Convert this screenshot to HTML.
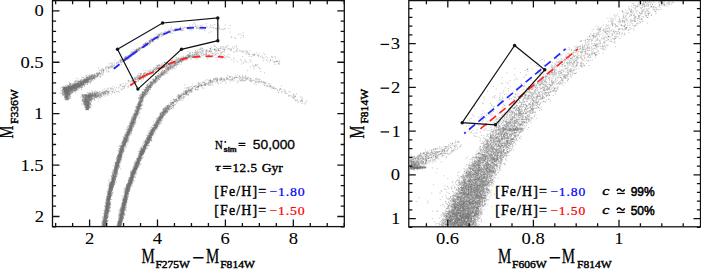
<!DOCTYPE html>
<html><head><meta charset="utf-8"><style>
html,body{margin:0;padding:0;background:#fff;width:701px;height:269px;overflow:hidden;font-family:"Liberation Serif",serif;}
svg{display:block}
</style></head><body>
<svg width="701" height="269" viewBox="0 0 701 269">
<rect width="701" height="269" fill="#fff"/>
<g transform="scale(0.1)">
<path d="M6386 18h10M6432 15h10M6472 16h10M6491 17h10M6492 22h10M6683 17h10M6579 27h10M6609 31h10M6629 27h10M6544 43h10M6643 41h10M6675 36h10M6417 47h10M6590 46h10M6637 53h10M6365 58h10M6507 63h10M6593 56h10M6325 71h10M6350 73h10M6358 68h10M6366 66h10M6440 67h10M6524 72h10M6283 83h10M6405 89h10M6436 92h10M6462 88h10M6367 104h10M6303 107h10M6305 107h10M6363 111h10M6223 116h10M6306 116h10M6414 119h10M6552 117h10M6236 128h10M6486 134h10M6172 143h10M6233 144h10M6268 136h10M6397 136h10M6510 149h10M6343 163h10M6454 155h10M6178 168h10M6277 174h10M6430 170h10M6462 171h10M6471 175h10M6104 178h10M6229 180h10M6475 175h10M6415 192h10M6417 185h10M6189 195h10M6260 198h10M6222 208h10M6347 213h10M6175 217h10M6243 224h10M6121 230h10M6239 229h10M6364 234h10M6468 232h10M1944 239h10M2142 245h10M6296 240h10M6058 248h10M6210 253h10M6323 252h10M6348 251h10M2183 258h10M6224 259h10M6237 263h10M6239 264h10M1708 270h10M1834 270h10M1930 274h10M6150 265h10M6260 274h10M1793 282h10M1831 281h10M1865 278h10M1875 280h10M1959 281h10M2114 279h10M2147 284h10M6250 279h10M6259 276h10M6266 278h10M1796 293h10M1875 286h10M1921 291h10M1991 293h10M2010 289h10M2021 287h10M2184 288h10M2225 293h10M2247 288h10M2283 287h10M5931 293h10M6060 288h10M6178 291h10M6214 289h10M1706 298h10M1796 300h10M1813 303h10M1901 296h10M2161 300h10M2225 298h10M6125 296h10M1641 313h10M1805 305h10M1813 307h10M2038 305h10M6079 310h10M6108 308h10M1671 320h10M6094 319h10M1632 333h10M1656 332h10M1613 340h10M1630 336h10M6135 338h10M6217 337h10M1617 346h10M2379 346h10M5929 356h10M5933 358h10M6052 362h10M1585 366h10M2307 367h10M2428 370h10M5890 365h10M5891 365h10M6076 365h10M6077 366h10M6078 373h10M6162 370h10M1531 383h10M1543 377h10M5930 380h10M6143 385h10M6186 382h10M1531 386h10M1576 389h10M6077 394h10M6140 394h10M1499 399h10M1529 400h10M5808 403h10M5909 399h10M1498 414h10M1501 410h10M1506 412h10M5948 412h10M6036 413h10M1474 424h10M1505 417h10M1450 434h10M1450 433h10M1456 433h10M1485 429h10M1497 435h10M5852 433h10M6042 434h10M1444 443h10M1446 443h10M5879 440h10M5913 439h10M5939 438h10M1439 448h10M1441 461h10M5836 462h10M5934 457h10M5950 458h10M6016 462h10M5782 471h10M5823 473h10M1387 482h10M1412 478h10M2018 483h10M2104 484h10M2195 485h10M2222 480h10M5768 479h10M5799 482h10M6017 484h10M2102 485h10M2125 494h10M2172 486h10M2227 491h10M2243 492h10M2308 490h10M5829 489h10M5848 490h10M5851 493h10M6027 489h10M6032 494h10M1351 498h10M1360 495h10M1367 497h10M1380 499h10M2094 498h10M2142 499h10M2157 499h10M2181 503h10M2298 501h10M2312 504h10M5819 498h10M5906 502h10M1346 505h10M1363 509h10M1371 508h10M1993 513h10M2048 509h10M2087 513h10M2156 513h10M2190 505h10M2434 512h10M5823 515h10M5966 512h10M1339 516h10M1341 518h10M1356 518h10M1979 524h10M2100 520h10M2112 517h10M2170 522h10M2205 522h10M2240 519h10M5813 518h10M1892 530h10M1967 532h10M2006 534h10M2124 534h10M2423 527h10M2477 528h10M5731 529h10M5816 530h10M5926 535h10M6025 532h10M1334 538h10M1896 535h10M1954 537h10M1980 542h10M2026 538h10M2044 541h10M2533 538h10M5683 537h10M5847 535h10M5861 539h10M1297 551h10M1306 548h10M1331 546h10M1344 546h10M1869 551h10M1884 547h10M1907 552h10M1918 548h10M1928 550h10M1945 547h10M2010 549h10M2085 551h10M2085 554h10M2086 545h10M2205 546h10M2233 550h10M2525 550h10M2579 551h10M5655 550h10M5731 550h10M5796 553h10M5836 554h10M5884 547h10M5917 549h10M5956 550h10M1830 561h10M1864 556h10M1881 560h10M2194 558h10M2617 560h10M5738 565h10M5754 559h10M5834 560h10M5875 563h10M1248 574h10M1288 572h10M1851 565h10M1856 573h10M1879 569h10M1885 570h10M1896 571h10M1926 573h10M2216 574h10M2422 565h10M2656 568h10M5762 568h10M5772 567h10M5806 569h10M5949 574h10M1242 584h10M1242 578h10M1247 583h10M1785 578h10M1810 583h10M1834 584h10M1838 576h10M1850 579h10M1854 577h10M1911 582h10M2671 576h10M5707 584h10M5715 580h10M5776 581h10M5808 582h10M1253 587h10M1266 593h10M1766 593h10M1831 586h10M1831 590h10M2203 588h10M5415 595h10M5708 588h10M5760 592h10M5814 585h10M1223 599h10M1225 599h10M1247 604h10M1771 603h10M1805 596h10M1823 602h10M1827 596h10M2494 597h10M2674 602h10M2700 602h10M5764 597h10M5823 605h10M1742 611h10M1749 613h10M1779 614h10M1787 614h10M1787 611h10M1803 606h10M2754 610h10M5396 608h10M5584 610h10M5697 607h10M5709 615h10M1643 624h10M1730 618h10M1777 617h10M1781 616h10M1782 619h10M2475 623h10M2688 619h10M2773 617h10M1101 633h10M1181 625h10M1199 626h10M1680 635h10M1713 631h10M1760 628h10M1810 626h10M2435 626h10M5519 626h10M5574 627h10M5668 629h10M1122 641h10M1703 640h10M1742 642h10M1752 639h10M1768 644h10M2785 643h10M5614 644h10M5667 636h10M1106 654h10M1611 655h10M1688 647h10M1694 655h10M1732 653h10M1737 647h10M2522 653h10M2569 649h10M2744 646h10M5760 650h10M5814 652h10M1570 659h10M1629 662h10M1644 661h10M1661 658h10M1730 656h10M5375 665h10M5518 660h10M5812 662h10M5839 660h10M1095 671h10M1561 675h10M1684 674h10M1686 674h10M1691 668h10M1701 673h10M1721 672h10M1727 672h10M5509 667h10M5535 673h10M5551 670h10M1051 680h10M1053 675h10M1548 684h10M1560 684h10M1565 680h10M1575 685h10M1586 681h10M1593 684h10M1618 683h10M1670 680h10M1676 685h10M1685 680h10M1685 682h10M1701 682h10M5783 683h10M1563 693h10M1577 688h10M1594 693h10M1660 693h10M1701 687h10M2535 688h10M5268 694h10M1028 699h10M1031 705h10M1432 702h10M1505 703h10M1559 695h10M1582 705h10M5525 696h10M5691 698h10M5700 699h10M5735 699h10M1453 706h10M1646 712h10M1661 708h10M5436 709h10M5495 714h10M5592 713h10M5692 710h10M5704 710h10M1496 724h10M1553 719h10M1646 720h10M5274 717h10M5513 722h10M5543 723h10M981 734h10M992 729h10M1438 732h10M1457 732h10M1528 727h10M1623 728h10M1630 733h10M1664 733h10M5066 729h10M5395 735h10M5426 725h10M5562 726h10M5595 734h10M5602 734h10M5612 730h10M5684 734h10M966 735h10M989 741h10M999 741h10M1404 740h10M1587 745h10M1601 741h10M5433 739h10M5583 738h10M863 753h10M916 747h10M944 752h10M946 752h10M1002 751h10M1458 751h10M1464 752h10M1467 755h10M1587 750h10M1605 747h10M1606 754h10M1615 750h10M1622 748h10M2420 751h10M5496 747h10M5661 754h10M5664 752h10M5668 746h10M868 763h10M882 760h10M914 759h10M923 759h10M925 759h10M949 756h10M967 758h10M1376 760h10M1383 756h10M1423 756h10M1578 759h10M1597 757h10M1603 756h10M2307 764h10M2386 762h10M2450 764h10M2453 756h10M5430 761h10M5463 765h10M5580 762h10M5644 758h10M896 771h10M928 770h10M951 771h10M1399 770h10M1424 766h10M1435 767h10M1504 771h10M1550 766h10M1560 768h10M2358 772h10M2358 774h10M2446 771h10M5015 775h10M5235 773h10M5455 770h10M5574 772h10M5656 770h10M757 783h10M856 776h10M865 779h10M870 783h10M890 779h10M917 782h10M927 777h10M1346 781h10M1401 775h10M1578 784h10M2152 781h10M2325 781h10M2445 785h10M2448 779h10M2458 780h10M2483 776h10M2555 783h10M5414 779h10M5637 782h10M874 788h10M881 787h10M885 790h10M887 790h10M906 790h10M936 789h10M1346 789h10M1523 792h10M1557 787h10M1571 788h10M2211 793h10M2266 789h10M2267 792h10M2283 795h10M2321 792h10M5396 790h10M5427 790h10M5453 786h10M834 795h10M841 803h10M842 802h10M844 805h10M845 797h10M864 797h10M867 796h10M874 797h10M1366 796h10M1515 801h10M1548 795h10M1551 801h10M1554 802h10M1562 801h10M1581 797h10M2130 797h10M2134 799h10M2156 795h10M2192 801h10M2214 798h10M2243 799h10M2345 800h10M2395 801h10M2416 800h10M2419 800h10M2449 805h10M2495 803h10M2497 796h10M2510 804h10M2521 804h10M2592 795h10M5141 800h10M5446 800h10M5614 797h10M751 814h10M785 814h10M798 808h10M821 814h10M845 814h10M851 814h10M852 814h10M853 805h10M861 807h10M899 810h10M904 815h10M1304 814h10M1526 808h10M1528 810h10M1540 808h10M1545 811h10M1565 805h10M2105 805h10M2125 810h10M2141 809h10M2166 810h10M2370 811h10M2430 808h10M5605 806h10M744 820h10M783 818h10M790 824h10M800 823h10M820 822h10M822 822h10M823 817h10M826 817h10M829 819h10M830 817h10M840 820h10M843 820h10M846 822h10M854 820h10M856 816h10M865 820h10M868 820h10M868 817h10M882 822h10M1499 821h10M1523 821h10M1536 817h10M1545 823h10M1564 816h10M2025 822h10M2039 821h10M2103 817h10M2103 824h10M2110 818h10M2120 823h10M2551 824h10M2557 816h10M2570 821h10M2582 816h10M2585 822h10M5460 821h10M744 830h10M765 833h10M770 831h10M774 827h10M797 835h10M809 827h10M811 832h10M838 825h10M873 829h10M1523 834h10M1542 828h10M1550 833h10M1978 827h10M2100 830h10M5371 832h10M5382 832h10M5430 827h10M5546 825h10M5647 830h10M690 845h10M692 841h10M700 839h10M733 842h10M765 840h10M766 837h10M768 845h10M773 844h10M777 843h10M780 845h10M782 837h10M792 837h10M795 837h10M799 837h10M799 840h10M800 837h10M801 838h10M804 845h10M808 840h10M813 836h10M820 835h10M822 837h10M826 835h10M828 838h10M832 835h10M834 837h10M869 845h10M1508 841h10M1512 835h10M1535 836h10M2538 840h10M5328 841h10M5438 838h10M5485 842h10M5566 842h10M5593 844h10M651 853h10M676 851h10M716 849h10M725 854h10M729 854h10M733 854h10M743 852h10M744 847h10M749 848h10M754 851h10M756 853h10M759 849h10M764 850h10M764 855h10M787 852h10M792 851h10M800 845h10M808 853h10M817 850h10M818 853h10M821 851h10M825 854h10M1203 853h10M1496 847h10M1500 847h10M1844 849h10M2003 848h10M2013 849h10M2024 854h10M2038 851h10M2042 846h10M2124 850h10M5339 849h10M5432 847h10M5451 851h10M5489 845h10M5496 845h10M5626 853h10M677 856h10M681 863h10M683 857h10M703 857h10M705 858h10M707 859h10M707 864h10M714 862h10M721 861h10M723 861h10M725 857h10M735 863h10M741 864h10M743 861h10M743 865h10M744 863h10M744 863h10M746 858h10M756 861h10M762 863h10M767 858h10M779 861h10M780 860h10M787 856h10M788 861h10M791 861h10M795 862h10M800 859h10M841 861h10M1241 860h10M1459 856h10M1465 862h10M1483 863h10M1498 859h10M1511 855h10M1909 865h10M1942 863h10M1987 861h10M2638 855h10M2665 864h10M5240 857h10M612 872h10M637 874h10M643 871h10M680 867h10M681 868h10M681 871h10M684 869h10M687 872h10M691 875h10M704 868h10M720 871h10M720 869h10M721 868h10M725 870h10M729 873h10M729 872h10M737 874h10M740 866h10M746 870h10M748 866h10M750 870h10M751 871h10M753 870h10M784 869h10M808 868h10M816 871h10M1184 870h10M1278 871h10M1464 868h10M1473 874h10M1488 871h10M1500 873h10M1933 866h10M1955 871h10M1974 868h10M1975 866h10M1978 869h10M2693 869h10M2725 871h10M5351 873h10M5472 873h10M620 880h10M635 882h10M646 876h10M653 878h10M659 879h10M661 879h10M671 876h10M677 876h10M678 882h10M682 885h10M686 880h10M688 877h10M689 876h10M697 884h10M698 881h10M702 878h10M704 884h10M708 881h10M709 878h10M724 879h10M724 876h10M746 885h10M748 878h10M752 879h10M761 880h10M788 880h10M793 883h10M817 876h10M1143 878h10M1487 879h10M1875 876h10M1927 880h10M1979 880h10M2036 881h10M2730 879h10M5266 883h10M5330 881h10M5359 885h10M5437 884h10M5565 881h10M630 892h10M641 893h10M650 889h10M652 894h10M655 893h10M658 892h10M660 895h10M665 886h10M665 892h10M676 892h10M677 890h10M682 890h10M683 894h10M689 892h10M697 890h10M707 890h10M709 887h10M715 885h10M718 890h10M729 891h10M733 887h10M736 889h10M739 887h10M743 886h10M758 892h10M764 885h10M774 888h10M809 893h10M1114 887h10M1205 888h10M1444 890h10M1455 894h10M1459 893h10M1466 888h10M1479 885h10M1499 887h10M2765 893h10M5396 891h10M5464 892h10M633 904h10M639 904h10M644 895h10M652 898h10M653 901h10M668 903h10M678 905h10M679 902h10M682 896h10M684 895h10M684 898h10M692 898h10M704 896h10M718 904h10M736 902h10M741 899h10M751 899h10M753 902h10M759 904h10M1216 895h10M1426 897h10M1437 897h10M1453 899h10M1477 898h10M1484 898h10M1495 900h10M1879 896h10M1882 896h10M1898 904h10M1906 900h10M1974 896h10M2803 897h10M5425 900h10M5430 902h10M5499 898h10M632 911h10M635 915h10M640 912h10M640 909h10M642 913h10M648 912h10M653 909h10M655 912h10M657 910h10M659 909h10M659 910h10M662 913h10M672 909h10M677 908h10M679 906h10M684 913h10M685 907h10M686 911h10M699 908h10M702 909h10M715 905h10M718 906h10M723 914h10M742 909h10M752 912h10M1043 915h10M1045 913h10M1180 912h10M1454 905h10M1470 911h10M1471 914h10M1872 912h10M1893 908h10M2843 914h10M5133 914h10M5295 910h10M5337 909h10M5341 910h10M5346 912h10M5367 908h10M5376 913h10M5443 909h10M5527 908h10M5528 910h10M5543 907h10M5556 909h10M628 918h10M642 918h10M651 920h10M652 920h10M655 917h10M657 915h10M659 917h10M663 923h10M666 922h10M667 920h10M667 917h10M669 915h10M671 921h10M671 922h10M674 920h10M944 917h10M975 923h10M1069 915h10M1079 919h10M1083 917h10M1119 924h10M1421 920h10M1455 917h10M1460 923h10M1479 918h10M1836 919h10M1853 916h10M1860 924h10M1906 921h10M2885 916h10M5254 918h10M5333 924h10M5394 921h10M5424 920h10M5483 924h10M617 930h10M638 927h10M645 925h10M656 930h10M662 933h10M662 931h10M675 928h10M678 932h10M679 934h10M681 931h10M681 934h10M686 927h10M696 931h10M750 928h10M906 930h10M957 929h10M963 934h10M965 933h10M1016 926h10M1022 925h10M1032 929h10M1038 928h10M1046 930h10M1075 929h10M1076 928h10M1431 929h10M1439 928h10M1454 927h10M1455 929h10M1852 925h10M2865 933h10M5299 930h10M5388 926h10M635 938h10M646 938h10M648 937h10M655 938h10M672 943h10M673 935h10M676 938h10M685 945h10M687 936h10M712 937h10M896 940h10M897 942h10M899 940h10M915 939h10M965 942h10M984 940h10M1407 938h10M1422 938h10M1428 944h10M1826 941h10M5149 936h10M5414 944h10M5437 941h10M5445 944h10M659 945h10M661 951h10M670 949h10M814 945h10M818 947h10M840 952h10M861 950h10M863 953h10M863 950h10M882 953h10M885 952h10M887 946h10M891 952h10M901 951h10M914 954h10M915 945h10M968 951h10M995 950h10M1421 953h10M1435 954h10M1436 949h10M1451 953h10M1780 953h10M1790 952h10M1804 949h10M1807 954h10M1876 947h10M2886 951h10M5150 946h10M5226 947h10M5242 946h10M5250 953h10M5373 953h10M5387 952h10M5463 950h10M619 958h10M666 959h10M674 961h10M676 960h10M827 962h10M835 958h10M844 958h10M855 959h10M856 960h10M864 957h10M870 959h10M880 963h10M895 960h10M895 964h10M902 959h10M925 957h10M926 962h10M926 962h10M963 955h10M965 955h10M968 962h10M970 961h10M980 960h10M983 960h10M1006 959h10M1045 961h10M1395 955h10M1416 963h10M1424 962h10M1764 963h10M1800 960h10M5195 963h10M5217 958h10M5279 956h10M5422 958h10M647 974h10M651 969h10M655 966h10M656 975h10M658 968h10M660 968h10M662 972h10M666 975h10M669 967h10M671 966h10M673 968h10M677 972h10M683 971h10M686 974h10M839 971h10M850 966h10M851 971h10M854 971h10M858 973h10M864 967h10M881 974h10M891 969h10M893 969h10M893 973h10M899 965h10M907 967h10M941 965h10M948 972h10M960 974h10M989 966h10M1005 971h10M1413 966h10M1416 970h10M1416 967h10M1418 972h10M1420 968h10M1435 972h10M1787 973h10M1787 966h10M1788 969h10M1789 966h10M1803 968h10M1805 965h10M1823 972h10M1835 968h10M2936 969h10M5142 970h10M5365 969h10M648 977h10M652 979h10M659 983h10M660 981h10M691 983h10M702 979h10M834 978h10M858 977h10M874 980h10M880 983h10M903 981h10M912 982h10M937 984h10M951 977h10M1402 979h10M1404 976h10M1407 982h10M1424 978h10M1428 975h10M1779 976h10M1785 984h10M1786 977h10M1795 978h10M2934 981h10M4943 980h10M5272 979h10M5338 976h10M5369 979h10M5416 979h10M5417 979h10M5424 975h10M5425 984h10M638 988h10M664 992h10M672 988h10M821 991h10M839 987h10M857 992h10M862 987h10M865 992h10M874 993h10M878 990h10M880 985h10M894 994h10M925 985h10M1385 990h10M1403 994h10M1414 992h10M3017 990h10M5233 990h10M5358 994h10M5398 988h10M818 999h10M851 999h10M863 1001h10M939 1000h10M1393 1004h10M1396 1001h10M1406 998h10M1407 1003h10M1421 1002h10M1726 996h10M1760 1002h10M1763 1002h10M1823 1002h10M3010 1001h10M5015 999h10M5266 1000h10M5396 997h10M856 1012h10M856 1013h10M856 1009h10M877 1014h10M905 1007h10M1390 1008h10M1392 1015h10M1395 1013h10M1398 1009h10M1403 1012h10M1409 1014h10M1427 1005h10M1749 1012h10M5139 1014h10M5324 1007h10M5328 1011h10M5357 1015h10M5499 1012h10M838 1017h10M845 1018h10M854 1023h10M862 1021h10M873 1016h10M899 1021h10M910 1017h10M1397 1022h10M1416 1024h10M1736 1015h10M1759 1021h10M2974 1023h10M3018 1016h10M5242 1016h10M5298 1022h10M5362 1019h10M5423 1019h10M838 1028h10M846 1033h10M847 1026h10M848 1030h10M854 1032h10M864 1029h10M864 1032h10M867 1033h10M871 1028h10M872 1033h10M875 1035h10M884 1030h10M900 1035h10M1385 1035h10M1392 1034h10M1398 1032h10M1401 1027h10M1710 1027h10M4822 1028h10M5321 1026h10M5354 1028h10M851 1044h10M853 1038h10M868 1042h10M875 1040h10M882 1044h10M899 1039h10M1379 1042h10M1682 1042h10M1701 1043h10M3038 1040h10M5136 1042h10M5210 1043h10M5318 1038h10M858 1054h10M859 1053h10M862 1055h10M869 1047h10M871 1053h10M872 1050h10M874 1055h10M876 1048h10M1387 1051h10M1390 1052h10M1392 1046h10M1401 1048h10M1412 1052h10M1414 1054h10M1730 1053h10M5208 1053h10M5253 1051h10M5317 1046h10M5328 1047h10M5357 1053h10M852 1065h10M870 1061h10M874 1059h10M881 1061h10M885 1061h10M890 1058h10M1365 1061h10M1382 1059h10M1384 1063h10M1390 1064h10M1399 1058h10M1402 1061h10M1667 1063h10M1680 1057h10M1687 1056h10M1706 1062h10M1722 1056h10M1723 1055h10M1728 1063h10M4741 1061h10M4969 1057h10M5159 1060h10M5225 1059h10M5230 1065h10M5262 1055h10M5264 1064h10M854 1072h10M856 1074h10M860 1066h10M861 1070h10M884 1070h10M1352 1066h10M1389 1071h10M1649 1070h10M1655 1067h10M1672 1067h10M1673 1070h10M5144 1066h10M5196 1069h10M5214 1066h10M5299 1069h10M5378 1070h10M859 1082h10M863 1075h10M864 1079h10M868 1081h10M877 1079h10M1368 1076h10M1387 1078h10M1398 1077h10M1642 1079h10M1704 1083h10M1710 1085h10M5142 1078h10M5164 1082h10M5177 1078h10M5313 1085h10M5335 1083h10M5380 1076h10M5384 1081h10M870 1086h10M1364 1087h10M1369 1095h10M1382 1089h10M1384 1086h10M1632 1091h10M1653 1087h10M1689 1093h10M1690 1088h10M5091 1088h10M5136 1085h10M5155 1094h10M5159 1089h10M854 1096h10M1371 1104h10M1374 1101h10M1374 1097h10M1646 1104h10M1661 1096h10M1661 1099h10M5146 1097h10M5170 1102h10M5208 1097h10M5321 1097h10M1356 1109h10M1358 1110h10M1367 1109h10M1645 1110h10M1647 1106h10M1652 1115h10M1659 1113h10M1669 1107h10M5073 1112h10M5105 1107h10M5150 1108h10M5192 1112h10M5201 1115h10M5240 1109h10M5283 1114h10M5304 1106h10M5307 1110h10M5322 1109h10M1361 1116h10M1369 1119h10M1375 1120h10M1628 1120h10M1662 1118h10M5002 1116h10M5186 1120h10M5206 1119h10M5259 1125h10M5268 1123h10M5302 1118h10M1341 1126h10M1356 1130h10M1361 1129h10M1363 1127h10M1374 1131h10M1597 1133h10M1605 1133h10M1653 1134h10M4839 1132h10M4914 1133h10M5045 1133h10M5084 1126h10M5108 1127h10M5116 1132h10M5182 1132h10M5184 1133h10M5197 1128h10M5229 1130h10M5255 1130h10M1342 1140h10M1350 1145h10M1352 1144h10M1355 1144h10M1363 1139h10M1364 1136h10M1365 1136h10M1377 1137h10M1617 1141h10M1627 1142h10M1636 1143h10M5023 1141h10M5138 1142h10M5169 1143h10M5212 1137h10M5257 1139h10M1336 1154h10M1338 1154h10M1343 1153h10M1343 1145h10M1350 1150h10M1599 1154h10M1619 1151h10M1633 1152h10M1641 1149h10M5213 1147h10M5291 1150h10M1348 1155h10M1355 1159h10M1608 1163h10M1611 1162h10M1621 1160h10M5019 1160h10M5140 1155h10M5164 1162h10M5337 1162h10M5340 1160h10M1329 1174h10M1330 1175h10M1352 1171h10M1354 1174h10M1587 1170h10M1595 1170h10M1599 1174h10M1605 1170h10M1617 1170h10M5024 1169h10M5121 1172h10M5141 1172h10M5220 1165h10M5231 1172h10M5248 1169h10M5262 1174h10M5277 1168h10M1317 1180h10M1344 1177h10M1351 1176h10M1387 1175h10M1590 1176h10M1591 1176h10M4991 1178h10M5039 1178h10M5059 1176h10M5064 1178h10M5265 1178h10M5324 1183h10M1318 1189h10M1322 1194h10M1327 1195h10M1329 1194h10M1333 1189h10M1333 1191h10M1337 1194h10M1345 1189h10M1345 1189h10M1347 1190h10M1559 1194h10M1590 1194h10M1598 1186h10M1605 1191h10M1609 1189h10M4962 1186h10M5106 1187h10M5125 1191h10M5161 1192h10M5179 1194h10M5210 1194h10M5223 1194h10M5224 1192h10M1320 1200h10M1335 1200h10M1337 1202h10M1345 1196h10M1350 1203h10M1590 1196h10M1598 1201h10M1615 1201h10M4989 1202h10M4997 1199h10M5039 1198h10M5059 1201h10M5084 1202h10M5148 1202h10M5235 1195h10M1313 1207h10M1313 1210h10M1323 1213h10M1324 1208h10M1333 1213h10M1335 1210h10M1355 1208h10M1558 1206h10M1565 1210h10M1570 1209h10M1574 1207h10M1575 1214h10M1580 1209h10M1595 1206h10M5138 1205h10M5145 1209h10M5147 1214h10M5154 1205h10M5156 1208h10M5169 1212h10M5240 1213h10M5252 1213h10M1306 1222h10M1325 1221h10M1349 1217h10M1566 1221h10M1577 1219h10M1592 1215h10M1594 1220h10M4866 1216h10M4933 1223h10M4967 1219h10M4980 1221h10M4988 1219h10M4989 1217h10M4995 1218h10M4995 1224h10M5057 1218h10M5118 1216h10M5118 1222h10M5164 1219h10M5169 1223h10M5175 1216h10M5193 1218h10M5219 1219h10M5231 1218h10M1299 1232h10M1333 1230h10M1343 1229h10M1540 1233h10M1553 1234h10M1558 1226h10M1584 1230h10M1610 1234h10M4946 1229h10M5026 1225h10M5064 1235h10M5143 1225h10M5184 1233h10M5264 1228h10M1289 1238h10M1300 1241h10M1300 1245h10M1313 1243h10M1314 1238h10M1319 1239h10M1552 1239h10M1552 1245h10M1571 1238h10M1582 1240h10M5009 1241h10M5029 1240h10M5071 1244h10M5096 1237h10M5211 1237h10M5214 1241h10M5228 1241h10M1288 1254h10M1300 1255h10M1309 1252h10M1312 1246h10M1562 1253h10M4821 1247h10M4981 1251h10M5062 1250h10M5108 1252h10M5189 1245h10M5227 1250h10M1291 1260h10M1305 1257h10M1307 1265h10M1308 1262h10M1310 1257h10M1313 1258h10M1320 1261h10M1540 1255h10M1540 1261h10M1547 1262h10M1549 1255h10M1552 1263h10M1562 1262h10M1568 1258h10M1574 1264h10M4857 1260h10M4859 1257h10M4959 1260h10M4992 1261h10M5073 1260h10M5123 1259h10M1294 1269h10M1303 1270h10M1305 1266h10M1323 1270h10M1326 1270h10M1538 1271h10M1560 1268h10M4987 1273h10M4988 1266h10M5045 1268h10M5111 1271h10M5122 1274h10M1291 1278h10M1310 1280h10M1315 1282h10M1517 1277h10M1530 1284h10M1533 1280h10M1536 1277h10M1540 1285h10M1570 1278h10M4998 1277h10M5037 1282h10M5052 1280h10M5091 1281h10M5164 1281h10M5170 1282h10M5173 1275h10M5200 1285h10M5234 1283h10M5235 1284h10M1279 1289h10M1289 1289h10M1301 1291h10M1309 1290h10M1310 1293h10M1529 1285h10M1534 1290h10M1534 1286h10M4909 1294h10M4999 1292h10M5002 1286h10M5033 1289h10M5043 1288h10M5051 1289h10M5052 1291h10M5060 1293h10M5086 1288h10M5096 1287h10M5101 1291h10M5151 1288h10M5190 1294h10M1288 1305h10M1291 1301h10M1295 1299h10M1306 1296h10M1310 1300h10M1500 1299h10M1517 1304h10M1518 1295h10M1520 1301h10M1536 1301h10M4769 1299h10M4837 1301h10M4953 1299h10M4972 1299h10M5021 1298h10M5051 1299h10M5077 1303h10M5093 1300h10M5100 1297h10M5108 1304h10M5134 1305h10M5146 1298h10M5153 1305h10M5174 1302h10M5200 1301h10M5206 1296h10M1269 1311h10M1279 1313h10M1285 1311h10M1286 1306h10M1289 1310h10M1290 1309h10M1311 1305h10M1513 1313h10M1515 1313h10M1519 1313h10M1519 1312h10M1520 1308h10M1524 1309h10M1538 1313h10M5083 1307h10M5092 1307h10M1257 1318h10M1259 1325h10M1266 1324h10M1281 1323h10M1284 1315h10M1288 1323h10M1509 1322h10M1520 1318h10M1545 1316h10M4905 1321h10M5001 1319h10M5002 1318h10M5053 1322h10M5137 1320h10M1252 1332h10M1265 1334h10M1271 1325h10M1273 1326h10M1275 1327h10M1289 1329h10M1295 1327h10M1305 1329h10M1488 1327h10M1529 1335h10M4978 1326h10M4989 1326h10M5063 1335h10M5128 1332h10M5149 1326h10M5153 1326h10M1267 1340h10M1272 1343h10M1276 1342h10M1281 1343h10M1285 1339h10M1290 1336h10M1486 1339h10M1493 1344h10M1497 1343h10M1499 1344h10M1502 1339h10M1508 1343h10M1509 1343h10M1510 1338h10M1535 1336h10M4926 1339h10M4999 1338h10M5015 1336h10M5037 1342h10M5063 1337h10M5065 1336h10M5127 1336h10M5139 1336h10M1259 1347h10M1267 1348h10M1509 1347h10M4956 1346h10M4995 1355h10M5032 1351h10M5052 1352h10M5056 1347h10M5129 1347h10M1259 1362h10M1261 1365h10M1261 1356h10M1264 1362h10M1268 1365h10M1269 1361h10M1499 1364h10M1501 1360h10M1505 1357h10M1508 1359h10M4757 1364h10M4905 1359h10M4951 1359h10M5031 1359h10M5036 1364h10M1262 1367h10M1271 1370h10M1481 1369h10M1488 1368h10M1493 1374h10M1499 1366h10M4782 1372h10M4878 1366h10M5032 1370h10M5033 1370h10M5064 1368h10M5134 1375h10M1239 1377h10M1240 1382h10M1253 1381h10M1255 1377h10M1259 1382h10M1266 1381h10M1464 1378h10M1469 1379h10M1472 1383h10M1493 1375h10M1495 1379h10M1507 1377h10M4833 1376h10M4904 1377h10M4955 1381h10M4992 1383h10M5057 1381h10M5135 1377h10M1241 1387h10M1249 1390h10M1265 1386h10M1276 1391h10M1488 1390h10M1489 1394h10M1495 1391h10M1513 1393h10M4899 1390h10M4958 1385h10M5010 1388h10M5021 1392h10M5041 1394h10M5064 1386h10M5123 1393h10M5127 1390h10M1233 1403h10M1235 1401h10M1239 1403h10M1247 1396h10M1247 1404h10M1253 1401h10M1266 1403h10M1477 1400h10M1487 1397h10M1494 1397h10M1503 1395h10M4869 1399h10M4941 1396h10M4983 1399h10M4984 1398h10M4985 1403h10M5016 1399h10M5079 1405h10M5103 1400h10M5150 1401h10M1219 1414h10M1231 1410h10M1237 1405h10M1239 1414h10M1490 1405h10M1504 1405h10M1512 1414h10M4795 1409h10M4854 1406h10M4856 1409h10M4902 1406h10M4902 1407h10M4986 1410h10M4992 1410h10M4997 1410h10M5020 1410h10M5045 1413h10M5063 1407h10M5065 1405h10M5065 1408h10M5107 1411h10M5110 1409h10M5121 1412h10M1222 1419h10M1235 1416h10M1238 1422h10M1240 1423h10M1450 1417h10M1453 1421h10M1462 1420h10M1464 1418h10M1467 1423h10M1472 1415h10M1480 1418h10M1484 1422h10M4546 1424h10M4573 1421h10M4886 1422h10M4915 1420h10M5135 1424h10M1209 1427h10M1222 1428h10M1223 1430h10M1226 1429h10M1233 1431h10M1236 1427h10M1241 1427h10M1245 1426h10M1247 1435h10M1253 1431h10M1264 1425h10M1459 1427h10M1462 1433h10M1465 1431h10M1465 1427h10M1467 1430h10M1469 1428h10M1472 1432h10M1473 1432h10M1475 1426h10M4522 1433h10M4901 1432h10M5014 1427h10M5015 1434h10M5061 1430h10M5147 1433h10M1217 1438h10M1224 1441h10M1225 1445h10M1228 1443h10M1232 1444h10M1233 1439h10M1238 1437h10M1240 1435h10M1246 1442h10M1249 1435h10M1251 1444h10M1273 1442h10M1445 1438h10M1449 1439h10M1451 1444h10M1454 1437h10M1455 1437h10M1457 1443h10M1458 1439h10M1458 1437h10M1463 1445h10M1463 1435h10M4853 1441h10M4870 1438h10M4875 1439h10M4899 1440h10M4900 1442h10M4967 1436h10M5051 1439h10M5094 1438h10M5113 1437h10M1242 1453h10M1245 1448h10M1254 1451h10M1438 1451h10M1448 1445h10M1448 1450h10M1454 1452h10M4482 1445h10M4547 1451h10M4563 1448h10M4831 1450h10M4855 1448h10M4880 1453h10M4893 1448h10M4976 1446h10M4979 1451h10M4985 1450h10M5058 1454h10M5119 1453h10M1204 1465h10M1207 1458h10M1214 1462h10M1230 1462h10M1235 1459h10M1238 1463h10M1246 1459h10M1247 1463h10M1444 1462h10M1451 1461h10M4538 1460h10M4552 1458h10M4600 1460h10M4796 1464h10M4879 1464h10M4972 1458h10M5070 1465h10M5084 1458h10M1192 1466h10M1211 1469h10M1213 1473h10M1221 1471h10M1224 1471h10M1228 1469h10M1230 1473h10M1234 1467h10M1260 1471h10M1429 1470h10M1435 1471h10M1440 1472h10M1441 1474h10M1448 1470h10M1463 1474h10M4457 1467h10M4545 1471h10M4800 1468h10M4829 1470h10M4868 1466h10M4903 1471h10M4972 1466h10M4978 1465h10M5035 1467h10M1207 1477h10M1217 1484h10M1218 1484h10M1220 1484h10M1221 1478h10M1222 1475h10M1222 1475h10M1223 1478h10M1227 1479h10M1246 1481h10M1407 1482h10M1408 1479h10M4448 1480h10M4788 1481h10M4851 1476h10M4875 1481h10M4905 1477h10M4906 1481h10M4928 1483h10M4933 1484h10M4942 1483h10M5077 1476h10M5088 1484h10M5103 1482h10M5120 1481h10M1186 1486h10M1197 1493h10M1197 1491h10M1207 1493h10M1213 1494h10M1410 1486h10M1414 1493h10M1415 1491h10M1417 1489h10M1423 1491h10M1433 1494h10M1437 1493h10M1443 1485h10M1447 1494h10M4368 1489h10M4377 1486h10M4483 1487h10M4553 1491h10M4832 1492h10M4860 1489h10M4890 1494h10M4945 1487h10M4961 1489h10M4986 1492h10M5032 1494h10M5038 1494h10M1201 1502h10M1203 1495h10M1206 1503h10M1210 1503h10M1221 1503h10M1226 1499h10M1227 1498h10M1413 1502h10M1416 1503h10M1425 1503h10M1425 1498h10M1426 1497h10M1434 1503h10M1436 1497h10M1450 1498h10M4347 1497h10M4422 1501h10M4440 1499h10M4444 1504h10M4469 1503h10M4513 1504h10M4806 1504h10M4829 1502h10M4861 1505h10M4863 1503h10M4895 1497h10M4920 1496h10M4941 1496h10M4950 1505h10M4983 1502h10M5030 1498h10M1189 1512h10M1194 1514h10M1197 1506h10M1203 1509h10M1205 1513h10M1401 1512h10M1401 1507h10M1412 1507h10M1412 1513h10M1421 1508h10M1421 1509h10M1424 1508h10M1426 1507h10M1427 1513h10M1434 1508h10M1434 1510h10M1435 1513h10M1444 1512h10M4824 1514h10M4897 1514h10M4925 1511h10M4961 1511h10M4963 1509h10M4964 1513h10M5032 1507h10M1189 1517h10M1197 1516h10M1202 1519h10M1207 1524h10M1407 1521h10M1417 1521h10M1418 1522h10M1423 1524h10M1433 1515h10M4268 1519h10M4329 1519h10M4370 1523h10M4393 1516h10M4508 1519h10M4799 1517h10M4842 1518h10M4853 1518h10M4869 1521h10M4897 1517h10M4931 1524h10M4942 1517h10M4963 1523h10M4969 1524h10M4977 1524h10M4984 1520h10M5072 1524h10M5073 1516h10M5086 1520h10M1197 1529h10M1199 1529h10M1200 1530h10M1201 1534h10M1396 1535h10M1408 1529h10M1410 1535h10M1412 1533h10M1414 1527h10M1421 1534h10M1422 1525h10M1427 1526h10M1429 1529h10M1431 1534h10M4228 1529h10M4236 1526h10M4401 1534h10M4404 1535h10M4411 1531h10M4780 1531h10M4913 1530h10M4931 1533h10M4952 1532h10M5073 1526h10M1193 1539h10M1216 1538h10M1386 1539h10M1395 1536h10M1403 1543h10M1407 1540h10M1412 1535h10M4226 1542h10M4256 1543h10M4325 1535h10M4482 1542h10M4775 1536h10M4809 1539h10M4822 1542h10M4882 1535h10M4928 1541h10M4948 1544h10M4974 1545h10M4981 1536h10M5047 1537h10M5056 1535h10M1184 1547h10M1186 1551h10M1186 1552h10M1189 1554h10M1200 1546h10M1214 1550h10M1391 1549h10M1395 1550h10M1399 1553h10M1403 1548h10M1406 1545h10M1407 1546h10M1409 1547h10M1410 1551h10M1410 1549h10M1411 1548h10M1417 1550h10M1419 1550h10M1419 1547h10M4211 1553h10M4812 1549h10M4859 1550h10M4885 1548h10M4921 1548h10M4942 1548h10M5003 1546h10M5011 1555h10M5012 1549h10M5022 1551h10M5084 1552h10M1174 1564h10M1181 1557h10M1187 1557h10M1190 1557h10M1204 1559h10M1375 1559h10M1393 1563h10M1402 1559h10M4193 1556h10M4263 1560h10M4267 1558h10M4309 1559h10M4315 1564h10M4365 1557h10M4420 1557h10M4803 1561h10M4822 1558h10M4834 1564h10M4834 1564h10M4891 1556h10M4898 1565h10M4908 1555h10M4916 1556h10M4920 1563h10M4950 1557h10M4956 1559h10M5004 1563h10M5051 1560h10M5057 1558h10M1189 1567h10M1200 1568h10M1207 1570h10M1209 1573h10M1209 1568h10M1389 1570h10M1397 1575h10M1404 1571h10M1431 1571h10M4120 1573h10M4176 1573h10M4363 1568h10M4723 1572h10M4724 1569h10M4817 1571h10M4827 1568h10M4828 1572h10M4854 1569h10M4933 1570h10M1165 1575h10M1173 1579h10M1187 1580h10M1190 1583h10M1190 1581h10M1205 1578h10M1395 1581h10M4099 1582h10M4329 1575h10M4456 1578h10M4759 1582h10M4774 1577h10M4785 1581h10M4788 1580h10M4817 1576h10M4822 1579h10M4846 1579h10M4870 1580h10M4873 1579h10M4911 1576h10M4939 1581h10M4943 1584h10M4969 1576h10M4973 1577h10M1158 1593h10M1160 1586h10M1171 1591h10M1180 1592h10M1191 1595h10M1197 1590h10M1377 1586h10M1386 1587h10M1390 1586h10M1404 1587h10M4101 1593h10M4109 1585h10M4151 1588h10M4171 1586h10M4232 1593h10M4250 1589h10M4788 1589h10M4819 1588h10M4834 1592h10M4854 1589h10M4878 1588h10M4893 1592h10M4904 1592h10M4909 1587h10M4970 1592h10M5053 1587h10M1176 1604h10M1176 1599h10M1186 1601h10M1187 1600h10M1201 1597h10M1366 1597h10M1373 1597h10M1376 1604h10M1382 1600h10M1382 1604h10M1396 1602h10M4105 1599h10M4127 1599h10M4169 1598h10M4181 1601h10M4199 1603h10M4255 1598h10M4260 1602h10M4264 1603h10M4694 1595h10M4799 1601h10M4812 1596h10M4816 1595h10M4841 1603h10M4868 1603h10M4870 1601h10M4918 1597h10M4929 1602h10M4938 1596h10M4960 1599h10M4983 1604h10M5021 1595h10M1191 1615h10M1372 1611h10M1373 1613h10M1385 1609h10M1390 1605h10M4103 1610h10M4120 1614h10M4127 1614h10M4137 1613h10M4164 1607h10M4173 1613h10M4220 1609h10M4260 1611h10M4773 1608h10M4783 1612h10M4787 1612h10M4800 1606h10M4834 1606h10M4844 1613h10M4870 1607h10M4887 1612h10M4893 1606h10M4942 1611h10M4954 1608h10M4958 1611h10M5001 1611h10M5008 1612h10M1153 1622h10M1154 1624h10M1158 1624h10M1168 1618h10M1176 1618h10M1179 1623h10M1182 1616h10M1192 1624h10M1379 1621h10M1381 1619h10M1384 1622h10M4111 1619h10M4139 1625h10M4177 1617h10M4202 1624h10M4209 1617h10M4226 1622h10M4250 1625h10M4692 1621h10M4721 1616h10M4737 1621h10M4750 1619h10M4759 1622h10M4798 1617h10M4825 1621h10M4859 1625h10M4897 1620h10M4905 1619h10M4913 1622h10M4913 1619h10M4954 1620h10M4955 1619h10M4988 1621h10M5003 1624h10M1150 1633h10M1176 1630h10M1178 1633h10M1188 1633h10M1361 1634h10M1362 1634h10M1366 1633h10M1367 1634h10M1368 1633h10M1385 1632h10M4123 1626h10M4127 1633h10M4164 1631h10M4196 1627h10M4255 1634h10M4709 1630h10M4722 1633h10M4746 1635h10M4785 1632h10M4802 1626h10M4818 1625h10M4822 1633h10M4835 1628h10M4857 1628h10M4863 1629h10M4926 1627h10M5014 1633h10M1155 1643h10M1156 1638h10M1159 1638h10M1160 1638h10M1163 1641h10M1166 1643h10M1173 1636h10M1178 1642h10M1347 1635h10M1355 1635h10M1358 1636h10M1359 1637h10M1361 1642h10M1364 1640h10M1369 1640h10M1384 1638h10M4108 1639h10M4111 1645h10M4127 1636h10M4136 1642h10M4137 1636h10M4176 1637h10M4177 1642h10M4186 1640h10M4241 1642h10M4772 1642h10M4772 1644h10M4792 1642h10M4849 1641h10M4854 1636h10M4861 1642h10M4873 1644h10M4875 1639h10M4890 1640h10M4913 1642h10M4936 1640h10M4973 1638h10M5041 1636h10M1158 1651h10M1161 1649h10M1173 1652h10M1182 1653h10M1352 1648h10M1359 1654h10M1362 1646h10M1367 1651h10M1367 1648h10M1368 1646h10M1369 1654h10M1383 1646h10M4115 1654h10M4119 1646h10M4132 1653h10M4137 1648h10M4140 1649h10M4145 1650h10M4145 1654h10M4163 1650h10M4177 1649h10M4183 1646h10M4183 1650h10M4233 1649h10M4740 1655h10M4741 1650h10M4757 1645h10M4790 1654h10M4810 1648h10M4835 1655h10M4859 1653h10M4861 1646h10M4893 1646h10M1148 1662h10M1152 1664h10M1160 1657h10M1170 1660h10M1171 1658h10M1174 1656h10M1175 1665h10M1332 1664h10M1343 1664h10M1345 1660h10M1356 1660h10M1359 1662h10M1381 1659h10M1386 1660h10M4097 1656h10M4110 1664h10M4149 1664h10M4159 1656h10M4722 1662h10M4739 1661h10M4743 1664h10M4751 1665h10M4784 1658h10M4848 1658h10M4862 1661h10M4911 1656h10M4913 1664h10M4956 1664h10M4987 1662h10M1140 1671h10M1145 1674h10M1157 1674h10M1159 1667h10M1161 1672h10M1165 1668h10M1169 1672h10M1330 1666h10M1345 1673h10M1356 1671h10M1358 1665h10M1365 1670h10M4112 1668h10M4125 1674h10M4125 1671h10M4138 1672h10M4141 1671h10M4145 1674h10M4150 1674h10M4155 1671h10M4156 1674h10M4166 1671h10M4173 1669h10M4203 1669h10M4216 1671h10M4222 1670h10M4233 1673h10M4243 1674h10M4252 1673h10M4680 1672h10M4690 1671h10M4755 1672h10M4776 1670h10M4784 1675h10M4791 1674h10M4810 1672h10M4855 1667h10M4876 1673h10M4912 1666h10M4926 1674h10M4972 1674h10M4991 1673h10M1142 1679h10M1161 1682h10M1162 1676h10M1173 1679h10M1332 1683h10M1337 1677h10M1343 1682h10M1347 1677h10M1351 1679h10M1352 1685h10M1368 1679h10M4102 1681h10M4105 1676h10M4111 1683h10M4118 1681h10M4136 1683h10M4138 1681h10M4138 1682h10M4140 1680h10M4143 1676h10M4154 1682h10M4157 1676h10M4158 1680h10M4160 1681h10M4167 1677h10M4171 1680h10M4171 1676h10M4173 1676h10M4185 1683h10M4222 1677h10M4223 1677h10M4319 1679h10M4714 1683h10M4733 1683h10M4738 1682h10M4841 1677h10M4846 1679h10M4868 1676h10M4869 1677h10M4881 1677h10M4886 1683h10M4894 1681h10M4906 1677h10M4908 1676h10M4988 1678h10M1140 1692h10M1154 1686h10M1155 1689h10M1166 1685h10M1338 1694h10M1342 1685h10M1348 1692h10M1354 1692h10M1356 1688h10M1357 1686h10M1361 1694h10M4103 1694h10M4114 1695h10M4126 1690h10M4156 1685h10M4218 1689h10M4700 1690h10M4719 1691h10M4742 1686h10M4752 1691h10M4768 1688h10M4774 1689h10M4779 1692h10M4814 1692h10M4833 1690h10M4847 1688h10M4865 1686h10M4869 1690h10M4908 1688h10M4946 1692h10M4990 1688h10M1139 1695h10M1148 1696h10M1162 1704h10M1171 1704h10M1327 1701h10M1329 1704h10M1341 1700h10M1343 1696h10M1345 1697h10M4115 1696h10M4142 1700h10M4721 1698h10M4769 1697h10M4779 1703h10M4779 1703h10M4787 1704h10M4803 1702h10M4811 1697h10M4813 1703h10M4825 1696h10M4833 1699h10M4856 1701h10M4868 1704h10M4881 1695h10M4897 1695h10M4917 1702h10M4932 1699h10M4969 1699h10M1131 1708h10M1151 1710h10M1152 1710h10M1159 1710h10M1160 1705h10M1161 1706h10M1162 1706h10M1319 1706h10M1332 1712h10M1333 1709h10M1337 1712h10M1338 1711h10M1338 1711h10M1339 1705h10M1361 1706h10M4676 1713h10M4710 1714h10M4730 1714h10M4769 1708h10M4769 1713h10M4772 1706h10M4782 1714h10M4784 1707h10M4785 1706h10M4798 1711h10M4825 1715h10M4858 1709h10M4893 1713h10M4908 1708h10M4910 1707h10M4915 1706h10M4916 1712h10M4926 1713h10M4933 1714h10M1137 1721h10M1142 1716h10M1145 1724h10M1153 1721h10M1161 1722h10M1311 1717h10M1318 1720h10M1335 1722h10M1337 1721h10M1341 1716h10M1346 1718h10M4662 1720h10M4671 1720h10M4682 1715h10M4688 1724h10M4701 1720h10M4719 1723h10M4744 1718h10M4772 1723h10M4784 1724h10M4798 1716h10M4822 1723h10M4836 1717h10M4851 1719h10M4858 1718h10M4858 1722h10M4885 1718h10M4895 1719h10M4904 1722h10M4909 1718h10M4932 1716h10M4951 1720h10M4976 1723h10M1146 1734h10M1150 1728h10M1320 1726h10M1321 1726h10M1326 1734h10M1326 1726h10M1336 1729h10M1337 1729h10M1338 1733h10M1350 1730h10M1351 1727h10M4658 1728h10M4661 1729h10M4690 1727h10M4698 1734h10M4741 1733h10M4771 1730h10M4774 1729h10M4800 1733h10M4902 1728h10M4929 1727h10M1129 1743h10M1142 1738h10M1146 1740h10M1150 1742h10M1160 1742h10M1308 1740h10M1310 1743h10M1318 1735h10M1318 1743h10M1321 1735h10M1324 1745h10M1335 1740h10M1336 1738h10M1338 1742h10M1342 1740h10M1345 1741h10M4633 1737h10M4678 1740h10M4712 1737h10M4714 1742h10M4736 1739h10M4736 1745h10M4745 1743h10M4745 1742h10M4795 1736h10M4809 1741h10M4831 1739h10M4835 1737h10M4841 1738h10M4856 1742h10M4862 1740h10M4871 1740h10M4881 1738h10M4917 1742h10M4941 1741h10M4960 1743h10M1124 1751h10M1130 1747h10M1145 1751h10M1150 1747h10M1166 1750h10M1318 1754h10M1322 1748h10M1325 1752h10M1326 1747h10M1331 1746h10M4662 1750h10M4693 1747h10M4704 1746h10M4705 1754h10M4721 1751h10M4772 1753h10M4778 1748h10M4779 1746h10M4804 1745h10M4829 1745h10M4852 1750h10M4866 1750h10M4870 1750h10M4947 1754h10M1131 1760h10M1133 1762h10M1149 1763h10M1150 1759h10M1165 1762h10M1305 1759h10M1312 1762h10M1317 1757h10M1325 1764h10M1329 1765h10M4657 1755h10M4838 1762h10M4862 1758h10M4911 1761h10M4916 1755h10M1120 1774h10M1133 1768h10M1141 1773h10M1155 1766h10M1159 1771h10M1301 1774h10M1301 1772h10M1314 1771h10M1324 1767h10M1326 1773h10M1326 1768h10M4607 1768h10M4663 1766h10M4668 1771h10M4668 1775h10M4738 1773h10M4752 1770h10M4755 1766h10M4774 1770h10M4796 1766h10M4802 1770h10M4859 1774h10M4891 1768h10M1106 1782h10M1118 1778h10M1121 1785h10M1126 1784h10M1135 1779h10M1301 1784h10M1302 1781h10M1313 1784h10M1315 1777h10M1316 1780h10M1327 1783h10M4591 1785h10M4615 1783h10M4637 1776h10M4669 1775h10M4676 1785h10M4714 1777h10M4718 1776h10M4764 1782h10M4795 1777h10M4810 1784h10M4818 1785h10M4823 1785h10M4831 1776h10M4837 1780h10M4841 1778h10M4851 1784h10M4870 1778h10M4889 1777h10M1120 1792h10M1128 1792h10M1130 1790h10M1131 1786h10M1132 1793h10M1132 1786h10M1136 1786h10M1137 1786h10M1293 1791h10M4700 1786h10M4724 1787h10M4750 1795h10M4770 1790h10M4780 1793h10M4796 1794h10M4828 1788h10M4860 1788h10M4871 1791h10M4908 1793h10M4930 1786h10M1124 1796h10M1129 1805h10M1132 1803h10M1145 1795h10M1285 1805h10M1297 1801h10M1299 1803h10M1301 1802h10M1302 1799h10M1311 1802h10M1318 1802h10M4583 1803h10M4630 1799h10M4636 1803h10M4666 1802h10M4693 1801h10M4698 1799h10M4698 1800h10M4703 1798h10M4718 1803h10M4737 1797h10M4742 1798h10M4755 1804h10M4776 1804h10M4804 1805h10M4862 1804h10M4914 1800h10M4922 1798h10M1082 1807h10M1116 1810h10M1116 1813h10M1139 1808h10M1140 1813h10M1285 1815h10M1289 1813h10M1289 1809h10M1295 1808h10M1300 1813h10M1310 1814h10M1325 1812h10M4524 1813h10M4644 1808h10M4644 1813h10M4672 1807h10M4690 1814h10M4704 1806h10M4707 1813h10M4773 1807h10M4774 1808h10M4778 1810h10M4807 1812h10M4813 1813h10M4821 1811h10M4877 1813h10M1108 1825h10M1127 1817h10M1135 1819h10M1136 1816h10M1280 1821h10M1288 1822h10M1288 1823h10M1294 1824h10M1308 1824h10M4585 1824h10M4592 1823h10M4647 1820h10M4648 1816h10M4675 1815h10M4696 1823h10M4705 1820h10M4727 1825h10M4730 1823h10M4746 1824h10M4749 1825h10M4792 1817h10M4799 1823h10M4828 1822h10M4855 1817h10M4858 1817h10M1087 1831h10M1096 1830h10M1108 1831h10M1114 1833h10M1121 1829h10M1121 1826h10M1126 1834h10M1281 1829h10M4602 1834h10M4604 1832h10M4620 1826h10M4642 1825h10M4693 1830h10M4836 1833h10M4875 1831h10M4887 1830h10M1093 1843h10M1098 1842h10M1108 1845h10M1110 1840h10M1112 1840h10M1114 1845h10M1125 1840h10M1131 1841h10M1134 1835h10M1141 1842h10M1279 1839h10M1281 1843h10M1290 1836h10M1292 1841h10M1301 1838h10M1301 1835h10M1303 1839h10M1309 1841h10M4609 1837h10M4709 1835h10M4711 1840h10M4714 1843h10M4761 1841h10M4773 1841h10M4801 1839h10M4825 1843h10M4832 1841h10M4861 1835h10M4863 1844h10M1075 1851h10M1100 1855h10M1107 1849h10M1107 1855h10M1107 1851h10M1118 1850h10M1118 1851h10M1120 1851h10M1122 1845h10M1122 1852h10M1122 1846h10M1137 1849h10M1262 1850h10M1274 1845h10M1277 1850h10M1285 1845h10M1289 1848h10M1295 1854h10M1298 1851h10M4578 1855h10M4609 1850h10M4634 1850h10M4661 1853h10M4676 1853h10M4754 1851h10M4756 1854h10M4824 1850h10M4843 1847h10M1099 1861h10M1100 1857h10M1104 1860h10M1106 1856h10M1107 1865h10M1117 1862h10M1264 1858h10M1264 1857h10M1265 1863h10M1279 1863h10M4635 1864h10M4647 1859h10M4651 1860h10M4655 1860h10M4676 1856h10M4703 1865h10M4735 1865h10M4740 1857h10M4773 1856h10M4774 1857h10M4794 1855h10M4816 1862h10M4817 1864h10M4822 1860h10M4848 1856h10M4894 1858h10M1101 1869h10M1103 1873h10M1110 1873h10M1267 1868h10M1277 1871h10M1279 1870h10M4612 1869h10M4651 1873h10M4658 1874h10M4679 1872h10M4681 1866h10M4694 1870h10M4706 1871h10M4715 1870h10M4719 1872h10M4739 1865h10M4766 1870h10M4790 1870h10M4814 1873h10M4859 1866h10M1092 1878h10M1093 1882h10M1094 1876h10M1096 1881h10M1097 1882h10M1098 1884h10M1110 1879h10M1111 1883h10M1113 1881h10M1114 1879h10M1114 1877h10M1117 1882h10M1256 1880h10M1266 1876h10M1277 1879h10M1287 1878h10M4608 1876h10M4617 1878h10M4619 1880h10M4622 1881h10M4632 1878h10M4634 1879h10M4636 1881h10M4649 1878h10M4664 1880h10M4678 1879h10M4699 1879h10M4727 1882h10M4739 1878h10M4785 1885h10M4785 1885h10M4786 1881h10M4795 1878h10M4804 1885h10M4826 1876h10M4827 1875h10M1086 1890h10M1090 1887h10M1096 1889h10M1110 1889h10M1113 1888h10M1122 1894h10M1255 1886h10M1260 1893h10M1262 1887h10M1267 1886h10M1270 1893h10M1270 1887h10M1274 1890h10M1275 1890h10M1282 1890h10M1296 1886h10M4442 1893h10M4513 1888h10M4606 1892h10M4616 1887h10M4646 1886h10M4653 1895h10M4657 1894h10M4664 1895h10M4684 1893h10M4697 1886h10M4699 1891h10M4706 1893h10M4708 1891h10M4713 1894h10M4715 1891h10M4751 1892h10M4751 1889h10M4767 1890h10M4768 1889h10M4774 1889h10M4779 1885h10M4788 1894h10M4807 1890h10M4808 1890h10M4830 1892h10M1085 1895h10M1097 1900h10M1099 1897h10M1108 1903h10M1119 1896h10M1238 1902h10M1252 1899h10M1256 1895h10M1259 1901h10M1267 1900h10M1284 1901h10M1295 1896h10M4570 1900h10M4600 1901h10M4613 1902h10M4616 1904h10M4638 1901h10M4639 1905h10M4698 1896h10M4704 1904h10M4726 1898h10M4731 1904h10M4736 1896h10M4752 1905h10M4765 1899h10M4773 1900h10M4776 1900h10M4804 1904h10M4872 1905h10M4881 1902h10M4887 1897h10M1084 1912h10M1091 1911h10M1099 1914h10M1261 1909h10M1262 1909h10M1262 1906h10M1262 1907h10M1269 1908h10M1289 1909h10M4408 1909h10M4408 1912h10M4580 1909h10M4643 1907h10M4660 1907h10M4713 1908h10M4737 1909h10M4738 1908h10M4768 1912h10M4775 1905h10M4780 1908h10M4796 1906h10M4799 1907h10M4812 1906h10M4820 1909h10M4912 1905h10M1088 1918h10M1090 1920h10M1093 1915h10M1095 1921h10M1100 1920h10M1101 1919h10M1253 1917h10M1258 1915h10M1273 1923h10M1276 1916h10M4588 1916h10M4589 1923h10M4606 1923h10M4629 1922h10M4630 1917h10M4635 1924h10M4705 1919h10M4707 1922h10M4711 1918h10M4716 1917h10M4729 1923h10M4757 1923h10M4793 1916h10M4795 1920h10M4816 1916h10M4826 1922h10M4830 1922h10M4867 1923h10M4869 1920h10M1089 1927h10M1089 1928h10M1104 1933h10M1104 1933h10M1107 1928h10M1118 1927h10M1253 1927h10M1255 1935h10M1257 1930h10M1257 1933h10M1265 1928h10M1266 1928h10M1268 1934h10M1270 1927h10M4564 1931h10M4599 1929h10M4652 1929h10M4653 1930h10M4674 1934h10M4680 1928h10M4680 1925h10M4716 1930h10M4717 1929h10M4737 1932h10M4750 1933h10M4753 1925h10M4766 1929h10M4768 1931h10M4779 1931h10M4784 1931h10M4807 1934h10M4876 1927h10M4903 1928h10M1078 1940h10M1079 1938h10M1083 1942h10M1086 1938h10M1087 1938h10M1095 1944h10M1095 1940h10M1096 1937h10M1097 1944h10M1243 1941h10M1248 1936h10M1249 1940h10M4555 1942h10M4597 1940h10M4600 1938h10M4606 1936h10M4616 1938h10M4624 1943h10M4631 1942h10M4638 1939h10M4657 1944h10M4680 1938h10M4682 1940h10M4692 1940h10M4698 1940h10M4741 1942h10M4743 1938h10M4748 1941h10M4762 1944h10M4799 1941h10M4835 1935h10M1085 1946h10M1087 1951h10M1089 1950h10M1096 1949h10M1099 1953h10M1104 1947h10M1106 1954h10M1113 1953h10M1251 1948h10M1252 1950h10M1269 1945h10M1282 1948h10M4533 1953h10M4612 1950h10M4638 1949h10M4646 1951h10M4693 1953h10M4729 1951h10M4739 1955h10M4748 1955h10M4752 1947h10M4758 1954h10M4760 1946h10M4760 1945h10M4762 1947h10M4762 1954h10M4771 1954h10M4801 1952h10M4806 1950h10M4823 1955h10M4837 1954h10M1076 1957h10M1080 1964h10M1084 1957h10M1098 1960h10M1247 1956h10M1247 1963h10M1250 1959h10M1251 1963h10M1255 1964h10M1255 1963h10M1260 1958h10M1263 1958h10M4524 1958h10M4539 1963h10M4551 1962h10M4584 1964h10M4605 1963h10M4669 1959h10M4677 1960h10M4716 1962h10M4722 1958h10M4723 1962h10M4749 1962h10M4759 1958h10M4766 1956h10M4773 1960h10M4783 1964h10M4792 1956h10M4793 1962h10M4806 1964h10M4812 1959h10M4818 1965h10M4852 1956h10M4853 1956h10M1062 1966h10M1071 1974h10M1085 1969h10M1086 1975h10M1092 1971h10M1235 1971h10M1240 1971h10M1247 1972h10M1249 1970h10M1254 1971h10M1254 1973h10M1254 1969h10M1259 1970h10M1266 1966h10M1276 1973h10M4421 1968h10M4456 1970h10M4524 1969h10M4550 1965h10M4573 1974h10M4578 1966h10M4579 1969h10M4624 1974h10M4626 1966h10M4649 1969h10M4667 1972h10M4688 1968h10M4697 1973h10M4711 1973h10M4726 1975h10M4760 1974h10M4770 1975h10M4777 1968h10M4855 1971h10M1074 1983h10M1235 1982h10M1238 1983h10M1241 1982h10M1243 1980h10M1246 1978h10M1250 1979h10M1252 1977h10M1256 1983h10M1260 1975h10M1260 1978h10M4187 1977h10M4515 1981h10M4527 1984h10M4570 1978h10M4597 1979h10M4610 1977h10M4612 1985h10M4631 1979h10M4636 1983h10M4636 1975h10M4638 1977h10M4653 1982h10M4667 1982h10M4713 1980h10M4719 1980h10M4733 1982h10M4738 1985h10M4745 1978h10M4752 1978h10M4756 1982h10M4767 1981h10M4771 1983h10M4776 1977h10M4782 1979h10M4803 1983h10M4820 1979h10M1063 1989h10M1063 1994h10M1066 1995h10M1066 1989h10M1066 1992h10M1074 1988h10M1077 1993h10M1078 1986h10M1087 1995h10M1090 1994h10M1093 1995h10M1234 1992h10M1235 1989h10M1235 1992h10M1238 1986h10M1242 1995h10M1243 1988h10M1246 1993h10M1247 1991h10M1248 1987h10M1249 1988h10M1255 1990h10M1255 1992h10M1259 1991h10M1260 1985h10M1262 1986h10M4516 1993h10M4542 1987h10M4566 1987h10M4595 1993h10M4622 1990h10M4628 1985h10M4662 1990h10M4675 1992h10M4683 1992h10M4697 1987h10M4700 1991h10M4736 1988h10M4738 1989h10M4742 1995h10M4754 1994h10M4755 1988h10M4759 1988h10M4776 1991h10M4797 1992h10M4809 1987h10M4821 1993h10M4848 1988h10M1054 2000h10M1081 2000h10M1086 2000h10M1112 1996h10M1226 2002h10M1227 2004h10M1242 1997h10M1245 2000h10M1247 1999h10M1255 1998h10M1256 2005h10M1261 2002h10M1265 2002h10M4550 1997h10M4596 2001h10M4606 1997h10M4679 2004h10M4696 1998h10M4704 2000h10M4735 1996h10M4820 1997h10M4835 1999h10M4863 1999h10M1065 2011h10M1067 2009h10M1070 2009h10M1079 2011h10M1082 2010h10M1086 2009h10M1088 2013h10M1088 2007h10M1244 2007h10M1261 2012h10M4158 2015h10M4273 2012h10M4526 2009h10M4526 2011h10M4528 2015h10M4593 2007h10M4605 2006h10M4614 2007h10M4620 2012h10M4627 2010h10M4654 2008h10M4661 2007h10M4692 2011h10M4720 2006h10M4726 2010h10M4741 2008h10M4766 2013h10M4776 2012h10M4791 2009h10M4806 2009h10M4845 2005h10M1060 2025h10M1073 2019h10M1074 2020h10M1078 2024h10M1223 2023h10M1225 2019h10M1231 2022h10M1239 2022h10M1245 2015h10M1250 2021h10M1252 2023h10M4453 2022h10M4497 2017h10M4530 2018h10M4543 2016h10M4593 2018h10M4600 2015h10M4614 2016h10M4644 2020h10M4694 2020h10M4702 2022h10M4708 2020h10M4734 2022h10M4742 2017h10M4752 2019h10M4753 2016h10M4759 2022h10M4767 2023h10M4796 2020h10M4819 2019h10M1063 2025h10M1065 2035h10M1077 2028h10M1078 2026h10M1089 2032h10M1092 2027h10M1224 2034h10M1227 2034h10M1228 2030h10M1235 2034h10M1236 2029h10M1239 2035h10M1252 2028h10M4545 2028h10M4573 2027h10M4574 2025h10M4585 2033h10M4590 2028h10M4595 2029h10M4607 2029h10M4607 2028h10M4668 2027h10M4694 2032h10M4694 2027h10M4708 2035h10M4725 2026h10M4765 2029h10M4767 2027h10M4793 2029h10M1053 2038h10M1058 2040h10M1065 2039h10M1097 2040h10M1229 2040h10M1230 2035h10M1242 2040h10M1258 2039h10M4457 2037h10M4539 2037h10M4546 2037h10M4585 2037h10M4601 2042h10M4616 2044h10M4619 2035h10M4622 2043h10M4638 2036h10M4660 2040h10M4677 2043h10M4768 2036h10M4768 2036h10M4843 2044h10M1054 2047h10M1062 2054h10M1064 2047h10M1073 2054h10M1076 2053h10M1083 2049h10M1096 2045h10M1220 2050h10M1225 2048h10M1229 2047h10M1236 2048h10M1237 2053h10M1239 2054h10M1245 2053h10M1250 2053h10M4424 2047h10M4529 2052h10M4532 2048h10M4534 2046h10M4539 2052h10M4570 2046h10M4570 2053h10M4571 2047h10M4607 2054h10M4611 2053h10M4630 2054h10M4656 2051h10M4660 2046h10M4676 2054h10M4680 2054h10M4692 2049h10M4720 2055h10M4730 2048h10M4732 2054h10M4755 2055h10M4764 2051h10M4772 2047h10M4804 2053h10M4818 2045h10M4819 2051h10M4837 2052h10M1050 2061h10M1058 2058h10M1061 2061h10M1069 2062h10M1076 2062h10M1081 2063h10M1215 2064h10M1233 2056h10M1237 2058h10M4511 2064h10M4515 2064h10M4542 2064h10M4556 2062h10M4563 2057h10M4569 2060h10M4597 2057h10M4602 2061h10M4637 2059h10M4668 2059h10M4671 2061h10M4689 2058h10M4698 2061h10M4731 2060h10M4738 2062h10M4749 2056h10M4751 2061h10M4771 2060h10M4800 2058h10M4802 2062h10M4818 2056h10M1052 2071h10M1062 2074h10M1062 2071h10M1080 2073h10M1092 2075h10M1218 2071h10M1225 2068h10M1225 2069h10M1228 2069h10M1236 2067h10M4473 2068h10M4534 2073h10M4540 2070h10M4549 2071h10M4550 2071h10M4556 2071h10M4582 2072h10M4624 2070h10M4634 2073h10M4635 2068h10M4670 2067h10M4691 2070h10M4705 2072h10M4705 2072h10M4710 2066h10M4711 2074h10M4712 2067h10M4740 2065h10M4745 2069h10M4747 2072h10M4760 2069h10M4776 2075h10M4799 2067h10M1046 2082h10M1067 2082h10M1069 2083h10M1072 2075h10M1085 2078h10M1208 2084h10M1209 2078h10M1216 2082h10M1222 2079h10M1230 2081h10M1238 2080h10M1242 2077h10M4470 2084h10M4480 2081h10M4520 2082h10M4521 2076h10M4548 2081h10M4559 2078h10M4572 2080h10M4578 2081h10M4579 2077h10M4613 2082h10M4618 2082h10M4632 2083h10M4650 2079h10M4677 2081h10M4683 2078h10M4691 2081h10M4713 2078h10M4729 2075h10M4737 2077h10M4739 2083h10M4757 2083h10M4759 2076h10M4760 2078h10M4767 2076h10M4768 2075h10M4775 2085h10M4777 2081h10M1052 2091h10M1053 2086h10M1057 2087h10M1057 2091h10M1059 2086h10M1065 2089h10M1066 2086h10M1067 2086h10M1068 2088h10M1075 2094h10M1083 2091h10M1222 2088h10M1232 2093h10M1241 2088h10M4469 2089h10M4485 2088h10M4591 2087h10M4620 2088h10M4637 2091h10M4641 2092h10M4643 2086h10M4644 2091h10M4657 2089h10M4683 2090h10M4687 2095h10M4691 2091h10M4712 2088h10M4731 2087h10M4747 2094h10M4765 2092h10M4776 2092h10M4777 2092h10M4803 2089h10M1049 2105h10M1060 2097h10M1072 2097h10M1073 2102h10M1198 2103h10M1208 2105h10M1212 2101h10M1225 2095h10M1226 2101h10M1233 2104h10M1239 2099h10M4512 2100h10M4555 2100h10M4570 2101h10M4583 2099h10M4592 2102h10M4614 2101h10M4623 2102h10M4626 2101h10M4677 2105h10M4704 2099h10M4718 2104h10M4730 2100h10M4733 2100h10M4780 2096h10M1048 2110h10M1050 2114h10M1056 2109h10M1066 2111h10M1067 2106h10M1074 2108h10M1207 2114h10M1221 2110h10M1224 2112h10M1231 2106h10M1238 2113h10M4318 2114h10M4361 2110h10M4446 2110h10M4484 2107h10M4486 2106h10M4531 2113h10M4589 2107h10M4604 2106h10M4613 2109h10M4633 2109h10M4655 2112h10M4659 2108h10M4673 2112h10M4691 2114h10M4699 2107h10M4700 2106h10M4719 2108h10M4722 2108h10M4783 2105h10M1047 2119h10M1066 2123h10M1066 2118h10M1068 2118h10M1068 2118h10M1077 2116h10M1189 2121h10M1217 2122h10M1220 2123h10M1222 2117h10M1223 2118h10M1232 2118h10M1233 2119h10M4491 2122h10M4508 2115h10M4519 2122h10M4539 2122h10M4558 2117h10M4576 2118h10M4635 2119h10M4680 2119h10M4687 2124h10M4701 2118h10M4721 2125h10M4723 2120h10M4725 2123h10M4750 2120h10M4754 2118h10M1062 2133h10M1201 2134h10M1210 2128h10M1212 2132h10M1215 2129h10M1219 2125h10M1226 2134h10M4420 2131h10M4448 2134h10M4460 2134h10M4475 2133h10M4525 2128h10M4529 2134h10M4533 2132h10M4538 2131h10M4543 2128h10M4556 2130h10M4564 2125h10M4574 2128h10M4576 2128h10M4579 2126h10M4601 2128h10M4606 2127h10M4608 2132h10M4625 2126h10M4638 2132h10M4645 2128h10M4666 2130h10M4694 2132h10M4707 2130h10M4727 2132h10M4747 2126h10M4755 2132h10M4760 2127h10M4778 2128h10M4796 2132h10M4816 2131h10M1030 2136h10M1049 2135h10M1059 2135h10M1062 2138h10M1062 2143h10M1069 2137h10M1187 2144h10M1193 2136h10M1204 2143h10M1212 2142h10M1216 2144h10M1219 2143h10M1220 2136h10M1230 2140h10M4442 2139h10M4472 2138h10M4523 2139h10M4539 2137h10M4543 2143h10M4544 2136h10M4571 2142h10M4583 2137h10M4603 2140h10M4626 2138h10M4626 2140h10M4645 2138h10M4647 2142h10M4670 2139h10M4683 2140h10M4696 2139h10M4698 2141h10M4717 2143h10M4742 2140h10M4761 2140h10M4766 2138h10M4775 2137h10M1045 2150h10M1050 2148h10M1179 2151h10M1197 2147h10M1201 2151h10M1203 2149h10M1211 2148h10M1212 2146h10M1226 2145h10M4428 2146h10M4499 2149h10M4513 2155h10M4520 2146h10M4524 2149h10M4541 2151h10M4542 2153h10M4546 2148h10M4555 2154h10M4559 2152h10M4567 2150h10M4579 2149h10M4590 2150h10M4601 2145h10M4602 2147h10M4610 2152h10M4619 2154h10M4632 2153h10M4648 2148h10M4652 2152h10M4693 2150h10M4698 2145h10M4713 2150h10M4738 2153h10M4739 2152h10M4766 2145h10M1038 2157h10M1052 2161h10M1056 2157h10M1057 2165h10M1058 2163h10M1061 2163h10M1073 2159h10M1196 2157h10M1199 2161h10M1210 2155h10M1215 2164h10M1221 2164h10M1226 2164h10M4412 2157h10M4453 2156h10M4457 2164h10M4467 2162h10M4479 2163h10M4498 2161h10M4516 2160h10M4546 2157h10M4568 2158h10M4573 2156h10M4585 2156h10M4591 2159h10M4597 2159h10M4603 2160h10M4619 2161h10M4623 2158h10M4631 2158h10M4632 2164h10M4661 2159h10M4662 2162h10M4680 2157h10M4685 2161h10M4690 2158h10M4692 2157h10M4695 2161h10M4707 2161h10M1048 2167h10M1048 2165h10M1056 2175h10M1056 2171h10M1061 2171h10M1062 2173h10M1069 2171h10M1183 2167h10M1202 2175h10M1203 2173h10M1205 2170h10M1214 2169h10M1219 2168h10M1231 2172h10M4461 2168h10M4469 2174h10M4516 2166h10M4549 2171h10M4556 2166h10M4561 2171h10M4573 2170h10M4592 2167h10M4598 2171h10M4615 2167h10M4622 2166h10M4622 2174h10M4627 2172h10M4628 2168h10M4630 2170h10M4633 2174h10M4634 2166h10M4648 2167h10M4656 2172h10M4673 2166h10M4707 2167h10M4712 2166h10M1034 2175h10M1041 2182h10M1049 2180h10M1062 2181h10M1063 2181h10M1069 2175h10M1200 2179h10M1202 2179h10M1203 2176h10M1205 2182h10M1213 2185h10M1213 2176h10M1224 2177h10M1224 2184h10M4458 2180h10M4495 2179h10M4532 2178h10M4544 2184h10M4564 2178h10M4578 2176h10M4588 2184h10M4595 2178h10M4603 2178h10M4610 2175h10M4615 2185h10M4628 2176h10M4630 2181h10M4656 2175h10M4671 2185h10M4672 2179h10M4674 2179h10M4688 2185h10M4716 2181h10M4745 2179h10M4750 2183h10M4764 2175h10M4769 2176h10M4795 2184h10M1046 2189h10M1046 2191h10M1053 2193h10M1055 2188h10M1057 2187h10M1059 2189h10M1200 2193h10M1204 2191h10M4322 2187h10M4485 2193h10M4493 2188h10M4499 2186h10M4510 2191h10M4515 2191h10M4532 2195h10M4539 2190h10M4563 2188h10M4573 2191h10M4596 2186h10M4621 2188h10M4650 2188h10M4677 2191h10M4691 2186h10M4697 2187h10M4711 2190h10M4712 2186h10M4743 2193h10M4771 2187h10M1030 2201h10M1038 2196h10M1041 2200h10M1045 2204h10M1046 2199h10M1048 2199h10M1049 2203h10M1051 2199h10M1187 2201h10M1198 2197h10M1202 2199h10M1207 2204h10M1209 2204h10M1210 2202h10M1211 2200h10M1212 2202h10M1215 2199h10M1215 2198h10M4434 2205h10M4470 2198h10M4472 2200h10M4484 2202h10M4485 2203h10M4490 2202h10M4518 2196h10M4520 2202h10M4547 2203h10M4555 2195h10M4557 2204h10M4563 2199h10M4573 2203h10M4633 2196h10M4670 2197h10M4678 2196h10M4681 2197h10M4738 2199h10M1032 2214h10M1037 2213h10M1039 2208h10M1041 2207h10M1046 2213h10M1053 2212h10M1056 2208h10M1058 2215h10M1058 2205h10M1208 2206h10M1209 2209h10M4435 2211h10M4485 2209h10M4502 2213h10M4505 2214h10M4506 2205h10M4513 2210h10M4544 2207h10M4547 2206h10M4553 2209h10M4564 2210h10M4615 2212h10M4617 2205h10M4624 2212h10M4650 2211h10M4699 2215h10M4712 2211h10M4729 2207h10M4735 2207h10M4741 2211h10M1026 2224h10M1029 2219h10M1048 2220h10M1053 2221h10M1054 2223h10M1055 2221h10M1061 2224h10M1183 2217h10M1188 2218h10M1194 2220h10M1197 2216h10M4450 2219h10M4499 2218h10M4508 2217h10M4555 2218h10M4555 2223h10M4567 2221h10M4575 2216h10M4597 2224h10M4672 2215h10M4685 2220h10M4702 2215h10M4705 2224h10M4706 2224h10M1026 2228h10M1035 2225h10M1036 2229h10M1040 2232h10M1047 2228h10M1050 2232h10M1052 2228h10M1184 2231h10M1187 2228h10M1191 2230h10M1191 2233h10M1194 2234h10M1198 2233h10M1207 2225h10M4416 2226h10M4514 2226h10M4538 2227h10M4546 2225h10M4625 2228h10M4626 2230h10M4634 2234h10M4663 2234h10M4663 2233h10M4735 2235h10M4748 2225h10M1024 2244h10M1027 2245h10M1032 2237h10M1032 2244h10M1041 2237h10M1042 2237h10M1047 2236h10M1049 2243h10M1058 2238h10M1059 2240h10M1066 2236h10M1179 2236h10M1181 2239h10M1188 2240h10M1193 2235h10M1200 2244h10M1209 2241h10M4392 2245h10M4431 2237h10M4456 2243h10M4505 2239h10M4509 2236h10M4535 2239h10M4610 2238h10M4613 2245h10M4653 2236h10M4681 2241h10M4720 2237h10M4757 2244h10M1018 2253h10M1025 2248h10M1028 2249h10M1029 2247h10M1034 2254h10M1036 2247h10M1042 2254h10M1049 2247h10M1057 2253h10M1178 2252h10M1180 2251h10M1187 2251h10M1201 2250h10M4451 2253h10M4466 2253h10M4469 2247h10M4470 2255h10M4484 2246h10M4494 2253h10M4497 2248h10M4536 2251h10M4551 2252h10M4571 2246h10M4575 2250h10M4597 2250h10M4599 2252h10M4614 2247h10M4619 2251h10M4621 2246h10M4637 2246h10M4642 2251h10M4654 2250h10M4663 2249h10M4663 2254h10M4663 2255h10M4665 2253h10M4666 2245h10M4673 2246h10M4674 2246h10M4678 2253h10M4706 2255h10M1038 2257h10M1048 2257h10M1164 2255h10M1181 2255h10M1182 2258h10M1183 2255h10M1201 2257h10M1206 2257h10M4487 2258h10M4553 2257h10M4556 2258h10M4617 2260h10M4619 2255h10M4625 2257h10M4665 2258h10M4674 2258h10M4677 2255h10M4695 2257h10" stroke="#747474" stroke-opacity="0.42" stroke-width="10" fill="none"/>
<path d="M6599 20h10M6638 16h10M6407 35h10M6431 43h10M6471 42h10M6591 40h10M6616 40h10M6658 42h10M6687 42h10M6712 42h10M6591 53h10M6680 46h10M6310 62h10M6350 55h10M6438 60h10M6579 64h10M6645 56h10M6374 67h10M6447 66h10M6475 65h10M6554 72h10M6561 80h10M6446 90h10M6482 88h10M6528 89h10M6313 95h10M6349 102h10M6274 107h10M6329 110h10M6328 121h10M6391 124h10M6414 120h10M6309 126h10M6390 127h10M6406 140h10M6482 136h10M6138 146h10M6230 162h10M6254 161h10M6334 158h10M6231 171h10M6348 176h10M6105 190h10M6126 188h10M6218 185h10M6304 191h10M6368 188h10M6198 204h10M6217 202h10M6308 203h10M6408 196h10M6080 213h10M6128 211h10M6241 214h10M6264 210h10M6338 209h10M6344 211h10M6218 220h10M6384 232h10M6365 242h10M6107 248h10M6120 247h10M6150 245h10M6215 254h10M2061 261h10M6058 264h10M6164 261h10M1876 272h10M1945 265h10M1960 272h10M2095 273h10M1705 280h10M1794 283h10M1877 282h10M1969 279h10M1982 285h10M1988 279h10M5996 279h10M6050 280h10M6088 281h10M6242 283h10M1746 287h10M1754 286h10M1795 291h10M6029 293h10M6068 286h10M6184 293h10M6205 291h10M6220 290h10M6295 293h10M1681 300h10M1740 297h10M1910 299h10M5989 298h10M6053 298h10M6334 302h10M1654 313h10M1701 314h10M1724 309h10M6003 312h10M6048 308h10M6072 308h10M5975 323h10M6067 315h10M6131 316h10M6154 316h10M6190 321h10M1616 328h10M5977 332h10M6056 333h10M6140 327h10M1598 339h10M1643 338h10M5903 336h10M5929 339h10M5953 341h10M6088 341h10M6113 338h10M6170 337h10M1589 348h10M1597 346h10M1627 355h10M6245 347h10M1586 360h10M5936 357h10M6027 356h10M6119 355h10M6140 364h10M1574 373h10M1593 367h10M1579 377h10M2404 379h10M1501 390h10M1543 386h10M5971 390h10M6014 388h10M6026 388h10M6132 387h10M6196 387h10M1504 401h10M1512 398h10M5886 400h10M5995 400h10M6041 397h10M6078 396h10M1499 408h10M1523 414h10M1525 410h10M5805 409h10M5877 413h10M5910 410h10M5954 410h10M6065 405h10M6087 410h10M6103 414h10M1497 416h10M1498 421h10M5870 424h10M6138 422h10M1454 444h10M1458 440h10M1467 444h10M1490 444h10M5957 437h10M5974 435h10M1428 447h10M1458 454h10M1458 446h10M1468 449h10M1438 457h10M2275 455h10M2359 457h10M5798 465h10M5844 460h10M5874 459h10M5915 461h10M5932 455h10M5961 457h10M6001 465h10M6041 460h10M1439 472h10M1448 466h10M2213 469h10M2319 470h10M2357 473h10M5737 466h10M5764 475h10M5770 468h10M5818 471h10M5869 470h10M5891 471h10M5961 474h10M1390 476h10M2236 478h10M2329 483h10M5844 477h10M6004 483h10M1383 489h10M1392 487h10M1399 492h10M1401 489h10M2143 489h10M2226 494h10M5791 487h10M5889 487h10M6046 493h10M1365 504h10M1368 502h10M1380 499h10M1985 497h10M2102 496h10M5740 504h10M5867 502h10M5869 501h10M1346 510h10M1364 505h10M2088 510h10M2369 510h10M1334 523h10M1373 517h10M1953 524h10M1996 522h10M2216 519h10M2411 516h10M2464 524h10M5756 519h10M5806 524h10M5840 517h10M1320 533h10M1922 526h10M2115 534h10M2197 534h10M2486 535h10M5728 527h10M5849 530h10M5942 534h10M1304 538h10M1307 538h10M1313 543h10M1946 542h10M1957 545h10M1997 543h10M2030 544h10M2051 544h10M2060 543h10M5669 539h10M5915 539h10M1292 549h10M1295 551h10M1881 545h10M1891 555h10M1925 550h10M1940 546h10M1979 554h10M2059 549h10M2157 551h10M2573 553h10M5613 552h10M5724 548h10M5894 554h10M1874 562h10M1887 562h10M1890 562h10M1927 562h10M1934 564h10M1935 563h10M1957 562h10M1968 557h10M1970 557h10M2116 561h10M2241 559h10M2601 563h10M5737 563h10M5809 559h10M5875 562h10M1252 568h10M1257 571h10M1292 574h10M1826 572h10M1873 574h10M1883 568h10M1893 571h10M1939 570h10M2164 575h10M2173 570h10M2291 573h10M2580 567h10M2622 575h10M5651 572h10M5720 570h10M1242 580h10M1830 584h10M1838 576h10M1949 579h10M2145 578h10M2219 582h10M5866 575h10M1203 590h10M1224 594h10M1258 586h10M1259 589h10M1288 587h10M1809 591h10M1856 588h10M1860 587h10M1869 585h10M1906 593h10M1969 589h10M2071 588h10M2636 587h10M1758 601h10M1769 603h10M1822 599h10M1826 600h10M1832 602h10M2660 600h10M1198 608h10M1201 609h10M1238 605h10M1728 612h10M1763 608h10M1784 612h10M1820 609h10M2787 611h10M5631 606h10M5751 605h10M5762 607h10M5837 607h10M1175 617h10M1659 620h10M1711 619h10M1770 618h10M1807 620h10M2371 617h10M2457 620h10M5585 619h10M5596 617h10M5729 623h10M5737 620h10M5779 622h10M1161 629h10M1195 626h10M1641 627h10M1725 630h10M1729 630h10M1748 625h10M1761 627h10M1789 632h10M2743 627h10M2781 631h10M5365 625h10M5676 627h10M5689 630h10M5715 632h10M1087 638h10M1664 636h10M1666 639h10M1676 637h10M1683 638h10M1723 639h10M1746 638h10M1803 644h10M5543 636h10M5672 638h10M5684 640h10M5696 644h10M5733 639h10M5826 636h10M1139 648h10M1704 648h10M1760 652h10M1779 645h10M2549 651h10M2552 650h10M2554 650h10M5540 654h10M1138 660h10M1164 656h10M1562 661h10M1572 660h10M1604 658h10M1631 655h10M1666 665h10M1682 663h10M1704 664h10M1706 659h10M1724 662h10M1739 656h10M5571 657h10M5725 658h10M5766 661h10M5802 663h10M1077 671h10M1114 670h10M1122 672h10M1125 671h10M1595 675h10M1603 667h10M1606 673h10M1609 674h10M1680 673h10M1696 669h10M1722 671h10M5617 668h10M1091 676h10M1576 676h10M1591 678h10M1606 677h10M1668 678h10M1671 677h10M1719 677h10M1016 686h10M1134 689h10M1568 688h10M1666 688h10M1671 686h10M1678 694h10M1682 686h10M1743 687h10M5142 686h10M5271 695h10M5592 690h10M5651 687h10M1036 701h10M1083 699h10M1656 700h10M5250 704h10M5539 700h10M5613 697h10M1027 705h10M1524 709h10M1623 705h10M1645 712h10M1661 713h10M1672 713h10M5523 708h10M5688 712h10M990 720h10M1011 719h10M1015 722h10M1032 723h10M1085 719h10M1499 720h10M1530 720h10M1608 719h10M1643 719h10M1657 724h10M5482 717h10M5507 725h10M5511 721h10M5583 719h10M5673 725h10M974 735h10M986 732h10M1402 732h10M1407 735h10M1493 726h10M1506 733h10M1516 735h10M1549 732h10M1623 732h10M1629 727h10M1641 728h10M1674 731h10M5478 731h10M5548 729h10M5608 725h10M5616 729h10M5680 733h10M5759 728h10M935 743h10M940 740h10M1396 742h10M1407 744h10M1432 738h10M1433 743h10M1457 742h10M1470 743h10M1473 743h10M1615 741h10M1633 740h10M5548 738h10M854 750h10M909 749h10M917 746h10M923 753h10M941 752h10M982 754h10M1017 747h10M1028 747h10M1401 754h10M1572 754h10M1598 747h10M1611 751h10M1614 747h10M1623 753h10M1638 750h10M2349 752h10M5535 753h10M5558 750h10M5675 748h10M891 765h10M898 761h10M901 761h10M935 755h10M969 759h10M970 765h10M1378 763h10M1394 757h10M1412 758h10M1423 757h10M1445 756h10M1568 756h10M1583 757h10M5398 759h10M5459 761h10M5525 758h10M5550 763h10M5595 757h10M5629 760h10M5656 762h10M845 766h10M877 774h10M894 768h10M911 770h10M925 769h10M935 773h10M940 768h10M1356 770h10M1400 772h10M1573 770h10M1578 766h10M1595 769h10M2209 774h10M2320 771h10M2393 767h10M2474 772h10M5442 773h10M5527 767h10M896 784h10M905 782h10M908 781h10M935 776h10M1401 775h10M1430 784h10M1558 777h10M1562 778h10M1576 781h10M1578 781h10M2161 781h10M2168 785h10M2267 776h10M2273 784h10M2338 781h10M2360 776h10M5513 778h10M811 794h10M866 790h10M872 788h10M883 794h10M919 788h10M921 788h10M942 790h10M944 788h10M1355 793h10M1367 790h10M1389 793h10M1398 786h10M1398 794h10M1430 790h10M1528 788h10M1548 788h10M1556 785h10M1561 786h10M1590 795h10M2130 786h10M2209 787h10M2314 787h10M2315 794h10M2426 788h10M2463 786h10M5165 794h10M832 799h10M839 801h10M851 796h10M858 801h10M859 797h10M866 804h10M867 801h10M877 797h10M1531 804h10M1543 799h10M1568 800h10M2164 798h10M2170 803h10M2170 798h10M2212 796h10M2235 803h10M2258 797h10M2315 798h10M2565 802h10M5405 803h10M5553 798h10M5622 802h10M759 810h10M765 808h10M776 810h10M780 814h10M794 812h10M821 809h10M830 806h10M844 806h10M845 806h10M856 811h10M862 812h10M865 807h10M875 808h10M879 811h10M882 808h10M910 812h10M1318 809h10M1320 808h10M1379 808h10M1534 812h10M1542 806h10M1550 814h10M2096 815h10M2105 805h10M2161 805h10M2162 814h10M2217 814h10M2299 812h10M2501 810h10M2590 811h10M2608 814h10M5413 812h10M5421 811h10M5625 810h10M5673 811h10M791 817h10M800 823h10M805 816h10M807 825h10M821 822h10M835 815h10M839 816h10M843 817h10M849 821h10M852 824h10M856 819h10M864 816h10M882 816h10M897 820h10M1318 819h10M1507 822h10M1520 823h10M1523 824h10M1550 818h10M1558 818h10M2036 822h10M2380 815h10M2557 824h10M2603 819h10M2654 824h10M5066 824h10M5395 824h10M5417 824h10M744 827h10M755 831h10M781 834h10M802 832h10M811 830h10M830 829h10M831 834h10M1511 829h10M1513 830h10M1990 835h10M2367 831h10M2645 830h10M5014 834h10M5336 835h10M5408 828h10M5457 828h10M5583 829h10M5632 825h10M698 837h10M715 843h10M728 845h10M729 843h10M739 843h10M749 840h10M778 836h10M782 844h10M782 837h10M786 843h10M805 842h10M819 845h10M839 841h10M871 837h10M1267 839h10M1477 837h10M1506 845h10M1511 840h10M1520 842h10M1975 838h10M2058 839h10M2556 845h10M2625 841h10M5017 837h10M5355 841h10M5589 839h10M743 848h10M743 852h10M746 855h10M747 848h10M755 850h10M765 849h10M771 850h10M774 846h10M786 848h10M787 853h10M788 851h10M795 848h10M799 846h10M806 847h10M819 848h10M832 848h10M1193 848h10M1467 850h10M1468 852h10M1496 845h10M1505 847h10M1513 854h10M2008 855h10M5362 853h10M5453 853h10M627 862h10M712 857h10M713 860h10M725 862h10M729 859h10M743 863h10M747 860h10M747 857h10M750 861h10M754 861h10M772 858h10M777 860h10M779 858h10M780 859h10M781 864h10M787 863h10M789 857h10M794 859h10M799 859h10M801 857h10M809 859h10M840 856h10M1226 864h10M1474 864h10M1489 861h10M1494 863h10M1494 860h10M1495 862h10M1979 863h10M1990 856h10M2049 855h10M5455 865h10M633 874h10M647 875h10M658 869h10M671 871h10M681 867h10M687 868h10M702 868h10M704 868h10M715 869h10M716 872h10M717 870h10M719 865h10M727 874h10M729 867h10M743 865h10M750 874h10M753 873h10M766 871h10M776 871h10M810 875h10M814 874h10M1479 872h10M1485 874h10M1510 871h10M1914 866h10M1970 866h10M5099 866h10M5335 867h10M5497 871h10M5507 868h10M5569 870h10M624 880h10M632 876h10M634 878h10M636 879h10M636 882h10M639 884h10M641 883h10M643 882h10M652 883h10M659 879h10M668 876h10M668 878h10M678 882h10M679 880h10M690 876h10M696 880h10M696 885h10M703 882h10M728 881h10M731 876h10M733 877h10M739 881h10M747 880h10M751 882h10M753 881h10M753 878h10M759 880h10M760 880h10M773 876h10M1100 877h10M1182 880h10M1461 877h10M1464 879h10M1464 878h10M1477 876h10M1481 884h10M1840 880h10M1922 877h10M1949 879h10M2021 881h10M2752 884h10M5299 877h10M5345 876h10M5426 876h10M5442 880h10M5544 880h10M628 892h10M643 887h10M647 895h10M650 895h10M651 888h10M652 888h10M652 887h10M652 886h10M663 887h10M668 893h10M694 888h10M695 894h10M703 886h10M708 888h10M710 894h10M710 893h10M716 890h10M718 892h10M725 887h10M730 886h10M752 886h10M767 891h10M1105 886h10M1458 892h10M1496 894h10M1885 886h10M1906 888h10M1915 891h10M2716 885h10M2737 888h10M2797 886h10M5511 887h10M5571 890h10M637 902h10M641 900h10M645 900h10M655 896h10M656 895h10M659 902h10M661 904h10M668 902h10M669 899h10M669 897h10M681 898h10M699 901h10M703 903h10M703 903h10M705 903h10M706 902h10M741 898h10M762 900h10M774 895h10M1053 899h10M1449 903h10M1476 900h10M1479 903h10M1882 899h10M1884 904h10M1903 898h10M1907 898h10M1952 900h10M5216 900h10M5440 897h10M648 915h10M653 908h10M654 905h10M659 910h10M659 908h10M662 909h10M662 907h10M670 909h10M674 907h10M680 911h10M684 908h10M684 911h10M690 913h10M692 911h10M719 915h10M723 909h10M733 909h10M738 912h10M952 910h10M957 915h10M1055 911h10M1095 906h10M1442 906h10M1450 913h10M1465 913h10M1467 908h10M1469 913h10M1856 907h10M1856 911h10M1866 915h10M1899 905h10M1917 911h10M5079 911h10M5504 913h10M5526 912h10M5559 913h10M647 916h10M652 924h10M655 922h10M662 918h10M664 916h10M671 917h10M683 923h10M697 916h10M703 918h10M703 923h10M714 922h10M718 922h10M721 925h10M987 920h10M1013 918h10M1038 924h10M1054 921h10M1080 921h10M1119 917h10M1417 921h10M1440 921h10M2852 922h10M2896 918h10M5465 924h10M5504 916h10M628 926h10M637 928h10M643 926h10M655 927h10M660 925h10M669 933h10M681 932h10M682 932h10M708 934h10M869 926h10M876 934h10M968 931h10M982 931h10M1008 934h10M1029 930h10M1033 935h10M1143 930h10M1828 935h10M1851 935h10M1862 927h10M5255 928h10M5314 925h10M5382 927h10M5390 928h10M5458 932h10M625 943h10M639 945h10M650 942h10M656 942h10M659 941h10M660 942h10M662 942h10M664 938h10M669 939h10M683 938h10M689 938h10M695 940h10M882 939h10M885 935h10M895 938h10M900 941h10M906 940h10M919 936h10M933 940h10M948 940h10M960 937h10M965 941h10M973 944h10M985 941h10M988 944h10M998 942h10M1014 941h10M1424 938h10M1435 945h10M1441 941h10M1457 944h10M1464 943h10M1809 942h10M1810 939h10M1831 945h10M1853 937h10M1881 941h10M2935 938h10M2960 939h10M5175 937h10M5314 938h10M5318 944h10M5328 938h10M5375 935h10M5397 942h10M5421 937h10M629 947h10M659 950h10M663 950h10M665 952h10M668 952h10M673 945h10M689 949h10M818 951h10M853 946h10M860 952h10M884 952h10M901 954h10M903 948h10M905 954h10M941 954h10M948 951h10M953 946h10M1030 954h10M1046 948h10M1073 954h10M1405 945h10M1407 950h10M1417 952h10M1420 950h10M1422 949h10M1429 946h10M1429 945h10M1442 951h10M1448 945h10M1453 946h10M1854 951h10M5156 946h10M5218 950h10M5262 946h10M5290 953h10M5386 950h10M5419 954h10M634 955h10M642 965h10M648 962h10M651 956h10M661 964h10M662 956h10M672 955h10M674 959h10M689 959h10M694 961h10M811 960h10M820 962h10M836 957h10M849 961h10M852 955h10M854 962h10M855 960h10M864 965h10M868 955h10M882 959h10M885 957h10M886 960h10M902 961h10M906 963h10M909 956h10M909 963h10M913 958h10M916 965h10M917 956h10M927 959h10M943 965h10M946 957h10M966 961h10M969 964h10M980 958h10M1427 959h10M1772 957h10M1804 956h10M2949 960h10M2950 964h10M4947 956h10M5256 956h10M5304 956h10M5367 961h10M5375 961h10M5388 964h10M5397 964h10M5458 964h10M650 972h10M655 974h10M655 971h10M826 974h10M834 974h10M838 971h10M869 965h10M882 970h10M886 970h10M887 975h10M893 967h10M896 973h10M904 970h10M906 969h10M907 970h10M912 975h10M926 975h10M940 969h10M951 971h10M1401 968h10M1403 967h10M1420 968h10M1421 969h10M1777 973h10M1778 970h10M1837 974h10M2932 971h10M5128 969h10M5275 965h10M5287 967h10M5343 973h10M663 978h10M664 983h10M666 976h10M667 978h10M668 980h10M690 983h10M859 979h10M867 980h10M872 978h10M877 981h10M883 977h10M887 976h10M890 978h10M891 981h10M906 984h10M912 981h10M919 985h10M956 977h10M1387 981h10M1400 976h10M1404 976h10M1405 978h10M1407 980h10M1410 984h10M1412 977h10M1413 977h10M1425 985h10M1793 980h10M1811 982h10M5265 976h10M5322 984h10M5441 980h10M662 987h10M828 995h10M851 988h10M853 991h10M866 992h10M894 987h10M895 994h10M895 991h10M900 990h10M909 993h10M979 991h10M1396 989h10M1400 989h10M1400 986h10M1424 988h10M1425 988h10M1735 992h10M1782 988h10M1800 991h10M1831 987h10M2941 993h10M3014 993h10M5085 990h10M5257 986h10M5292 992h10M5322 985h10M5344 986h10M672 998h10M839 1003h10M840 1004h10M850 1005h10M853 999h10M854 995h10M856 996h10M863 998h10M878 1002h10M882 999h10M892 999h10M907 1000h10M936 996h10M1402 1004h10M1409 1003h10M1777 997h10M1780 1004h10M1804 1004h10M2965 1003h10M2969 1000h10M5312 998h10M5332 1002h10M5384 996h10M5460 999h10M843 1006h10M846 1015h10M853 1012h10M858 1012h10M859 1007h10M891 1012h10M1409 1009h10M1412 1012h10M1704 1006h10M1742 1008h10M1763 1007h10M3005 1009h10M5329 1007h10M5343 1013h10M5443 1014h10M825 1019h10M864 1018h10M876 1021h10M883 1021h10M884 1023h10M1402 1022h10M1705 1024h10M1730 1023h10M3016 1015h10M4985 1022h10M5160 1021h10M5169 1021h10M5195 1021h10M828 1030h10M860 1028h10M875 1030h10M885 1029h10M901 1030h10M1389 1030h10M1391 1028h10M1411 1027h10M1723 1027h10M1728 1029h10M3047 1031h10M5138 1031h10M5322 1031h10M5356 1031h10M5368 1033h10M841 1044h10M856 1044h10M867 1040h10M868 1041h10M889 1042h10M1391 1045h10M1706 1040h10M1725 1038h10M1728 1036h10M5145 1037h10M5214 1038h10M5253 1040h10M5322 1037h10M841 1048h10M845 1049h10M848 1050h10M851 1046h10M854 1050h10M861 1052h10M865 1051h10M869 1047h10M872 1046h10M896 1050h10M1376 1054h10M1376 1047h10M1384 1048h10M1391 1053h10M1395 1046h10M1663 1054h10M1739 1051h10M4986 1049h10M5233 1047h10M5328 1051h10M5335 1051h10M835 1057h10M853 1064h10M865 1057h10M865 1062h10M870 1061h10M870 1057h10M877 1063h10M878 1057h10M879 1059h10M880 1059h10M1379 1056h10M1391 1062h10M1675 1063h10M1691 1062h10M1727 1056h10M4940 1060h10M5192 1062h10M5205 1064h10M5276 1055h10M843 1069h10M861 1075h10M861 1066h10M862 1075h10M871 1067h10M875 1065h10M886 1073h10M896 1075h10M1366 1066h10M1368 1065h10M1380 1068h10M1380 1071h10M1382 1074h10M1389 1065h10M1392 1069h10M1655 1072h10M1699 1073h10M5321 1067h10M871 1078h10M872 1084h10M877 1077h10M883 1081h10M899 1078h10M1369 1077h10M1372 1078h10M1374 1076h10M1375 1082h10M1376 1083h10M1395 1078h10M1643 1079h10M1665 1081h10M1728 1081h10M5181 1081h10M5183 1083h10M5327 1084h10M5335 1083h10M858 1095h10M864 1093h10M866 1090h10M867 1090h10M879 1092h10M880 1093h10M1372 1093h10M1382 1089h10M1386 1086h10M1411 1090h10M1628 1085h10M1654 1090h10M1658 1086h10M1664 1087h10M1674 1088h10M1675 1087h10M1681 1091h10M5162 1094h10M5212 1087h10M5242 1095h10M5243 1094h10M5251 1087h10M5309 1091h10M1366 1105h10M1379 1096h10M1380 1100h10M1392 1098h10M1624 1095h10M1634 1102h10M1648 1096h10M1653 1097h10M1658 1103h10M1672 1101h10M5309 1097h10M5323 1098h10M5410 1095h10M1362 1113h10M1380 1109h10M1392 1105h10M1627 1105h10M1637 1113h10M1642 1109h10M1653 1113h10M1662 1109h10M5092 1114h10M5098 1108h10M5128 1114h10M5158 1108h10M5181 1110h10M5181 1108h10M5215 1111h10M5221 1113h10M5286 1108h10M5287 1108h10M5294 1108h10M5323 1109h10M1363 1124h10M1382 1118h10M1628 1121h10M1632 1118h10M1638 1117h10M1643 1117h10M1649 1115h10M5100 1122h10M5185 1124h10M5202 1123h10M5271 1116h10M1344 1135h10M1355 1129h10M1359 1129h10M1361 1131h10M1366 1132h10M1604 1133h10M1624 1125h10M1627 1133h10M1641 1131h10M1642 1132h10M1651 1131h10M5057 1129h10M5069 1126h10M5304 1134h10M5317 1131h10M5324 1129h10M1344 1136h10M1347 1138h10M1350 1139h10M1370 1143h10M1371 1144h10M1372 1138h10M1607 1144h10M1617 1141h10M1626 1143h10M1629 1138h10M1635 1139h10M1641 1141h10M4814 1143h10M5096 1143h10M5161 1139h10M5255 1136h10M1345 1152h10M1352 1146h10M1358 1148h10M1360 1155h10M1361 1151h10M1367 1149h10M1601 1146h10M1604 1148h10M1619 1147h10M1627 1154h10M1638 1153h10M1639 1146h10M1649 1149h10M5058 1150h10M5066 1145h10M5099 1152h10M5142 1153h10M5157 1149h10M5187 1146h10M5194 1150h10M5221 1153h10M1340 1162h10M1349 1161h10M1616 1165h10M4825 1160h10M5012 1157h10M5044 1161h10M5199 1161h10M1342 1166h10M1346 1168h10M1350 1168h10M1350 1170h10M1354 1166h10M1590 1174h10M1597 1169h10M1606 1169h10M1621 1166h10M4783 1171h10M4810 1166h10M4831 1173h10M4973 1174h10M5087 1172h10M5119 1166h10M5120 1172h10M5144 1175h10M5182 1165h10M5201 1169h10M5208 1171h10M5287 1171h10M1346 1182h10M1349 1182h10M1554 1181h10M1576 1184h10M1582 1183h10M1586 1179h10M1592 1178h10M1594 1181h10M1596 1182h10M1597 1178h10M1607 1184h10M1611 1180h10M1617 1179h10M1619 1179h10M1624 1179h10M5133 1175h10M5136 1178h10M5143 1182h10M5216 1178h10M5314 1181h10M1313 1188h10M1319 1191h10M1322 1193h10M1340 1188h10M1351 1191h10M1353 1186h10M1575 1194h10M1581 1193h10M1586 1189h10M1595 1192h10M1615 1191h10M4707 1185h10M5158 1192h10M5265 1189h10M1327 1197h10M1338 1204h10M1578 1200h10M1582 1198h10M5022 1196h10M5107 1200h10M5109 1197h10M5115 1198h10M5282 1201h10M1318 1213h10M1347 1214h10M1349 1209h10M1566 1213h10M1573 1210h10M1598 1206h10M5088 1213h10M5104 1212h10M5213 1210h10M5282 1213h10M1311 1223h10M1315 1222h10M1316 1219h10M1326 1215h10M1578 1224h10M1597 1220h10M5060 1220h10M5099 1223h10M5135 1222h10M5140 1222h10M5244 1224h10M5257 1218h10M1295 1228h10M1328 1229h10M1328 1234h10M1332 1232h10M1335 1235h10M1339 1229h10M1559 1230h10M1568 1232h10M1572 1226h10M1574 1227h10M1576 1234h10M1584 1226h10M5078 1230h10M5079 1226h10M5086 1227h10M5139 1230h10M5146 1233h10M5148 1229h10M5215 1229h10M5223 1227h10M5241 1226h10M1302 1240h10M1313 1236h10M1321 1242h10M1327 1241h10M1333 1236h10M1344 1244h10M1537 1244h10M1539 1244h10M1565 1244h10M1567 1236h10M1587 1241h10M4925 1239h10M5139 1237h10M5157 1238h10M5195 1237h10M5199 1242h10M1299 1250h10M1309 1248h10M1312 1253h10M1313 1249h10M1316 1254h10M1544 1254h10M1549 1248h10M1552 1250h10M1555 1250h10M1563 1247h10M5137 1251h10M5138 1247h10M5141 1246h10M5167 1250h10M5199 1248h10M5258 1254h10M1271 1264h10M1301 1260h10M1304 1255h10M1309 1264h10M1542 1257h10M1546 1259h10M1549 1259h10M1560 1263h10M1561 1260h10M1561 1258h10M1576 1260h10M4959 1260h10M4961 1265h10M4991 1257h10M5102 1260h10M5139 1256h10M5146 1257h10M5186 1260h10M5193 1264h10M1291 1271h10M1299 1271h10M1326 1265h10M1510 1272h10M1544 1273h10M1552 1272h10M1553 1267h10M1566 1266h10M1574 1269h10M4985 1267h10M5091 1274h10M5207 1270h10M1286 1279h10M1290 1280h10M1303 1284h10M1304 1282h10M1322 1277h10M1498 1281h10M1530 1285h10M1547 1280h10M1553 1279h10M1555 1283h10M1555 1277h10M5006 1284h10M5022 1278h10M5055 1283h10M5117 1280h10M5126 1277h10M5174 1279h10M5193 1281h10M5195 1280h10M1276 1288h10M1288 1290h10M1289 1288h10M1295 1290h10M1297 1285h10M1299 1288h10M1310 1291h10M1523 1293h10M1529 1290h10M1536 1290h10M1543 1295h10M4908 1293h10M4927 1292h10M4958 1294h10M4978 1290h10M4990 1291h10M5040 1295h10M5045 1295h10M5055 1290h10M5066 1291h10M5102 1295h10M5108 1294h10M5116 1292h10M5124 1291h10M5130 1286h10M5137 1291h10M5148 1287h10M5178 1289h10M5219 1292h10M1276 1295h10M1277 1300h10M1283 1300h10M1284 1296h10M1285 1300h10M1297 1297h10M1299 1300h10M1307 1300h10M1513 1297h10M1513 1300h10M1515 1301h10M1523 1297h10M1541 1296h10M4700 1297h10M4945 1300h10M4970 1301h10M5009 1298h10M5028 1299h10M5066 1298h10M5071 1303h10M5071 1300h10M5122 1301h10M5126 1296h10M5131 1300h10M5135 1300h10M5138 1296h10M5158 1305h10M5160 1302h10M5174 1302h10M5217 1296h10M5228 1300h10M1282 1310h10M1294 1312h10M1310 1311h10M1502 1314h10M1507 1309h10M1522 1314h10M1524 1313h10M1527 1310h10M1530 1309h10M1538 1314h10M4687 1314h10M4955 1314h10M4976 1306h10M5003 1309h10M5030 1310h10M5035 1305h10M5039 1308h10M5051 1308h10M5085 1306h10M5093 1310h10M5107 1305h10M5120 1306h10M5217 1307h10M1269 1325h10M1271 1322h10M1272 1323h10M1280 1318h10M1283 1320h10M1286 1315h10M1292 1322h10M1295 1322h10M1298 1317h10M1311 1318h10M1497 1318h10M1521 1323h10M4916 1322h10M4925 1320h10M4996 1321h10M5060 1321h10M5081 1323h10M5168 1321h10M1275 1326h10M1285 1331h10M1293 1327h10M1293 1329h10M1310 1330h10M1498 1335h10M1500 1333h10M1513 1329h10M1515 1327h10M1528 1329h10M4753 1326h10M4952 1332h10M4983 1329h10M5014 1325h10M5040 1331h10M5047 1332h10M5052 1333h10M5117 1332h10M5143 1325h10M1269 1342h10M1289 1345h10M1497 1341h10M1501 1338h10M1506 1344h10M4729 1336h10M4975 1338h10M4978 1342h10M5010 1336h10M5040 1344h10M5042 1344h10M5086 1340h10M5116 1336h10M5119 1342h10M5123 1344h10M5173 1343h10M1244 1353h10M1260 1354h10M1263 1347h10M1267 1346h10M1268 1349h10M1268 1346h10M1283 1354h10M1302 1349h10M1469 1349h10M1483 1355h10M1495 1350h10M1511 1348h10M1517 1353h10M4869 1352h10M4919 1354h10M5016 1347h10M5092 1348h10M5108 1351h10M1253 1356h10M1264 1359h10M1266 1358h10M1268 1358h10M1268 1361h10M1269 1359h10M1270 1358h10M1271 1359h10M1277 1355h10M1478 1358h10M1481 1359h10M1487 1356h10M1495 1360h10M1510 1362h10M4900 1365h10M5017 1365h10M5054 1356h10M5067 1357h10M5075 1361h10M5097 1361h10M5137 1357h10M5140 1358h10M5140 1362h10M5149 1358h10M5154 1361h10M1254 1372h10M1259 1369h10M1260 1368h10M1478 1368h10M1482 1374h10M1485 1372h10M1496 1370h10M1506 1370h10M1506 1375h10M4907 1370h10M4917 1366h10M4921 1374h10M4957 1370h10M5043 1371h10M5068 1374h10M5072 1368h10M5100 1366h10M1242 1381h10M1248 1382h10M1248 1382h10M1255 1375h10M1260 1381h10M1266 1381h10M1470 1383h10M1475 1384h10M1477 1379h10M1481 1376h10M1489 1381h10M1501 1376h10M1503 1376h10M1505 1381h10M4905 1382h10M4913 1383h10M4958 1375h10M4962 1378h10M5026 1380h10M5032 1384h10M5045 1381h10M5066 1383h10M5077 1384h10M5128 1382h10M1233 1390h10M1240 1386h10M1246 1389h10M1250 1394h10M1253 1390h10M1255 1388h10M1276 1390h10M1463 1395h10M1465 1390h10M1473 1393h10M1475 1390h10M1477 1385h10M1477 1385h10M1478 1391h10M4906 1395h10M4926 1387h10M4933 1395h10M4956 1387h10M4978 1386h10M5007 1394h10M5039 1389h10M5080 1389h10M5097 1393h10M5105 1390h10M1239 1403h10M1254 1399h10M1256 1400h10M1257 1401h10M1457 1402h10M1462 1396h10M1466 1395h10M1473 1397h10M1473 1403h10M1475 1405h10M1476 1402h10M1477 1400h10M1489 1397h10M4878 1398h10M4964 1402h10M4972 1403h10M4994 1395h10M5072 1396h10M5106 1395h10M1236 1411h10M1237 1405h10M1245 1409h10M1255 1409h10M1269 1412h10M1281 1407h10M1455 1413h10M1472 1412h10M1476 1413h10M1497 1406h10M4551 1408h10M4865 1414h10M4904 1405h10M4905 1413h10M4933 1410h10M4949 1409h10M4975 1411h10M4976 1413h10M4998 1406h10M5008 1407h10M5059 1409h10M5061 1409h10M5071 1411h10M5122 1413h10M1223 1419h10M1230 1419h10M1240 1424h10M1240 1420h10M1247 1423h10M1248 1419h10M1248 1418h10M1253 1417h10M1257 1419h10M1285 1421h10M1461 1422h10M4588 1422h10M4914 1423h10M4954 1420h10M4971 1422h10M4992 1424h10M5025 1416h10M5083 1419h10M5133 1422h10M1218 1427h10M1221 1429h10M1233 1435h10M1234 1426h10M1234 1428h10M1247 1432h10M1249 1425h10M1433 1426h10M1467 1427h10M1470 1428h10M1473 1433h10M1475 1434h10M4864 1433h10M4869 1426h10M4872 1433h10M5023 1432h10M5034 1429h10M5037 1433h10M5039 1432h10M1226 1440h10M1227 1445h10M1231 1437h10M1235 1441h10M1237 1441h10M1237 1436h10M1238 1436h10M1240 1441h10M1244 1440h10M1248 1442h10M1453 1443h10M1454 1441h10M1462 1436h10M1465 1439h10M1467 1439h10M1477 1437h10M4518 1437h10M4824 1436h10M4856 1445h10M4862 1437h10M4897 1438h10M4934 1441h10M4957 1437h10M5018 1435h10M5102 1444h10M5106 1441h10M1205 1454h10M1229 1445h10M1230 1446h10M1239 1447h10M1243 1446h10M1423 1453h10M1437 1450h10M1463 1447h10M1463 1451h10M1464 1454h10M1476 1447h10M4607 1448h10M4840 1454h10M4890 1453h10M4932 1446h10M4953 1447h10M5006 1450h10M5046 1455h10M5049 1453h10M5066 1449h10M1216 1461h10M1225 1458h10M1424 1463h10M1440 1465h10M1440 1458h10M1445 1457h10M1452 1461h10M1452 1458h10M1464 1463h10M1465 1455h10M4437 1463h10M4467 1465h10M4539 1463h10M4602 1463h10M4855 1462h10M4905 1455h10M4919 1457h10M4959 1459h10M4980 1462h10M4988 1455h10M5017 1457h10M5026 1458h10M5054 1456h10M5081 1455h10M5120 1464h10M1217 1472h10M1219 1467h10M1220 1466h10M1224 1465h10M1430 1475h10M1432 1472h10M1436 1472h10M1444 1474h10M1446 1468h10M1448 1469h10M4447 1467h10M4451 1468h10M4796 1471h10M4821 1475h10M4855 1469h10M4886 1473h10M4888 1470h10M4914 1470h10M4987 1470h10M4991 1473h10M5034 1466h10M5035 1468h10M5067 1472h10M5070 1472h10M5087 1466h10M1195 1485h10M1197 1484h10M1217 1478h10M1218 1482h10M1405 1480h10M1435 1479h10M1438 1478h10M1442 1475h10M1443 1477h10M1446 1484h10M1456 1475h10M4414 1480h10M4477 1478h10M4866 1478h10M4874 1484h10M4902 1485h10M4922 1476h10M4933 1482h10M5019 1479h10M5087 1479h10M1204 1488h10M1207 1489h10M1213 1490h10M1214 1487h10M1217 1489h10M1406 1489h10M4351 1494h10M4457 1486h10M4785 1494h10M4877 1493h10M4879 1493h10M4890 1487h10M4916 1494h10M4927 1486h10M4978 1493h10M1210 1497h10M1219 1504h10M1409 1497h10M1411 1504h10M1419 1498h10M1422 1501h10M1423 1495h10M1426 1502h10M1429 1502h10M1431 1505h10M4418 1497h10M4473 1499h10M4801 1497h10M4808 1495h10M4872 1497h10M4891 1502h10M4940 1496h10M4943 1498h10M4964 1499h10M4988 1502h10M4996 1499h10M5034 1496h10M5035 1496h10M5132 1501h10M1192 1509h10M1201 1513h10M1202 1510h10M1216 1513h10M1233 1512h10M1417 1515h10M4311 1506h10M4416 1512h10M4421 1509h10M4438 1511h10M4517 1509h10M4808 1511h10M4871 1515h10M4881 1510h10M4962 1505h10M4981 1507h10M5005 1507h10M5031 1508h10M5067 1509h10M1188 1521h10M1205 1522h10M1205 1516h10M1207 1516h10M1215 1522h10M1404 1515h10M1417 1520h10M1423 1522h10M1424 1515h10M1433 1524h10M4338 1516h10M4351 1521h10M4376 1515h10M4387 1516h10M4439 1518h10M4812 1524h10M4883 1517h10M4907 1522h10M4925 1524h10M4941 1523h10M4954 1520h10M4976 1525h10M4988 1518h10M5010 1523h10M5028 1519h10M1187 1526h10M1193 1535h10M1194 1531h10M1197 1531h10M1212 1525h10M1216 1532h10M1404 1534h10M1405 1530h10M1408 1528h10M1409 1532h10M1413 1529h10M1424 1530h10M4201 1531h10M4279 1529h10M4282 1530h10M4286 1534h10M4300 1532h10M4343 1531h10M4370 1530h10M4414 1530h10M4437 1532h10M4782 1534h10M4842 1527h10M4901 1532h10M4903 1533h10M4934 1531h10M4979 1531h10M5003 1529h10M5010 1529h10M5023 1534h10M5046 1528h10M1401 1536h10M1406 1537h10M1411 1539h10M1415 1540h10M1419 1539h10M1423 1536h10M1427 1543h10M4201 1536h10M4236 1536h10M4246 1544h10M4271 1538h10M4298 1545h10M4327 1538h10M4336 1537h10M4419 1536h10M4452 1536h10M4798 1536h10M4865 1539h10M4878 1537h10M4881 1541h10M4894 1545h10M4948 1542h10M5039 1539h10M1186 1550h10M1193 1552h10M1199 1548h10M1204 1548h10M1206 1552h10M1383 1548h10M1396 1553h10M1402 1546h10M1410 1552h10M1413 1549h10M4257 1554h10M4296 1549h10M4313 1545h10M4375 1553h10M4425 1551h10M4836 1555h10M4837 1547h10M4846 1546h10M4847 1551h10M4907 1549h10M4935 1546h10M4956 1547h10M4966 1552h10M4970 1547h10M4979 1555h10M4981 1551h10M5062 1551h10M1177 1561h10M1185 1564h10M1189 1560h10M1202 1558h10M1204 1560h10M1207 1557h10M1382 1559h10M1389 1561h10M1390 1564h10M1392 1563h10M1395 1559h10M1409 1564h10M4143 1564h10M4263 1562h10M4329 1557h10M4335 1557h10M4376 1565h10M4829 1558h10M4848 1565h10M4860 1565h10M4864 1558h10M4898 1563h10M4919 1556h10M5003 1560h10M5003 1564h10M1173 1572h10M1180 1566h10M1191 1571h10M1192 1570h10M1194 1570h10M1198 1570h10M1199 1574h10M1201 1572h10M1201 1567h10M1202 1571h10M1203 1567h10M1207 1565h10M1378 1575h10M1391 1570h10M1399 1572h10M1405 1566h10M4161 1572h10M4170 1566h10M4201 1566h10M4208 1567h10M4290 1575h10M4668 1574h10M4750 1573h10M4778 1572h10M4796 1575h10M4851 1570h10M4876 1574h10M4899 1568h10M4902 1575h10M4942 1566h10M4958 1573h10M4990 1566h10M4997 1573h10M5033 1569h10M1165 1580h10M1189 1584h10M1196 1580h10M1196 1583h10M1199 1580h10M1390 1582h10M1401 1577h10M4129 1582h10M4180 1581h10M4279 1584h10M4305 1583h10M4363 1585h10M4372 1581h10M4748 1582h10M4844 1584h10M4899 1576h10M4908 1579h10M4909 1580h10M4915 1582h10M4925 1581h10M4929 1576h10M4962 1584h10M1178 1585h10M1199 1590h10M1199 1591h10M1210 1586h10M1368 1587h10M1369 1589h10M1370 1594h10M1375 1590h10M1379 1595h10M1379 1590h10M1380 1588h10M1386 1592h10M1388 1591h10M4129 1592h10M4185 1592h10M4196 1595h10M4220 1590h10M4234 1589h10M4714 1588h10M4736 1594h10M4764 1589h10M4812 1594h10M4822 1588h10M4835 1590h10M4875 1585h10M4931 1591h10M4967 1586h10M4973 1592h10M1177 1602h10M1178 1598h10M1180 1597h10M1186 1603h10M1187 1600h10M1188 1596h10M1191 1605h10M1212 1599h10M1382 1601h10M1385 1596h10M1385 1597h10M1386 1605h10M1393 1602h10M4096 1604h10M4109 1599h10M4112 1603h10M4129 1600h10M4211 1598h10M4241 1602h10M4254 1599h10M4337 1600h10M4844 1602h10M4878 1602h10M4917 1599h10M4935 1597h10M4956 1602h10M4969 1605h10M1162 1609h10M1174 1612h10M1181 1612h10M1183 1611h10M1185 1614h10M1190 1612h10M1199 1609h10M1363 1614h10M1373 1609h10M1374 1612h10M1376 1614h10M1387 1614h10M1403 1606h10M4097 1606h10M4226 1615h10M4258 1614h10M4287 1610h10M4303 1607h10M4351 1610h10M4752 1610h10M4780 1605h10M4840 1606h10M4855 1608h10M4884 1608h10M4945 1613h10M4949 1615h10M4955 1612h10M4982 1614h10M4984 1612h10M1163 1622h10M1166 1622h10M1173 1620h10M1175 1617h10M1179 1620h10M1195 1615h10M1371 1617h10M1377 1624h10M1380 1619h10M1380 1616h10M1389 1623h10M4126 1622h10M4209 1621h10M4226 1616h10M4754 1619h10M4810 1624h10M4831 1624h10M4868 1618h10M4872 1622h10M4886 1616h10M4966 1622h10M4984 1616h10M4985 1620h10M1152 1634h10M1158 1628h10M1165 1626h10M1177 1634h10M1180 1625h10M1365 1629h10M1378 1626h10M1386 1632h10M1387 1628h10M4132 1625h10M4139 1633h10M4157 1635h10M4209 1632h10M4225 1632h10M4262 1628h10M4266 1632h10M4283 1629h10M4719 1633h10M4755 1633h10M4779 1630h10M4797 1633h10M4872 1629h10M4913 1630h10M4928 1632h10M4942 1634h10M1158 1635h10M1166 1645h10M1172 1645h10M1172 1639h10M1181 1641h10M1189 1637h10M1347 1641h10M1349 1644h10M1349 1640h10M1361 1639h10M1362 1643h10M1365 1635h10M1371 1638h10M1383 1640h10M1383 1636h10M4115 1636h10M4143 1643h10M4146 1637h10M4147 1640h10M4147 1640h10M4155 1643h10M4213 1645h10M4219 1645h10M4250 1639h10M4256 1640h10M4690 1640h10M4772 1643h10M4786 1638h10M4796 1637h10M4851 1636h10M4927 1643h10M4937 1643h10M4942 1645h10M5032 1636h10M1142 1654h10M1151 1647h10M1157 1646h10M1163 1653h10M1167 1653h10M1347 1654h10M1351 1649h10M1354 1650h10M1363 1651h10M1367 1647h10M1376 1655h10M1384 1646h10M4098 1653h10M4118 1649h10M4122 1646h10M4168 1645h10M4175 1648h10M4180 1650h10M4191 1653h10M4685 1654h10M4727 1647h10M4729 1651h10M4761 1652h10M4792 1655h10M4843 1651h10M4872 1655h10M4887 1646h10M4907 1650h10M4928 1650h10M4962 1647h10M4962 1646h10M4963 1649h10M5005 1651h10M5047 1652h10M1153 1664h10M1155 1658h10M1159 1661h10M1163 1655h10M1165 1660h10M1169 1660h10M1171 1664h10M1186 1663h10M1358 1663h10M1362 1656h10M1370 1665h10M4100 1661h10M4142 1663h10M4170 1663h10M4171 1660h10M4200 1665h10M4724 1663h10M4741 1655h10M4746 1657h10M4763 1657h10M4781 1657h10M4840 1662h10M4872 1657h10M4900 1662h10M4903 1662h10M4905 1663h10M4965 1658h10M1142 1673h10M1159 1671h10M1163 1666h10M1164 1671h10M1168 1670h10M1168 1672h10M1175 1669h10M1188 1672h10M1338 1673h10M1343 1671h10M1348 1674h10M1353 1671h10M1353 1667h10M1356 1672h10M1367 1667h10M4099 1665h10M4111 1671h10M4112 1672h10M4112 1670h10M4126 1671h10M4128 1671h10M4131 1671h10M4138 1675h10M4140 1671h10M4140 1675h10M4147 1675h10M4148 1669h10M4154 1675h10M4157 1672h10M4163 1673h10M4169 1675h10M4173 1674h10M4175 1675h10M4180 1674h10M4198 1669h10M4205 1670h10M4220 1667h10M4225 1670h10M4234 1668h10M4242 1672h10M4245 1671h10M4254 1671h10M4737 1671h10M4741 1672h10M4750 1669h10M4784 1669h10M4788 1670h10M4789 1674h10M4798 1666h10M4804 1671h10M4829 1666h10M4831 1672h10M4842 1671h10M4868 1675h10M4960 1666h10M1140 1683h10M1155 1677h10M1156 1684h10M1162 1678h10M1165 1675h10M1334 1683h10M1336 1683h10M1340 1680h10M1341 1676h10M1348 1676h10M1349 1683h10M1361 1683h10M1367 1684h10M4097 1681h10M4102 1681h10M4108 1678h10M4111 1683h10M4113 1678h10M4119 1675h10M4122 1677h10M4136 1681h10M4137 1678h10M4138 1681h10M4139 1683h10M4153 1675h10M4159 1681h10M4161 1678h10M4169 1683h10M4172 1678h10M4175 1679h10M4177 1681h10M4181 1682h10M4185 1685h10M4197 1675h10M4199 1677h10M4201 1681h10M4204 1676h10M4205 1681h10M4222 1681h10M4252 1677h10M4680 1681h10M4699 1676h10M4709 1684h10M4712 1682h10M4759 1676h10M4785 1681h10M4805 1680h10M4826 1685h10M4868 1676h10M4887 1681h10M4915 1682h10M4930 1677h10M1153 1691h10M1153 1687h10M1155 1687h10M1158 1687h10M1164 1694h10M1339 1691h10M1341 1690h10M1342 1688h10M1343 1688h10M1349 1690h10M1356 1692h10M4139 1686h10M4181 1685h10M4667 1693h10M4691 1688h10M4699 1689h10M4706 1686h10M4745 1694h10M4765 1693h10M4798 1690h10M4802 1685h10M4819 1689h10M4844 1688h10M4848 1688h10M4860 1687h10M4862 1690h10M4875 1687h10M4938 1685h10M1144 1697h10M1148 1696h10M1157 1699h10M1167 1698h10M1176 1700h10M1305 1704h10M1328 1697h10M1338 1701h10M1342 1695h10M1350 1701h10M1359 1698h10M4175 1696h10M4671 1703h10M4720 1701h10M4744 1703h10M4781 1701h10M4786 1705h10M4815 1702h10M4833 1700h10M4849 1695h10M4851 1696h10M4862 1696h10M4874 1699h10M1143 1707h10M1143 1713h10M1153 1710h10M1157 1713h10M1320 1713h10M1327 1710h10M1332 1715h10M1335 1707h10M1346 1709h10M4640 1713h10M4725 1708h10M4747 1710h10M4750 1710h10M4831 1707h10M4887 1714h10M4899 1709h10M4907 1708h10M4922 1711h10M4947 1708h10M4986 1706h10M1139 1722h10M1140 1723h10M1142 1725h10M1143 1724h10M1145 1722h10M1148 1723h10M1157 1718h10M1168 1716h10M1311 1720h10M1311 1718h10M1321 1716h10M1329 1723h10M1350 1717h10M4654 1719h10M4705 1718h10M4709 1716h10M4775 1721h10M4795 1720h10M4820 1716h10M4834 1716h10M4864 1724h10M4866 1717h10M4894 1716h10M4903 1717h10M4930 1719h10M4934 1723h10M1128 1725h10M1131 1735h10M1141 1734h10M1145 1727h10M1156 1731h10M1170 1726h10M1315 1730h10M1318 1727h10M1322 1729h10M1332 1726h10M1333 1730h10M1333 1727h10M1334 1734h10M1335 1734h10M1337 1734h10M1340 1735h10M4574 1729h10M4676 1734h10M4689 1731h10M4715 1735h10M4776 1731h10M4820 1728h10M4823 1731h10M4875 1727h10M4908 1733h10M4933 1731h10M1122 1736h10M1125 1742h10M1132 1739h10M1159 1735h10M1316 1738h10M1316 1736h10M1324 1738h10M4690 1738h10M4722 1743h10M4724 1740h10M4759 1744h10M4760 1736h10M4764 1736h10M4767 1740h10M4783 1743h10M4800 1740h10M4819 1740h10M4830 1739h10M4848 1735h10M4849 1741h10M4887 1741h10M4894 1745h10M1126 1754h10M1142 1745h10M1307 1747h10M1307 1746h10M1308 1755h10M1310 1754h10M1331 1754h10M1337 1748h10M1342 1748h10M4627 1751h10M4649 1752h10M4701 1747h10M4730 1753h10M4747 1746h10M4754 1746h10M4813 1751h10M4825 1751h10M4833 1746h10M4838 1745h10M4917 1748h10M1109 1759h10M1109 1760h10M1126 1764h10M1131 1756h10M1135 1763h10M1139 1763h10M1140 1763h10M1142 1763h10M1145 1756h10M1150 1762h10M1303 1761h10M1313 1765h10M1315 1759h10M1319 1765h10M1320 1762h10M1323 1759h10M1324 1759h10M4600 1762h10M4630 1765h10M4668 1760h10M4695 1760h10M4705 1756h10M4717 1757h10M4762 1756h10M4852 1763h10M4892 1763h10M1110 1766h10M1131 1767h10M1136 1769h10M1137 1767h10M1153 1765h10M1154 1774h10M1295 1773h10M1302 1772h10M1305 1773h10M1315 1769h10M1317 1771h10M1329 1769h10M1349 1775h10M4621 1771h10M4644 1774h10M4655 1767h10M4670 1773h10M4687 1770h10M4702 1769h10M4710 1774h10M4727 1772h10M4740 1769h10M4746 1771h10M4755 1775h10M4769 1773h10M4771 1774h10M4782 1768h10M4794 1767h10M4819 1773h10M4831 1766h10M4833 1765h10M4834 1767h10M4836 1773h10M4836 1772h10M4869 1772h10M4902 1774h10M4903 1769h10M1117 1782h10M1122 1780h10M1125 1783h10M1129 1780h10M1129 1783h10M1130 1784h10M1134 1781h10M1138 1779h10M1139 1785h10M1144 1778h10M1280 1780h10M1292 1780h10M1295 1780h10M1300 1779h10M1303 1782h10M1307 1779h10M1308 1777h10M1309 1785h10M1319 1784h10M1319 1782h10M1321 1780h10M1324 1778h10M4636 1776h10M4698 1775h10M4704 1783h10M4768 1784h10M4788 1777h10M4863 1785h10M4897 1785h10M4900 1781h10M1125 1790h10M1126 1787h10M1130 1792h10M1130 1791h10M1131 1786h10M1140 1795h10M1298 1786h10M1303 1794h10M1306 1787h10M1308 1793h10M1311 1789h10M1314 1790h10M4633 1791h10M4652 1795h10M4693 1794h10M4729 1790h10M4744 1794h10M4746 1792h10M4786 1791h10M4789 1790h10M4790 1787h10M4810 1787h10M4812 1789h10M4819 1794h10M4834 1789h10M4849 1793h10M4863 1788h10M4879 1794h10M4907 1787h10M1119 1803h10M1120 1795h10M1129 1798h10M1131 1801h10M1149 1798h10M1154 1798h10M1280 1803h10M1300 1802h10M1312 1800h10M1324 1803h10M1327 1803h10M4708 1798h10M4741 1802h10M4749 1802h10M4757 1799h10M4774 1799h10M4795 1802h10M4803 1800h10M4805 1804h10M4819 1801h10M4821 1803h10M4821 1803h10M4830 1803h10M4899 1804h10M1111 1805h10M1115 1806h10M1118 1812h10M1122 1807h10M1126 1805h10M1133 1811h10M1134 1812h10M1281 1808h10M1292 1810h10M1297 1811h10M1297 1811h10M1298 1810h10M1299 1809h10M1303 1813h10M1305 1808h10M1311 1809h10M4609 1813h10M4627 1808h10M4640 1813h10M4664 1812h10M4678 1811h10M4693 1808h10M4733 1809h10M4797 1812h10M4804 1814h10M4830 1813h10M4841 1808h10M4876 1809h10M4880 1808h10M4888 1807h10M4901 1812h10M4935 1813h10M1101 1821h10M1105 1818h10M1120 1819h10M1126 1824h10M1127 1820h10M1291 1815h10M1298 1822h10M4591 1825h10M4624 1820h10M4633 1818h10M4638 1817h10M4640 1817h10M4658 1823h10M4676 1815h10M4679 1821h10M4687 1820h10M4691 1819h10M4700 1822h10M4705 1822h10M4717 1824h10M4753 1820h10M4757 1818h10M4757 1823h10M4778 1817h10M4802 1815h10M4813 1819h10M4813 1822h10M4818 1815h10M4822 1823h10M4828 1816h10M4840 1821h10M4852 1818h10M4906 1819h10M1106 1832h10M1108 1827h10M1117 1827h10M1119 1827h10M1135 1827h10M1146 1830h10M1281 1826h10M1286 1833h10M1295 1828h10M1296 1829h10M1306 1827h10M4619 1826h10M4624 1832h10M4631 1834h10M4647 1833h10M4720 1831h10M4732 1828h10M4733 1827h10M4748 1835h10M4792 1833h10M4795 1826h10M4814 1831h10M4815 1834h10M4823 1829h10M4836 1828h10M4838 1830h10M4882 1826h10M4916 1826h10M4916 1832h10M1094 1843h10M1105 1840h10M1111 1843h10M1112 1841h10M1112 1839h10M1112 1840h10M1113 1837h10M1122 1842h10M1123 1844h10M1127 1836h10M1268 1841h10M1283 1838h10M1283 1845h10M1289 1841h10M1293 1835h10M1294 1837h10M1296 1839h10M4652 1837h10M4653 1837h10M4671 1837h10M4681 1836h10M4686 1841h10M4691 1839h10M4711 1837h10M4760 1843h10M4801 1843h10M4809 1838h10M4809 1836h10M4812 1842h10M4825 1842h10M4847 1842h10M4869 1837h10M4870 1839h10M1090 1847h10M1106 1851h10M1108 1849h10M1109 1846h10M1109 1851h10M1118 1850h10M1123 1848h10M1126 1849h10M1262 1852h10M1277 1845h10M1302 1853h10M1305 1852h10M4331 1847h10M4561 1846h10M4638 1848h10M4653 1854h10M4685 1849h10M4702 1847h10M4705 1855h10M4706 1848h10M4707 1845h10M4711 1846h10M4723 1847h10M4750 1852h10M4753 1846h10M4775 1851h10M4787 1850h10M4796 1852h10M4813 1849h10M4814 1850h10M4838 1849h10M4859 1850h10M4875 1854h10M4910 1848h10M1083 1859h10M1094 1859h10M1096 1857h10M1101 1858h10M1101 1857h10M1103 1858h10M1112 1859h10M1117 1863h10M1265 1863h10M1269 1859h10M1272 1858h10M1277 1861h10M1291 1860h10M1291 1856h10M4517 1860h10M4635 1857h10M4643 1865h10M4645 1861h10M4653 1860h10M4657 1862h10M4664 1864h10M4773 1865h10M4797 1860h10M4801 1862h10M4815 1861h10M4821 1855h10M4845 1861h10M4867 1859h10M1093 1870h10M1094 1866h10M1103 1869h10M1105 1872h10M1107 1868h10M1112 1868h10M1122 1872h10M1263 1873h10M1264 1874h10M1266 1874h10M1267 1868h10M1268 1866h10M1272 1869h10M1283 1869h10M1285 1867h10M1286 1871h10M1286 1867h10M4544 1872h10M4672 1874h10M4694 1865h10M4739 1870h10M4770 1873h10M4781 1874h10M4797 1865h10M4865 1875h10M1085 1880h10M1087 1883h10M1092 1885h10M1107 1876h10M1111 1884h10M1269 1876h10M1272 1883h10M1286 1878h10M1297 1882h10M4554 1879h10M4583 1884h10M4610 1883h10M4626 1880h10M4646 1881h10M4679 1877h10M4700 1879h10M4707 1883h10M4708 1883h10M4737 1877h10M4738 1879h10M4744 1875h10M4747 1882h10M4757 1878h10M4791 1878h10M4813 1878h10M4871 1885h10M1087 1893h10M1089 1893h10M1092 1889h10M1097 1893h10M1097 1887h10M1097 1894h10M1098 1885h10M1099 1891h10M1102 1889h10M1254 1895h10M1266 1892h10M1276 1887h10M1277 1886h10M1277 1893h10M4510 1886h10M4538 1890h10M4589 1894h10M4635 1892h10M4657 1889h10M4676 1887h10M4713 1886h10M4734 1892h10M4761 1894h10M4766 1890h10M4816 1888h10M4822 1886h10M4825 1887h10M4846 1894h10M4862 1894h10M1089 1901h10M1102 1905h10M1105 1904h10M1117 1903h10M1262 1904h10M1273 1900h10M1275 1898h10M1280 1901h10M1289 1905h10M4559 1895h10M4591 1900h10M4616 1898h10M4623 1902h10M4638 1904h10M4661 1905h10M4662 1897h10M4683 1898h10M4692 1900h10M4694 1903h10M4712 1898h10M4714 1899h10M4749 1900h10M4772 1901h10M4809 1904h10M4820 1897h10M4825 1898h10M4838 1900h10M4881 1896h10M1065 1909h10M1085 1913h10M1088 1909h10M1090 1906h10M1091 1907h10M1106 1914h10M1110 1911h10M1122 1908h10M1252 1911h10M1253 1907h10M1268 1906h10M1274 1906h10M1277 1906h10M1282 1906h10M1288 1913h10M4605 1905h10M4640 1908h10M4652 1906h10M4680 1909h10M4696 1912h10M4735 1910h10M4743 1907h10M4753 1907h10M4799 1909h10M4810 1912h10M4836 1913h10M1086 1918h10M1088 1922h10M1100 1924h10M1232 1922h10M1245 1919h10M1256 1920h10M1264 1917h10M1267 1918h10M1268 1918h10M4571 1923h10M4609 1922h10M4638 1923h10M4655 1919h10M4685 1925h10M4694 1919h10M4698 1919h10M4739 1923h10M4741 1920h10M4741 1921h10M4748 1915h10M4771 1916h10M4771 1918h10M4783 1925h10M4792 1920h10M4793 1924h10M4800 1919h10M4832 1919h10M4855 1920h10M4894 1922h10M1068 1930h10M1080 1928h10M1080 1930h10M1080 1927h10M1082 1934h10M1085 1929h10M1097 1933h10M1098 1930h10M1107 1935h10M1244 1932h10M1247 1931h10M1250 1925h10M1252 1931h10M1261 1926h10M1263 1928h10M1265 1931h10M1266 1933h10M1266 1927h10M4557 1934h10M4613 1925h10M4634 1928h10M4646 1933h10M4677 1929h10M4689 1927h10M4693 1931h10M4701 1932h10M4705 1929h10M4737 1931h10M4738 1925h10M4792 1928h10M4794 1927h10M4871 1928h10M1066 1943h10M1082 1942h10M1084 1945h10M1105 1939h10M1253 1941h10M1256 1937h10M1258 1940h10M1259 1936h10M1267 1940h10M1273 1939h10M1281 1940h10M4491 1936h10M4561 1939h10M4581 1939h10M4632 1937h10M4640 1938h10M4654 1938h10M4655 1937h10M4671 1937h10M4679 1936h10M4707 1939h10M4721 1944h10M4762 1944h10M4764 1938h10M4767 1939h10M4839 1937h10M4848 1936h10M1068 1954h10M1080 1951h10M1081 1946h10M1086 1949h10M1088 1949h10M1094 1951h10M1116 1953h10M1235 1953h10M1239 1954h10M1240 1955h10M1243 1951h10M1245 1950h10M1249 1953h10M1251 1948h10M1253 1949h10M1254 1950h10M1258 1955h10M1261 1946h10M1263 1954h10M1264 1945h10M4579 1947h10M4619 1949h10M4627 1949h10M4641 1949h10M4645 1950h10M4658 1955h10M4668 1950h10M4669 1954h10M4676 1948h10M4677 1945h10M4723 1945h10M4740 1949h10M4758 1950h10M4768 1946h10M4781 1951h10M4788 1951h10M4802 1947h10M4829 1954h10M1073 1964h10M1076 1957h10M1079 1963h10M1089 1965h10M1095 1961h10M1247 1956h10M1257 1957h10M1260 1957h10M4541 1955h10M4565 1960h10M4567 1963h10M4575 1965h10M4582 1959h10M4614 1958h10M4614 1963h10M4629 1956h10M4651 1958h10M4678 1956h10M4713 1956h10M4740 1956h10M4750 1960h10M4763 1959h10M4765 1955h10M4767 1956h10M4776 1959h10M4782 1962h10M4787 1962h10M4801 1960h10M4849 1955h10M1067 1969h10M1073 1973h10M1083 1972h10M1085 1974h10M1095 1966h10M1096 1972h10M1097 1971h10M1098 1971h10M1225 1970h10M1245 1968h10M1256 1972h10M1257 1971h10M1259 1972h10M1259 1974h10M4565 1966h10M4595 1966h10M4622 1971h10M4640 1970h10M4641 1969h10M4675 1973h10M4708 1967h10M4710 1968h10M4732 1974h10M4735 1974h10M4740 1970h10M4750 1966h10M4755 1965h10M4762 1970h10M4788 1965h10M4788 1973h10M4809 1973h10M4809 1965h10M4842 1967h10M1066 1984h10M1081 1984h10M1083 1981h10M1085 1980h10M1093 1978h10M1245 1981h10M1247 1980h10M1254 1981h10M4563 1983h10M4585 1982h10M4595 1976h10M4597 1983h10M4602 1979h10M4632 1981h10M4634 1978h10M4693 1978h10M4721 1978h10M4736 1977h10M4742 1980h10M4751 1982h10M4775 1978h10M4778 1980h10M4791 1983h10M4796 1984h10M4826 1982h10M4829 1985h10M4833 1983h10M4841 1984h10M4844 1983h10M1063 1992h10M1079 1991h10M1083 1992h10M1087 1993h10M1088 1992h10M1237 1988h10M1239 1993h10M1240 1986h10M1259 1988h10M1262 1987h10M4527 1993h10M4572 1992h10M4601 1989h10M4603 1987h10M4633 1991h10M4699 1990h10M4705 1992h10M4714 1991h10M4721 1986h10M4787 1986h10M4794 1988h10M1068 2004h10M1073 2000h10M1078 2004h10M1084 1995h10M1230 2001h10M1232 2005h10M1237 1997h10M1245 2003h10M1246 2003h10M1248 1995h10M1250 1996h10M4529 1998h10M4569 1999h10M4574 2001h10M4578 1997h10M4600 2005h10M4606 1998h10M4607 2001h10M4641 2000h10M4643 1997h10M4647 2003h10M4660 1998h10M4684 2002h10M4691 2005h10M4719 1997h10M4727 2000h10M4782 2004h10M4791 1995h10M4804 2004h10M4822 2004h10M1060 2011h10M1072 2008h10M1076 2015h10M1079 2006h10M1086 2012h10M1091 2009h10M1227 2007h10M1229 2008h10M1232 2007h10M1233 2014h10M1236 2006h10M1242 2014h10M1246 2014h10M1249 2015h10M1251 2013h10M4506 2011h10M4515 2007h10M4540 2014h10M4545 2013h10M4553 2006h10M4630 2011h10M4645 2013h10M4657 2013h10M4679 2007h10M4688 2011h10M4690 2014h10M4710 2010h10M4721 2012h10M4744 2006h10M4766 2010h10M4785 2012h10M4790 2005h10M4804 2009h10M4837 2014h10M4839 2011h10M4863 2008h10M1052 2021h10M1055 2018h10M1071 2022h10M1083 2023h10M1246 2020h10M1246 2023h10M1247 2020h10M1253 2018h10M1257 2023h10M1259 2016h10M1263 2018h10M1264 2022h10M4452 2016h10M4538 2017h10M4552 2023h10M4581 2017h10M4596 2020h10M4607 2018h10M4635 2020h10M4637 2023h10M4640 2016h10M4653 2017h10M4660 2019h10M4673 2025h10M4674 2019h10M4677 2023h10M4678 2019h10M4720 2018h10M4753 2019h10M4811 2015h10M4820 2017h10M1070 2026h10M1074 2028h10M1076 2028h10M1085 2032h10M1086 2032h10M1093 2033h10M1227 2031h10M1232 2034h10M1233 2029h10M1235 2029h10M1235 2026h10M1236 2026h10M1237 2026h10M1239 2026h10M1248 2029h10M4272 2029h10M4540 2035h10M4551 2032h10M4557 2031h10M4593 2028h10M4609 2031h10M4614 2035h10M4624 2030h10M4637 2026h10M4661 2032h10M4687 2028h10M4692 2033h10M4697 2033h10M4707 2030h10M4717 2033h10M4721 2030h10M4736 2031h10M4738 2033h10M4764 2029h10M4783 2035h10M4789 2027h10M4797 2028h10M4815 2026h10M4820 2034h10M4854 2028h10M1060 2039h10M1067 2043h10M1072 2044h10M1078 2039h10M1078 2036h10M1091 2043h10M1094 2042h10M1226 2044h10M1234 2041h10M1238 2035h10M1245 2041h10M4469 2040h10M4474 2044h10M4502 2037h10M4509 2045h10M4539 2039h10M4569 2043h10M4573 2038h10M4576 2044h10M4582 2036h10M4622 2043h10M4629 2036h10M4631 2040h10M4656 2035h10M4697 2043h10M4717 2036h10M4727 2043h10M4734 2035h10M4735 2040h10M4736 2038h10M4792 2043h10M4808 2042h10M1047 2055h10M1057 2049h10M1064 2049h10M1067 2055h10M1072 2048h10M1076 2053h10M1080 2052h10M1080 2053h10M1081 2054h10M1083 2051h10M1093 2047h10M1231 2054h10M1234 2054h10M1242 2053h10M1256 2049h10M4425 2046h10M4482 2055h10M4525 2046h10M4539 2053h10M4567 2055h10M4575 2052h10M4600 2046h10M4608 2049h10M4610 2054h10M4620 2049h10M4652 2054h10M4668 2047h10M4670 2052h10M4679 2049h10M4700 2048h10M4724 2054h10M4754 2048h10M4782 2045h10M4786 2047h10M4796 2051h10M1047 2062h10M1061 2055h10M1064 2059h10M1069 2059h10M1224 2059h10M1226 2058h10M1229 2058h10M1242 2057h10M1251 2058h10M4478 2057h10M4497 2057h10M4505 2065h10M4534 2057h10M4548 2062h10M4558 2061h10M4576 2056h10M4585 2060h10M4610 2057h10M4613 2058h10M4675 2065h10M4732 2065h10M4752 2055h10M4755 2060h10M4782 2055h10M4788 2065h10M4826 2056h10M1052 2068h10M1056 2070h10M1059 2075h10M1062 2067h10M1098 2070h10M1204 2070h10M1207 2074h10M1219 2073h10M1220 2068h10M1227 2066h10M1230 2072h10M1243 2070h10M4525 2075h10M4526 2069h10M4537 2066h10M4541 2073h10M4549 2075h10M4555 2068h10M4598 2070h10M4600 2066h10M4613 2074h10M4614 2067h10M4631 2070h10M4633 2066h10M4635 2069h10M4663 2071h10M4686 2072h10M4719 2067h10M4719 2072h10M4724 2069h10M4732 2073h10M4736 2073h10M4771 2066h10M4783 2067h10M1045 2080h10M1058 2080h10M1068 2084h10M1069 2083h10M1071 2085h10M1079 2085h10M1086 2084h10M1216 2077h10M1230 2084h10M1259 2080h10M4497 2077h10M4550 2081h10M4570 2077h10M4581 2078h10M4582 2081h10M4598 2075h10M4603 2085h10M4623 2082h10M4626 2083h10M4631 2082h10M4632 2084h10M4659 2083h10M4683 2082h10M4699 2083h10M4713 2080h10M4715 2084h10M4732 2083h10M4755 2076h10M4773 2083h10M1058 2087h10M1065 2093h10M1067 2086h10M1070 2087h10M1073 2086h10M1074 2092h10M1075 2090h10M1078 2087h10M1094 2086h10M1204 2087h10M1213 2089h10M1215 2087h10M1219 2089h10M1221 2093h10M1226 2090h10M1231 2090h10M1236 2090h10M4486 2087h10M4526 2092h10M4538 2087h10M4543 2091h10M4573 2092h10M4579 2086h10M4583 2094h10M4592 2088h10M4594 2093h10M4601 2086h10M4620 2089h10M4625 2088h10M4631 2091h10M4638 2086h10M4652 2091h10M4676 2088h10M4680 2090h10M4755 2092h10M4766 2088h10M4772 2085h10M4801 2090h10M4837 2094h10M1049 2101h10M1051 2096h10M1054 2096h10M1061 2102h10M1062 2101h10M1068 2102h10M1068 2105h10M1071 2101h10M1079 2104h10M1085 2098h10M1211 2104h10M1217 2101h10M1241 2096h10M1249 2102h10M4521 2099h10M4559 2096h10M4560 2103h10M4573 2101h10M4577 2096h10M4578 2099h10M4601 2105h10M4604 2102h10M4639 2104h10M4664 2095h10M4672 2103h10M4681 2101h10M4785 2103h10M1046 2107h10M1050 2112h10M1055 2106h10M1056 2111h10M1059 2110h10M1061 2111h10M1074 2110h10M1074 2105h10M1077 2110h10M1215 2107h10M1228 2111h10M1231 2112h10M1260 2106h10M4487 2110h10M4513 2105h10M4513 2109h10M4519 2112h10M4524 2110h10M4578 2107h10M4599 2115h10M4601 2111h10M4604 2106h10M4625 2112h10M4633 2106h10M4647 2106h10M4667 2113h10M4685 2114h10M4702 2109h10M4722 2114h10M4722 2114h10M4753 2112h10M4760 2107h10M4763 2110h10M4773 2115h10M1045 2123h10M1046 2124h10M1060 2119h10M1065 2116h10M1070 2117h10M1070 2122h10M1073 2117h10M1201 2121h10M1207 2115h10M1219 2122h10M4469 2118h10M4520 2116h10M4525 2124h10M4534 2123h10M4543 2115h10M4556 2118h10M4564 2120h10M4569 2125h10M4576 2118h10M4585 2125h10M4588 2122h10M4607 2118h10M4628 2116h10M4657 2123h10M4684 2125h10M4704 2121h10M4712 2122h10M4736 2118h10M4753 2121h10M4754 2125h10M4769 2117h10M1047 2128h10M1051 2133h10M1059 2127h10M1060 2129h10M1068 2133h10M1069 2127h10M1070 2128h10M1071 2131h10M1081 2128h10M1212 2135h10M1213 2127h10M1217 2134h10M1221 2131h10M1226 2129h10M1230 2132h10M4482 2127h10M4495 2125h10M4523 2128h10M4529 2132h10M4544 2126h10M4546 2135h10M4551 2133h10M4563 2127h10M4569 2127h10M4581 2130h10M4592 2131h10M4641 2130h10M4646 2135h10M4652 2132h10M4659 2132h10M4673 2135h10M4692 2128h10M4702 2134h10M4719 2127h10M4720 2133h10M4737 2134h10M4738 2129h10M4779 2133h10M4780 2126h10M4803 2130h10M1040 2145h10M1043 2136h10M1054 2138h10M1058 2138h10M1059 2139h10M1078 2140h10M1206 2142h10M1228 2143h10M1234 2138h10M4490 2141h10M4494 2143h10M4504 2145h10M4520 2136h10M4562 2139h10M4577 2139h10M4604 2140h10M4632 2144h10M4634 2143h10M4634 2135h10M4653 2136h10M4666 2138h10M4686 2143h10M4687 2141h10M4757 2137h10M4757 2140h10M4776 2136h10M1039 2148h10M1051 2154h10M1054 2153h10M1055 2151h10M1062 2155h10M1065 2153h10M1068 2155h10M1192 2154h10M1201 2150h10M1209 2148h10M4433 2147h10M4434 2152h10M4485 2148h10M4510 2150h10M4519 2145h10M4540 2154h10M4553 2153h10M4578 2152h10M4606 2149h10M4608 2151h10M4624 2151h10M4635 2152h10M4638 2151h10M4647 2152h10M4655 2152h10M4665 2147h10M4675 2153h10M4723 2154h10M4737 2146h10M4740 2153h10M4750 2154h10M4760 2148h10M4774 2146h10M4808 2145h10M1040 2158h10M1040 2159h10M1042 2163h10M1046 2162h10M1048 2165h10M1055 2164h10M1055 2156h10M1059 2162h10M1059 2156h10M1066 2164h10M1070 2162h10M1187 2158h10M1200 2159h10M1207 2162h10M1208 2162h10M1210 2164h10M1210 2165h10M1211 2161h10M1221 2162h10M1222 2162h10M1224 2164h10M4440 2160h10M4453 2156h10M4483 2162h10M4492 2163h10M4559 2162h10M4584 2159h10M4599 2163h10M4603 2160h10M4603 2156h10M4641 2164h10M4644 2155h10M4677 2158h10M4708 2156h10M4715 2157h10M4722 2165h10M4725 2165h10M4742 2157h10M4749 2156h10M4777 2156h10M1047 2171h10M1049 2166h10M1050 2172h10M1050 2170h10M1053 2175h10M1053 2170h10M1055 2169h10M1202 2167h10M1209 2173h10M1209 2171h10M1211 2168h10M1223 2174h10M4492 2173h10M4497 2174h10M4506 2174h10M4506 2166h10M4517 2168h10M4530 2173h10M4544 2171h10M4554 2171h10M4555 2172h10M4562 2171h10M4563 2170h10M4580 2173h10M4581 2170h10M4594 2168h10M4605 2169h10M4610 2170h10M4613 2166h10M4622 2169h10M4652 2173h10M4653 2170h10M4669 2167h10M4674 2170h10M4702 2172h10M4728 2165h10M4778 2165h10M1034 2183h10M1034 2181h10M1043 2183h10M1051 2185h10M1052 2179h10M1054 2184h10M1055 2180h10M1061 2179h10M1064 2181h10M1203 2180h10M1206 2182h10M1215 2181h10M1219 2181h10M4454 2177h10M4471 2185h10M4482 2184h10M4487 2177h10M4490 2179h10M4490 2183h10M4503 2175h10M4521 2181h10M4522 2180h10M4532 2177h10M4566 2181h10M4566 2182h10M4575 2184h10M4599 2183h10M4613 2180h10M4628 2181h10M4628 2178h10M4638 2177h10M4673 2182h10M4681 2183h10M4701 2178h10M4702 2182h10M4717 2184h10M4730 2184h10M4777 2178h10M1045 2187h10M1047 2186h10M1052 2195h10M1056 2191h10M1204 2186h10M1208 2194h10M1225 2188h10M4437 2195h10M4505 2193h10M4513 2193h10M4522 2194h10M4551 2189h10M4552 2195h10M4554 2192h10M4578 2187h10M4579 2193h10M4590 2190h10M4602 2195h10M4607 2189h10M4617 2187h10M4632 2189h10M4640 2188h10M4642 2192h10M4657 2185h10M4681 2193h10M4693 2185h10M4704 2192h10M4706 2190h10M4732 2188h10M4736 2191h10M1023 2195h10M1033 2196h10M1033 2205h10M1035 2204h10M1045 2195h10M1054 2200h10M1212 2204h10M4470 2199h10M4480 2200h10M4493 2202h10M4502 2196h10M4503 2203h10M4507 2201h10M4519 2200h10M4522 2200h10M4542 2205h10M4548 2197h10M4554 2200h10M4584 2198h10M4589 2200h10M4610 2201h10M4633 2197h10M4636 2198h10M4637 2204h10M4640 2204h10M4642 2200h10M4648 2201h10M4664 2204h10M4681 2199h10M4699 2203h10M4740 2200h10M4764 2199h10M1025 2214h10M1032 2207h10M1032 2212h10M1033 2212h10M1051 2209h10M1056 2206h10M1057 2212h10M1060 2205h10M1062 2206h10M1067 2213h10M1192 2207h10M1199 2214h10M1203 2209h10M1204 2213h10M4418 2209h10M4491 2211h10M4493 2213h10M4508 2208h10M4514 2208h10M4539 2206h10M4545 2210h10M4547 2214h10M4551 2211h10M4563 2206h10M4570 2206h10M4607 2212h10M4614 2214h10M4636 2208h10M4642 2211h10M4658 2215h10M4659 2213h10M4668 2215h10M4676 2211h10M4683 2207h10M4689 2206h10M4700 2214h10M4714 2207h10M4719 2206h10M1010 2222h10M1042 2222h10M1046 2215h10M1061 2221h10M1062 2220h10M1069 2218h10M1184 2217h10M1186 2218h10M1188 2222h10M1188 2224h10M1193 2224h10M1197 2221h10M1198 2221h10M1200 2217h10M1201 2222h10M1212 2221h10M4489 2222h10M4503 2217h10M4534 2218h10M4541 2215h10M4545 2221h10M4546 2217h10M4566 2221h10M4577 2223h10M4578 2223h10M4614 2225h10M4615 2224h10M4624 2225h10M4626 2222h10M4640 2218h10M4641 2216h10M4647 2219h10M4653 2216h10M4654 2222h10M4658 2224h10M4660 2216h10M4692 2220h10M4713 2221h10M4739 2220h10M4756 2215h10M4808 2222h10M1026 2230h10M1034 2231h10M1038 2229h10M1040 2231h10M1044 2230h10M1050 2229h10M1054 2231h10M1057 2232h10M1177 2228h10M1178 2232h10M1183 2228h10M1192 2232h10M1206 2227h10M1208 2231h10M1210 2232h10M4264 2228h10M4437 2228h10M4470 2230h10M4507 2232h10M4532 2228h10M4555 2234h10M4580 2231h10M4592 2229h10M4597 2225h10M4601 2229h10M4611 2230h10M4618 2231h10M4618 2233h10M4625 2226h10M4632 2228h10M4655 2229h10M4662 2231h10M4662 2235h10M4675 2232h10M4678 2232h10M4691 2230h10M4730 2225h10M1030 2243h10M1038 2239h10M1043 2244h10M1176 2236h10M1180 2243h10M1184 2237h10M1188 2244h10M1198 2236h10M1201 2240h10M1201 2245h10M4435 2240h10M4468 2236h10M4485 2237h10M4499 2237h10M4514 2243h10M4522 2239h10M4535 2236h10M4540 2235h10M4542 2236h10M4543 2241h10M4545 2238h10M4557 2239h10M4600 2245h10M4642 2245h10M4643 2238h10M4648 2243h10M4652 2236h10M4668 2243h10M4673 2237h10M4681 2244h10M4690 2244h10M1031 2250h10M1034 2255h10M1035 2246h10M1036 2253h10M1037 2252h10M1043 2254h10M1046 2250h10M1053 2250h10M1059 2252h10M1173 2249h10M1183 2252h10M1184 2251h10M1190 2253h10M1191 2252h10M1194 2255h10M1194 2248h10M1199 2247h10M1200 2253h10M1209 2246h10M4428 2254h10M4468 2247h10M4475 2246h10M4503 2251h10M4513 2246h10M4528 2247h10M4528 2248h10M4538 2248h10M4542 2254h10M4573 2251h10M4574 2253h10M4575 2248h10M4584 2246h10M4594 2253h10M4600 2247h10M4622 2249h10M4642 2254h10M4648 2247h10M4655 2247h10M4676 2246h10M4682 2254h10M4732 2250h10M1032 2258h10M1051 2257h10M1201 2258h10M4423 2256h10M4445 2258h10M4507 2259h10M4583 2257h10M4592 2259h10M4627 2258h10M4667 2259h10M4686 2256h10M4698 2260h10M4699 2258h10" stroke="#747474" stroke-opacity="0.42" stroke-width="10" fill="none"/>
<path d="M6447 21h10M6451 20h10M6692 24h10M6318 35h10M6497 30h10M6734 26h10M6438 41h10M6334 54h10M6334 52h10M6435 46h10M6613 56h10M6507 71h10M6338 80h10M6410 85h10M6559 93h10M6423 100h10M6469 99h10M6579 98h10M6217 105h10M6219 114h10M6313 112h10M6468 111h10M6481 112h10M6545 111h10M6359 122h10M6420 120h10M6442 121h10M6452 122h10M6482 120h10M6319 133h10M6443 142h10M6474 136h10M6480 144h10M6254 155h10M6371 147h10M6399 149h10M6311 158h10M6333 156h10M6415 165h10M6447 161h10M6463 157h10M6509 156h10M6291 165h10M6382 171h10M6074 184h10M6393 177h10M6256 188h10M6410 193h10M6188 201h10M6223 205h10M6271 200h10M6318 204h10M6421 214h10M6106 216h10M6218 222h10M6307 221h10M6390 216h10M6401 218h10M6113 233h10M6120 227h10M2059 237h10M6135 239h10M6268 236h10M1892 254h10M1920 249h10M2016 253h10M2123 254h10M6083 250h10M6122 253h10M1973 257h10M6118 259h10M6335 256h10M1803 267h10M1963 271h10M6008 272h10M6337 267h10M1866 282h10M5972 283h10M6154 279h10M6257 275h10M1744 293h10M1759 286h10M1765 290h10M1821 288h10M1876 288h10M1888 286h10M2001 292h10M2192 289h10M5966 291h10M5998 294h10M6188 294h10M6247 294h10M6258 289h10M1754 298h10M1766 296h10M1816 304h10M1886 296h10M5985 302h10M5986 297h10M5999 295h10M6090 298h10M6181 298h10M6245 298h10M1733 311h10M1734 307h10M1745 308h10M5917 309h10M6024 305h10M6049 313h10M6064 314h10M6106 309h10M1668 320h10M1674 318h10M1704 319h10M6132 315h10M1697 327h10M2425 327h10M6045 326h10M6186 328h10M6194 332h10M6217 329h10M1612 341h10M5936 338h10M6161 340h10M6190 343h10M1586 346h10M1590 347h10M2429 355h10M5949 363h10M1547 368h10M5925 366h10M5936 366h10M5938 370h10M6039 370h10M6055 374h10M6155 366h10M1535 376h10M1546 377h10M6035 379h10M6065 382h10M6116 382h10M1551 387h10M1566 388h10M5872 394h10M5895 393h10M6104 391h10M6127 392h10M6152 387h10M1509 396h10M1488 407h10M1490 413h10M1497 414h10M1517 414h10M5850 408h10M5918 407h10M6056 410h10M6144 414h10M1456 423h10M1502 416h10M1535 419h10M5892 418h10M6118 421h10M1453 433h10M1478 431h10M1483 433h10M1501 432h10M1427 444h10M1459 442h10M1469 444h10M5847 441h10M1427 451h10M1433 451h10M1434 449h10M2133 452h10M5862 454h10M5875 448h10M5972 447h10M2140 464h10M5952 456h10M5971 465h10M6069 458h10M1425 475h10M1441 468h10M2200 471h10M5823 471h10M5874 472h10M5974 468h10M6028 472h10M1406 482h10M2367 484h10M5826 477h10M1334 494h10M1366 494h10M1375 492h10M1985 491h10M2181 495h10M2277 488h10M5709 493h10M5820 491h10M5916 493h10M5927 486h10M1361 502h10M1379 499h10M1387 502h10M2003 497h10M2011 503h10M2057 501h10M2239 503h10M5755 499h10M5786 499h10M1952 509h10M2020 508h10M2027 514h10M2106 508h10M2229 515h10M2397 509h10M5800 515h10M5851 514h10M1309 522h10M1360 521h10M1963 521h10M2079 519h10M2108 519h10M2331 521h10M2466 519h10M5817 519h10M5935 520h10M5976 516h10M1320 528h10M1327 528h10M1340 534h10M1944 529h10M1966 529h10M2017 529h10M2057 534h10M5754 528h10M5775 535h10M5933 534h10M5942 532h10M5960 526h10M1324 539h10M1958 541h10M1961 542h10M2124 539h10M2159 536h10M2453 537h10M2465 538h10M2479 544h10M2541 545h10M5912 541h10M5953 541h10M1304 548h10M2043 548h10M2150 546h10M2536 551h10M2642 546h10M5745 553h10M5893 550h10M5948 552h10M5956 550h10M1258 564h10M1283 557h10M1285 561h10M1290 563h10M1879 562h10M1935 563h10M1941 556h10M1950 561h10M1964 562h10M1991 555h10M2015 560h10M2081 555h10M2192 557h10M1263 574h10M1857 568h10M1869 575h10M1882 570h10M1890 565h10M1900 570h10M1910 568h10M1920 575h10M1920 569h10M1979 572h10M2000 574h10M2265 568h10M2508 566h10M2712 570h10M2723 573h10M5684 574h10M5760 574h10M1260 579h10M1278 581h10M1857 580h10M1868 580h10M1878 575h10M2247 583h10M5687 576h10M1217 592h10M1250 591h10M1262 588h10M1778 586h10M1784 588h10M1791 591h10M1845 586h10M1955 589h10M5614 588h10M5705 589h10M5769 589h10M5826 592h10M1206 599h10M1252 602h10M1783 604h10M1846 601h10M2167 598h10M2314 597h10M2342 601h10M5725 603h10M5860 603h10M5875 600h10M5896 604h10M5918 598h10M1196 606h10M1227 608h10M1238 609h10M1248 606h10M1717 610h10M1786 614h10M1787 613h10M1797 607h10M1803 613h10M1810 612h10M1824 606h10M1863 606h10M2410 609h10M2761 615h10M2764 610h10M2792 609h10M5691 611h10M5731 610h10M1641 624h10M1760 618h10M1777 619h10M1784 624h10M1794 618h10M2332 621h10M2733 616h10M5565 624h10M5605 624h10M5611 622h10M5612 622h10M5639 622h10M5675 621h10M5774 624h10M1136 631h10M1177 625h10M1654 626h10M1671 628h10M1703 634h10M1742 635h10M1744 627h10M1756 627h10M1769 626h10M1776 632h10M5304 630h10M5691 629h10M5697 628h10M5736 628h10M5859 635h10M1658 641h10M1662 637h10M1663 640h10M1674 639h10M1687 638h10M1688 637h10M1713 645h10M5763 644h10M1583 651h10M1588 648h10M1649 649h10M1663 650h10M1688 648h10M1742 651h10M1743 653h10M1749 651h10M1752 648h10M1769 649h10M5511 652h10M5550 646h10M5669 652h10M5726 650h10M5840 652h10M1103 662h10M1112 663h10M1133 658h10M1576 665h10M1653 663h10M1698 664h10M1700 660h10M1702 663h10M2532 663h10M5573 657h10M5753 660h10M1067 671h10M1649 672h10M1715 674h10M1760 668h10M2499 669h10M5554 671h10M5654 670h10M5728 666h10M5743 672h10M5818 671h10M980 679h10M1531 678h10M1549 684h10M1661 680h10M1694 679h10M5742 679h10M1025 691h10M1569 688h10M1680 689h10M1725 688h10M2596 690h10M5429 694h10M5537 690h10M5649 686h10M993 700h10M1478 704h10M1531 699h10M1541 696h10M1651 700h10M1675 703h10M2471 704h10M5667 703h10M5706 700h10M5727 701h10M1031 706h10M1485 714h10M1505 715h10M1551 707h10M1558 709h10M1572 706h10M1639 706h10M1656 711h10M5575 711h10M5602 712h10M5616 707h10M1061 718h10M1484 719h10M1535 716h10M1555 723h10M1615 723h10M2603 716h10M5493 716h10M5518 717h10M5529 725h10M5543 717h10M5704 716h10M983 730h10M995 732h10M1436 733h10M1487 735h10M1598 729h10M1605 733h10M1614 730h10M1645 726h10M1649 726h10M1660 730h10M2640 729h10M5716 733h10M5746 734h10M891 743h10M993 737h10M1016 737h10M1442 740h10M1475 743h10M1501 736h10M1510 741h10M1580 735h10M1622 740h10M1626 742h10M1634 742h10M1635 739h10M5465 736h10M5489 744h10M5513 743h10M5526 744h10M5538 736h10M5559 736h10M5747 736h10M1432 748h10M1466 747h10M1572 755h10M1605 746h10M1608 746h10M1622 746h10M2369 749h10M5259 748h10M5448 750h10M5473 750h10M5486 747h10M5532 747h10M5591 748h10M5635 745h10M5642 747h10M5649 748h10M5676 748h10M892 764h10M914 764h10M951 758h10M967 761h10M978 758h10M1375 758h10M1396 762h10M1429 755h10M1459 755h10M1555 764h10M1569 765h10M1578 759h10M1600 761h10M1614 759h10M2391 762h10M5452 763h10M5633 764h10M5646 763h10M5702 765h10M815 774h10M830 775h10M860 772h10M901 769h10M909 772h10M930 774h10M935 774h10M942 771h10M948 767h10M999 768h10M1311 770h10M1362 771h10M1389 774h10M1391 766h10M1393 774h10M1433 771h10M1437 769h10M1446 771h10M1549 770h10M1554 766h10M1567 773h10M1573 774h10M1581 768h10M1587 769h10M1595 775h10M2291 769h10M2294 770h10M5445 765h10M5483 772h10M5585 774h10M5601 773h10M5708 773h10M860 781h10M871 785h10M877 778h10M886 780h10M908 779h10M911 781h10M925 780h10M936 783h10M938 784h10M1338 783h10M1373 778h10M1374 781h10M1403 781h10M1414 781h10M1549 782h10M1558 775h10M1565 783h10M1584 778h10M5155 779h10M5453 777h10M5571 782h10M5602 776h10M5642 776h10M5649 784h10M849 791h10M855 787h10M870 794h10M880 794h10M881 785h10M887 788h10M891 795h10M1351 790h10M1400 787h10M1531 795h10M1554 793h10M1558 795h10M1581 786h10M2150 789h10M2233 787h10M2410 789h10M2467 791h10M2554 788h10M2588 791h10M806 797h10M809 804h10M834 805h10M847 801h10M861 800h10M897 796h10M1411 799h10M1543 805h10M1543 797h10M1558 800h10M2091 805h10M2099 802h10M2145 796h10M2167 800h10M2197 802h10M2238 804h10M2307 803h10M2400 805h10M2440 802h10M2547 800h10M5403 801h10M5406 802h10M5435 803h10M5509 800h10M802 805h10M847 810h10M852 806h10M854 806h10M854 813h10M860 809h10M868 812h10M887 813h10M889 808h10M925 806h10M1278 810h10M1278 805h10M1314 805h10M1320 812h10M1373 811h10M1548 815h10M2542 811h10M5425 807h10M773 821h10M778 816h10M798 819h10M800 821h10M810 823h10M812 821h10M819 825h10M826 818h10M829 816h10M832 823h10M834 819h10M854 817h10M884 821h10M896 825h10M1514 821h10M1537 816h10M1551 819h10M2042 825h10M2086 818h10M2507 819h10M5323 819h10M5368 820h10M5442 817h10M5449 817h10M5490 823h10M5580 825h10M5591 816h10M5599 820h10M692 833h10M740 831h10M778 828h10M791 832h10M808 832h10M815 833h10M819 828h10M821 828h10M824 827h10M825 829h10M827 827h10M828 825h10M833 833h10M850 830h10M898 833h10M1226 834h10M1253 831h10M1531 833h10M2006 828h10M2041 830h10M2114 828h10M2200 830h10M5079 834h10M5372 835h10M5465 826h10M5509 829h10M5529 825h10M735 843h10M737 838h10M749 837h10M763 841h10M764 842h10M767 845h10M767 835h10M778 842h10M783 844h10M800 840h10M808 838h10M808 838h10M833 842h10M834 837h10M1299 842h10M1500 836h10M1519 841h10M1533 836h10M2039 844h10M2048 842h10M2065 838h10M2693 837h10M5339 837h10M5369 838h10M5401 841h10M5418 835h10M5422 844h10M5619 837h10M699 847h10M723 853h10M739 845h10M750 852h10M758 855h10M775 855h10M784 854h10M787 851h10M804 850h10M811 851h10M1305 852h10M1484 850h10M1496 852h10M1500 855h10M1533 847h10M2001 850h10M2011 854h10M2018 853h10M2090 848h10M2658 851h10M5498 855h10M5507 855h10M5519 852h10M651 855h10M691 856h10M698 862h10M736 858h10M738 865h10M738 863h10M744 863h10M745 856h10M761 861h10M780 859h10M783 864h10M785 863h10M833 859h10M1481 863h10M1487 861h10M1490 864h10M1502 863h10M1503 859h10M1943 862h10M1946 862h10M2047 856h10M2665 857h10M4931 864h10M5235 863h10M5318 859h10M5356 856h10M620 871h10M641 870h10M647 874h10M651 874h10M670 874h10M685 871h10M686 868h10M692 867h10M700 868h10M704 873h10M709 867h10M712 874h10M714 866h10M720 868h10M722 875h10M728 868h10M737 868h10M739 871h10M740 867h10M752 866h10M754 868h10M759 867h10M761 869h10M762 867h10M768 869h10M769 873h10M769 867h10M773 869h10M779 870h10M798 874h10M824 867h10M1222 867h10M1273 868h10M1460 874h10M1468 869h10M1484 870h10M1494 865h10M1499 871h10M1500 874h10M1504 872h10M1886 870h10M1894 874h10M1977 868h10M2708 870h10M5359 870h10M5579 871h10M628 885h10M635 884h10M641 876h10M648 877h10M649 885h10M652 875h10M657 882h10M657 882h10M663 877h10M670 882h10M673 880h10M673 878h10M677 882h10M688 884h10M688 875h10M695 880h10M712 882h10M712 884h10M713 880h10M719 884h10M720 878h10M722 878h10M732 876h10M733 883h10M733 883h10M734 881h10M750 879h10M759 885h10M1080 882h10M1449 875h10M1480 879h10M1484 878h10M1487 881h10M1964 876h10M2718 877h10M5048 879h10M5162 882h10M5265 879h10M5391 877h10M5483 884h10M5540 881h10M5552 883h10M630 886h10M638 892h10M642 888h10M644 887h10M654 894h10M664 889h10M671 891h10M675 891h10M679 893h10M687 892h10M689 888h10M691 885h10M695 888h10M696 893h10M699 888h10M705 890h10M708 886h10M717 886h10M723 890h10M732 888h10M747 890h10M761 888h10M1128 888h10M1236 885h10M1453 894h10M1457 893h10M1469 886h10M1477 885h10M1489 888h10M1497 893h10M1863 890h10M1912 890h10M1945 888h10M5078 885h10M5235 892h10M5261 889h10M5349 894h10M5369 890h10M5399 891h10M5467 895h10M5471 885h10M5543 887h10M610 902h10M620 896h10M625 895h10M633 896h10M639 895h10M648 895h10M649 901h10M651 902h10M654 899h10M666 898h10M666 899h10M671 899h10M671 896h10M673 902h10M674 904h10M702 896h10M709 897h10M719 896h10M721 902h10M723 895h10M730 902h10M736 903h10M747 897h10M747 899h10M752 904h10M760 895h10M1210 899h10M1457 901h10M1478 898h10M1895 898h10M1899 905h10M1915 903h10M1955 895h10M2791 896h10M5366 899h10M5452 903h10M5462 896h10M5539 897h10M626 907h10M633 911h10M642 913h10M650 912h10M653 906h10M653 907h10M654 911h10M666 914h10M666 910h10M705 905h10M706 910h10M712 906h10M728 910h10M918 914h10M1062 907h10M1066 914h10M1136 912h10M1160 915h10M1447 906h10M1834 913h10M1847 906h10M1853 911h10M5272 914h10M5351 909h10M5417 914h10M5557 908h10M655 923h10M655 917h10M656 923h10M656 923h10M663 918h10M672 925h10M672 920h10M683 923h10M687 922h10M691 923h10M692 923h10M713 924h10M920 924h10M970 923h10M988 915h10M1044 920h10M1427 921h10M1430 920h10M1432 923h10M1435 924h10M1849 919h10M1890 922h10M1905 916h10M2781 924h10M2809 918h10M623 926h10M636 925h10M658 929h10M658 931h10M660 928h10M665 929h10M665 928h10M669 935h10M670 931h10M672 934h10M674 929h10M684 930h10M695 935h10M718 927h10M724 927h10M893 932h10M911 935h10M920 929h10M939 928h10M963 932h10M1022 934h10M1028 929h10M1053 930h10M1440 926h10M1440 934h10M1446 930h10M1451 934h10M1459 926h10M1846 925h10M1854 930h10M1857 928h10M2853 933h10M5022 929h10M5288 925h10M5329 933h10M5389 927h10M5413 928h10M5456 929h10M5480 934h10M621 945h10M632 945h10M639 943h10M644 937h10M645 942h10M649 941h10M654 935h10M664 936h10M665 940h10M669 945h10M672 941h10M897 943h10M917 940h10M922 941h10M929 943h10M941 939h10M949 941h10M950 944h10M951 938h10M952 942h10M958 937h10M974 941h10M984 942h10M1054 938h10M1407 941h10M1423 936h10M1431 937h10M1437 942h10M1445 942h10M1447 939h10M1815 944h10M1827 937h10M1835 944h10M1837 943h10M1856 942h10M5357 943h10M646 947h10M649 955h10M664 952h10M666 946h10M673 952h10M685 947h10M686 948h10M688 948h10M688 955h10M695 946h10M828 951h10M833 949h10M834 952h10M839 950h10M845 947h10M846 949h10M857 955h10M867 949h10M876 948h10M883 949h10M893 951h10M894 952h10M915 955h10M915 953h10M920 945h10M947 946h10M948 953h10M1398 954h10M1432 949h10M1781 955h10M1831 951h10M1857 946h10M2931 945h10M5226 949h10M5251 953h10M5314 949h10M5319 953h10M5324 949h10M5486 953h10M5490 952h10M657 962h10M674 957h10M686 958h10M695 961h10M853 957h10M881 959h10M886 963h10M889 958h10M891 961h10M894 964h10M896 960h10M897 961h10M898 956h10M906 964h10M908 963h10M914 963h10M926 956h10M927 959h10M928 957h10M931 958h10M952 959h10M957 957h10M1015 964h10M1421 961h10M1429 963h10M1431 961h10M1431 964h10M1444 955h10M1450 964h10M1790 963h10M1797 959h10M2883 961h10M2885 959h10M2901 958h10M2931 956h10M5171 961h10M5251 959h10M5321 962h10M5367 957h10M5485 955h10M641 970h10M643 965h10M659 970h10M660 970h10M664 967h10M665 967h10M668 966h10M669 974h10M677 974h10M827 973h10M836 968h10M859 975h10M862 970h10M871 972h10M871 974h10M879 966h10M879 974h10M885 967h10M907 972h10M912 966h10M918 970h10M1397 970h10M1402 975h10M1406 974h10M1410 971h10M1417 972h10M1422 971h10M1424 967h10M1437 968h10M1774 967h10M2915 969h10M4918 973h10M5146 970h10M5208 970h10M5234 966h10M5327 965h10M5356 966h10M5364 970h10M5371 965h10M5401 970h10M5424 970h10M5440 974h10M649 977h10M657 984h10M669 977h10M690 984h10M825 980h10M841 985h10M844 976h10M854 980h10M857 982h10M857 976h10M887 981h10M909 975h10M912 983h10M938 983h10M964 975h10M967 981h10M1002 981h10M1384 976h10M1421 981h10M1780 977h10M1788 983h10M2925 976h10M4988 978h10M5020 978h10M5090 982h10M5148 977h10M5202 979h10M5236 980h10M5275 985h10M5310 975h10M5359 976h10M5393 979h10M5407 983h10M5422 985h10M647 990h10M663 993h10M665 993h10M668 989h10M832 991h10M846 991h10M851 989h10M854 990h10M854 991h10M865 994h10M869 991h10M877 989h10M896 991h10M906 987h10M915 989h10M922 987h10M923 985h10M1383 989h10M1418 994h10M1754 995h10M4838 990h10M5199 986h10M5236 985h10M5359 989h10M5417 986h10M5485 993h10M664 997h10M680 998h10M820 1004h10M825 1004h10M831 1002h10M841 1000h10M844 1001h10M853 999h10M853 1002h10M856 999h10M866 1002h10M867 1004h10M867 998h10M877 997h10M879 1002h10M893 997h10M894 996h10M902 997h10M905 995h10M1403 1002h10M1416 997h10M1745 1003h10M1753 998h10M1773 1002h10M3019 1005h10M4991 999h10M5163 1002h10M5257 997h10M5351 1002h10M845 1011h10M852 1007h10M854 1010h10M855 1010h10M859 1006h10M871 1014h10M874 1011h10M875 1007h10M881 1012h10M891 1013h10M1380 1015h10M1411 1012h10M1418 1010h10M1740 1006h10M1747 1014h10M5128 1010h10M5157 1011h10M5305 1010h10M5334 1007h10M835 1020h10M860 1016h10M862 1025h10M866 1021h10M875 1024h10M878 1024h10M880 1016h10M886 1021h10M888 1022h10M1405 1025h10M1408 1015h10M1731 1025h10M1748 1018h10M5226 1019h10M5267 1015h10M5383 1020h10M846 1029h10M859 1027h10M859 1032h10M865 1027h10M872 1026h10M873 1033h10M877 1029h10M878 1029h10M878 1026h10M880 1034h10M880 1028h10M895 1034h10M1381 1027h10M1384 1026h10M1397 1026h10M1399 1028h10M1716 1028h10M1765 1031h10M5302 1028h10M5335 1025h10M5397 1032h10M816 1040h10M835 1037h10M836 1040h10M841 1045h10M861 1039h10M868 1042h10M878 1045h10M889 1037h10M899 1039h10M1376 1043h10M1388 1036h10M1390 1036h10M1395 1037h10M1409 1042h10M1712 1043h10M5134 1037h10M5243 1044h10M5280 1042h10M5328 1035h10M5375 1043h10M843 1049h10M861 1055h10M872 1051h10M877 1048h10M878 1048h10M879 1048h10M884 1054h10M892 1046h10M899 1048h10M1378 1052h10M1381 1051h10M1390 1049h10M1394 1048h10M1398 1046h10M1401 1052h10M1678 1052h10M5206 1046h10M5253 1054h10M5294 1048h10M5302 1046h10M864 1058h10M866 1056h10M868 1061h10M873 1055h10M883 1065h10M898 1060h10M1381 1062h10M1397 1060h10M1401 1060h10M1690 1061h10M1703 1064h10M5160 1055h10M5194 1062h10M5196 1057h10M5261 1059h10M5262 1064h10M5338 1061h10M882 1065h10M887 1067h10M890 1070h10M1374 1069h10M1376 1072h10M1388 1070h10M1393 1069h10M1665 1067h10M1667 1074h10M4973 1067h10M5184 1070h10M5205 1073h10M5217 1073h10M5244 1072h10M5287 1074h10M5321 1068h10M5408 1071h10M844 1075h10M875 1075h10M883 1081h10M1363 1078h10M1373 1075h10M1374 1079h10M1374 1083h10M1399 1084h10M1654 1078h10M1664 1081h10M1675 1079h10M1676 1079h10M1679 1075h10M1691 1075h10M5103 1083h10M5124 1079h10M5131 1078h10M5139 1080h10M5173 1076h10M5182 1083h10M5187 1084h10M5349 1082h10M866 1092h10M868 1092h10M869 1093h10M1371 1093h10M1371 1087h10M1639 1086h10M1652 1087h10M1657 1089h10M1664 1087h10M1667 1085h10M1683 1093h10M1692 1093h10M5100 1093h10M5192 1094h10M5251 1091h10M5266 1089h10M5270 1087h10M5311 1094h10M5323 1087h10M5395 1086h10M873 1100h10M1346 1101h10M1353 1104h10M1367 1104h10M1371 1095h10M1625 1097h10M1637 1104h10M1665 1102h10M5079 1101h10M5083 1100h10M5174 1100h10M5298 1103h10M1345 1108h10M1627 1109h10M1630 1112h10M1647 1114h10M1656 1113h10M1658 1111h10M1661 1113h10M1670 1113h10M4933 1111h10M5112 1109h10M5125 1107h10M5178 1108h10M5240 1112h10M5265 1109h10M5331 1113h10M1363 1116h10M1374 1122h10M1382 1117h10M1386 1123h10M1616 1119h10M1646 1123h10M1649 1121h10M1662 1118h10M5078 1115h10M5091 1123h10M5117 1119h10M5140 1122h10M5201 1118h10M5230 1124h10M5346 1121h10M1329 1135h10M1357 1126h10M1362 1128h10M1363 1129h10M1372 1127h10M1373 1132h10M1602 1133h10M1620 1133h10M1623 1130h10M1624 1135h10M1627 1130h10M1627 1127h10M1641 1128h10M1646 1126h10M4998 1131h10M5043 1129h10M5072 1133h10M5136 1125h10M5194 1132h10M5251 1127h10M5285 1128h10M5299 1125h10M5327 1125h10M1345 1138h10M1347 1143h10M1348 1141h10M1620 1135h10M1637 1142h10M4978 1139h10M5112 1145h10M5155 1141h10M5223 1139h10M5231 1136h10M5239 1138h10M1325 1149h10M1335 1145h10M1343 1152h10M1352 1150h10M1355 1152h10M1370 1152h10M1602 1155h10M1602 1146h10M4858 1151h10M4860 1152h10M4918 1152h10M5152 1151h10M5161 1152h10M5267 1153h10M5353 1147h10M1331 1164h10M1351 1155h10M1362 1156h10M1364 1165h10M1599 1161h10M1603 1160h10M1617 1161h10M1628 1160h10M5134 1164h10M5208 1160h10M5223 1160h10M5246 1165h10M5273 1163h10M5286 1164h10M1323 1172h10M1327 1167h10M1350 1172h10M1362 1166h10M1597 1168h10M1603 1171h10M1616 1174h10M1627 1173h10M5088 1166h10M5139 1166h10M5268 1167h10M1320 1179h10M1335 1177h10M1341 1181h10M1344 1183h10M1345 1183h10M1347 1181h10M1354 1177h10M1585 1183h10M1596 1180h10M1605 1185h10M1608 1175h10M1615 1178h10M4798 1178h10M4850 1181h10M4999 1177h10M5025 1177h10M5122 1185h10M5155 1176h10M5167 1180h10M5182 1177h10M5277 1184h10M5306 1179h10M1308 1195h10M1312 1189h10M1334 1185h10M1341 1185h10M1343 1194h10M1346 1193h10M1589 1186h10M4978 1191h10M5044 1186h10M5211 1192h10M5239 1193h10M5255 1194h10M5264 1192h10M5283 1192h10M5291 1193h10M1334 1203h10M1568 1204h10M1575 1204h10M1586 1201h10M1587 1196h10M1590 1204h10M1605 1201h10M5100 1196h10M5136 1200h10M5159 1195h10M5176 1200h10M5188 1196h10M5220 1196h10M1309 1208h10M1312 1209h10M1315 1207h10M1326 1209h10M1531 1214h10M1574 1213h10M1584 1207h10M1586 1207h10M5032 1209h10M5107 1207h10M5123 1206h10M5136 1214h10M5226 1213h10M5260 1207h10M5286 1214h10M1291 1222h10M1310 1222h10M1318 1221h10M1323 1222h10M1326 1221h10M1330 1223h10M1337 1225h10M1551 1225h10M1553 1218h10M1564 1222h10M1568 1221h10M1573 1221h10M1580 1219h10M5021 1224h10M5049 1217h10M5061 1215h10M5069 1224h10M5153 1224h10M5241 1222h10M1305 1227h10M1314 1229h10M1317 1231h10M1318 1231h10M1324 1225h10M1327 1235h10M1328 1226h10M1345 1229h10M1560 1231h10M1591 1230h10M1595 1228h10M5101 1232h10M5129 1229h10M5246 1229h10M1305 1236h10M1309 1242h10M1317 1238h10M1320 1242h10M1323 1238h10M1325 1238h10M1326 1238h10M1326 1243h10M1575 1238h10M1584 1241h10M5011 1238h10M5073 1236h10M5115 1237h10M5126 1242h10M5131 1236h10M1301 1250h10M1525 1253h10M1550 1255h10M1552 1250h10M1556 1252h10M1558 1245h10M1559 1254h10M1566 1247h10M1567 1248h10M5040 1254h10M5043 1246h10M5082 1250h10M5107 1245h10M5119 1252h10M5178 1247h10M5187 1253h10M1302 1260h10M1306 1257h10M1323 1256h10M1532 1257h10M1535 1255h10M1550 1263h10M1560 1261h10M1561 1256h10M4683 1257h10M4954 1261h10M5021 1256h10M5025 1256h10M5115 1257h10M5118 1261h10M5129 1265h10M5137 1260h10M5142 1260h10M5169 1257h10M1283 1266h10M1296 1273h10M1296 1270h10M1304 1274h10M1304 1274h10M1308 1275h10M1311 1267h10M1529 1275h10M1542 1274h10M1548 1274h10M1551 1275h10M1560 1274h10M4905 1273h10M5033 1274h10M5035 1272h10M5059 1272h10M5062 1271h10M5065 1268h10M5133 1270h10M5161 1273h10M5161 1269h10M5280 1275h10M1269 1277h10M1284 1279h10M1286 1284h10M1295 1282h10M1316 1284h10M1523 1285h10M1526 1284h10M1539 1276h10M1541 1275h10M1543 1279h10M1549 1283h10M1555 1283h10M4962 1276h10M4979 1279h10M5020 1275h10M5079 1275h10M5215 1277h10M5222 1284h10M1297 1290h10M1316 1289h10M1517 1294h10M1523 1292h10M1526 1290h10M1544 1293h10M1548 1294h10M1549 1290h10M1552 1293h10M4981 1292h10M5022 1290h10M5040 1289h10M5043 1295h10M5049 1290h10M5093 1285h10M5100 1290h10M5104 1292h10M5130 1291h10M5137 1295h10M5143 1286h10M5148 1290h10M5150 1291h10M5155 1287h10M5171 1288h10M5176 1288h10M5192 1295h10M5211 1289h10M5216 1294h10M1277 1299h10M1289 1303h10M1290 1296h10M1293 1305h10M1298 1297h10M1307 1302h10M1318 1301h10M1322 1303h10M1504 1301h10M1514 1299h10M1520 1300h10M1524 1298h10M1534 1304h10M1538 1301h10M1542 1299h10M1563 1299h10M4955 1302h10M5029 1303h10M5053 1299h10M5071 1302h10M5080 1299h10M5082 1304h10M5095 1303h10M5129 1301h10M5139 1300h10M5164 1303h10M5172 1298h10M1274 1309h10M1279 1309h10M1291 1306h10M1493 1308h10M1505 1305h10M1514 1312h10M1524 1310h10M1531 1305h10M4955 1311h10M4984 1307h10M5018 1314h10M5031 1310h10M5064 1310h10M5105 1308h10M5108 1315h10M5117 1315h10M5199 1313h10M5223 1310h10M1273 1321h10M1277 1318h10M1283 1323h10M1284 1320h10M1293 1321h10M1296 1317h10M1507 1323h10M1516 1320h10M1528 1320h10M4924 1316h10M4959 1323h10M4995 1315h10M5027 1315h10M5052 1323h10M5139 1319h10M1267 1330h10M1272 1331h10M1273 1328h10M1280 1328h10M1487 1334h10M1496 1327h10M1503 1328h10M1506 1329h10M1520 1332h10M1527 1331h10M4765 1333h10M4943 1331h10M4946 1327h10M5042 1334h10M5053 1327h10M5074 1331h10M5136 1326h10M5143 1330h10M5157 1329h10M5189 1331h10M1256 1342h10M1261 1339h10M1265 1341h10M1283 1338h10M1285 1336h10M1505 1341h10M1508 1336h10M1513 1336h10M1514 1340h10M1515 1338h10M1520 1342h10M1525 1341h10M1526 1344h10M1528 1341h10M1531 1336h10M4866 1343h10M4902 1341h10M4972 1345h10M4979 1336h10M4994 1342h10M5005 1337h10M5034 1338h10M5068 1345h10M5094 1339h10M5110 1339h10M1246 1351h10M1246 1352h10M1261 1354h10M1269 1350h10M1274 1348h10M1280 1351h10M1486 1348h10M1503 1352h10M1505 1346h10M1509 1352h10M1509 1346h10M1517 1347h10M4811 1353h10M4896 1348h10M4901 1346h10M4915 1351h10M4929 1348h10M4960 1346h10M5007 1351h10M5112 1351h10M5137 1354h10M5151 1352h10M5178 1349h10M5180 1353h10M1250 1362h10M1262 1362h10M1262 1358h10M1285 1356h10M1498 1356h10M1504 1357h10M1517 1356h10M4735 1356h10M4902 1361h10M4904 1355h10M4912 1362h10M4933 1356h10M4967 1363h10M4979 1360h10M5003 1358h10M5043 1360h10M5142 1361h10M5150 1360h10M1237 1374h10M1247 1367h10M1258 1368h10M1262 1369h10M1263 1374h10M1274 1372h10M1282 1367h10M1287 1368h10M1485 1373h10M1491 1367h10M4899 1372h10M4903 1373h10M4992 1367h10M5013 1368h10M5035 1371h10M5082 1366h10M5109 1367h10M5153 1370h10M5169 1368h10M1271 1384h10M1476 1375h10M1477 1383h10M1485 1383h10M1492 1378h10M1494 1377h10M1497 1375h10M1504 1377h10M4912 1378h10M4919 1382h10M4925 1380h10M4936 1375h10M4971 1382h10M5015 1382h10M5018 1380h10M5021 1380h10M5059 1384h10M5084 1382h10M5192 1379h10M1238 1389h10M1239 1394h10M1246 1391h10M1251 1393h10M1253 1386h10M1258 1394h10M1260 1391h10M1477 1387h10M1478 1393h10M1479 1388h10M1482 1388h10M1487 1386h10M1489 1387h10M1497 1393h10M4800 1390h10M4854 1389h10M4890 1390h10M4951 1392h10M5005 1390h10M5112 1392h10M5123 1394h10M5139 1393h10M5161 1391h10M1256 1395h10M1257 1402h10M1258 1404h10M1260 1395h10M1468 1402h10M1473 1397h10M1475 1403h10M1478 1402h10M1487 1398h10M1501 1405h10M4849 1399h10M4856 1396h10M4871 1400h10M4988 1398h10M5140 1399h10M1230 1413h10M1239 1414h10M1252 1406h10M1252 1409h10M1260 1414h10M1265 1414h10M1434 1409h10M1454 1413h10M1469 1410h10M1473 1410h10M1494 1407h10M4882 1410h10M4884 1414h10M4916 1406h10M4928 1411h10M4948 1412h10M4959 1409h10M4972 1415h10M4983 1413h10M5004 1414h10M5060 1409h10M5067 1407h10M5100 1407h10M1228 1416h10M1239 1415h10M1245 1420h10M1251 1420h10M1452 1418h10M1455 1423h10M1463 1423h10M1469 1419h10M1479 1417h10M1482 1419h10M1486 1421h10M1490 1423h10M4571 1418h10M4842 1424h10M4890 1421h10M4934 1420h10M4965 1419h10M5070 1422h10M5071 1420h10M5108 1417h10M5134 1415h10M1243 1433h10M1244 1429h10M1244 1426h10M1253 1426h10M1459 1432h10M1460 1426h10M1462 1431h10M1464 1431h10M1466 1433h10M1475 1431h10M1479 1427h10M1487 1425h10M4551 1429h10M4830 1429h10M4912 1427h10M4935 1429h10M4984 1428h10M4990 1428h10M5030 1433h10M5062 1427h10M5069 1427h10M5106 1426h10M1222 1443h10M1228 1442h10M1238 1443h10M1441 1440h10M1450 1443h10M1455 1444h10M1464 1442h10M4514 1442h10M4806 1435h10M4951 1438h10M5023 1437h10M5071 1442h10M5089 1435h10M1213 1454h10M1216 1447h10M1226 1452h10M1235 1449h10M1239 1448h10M1251 1453h10M1448 1448h10M1458 1451h10M4523 1455h10M4841 1452h10M4853 1447h10M4886 1449h10M4901 1449h10M4998 1448h10M5025 1455h10M5057 1446h10M5059 1446h10M5081 1445h10M5152 1448h10M1220 1456h10M1222 1456h10M1223 1455h10M1227 1464h10M1234 1458h10M1245 1457h10M1431 1465h10M1432 1461h10M1436 1456h10M1438 1461h10M1447 1456h10M1456 1460h10M1478 1457h10M4484 1461h10M4500 1457h10M4563 1465h10M4874 1455h10M4910 1463h10M4913 1462h10M4937 1463h10M4942 1464h10M4984 1462h10M5093 1456h10M5130 1460h10M1200 1474h10M1217 1472h10M1433 1466h10M1434 1471h10M1436 1467h10M1443 1467h10M1444 1469h10M1445 1473h10M1446 1475h10M1450 1470h10M4591 1470h10M4824 1471h10M4843 1466h10M4876 1468h10M4901 1473h10M4908 1468h10M4968 1473h10M4999 1472h10M5005 1469h10M5033 1472h10M5077 1471h10M1198 1485h10M1207 1483h10M1218 1475h10M1219 1483h10M1225 1482h10M1227 1476h10M1409 1484h10M1412 1485h10M1429 1485h10M1432 1483h10M1433 1482h10M4506 1475h10M4832 1484h10M4843 1476h10M4905 1481h10M5006 1483h10M5028 1477h10M5049 1482h10M5079 1482h10M1210 1486h10M1220 1486h10M1224 1486h10M1229 1491h10M1233 1488h10M1414 1487h10M1421 1492h10M1437 1493h10M4435 1486h10M4447 1486h10M4533 1493h10M4570 1491h10M4831 1495h10M4863 1494h10M4951 1494h10M4965 1489h10M5009 1493h10M1199 1505h10M1205 1497h10M1209 1500h10M1210 1503h10M1210 1501h10M1218 1498h10M1223 1503h10M1227 1498h10M1227 1496h10M1229 1500h10M1399 1504h10M1425 1499h10M1427 1497h10M1437 1504h10M4312 1498h10M4800 1503h10M4842 1502h10M4851 1500h10M4863 1495h10M4927 1497h10M4927 1496h10M4967 1503h10M4974 1498h10M5036 1500h10M5058 1503h10M1199 1515h10M1208 1511h10M1210 1509h10M1224 1511h10M1392 1514h10M1398 1512h10M1417 1507h10M1420 1509h10M1424 1515h10M1428 1513h10M1430 1511h10M1431 1514h10M4315 1509h10M4362 1514h10M4399 1513h10M4422 1514h10M4523 1507h10M4535 1509h10M4825 1512h10M4841 1506h10M4856 1510h10M4904 1514h10M4909 1515h10M4922 1509h10M4953 1509h10M4956 1514h10M4985 1510h10M4999 1514h10M5016 1511h10M5032 1505h10M5089 1511h10M1195 1525h10M1198 1516h10M1200 1517h10M1201 1516h10M1218 1524h10M1221 1516h10M1222 1522h10M1394 1518h10M1397 1524h10M1408 1521h10M1416 1517h10M1416 1524h10M1417 1516h10M1424 1520h10M1425 1522h10M4307 1520h10M4351 1523h10M4367 1516h10M4379 1522h10M4836 1525h10M4851 1518h10M4914 1525h10M4918 1518h10M4931 1517h10M4972 1522h10M4993 1521h10M5012 1515h10M5022 1518h10M5028 1515h10M5062 1517h10M5068 1516h10M5075 1517h10M5079 1522h10M1194 1530h10M1201 1529h10M1203 1528h10M1210 1534h10M1211 1531h10M1395 1532h10M1401 1534h10M1411 1527h10M1416 1526h10M4217 1533h10M4231 1532h10M4261 1525h10M4316 1526h10M4351 1530h10M4382 1531h10M4443 1534h10M4975 1530h10M5040 1528h10M1179 1545h10M1181 1540h10M1192 1541h10M1215 1538h10M1403 1545h10M1408 1543h10M1413 1535h10M1417 1543h10M1421 1540h10M1426 1537h10M4201 1538h10M4206 1541h10M4232 1539h10M4262 1543h10M4294 1538h10M4313 1544h10M4341 1536h10M4356 1541h10M4490 1543h10M4758 1545h10M4775 1540h10M4785 1535h10M4850 1541h10M4859 1535h10M4929 1536h10M5065 1539h10M1178 1553h10M1180 1555h10M1181 1552h10M1189 1553h10M1195 1549h10M1202 1554h10M1203 1546h10M1206 1551h10M1207 1549h10M1385 1553h10M1409 1549h10M1417 1554h10M4108 1547h10M4184 1554h10M4196 1547h10M4276 1551h10M4373 1552h10M4387 1549h10M4798 1548h10M4817 1547h10M4819 1548h10M4822 1552h10M4826 1549h10M4834 1545h10M4897 1546h10M4906 1551h10M4909 1545h10M4974 1548h10M5014 1554h10M1174 1563h10M1178 1561h10M1189 1559h10M1195 1557h10M1388 1562h10M1396 1561h10M1404 1558h10M1408 1561h10M4177 1562h10M4188 1558h10M4193 1563h10M4236 1563h10M4329 1557h10M4347 1559h10M4757 1564h10M4763 1559h10M4808 1561h10M4836 1558h10M4889 1557h10M4920 1558h10M4939 1558h10M4958 1559h10M4973 1559h10M4973 1556h10M4999 1559h10M5003 1556h10M5027 1561h10M5037 1557h10M1173 1570h10M1177 1571h10M1178 1565h10M1190 1575h10M1195 1566h10M1197 1567h10M1197 1568h10M1223 1569h10M1380 1566h10M1394 1570h10M1396 1573h10M1402 1573h10M1402 1569h10M1406 1570h10M4108 1568h10M4116 1566h10M4140 1570h10M4223 1569h10M4261 1573h10M4276 1574h10M4280 1566h10M4309 1574h10M4349 1567h10M4369 1572h10M4770 1572h10M4856 1569h10M4860 1572h10M4922 1570h10M4987 1568h10M5032 1574h10M1182 1580h10M1189 1584h10M1193 1576h10M1194 1579h10M1201 1582h10M1207 1581h10M1381 1585h10M1391 1585h10M1392 1582h10M1396 1585h10M1398 1580h10M1403 1577h10M1418 1576h10M4150 1582h10M4155 1578h10M4163 1577h10M4218 1577h10M4272 1581h10M4283 1582h10M4317 1576h10M4359 1579h10M4798 1583h10M4853 1578h10M4885 1575h10M4922 1581h10M4935 1585h10M4937 1582h10M4967 1578h10M4985 1582h10M4996 1578h10M4999 1583h10M1175 1593h10M1176 1595h10M1177 1587h10M1190 1587h10M1195 1590h10M1201 1593h10M1374 1591h10M1382 1585h10M1388 1586h10M1389 1589h10M1409 1586h10M1410 1591h10M4135 1590h10M4176 1587h10M4247 1594h10M4251 1587h10M4284 1585h10M4787 1593h10M4835 1593h10M4852 1590h10M4854 1589h10M4895 1586h10M4919 1593h10M4927 1587h10M4934 1587h10M4956 1591h10M4962 1594h10M4963 1590h10M4973 1595h10M5006 1589h10M5007 1588h10M5007 1588h10M1165 1601h10M1171 1604h10M1177 1596h10M1179 1598h10M1185 1604h10M1364 1598h10M1371 1602h10M1373 1602h10M1382 1599h10M1387 1600h10M4295 1600h10M4717 1602h10M4771 1597h10M4777 1605h10M4792 1601h10M4806 1595h10M4814 1605h10M4828 1598h10M4835 1597h10M4897 1596h10M4906 1600h10M4909 1603h10M5005 1599h10M5012 1603h10M5018 1602h10M1166 1611h10M1169 1614h10M1173 1607h10M1181 1612h10M1184 1610h10M1187 1607h10M1188 1605h10M1360 1614h10M1361 1610h10M1369 1612h10M1371 1613h10M1378 1606h10M1381 1606h10M1393 1611h10M4112 1611h10M4117 1611h10M4131 1613h10M4132 1614h10M4145 1613h10M4226 1613h10M4227 1614h10M4251 1613h10M4262 1606h10M4283 1612h10M4780 1610h10M4792 1613h10M4796 1609h10M4827 1610h10M4832 1606h10M4921 1610h10M4954 1610h10M4958 1606h10M5062 1609h10M1161 1624h10M1173 1622h10M1186 1615h10M1345 1621h10M1362 1619h10M1362 1623h10M1368 1622h10M1372 1624h10M1374 1620h10M1375 1616h10M1378 1622h10M1378 1623h10M1382 1622h10M1383 1620h10M1391 1621h10M1392 1620h10M4107 1618h10M4134 1623h10M4147 1617h10M4251 1619h10M4336 1618h10M4762 1621h10M4778 1625h10M4787 1621h10M4817 1619h10M4864 1621h10M4905 1616h10M4912 1619h10M4954 1617h10M1163 1626h10M1164 1635h10M1168 1625h10M1168 1629h10M1172 1628h10M1190 1627h10M1360 1635h10M1362 1630h10M1369 1632h10M1370 1634h10M1375 1626h10M1378 1629h10M4107 1629h10M4148 1625h10M4169 1628h10M4181 1633h10M4214 1629h10M4218 1635h10M4717 1627h10M4743 1634h10M4750 1629h10M4778 1629h10M4821 1629h10M4830 1630h10M4866 1633h10M4870 1628h10M4904 1634h10M4922 1627h10M4924 1628h10M4967 1630h10M4993 1634h10M4997 1634h10M1152 1641h10M1176 1644h10M1359 1644h10M1360 1643h10M1362 1637h10M1368 1644h10M1376 1640h10M1376 1636h10M1381 1641h10M1398 1644h10M1404 1638h10M4096 1642h10M4111 1644h10M4139 1638h10M4176 1636h10M4247 1637h10M4720 1642h10M4747 1637h10M4748 1637h10M4758 1641h10M4779 1642h10M4789 1644h10M4793 1641h10M4854 1644h10M4919 1636h10M4941 1644h10M1151 1654h10M1155 1654h10M1155 1649h10M1177 1654h10M1183 1655h10M1341 1651h10M1356 1647h10M1362 1649h10M1372 1646h10M1375 1650h10M4107 1654h10M4109 1652h10M4110 1653h10M4133 1653h10M4140 1652h10M4179 1647h10M4204 1654h10M4676 1650h10M4683 1654h10M4725 1652h10M4757 1654h10M4768 1655h10M4774 1650h10M4784 1647h10M4798 1655h10M4801 1654h10M4838 1650h10M4854 1653h10M4886 1652h10M4893 1647h10M4900 1646h10M4901 1654h10M4946 1654h10M4951 1645h10M5001 1650h10M1130 1658h10M1151 1660h10M1156 1661h10M1161 1663h10M1167 1657h10M1167 1660h10M1168 1662h10M1170 1664h10M1171 1662h10M1175 1657h10M1196 1662h10M1334 1664h10M1347 1655h10M1347 1661h10M1350 1658h10M1365 1663h10M1374 1662h10M4105 1657h10M4135 1660h10M4228 1663h10M4653 1661h10M4698 1656h10M4706 1655h10M4721 1657h10M4726 1656h10M4776 1664h10M4857 1657h10M4871 1663h10M4887 1664h10M4894 1662h10M4922 1662h10M4923 1657h10M4991 1655h10M1151 1671h10M1162 1668h10M1175 1674h10M1189 1672h10M1346 1673h10M1357 1668h10M1360 1673h10M1370 1665h10M1381 1671h10M4101 1672h10M4102 1668h10M4105 1673h10M4113 1674h10M4114 1666h10M4117 1673h10M4117 1667h10M4117 1671h10M4125 1671h10M4164 1669h10M4175 1673h10M4188 1666h10M4193 1673h10M4199 1671h10M4236 1671h10M4236 1671h10M4737 1670h10M4740 1669h10M4777 1670h10M4785 1669h10M4833 1672h10M4843 1672h10M4886 1668h10M4892 1667h10M4905 1674h10M4927 1674h10M4971 1665h10M1144 1683h10M1154 1677h10M1154 1677h10M1155 1678h10M1157 1675h10M1162 1683h10M1165 1679h10M1166 1685h10M1321 1678h10M1338 1681h10M1345 1684h10M1346 1682h10M1352 1676h10M1355 1680h10M1357 1675h10M1360 1675h10M1362 1678h10M1365 1678h10M4096 1679h10M4101 1681h10M4103 1679h10M4108 1676h10M4111 1676h10M4112 1677h10M4115 1684h10M4121 1678h10M4123 1681h10M4142 1682h10M4146 1677h10M4150 1677h10M4151 1682h10M4154 1676h10M4158 1679h10M4162 1680h10M4166 1680h10M4167 1683h10M4179 1680h10M4186 1684h10M4191 1676h10M4196 1677h10M4215 1682h10M4219 1680h10M4227 1681h10M4636 1685h10M4783 1680h10M4784 1681h10M4788 1684h10M4815 1682h10M4858 1677h10M4867 1680h10M4876 1682h10M4894 1678h10M4938 1676h10M1147 1687h10M1154 1694h10M1156 1685h10M1158 1685h10M1164 1692h10M1164 1688h10M1177 1691h10M1179 1685h10M1333 1692h10M1336 1687h10M1338 1690h10M1339 1694h10M1342 1689h10M1343 1690h10M1345 1695h10M1349 1689h10M1352 1686h10M1366 1695h10M4107 1687h10M4110 1687h10M4135 1685h10M4160 1687h10M4165 1693h10M4166 1690h10M4790 1693h10M4841 1689h10M4848 1693h10M4860 1691h10M4913 1688h10M4930 1688h10M1126 1696h10M1148 1697h10M1151 1695h10M1154 1701h10M1156 1699h10M1327 1703h10M1331 1704h10M1333 1702h10M1354 1698h10M4652 1701h10M4699 1699h10M4724 1696h10M4731 1703h10M4744 1705h10M4761 1704h10M4762 1697h10M4781 1697h10M4802 1696h10M4856 1704h10M4859 1698h10M4893 1702h10M4899 1704h10M1128 1705h10M1140 1709h10M1142 1705h10M1147 1710h10M1169 1710h10M1323 1708h10M1334 1715h10M1338 1707h10M4677 1709h10M4728 1708h10M4753 1709h10M4777 1713h10M4817 1715h10M4857 1707h10M4865 1708h10M4873 1710h10M4876 1707h10M4896 1713h10M4929 1709h10M4932 1708h10M1140 1715h10M1141 1716h10M1148 1725h10M1153 1716h10M1161 1725h10M1163 1716h10M1304 1718h10M1316 1725h10M1322 1716h10M1324 1724h10M1330 1722h10M1333 1720h10M1335 1717h10M1343 1722h10M1361 1719h10M4584 1720h10M4740 1722h10M4808 1719h10M4813 1717h10M4836 1724h10M4840 1721h10M4922 1724h10M1141 1726h10M1142 1734h10M1152 1731h10M1153 1728h10M1153 1732h10M1155 1727h10M1165 1734h10M1308 1735h10M1317 1732h10M1318 1730h10M1323 1733h10M1327 1732h10M1330 1728h10M1332 1727h10M1337 1732h10M1349 1731h10M1356 1729h10M4658 1734h10M4663 1726h10M4675 1732h10M4683 1732h10M4739 1730h10M4756 1734h10M4757 1727h10M4761 1733h10M4809 1727h10M4867 1725h10M4891 1728h10M4918 1734h10M4948 1730h10M4975 1727h10M1138 1738h10M1146 1744h10M1150 1736h10M1158 1737h10M1177 1742h10M1306 1738h10M1312 1744h10M1325 1736h10M1336 1738h10M1360 1739h10M4674 1741h10M4682 1744h10M4701 1738h10M4732 1742h10M4733 1740h10M4738 1741h10M4749 1739h10M4749 1738h10M4776 1739h10M4900 1738h10M4944 1737h10M1118 1748h10M1126 1751h10M1127 1755h10M1144 1750h10M1144 1750h10M1147 1750h10M1154 1754h10M1154 1751h10M1159 1751h10M1307 1752h10M1330 1746h10M1338 1748h10M4633 1753h10M4670 1750h10M4681 1748h10M4685 1755h10M4687 1748h10M4762 1754h10M4772 1752h10M4815 1754h10M4842 1749h10M4867 1746h10M4875 1749h10M1128 1763h10M1136 1761h10M1149 1762h10M1151 1756h10M1152 1764h10M1315 1763h10M1315 1762h10M1316 1763h10M1323 1760h10M1330 1756h10M4610 1765h10M4666 1761h10M4680 1761h10M4697 1762h10M4738 1755h10M4746 1760h10M4754 1764h10M4771 1760h10M4809 1762h10M4809 1763h10M4860 1762h10M4911 1762h10M4921 1756h10M1121 1772h10M1133 1775h10M1141 1772h10M1142 1767h10M1142 1773h10M1143 1769h10M1143 1775h10M1297 1774h10M1298 1767h10M1309 1773h10M1327 1771h10M4582 1773h10M4612 1772h10M4641 1766h10M4652 1766h10M4659 1769h10M4677 1765h10M4682 1772h10M4712 1774h10M4734 1765h10M4747 1767h10M4760 1771h10M4790 1772h10M4820 1770h10M4859 1771h10M4864 1770h10M4915 1770h10M1121 1778h10M1122 1781h10M1126 1783h10M1127 1784h10M1128 1784h10M1293 1780h10M1311 1778h10M1314 1776h10M1316 1780h10M4637 1785h10M4685 1784h10M4690 1775h10M4758 1784h10M4787 1782h10M4791 1781h10M4803 1784h10M4804 1775h10M4813 1783h10M4846 1777h10M4856 1781h10M4857 1778h10M4884 1780h10M1113 1786h10M1131 1786h10M1133 1790h10M1146 1792h10M1148 1791h10M1298 1786h10M1311 1793h10M1312 1787h10M1314 1786h10M1315 1790h10M4473 1786h10M4649 1793h10M4675 1794h10M4679 1794h10M4731 1787h10M4737 1791h10M4756 1786h10M4769 1789h10M4781 1792h10M4784 1793h10M4792 1791h10M4810 1794h10M4822 1787h10M4840 1787h10M4882 1793h10M4918 1794h10M1089 1799h10M1113 1796h10M1117 1803h10M1117 1796h10M1120 1804h10M1124 1801h10M1124 1796h10M1126 1803h10M1126 1797h10M1128 1801h10M1134 1796h10M1134 1804h10M1276 1803h10M1302 1805h10M1303 1797h10M1307 1805h10M1315 1803h10M1319 1796h10M1322 1801h10M4564 1802h10M4641 1800h10M4648 1799h10M4676 1797h10M4708 1799h10M4710 1802h10M4715 1797h10M4720 1799h10M4721 1801h10M4726 1798h10M4741 1804h10M4741 1796h10M4759 1800h10M4760 1796h10M4776 1801h10M4802 1796h10M4808 1798h10M4826 1801h10M4859 1803h10M4862 1797h10M4922 1801h10M1129 1814h10M1129 1807h10M1129 1815h10M1131 1808h10M1135 1810h10M1135 1806h10M1145 1806h10M1283 1814h10M1302 1810h10M1302 1808h10M1305 1812h10M1306 1809h10M1309 1815h10M1311 1811h10M4577 1808h10M4609 1812h10M4632 1808h10M4694 1812h10M4697 1815h10M4703 1808h10M4711 1811h10M4760 1812h10M4844 1812h10M4877 1812h10M1106 1823h10M1114 1818h10M1117 1821h10M1120 1824h10M1123 1820h10M1125 1819h10M1131 1821h10M1281 1820h10M1292 1818h10M1293 1816h10M1295 1823h10M1297 1821h10M1300 1822h10M1305 1824h10M1315 1822h10M4605 1820h10M4635 1824h10M4644 1824h10M4672 1815h10M4676 1818h10M4677 1819h10M4681 1819h10M4719 1819h10M4721 1816h10M4723 1817h10M4788 1815h10M4806 1822h10M4820 1823h10M4823 1824h10M4829 1821h10M4849 1821h10M4853 1819h10M4870 1821h10M4871 1818h10M4884 1824h10M4895 1822h10M4914 1824h10M1110 1829h10M1116 1831h10M1117 1827h10M1118 1831h10M1118 1828h10M1125 1834h10M1272 1832h10M1283 1827h10M1298 1827h10M1313 1833h10M1316 1832h10M4655 1833h10M4655 1830h10M4695 1835h10M4750 1827h10M4754 1834h10M4763 1826h10M4769 1834h10M4881 1835h10M4897 1825h10M1107 1838h10M1124 1844h10M1131 1838h10M1261 1845h10M1276 1837h10M1279 1842h10M1283 1843h10M1285 1840h10M1289 1840h10M1296 1835h10M1300 1835h10M1301 1839h10M1306 1843h10M1306 1836h10M1313 1837h10M4536 1842h10M4588 1843h10M4638 1845h10M4653 1841h10M4658 1839h10M4658 1838h10M4683 1843h10M4684 1835h10M4741 1835h10M4751 1835h10M4782 1840h10M4796 1840h10M4797 1838h10M4848 1837h10M4863 1845h10M1090 1853h10M1097 1845h10M1110 1850h10M1115 1854h10M1116 1854h10M1117 1852h10M1121 1851h10M1261 1848h10M1292 1853h10M1292 1855h10M1293 1845h10M1297 1851h10M1301 1848h10M1304 1853h10M4616 1850h10M4656 1855h10M4662 1851h10M4666 1847h10M4680 1849h10M4690 1846h10M4696 1850h10M4710 1847h10M4719 1849h10M4726 1845h10M4732 1855h10M4733 1854h10M4757 1848h10M4785 1848h10M4788 1852h10M4828 1849h10M4833 1848h10M4847 1854h10M4865 1848h10M4873 1847h10M4926 1849h10M1090 1858h10M1098 1861h10M1099 1862h10M1099 1857h10M1110 1858h10M1124 1859h10M1260 1863h10M1270 1857h10M1271 1858h10M1271 1863h10M1276 1856h10M1281 1858h10M1287 1857h10M1289 1862h10M1291 1863h10M1302 1863h10M4623 1858h10M4625 1855h10M4676 1856h10M4695 1860h10M4716 1862h10M4717 1865h10M4733 1858h10M4740 1862h10M4762 1864h10M4775 1862h10M4812 1864h10M4857 1859h10M4878 1855h10M1088 1866h10M1105 1870h10M1111 1869h10M1123 1875h10M1128 1865h10M1268 1868h10M1269 1875h10M1272 1866h10M1280 1870h10M1282 1872h10M1289 1868h10M4612 1871h10M4630 1871h10M4631 1869h10M4666 1870h10M4678 1873h10M4688 1869h10M4697 1868h10M4707 1874h10M4757 1874h10M4762 1871h10M4770 1872h10M4792 1869h10M4805 1872h10M4809 1871h10M4829 1875h10M1088 1875h10M1091 1876h10M1094 1881h10M1096 1875h10M1097 1877h10M1100 1876h10M1106 1885h10M1244 1880h10M1257 1876h10M1271 1877h10M1281 1883h10M1283 1878h10M1283 1876h10M4573 1876h10M4580 1883h10M4609 1882h10M4645 1884h10M4653 1882h10M4655 1878h10M4682 1882h10M4689 1883h10M4694 1879h10M4716 1879h10M4749 1882h10M4756 1876h10M4763 1881h10M4766 1884h10M4799 1878h10M4825 1876h10M4829 1884h10M4840 1883h10M1096 1889h10M1097 1893h10M1100 1891h10M1115 1886h10M1116 1890h10M1254 1889h10M1263 1889h10M1279 1886h10M4679 1892h10M4754 1895h10M4755 1889h10M4810 1885h10M4846 1891h10M4859 1893h10M1086 1896h10M1093 1895h10M1094 1901h10M1096 1897h10M1103 1902h10M1117 1899h10M1251 1899h10M1269 1905h10M1272 1898h10M1275 1902h10M1282 1900h10M4568 1898h10M4625 1904h10M4627 1900h10M4629 1900h10M4659 1903h10M4674 1896h10M4682 1900h10M4725 1896h10M4732 1899h10M4760 1898h10M4763 1902h10M4778 1896h10M4800 1901h10M4832 1897h10M4859 1896h10M4883 1902h10M1089 1908h10M1093 1914h10M1099 1913h10M1104 1909h10M1110 1906h10M1255 1914h10M1259 1910h10M1269 1906h10M1275 1912h10M1284 1911h10M4602 1914h10M4622 1911h10M4637 1912h10M4641 1908h10M4707 1912h10M4719 1914h10M4759 1911h10M4815 1912h10M4822 1909h10M4830 1912h10M4861 1907h10M4894 1908h10M1071 1921h10M1085 1921h10M1092 1918h10M1095 1925h10M1096 1918h10M1098 1924h10M1098 1922h10M1102 1915h10M1124 1924h10M1251 1925h10M1252 1922h10M1257 1916h10M1259 1924h10M1270 1923h10M1281 1915h10M4462 1922h10M4528 1918h10M4612 1924h10M4633 1919h10M4658 1922h10M4677 1917h10M4702 1918h10M4715 1920h10M4717 1920h10M4727 1918h10M4739 1925h10M4745 1918h10M4756 1919h10M4770 1917h10M4781 1915h10M4784 1922h10M4823 1923h10M4829 1917h10M4848 1922h10M4853 1917h10M4867 1922h10M1071 1929h10M1079 1930h10M1085 1931h10M1093 1931h10M1093 1926h10M1097 1930h10M1098 1925h10M1104 1934h10M1254 1935h10M1254 1930h10M1254 1929h10M1256 1927h10M1256 1932h10M1282 1932h10M4649 1930h10M4650 1928h10M4658 1930h10M4678 1930h10M4720 1933h10M4737 1929h10M4751 1926h10M4779 1930h10M4786 1925h10M4790 1928h10M4823 1927h10M4854 1928h10M1079 1940h10M1082 1942h10M1085 1938h10M1086 1941h10M1087 1940h10M1092 1942h10M1099 1938h10M1116 1938h10M1251 1942h10M1253 1937h10M1253 1945h10M1258 1938h10M1271 1937h10M4536 1938h10M4563 1937h10M4570 1941h10M4571 1939h10M4586 1939h10M4594 1939h10M4595 1936h10M4611 1937h10M4635 1942h10M4642 1942h10M4653 1937h10M4663 1937h10M4665 1940h10M4680 1941h10M4692 1941h10M4695 1938h10M4697 1945h10M4715 1937h10M4736 1936h10M4755 1935h10M4774 1938h10M4789 1939h10M4794 1938h10M4804 1941h10M4824 1940h10M4826 1944h10M1073 1948h10M1084 1945h10M1084 1947h10M1091 1946h10M1102 1950h10M1104 1948h10M1250 1952h10M1254 1952h10M1255 1946h10M1256 1950h10M1256 1949h10M4550 1954h10M4550 1948h10M4566 1945h10M4611 1953h10M4651 1952h10M4656 1950h10M4679 1947h10M4683 1946h10M4684 1948h10M4702 1954h10M4703 1946h10M4775 1952h10M4776 1954h10M4800 1946h10M4811 1948h10M4815 1947h10M4836 1954h10M1086 1958h10M1089 1961h10M1098 1957h10M1101 1958h10M1216 1959h10M1246 1960h10M1250 1963h10M1252 1961h10M1253 1959h10M1258 1958h10M1267 1964h10M4520 1956h10M4578 1955h10M4607 1960h10M4662 1960h10M4673 1964h10M4689 1960h10M4772 1965h10M4796 1957h10M4822 1958h10M4838 1963h10M4853 1964h10M1065 1971h10M1068 1972h10M1070 1967h10M1074 1965h10M1078 1974h10M1080 1972h10M1082 1970h10M1082 1974h10M1083 1969h10M1087 1972h10M1087 1970h10M1088 1974h10M1088 1965h10M1096 1965h10M1098 1966h10M1098 1968h10M1257 1965h10M1266 1971h10M1268 1966h10M1281 1965h10M4528 1969h10M4561 1972h10M4570 1972h10M4577 1974h10M4592 1975h10M4592 1974h10M4592 1967h10M4595 1974h10M4608 1974h10M4612 1969h10M4642 1970h10M4647 1973h10M4659 1969h10M4707 1970h10M4710 1969h10M4729 1968h10M4756 1973h10M4757 1967h10M4774 1972h10M4783 1970h10M4797 1969h10M4839 1970h10M1068 1978h10M1071 1976h10M1082 1978h10M1088 1976h10M1090 1977h10M1233 1977h10M1233 1978h10M1242 1985h10M1269 1981h10M4484 1984h10M4546 1983h10M4580 1977h10M4614 1984h10M4615 1975h10M4685 1983h10M4686 1976h10M4722 1978h10M4730 1983h10M4765 1978h10M4799 1980h10M4809 1984h10M4810 1975h10M4811 1983h10M4821 1980h10M4822 1977h10M1074 1993h10M1074 1991h10M1076 1986h10M1077 1992h10M1078 1987h10M1078 1989h10M1082 1994h10M1086 1993h10M1087 1992h10M1088 1992h10M1093 1995h10M1093 1987h10M1103 1993h10M1237 1990h10M1243 1988h10M1245 1993h10M1246 1993h10M1247 1987h10M4493 1986h10M4597 1994h10M4605 1990h10M4625 1987h10M4653 1991h10M4688 1991h10M4700 1991h10M4711 1990h10M4733 1990h10M4781 1986h10M4793 1990h10M4847 1987h10M1057 1998h10M1059 2003h10M1064 1999h10M1072 1998h10M1082 1998h10M1087 2002h10M1221 2002h10M1223 1998h10M1230 2003h10M1231 2003h10M1244 2001h10M1246 1998h10M1248 1997h10M1251 2001h10M1258 1997h10M4538 1998h10M4621 2001h10M4625 2004h10M4636 1997h10M4646 2004h10M4659 2001h10M4668 1996h10M4707 1996h10M4719 1995h10M4734 1999h10M4735 2003h10M4764 2004h10M4765 2005h10M4846 2003h10M1062 2010h10M1072 2009h10M1083 2011h10M1085 2005h10M1085 2007h10M1238 2007h10M1241 2006h10M1241 2011h10M1246 2014h10M4535 2011h10M4539 2006h10M4544 2008h10M4562 2014h10M4566 2010h10M4614 2010h10M4627 2011h10M4629 2012h10M4665 2010h10M4669 2011h10M4675 2010h10M4685 2005h10M4707 2008h10M4726 2007h10M4727 2008h10M4729 2005h10M4732 2005h10M4761 2013h10M4777 2006h10M4778 2015h10M4790 2008h10M4797 2011h10M1059 2016h10M1068 2023h10M1071 2021h10M1078 2019h10M1079 2021h10M1081 2017h10M1081 2023h10M1096 2024h10M1103 2020h10M1224 2018h10M1231 2022h10M1233 2023h10M1241 2017h10M1244 2021h10M1250 2019h10M4482 2021h10M4518 2017h10M4554 2016h10M4596 2017h10M4604 2023h10M4617 2024h10M4630 2025h10M4643 2023h10M4659 2022h10M4671 2019h10M4683 2016h10M4690 2024h10M4700 2019h10M4768 2019h10M4783 2023h10M4839 2020h10M1064 2035h10M1076 2026h10M1078 2033h10M1084 2033h10M1089 2030h10M1102 2030h10M1224 2025h10M1224 2032h10M1225 2027h10M1226 2030h10M1241 2027h10M1245 2026h10M1248 2029h10M1253 2033h10M1256 2026h10M4529 2031h10M4546 2026h10M4552 2027h10M4570 2029h10M4623 2030h10M4625 2032h10M4633 2034h10M4686 2028h10M4691 2029h10M4697 2033h10M4701 2031h10M4705 2035h10M4750 2025h10M4751 2035h10M4764 2028h10M4784 2035h10M4790 2033h10M4816 2030h10M1061 2042h10M1080 2038h10M1086 2042h10M1095 2040h10M1229 2039h10M1230 2037h10M1230 2039h10M1234 2045h10M1236 2044h10M1246 2044h10M1252 2035h10M4543 2040h10M4556 2039h10M4558 2045h10M4561 2043h10M4563 2042h10M4580 2041h10M4623 2042h10M4628 2042h10M4630 2038h10M4642 2042h10M4645 2040h10M4645 2037h10M4658 2042h10M4704 2040h10M4712 2043h10M4736 2037h10M4784 2036h10M4787 2037h10M4849 2036h10M4850 2045h10M1064 2050h10M1066 2046h10M1223 2047h10M1232 2048h10M1236 2052h10M1241 2046h10M1245 2048h10M4536 2050h10M4548 2050h10M4551 2049h10M4617 2050h10M4651 2054h10M4667 2049h10M4698 2051h10M4742 2053h10M4830 2052h10M1061 2057h10M1064 2060h10M1064 2058h10M1069 2058h10M1072 2056h10M1074 2056h10M1077 2061h10M1078 2064h10M1206 2058h10M1223 2057h10M1239 2063h10M4534 2058h10M4553 2059h10M4554 2065h10M4590 2056h10M4629 2060h10M4632 2058h10M4673 2061h10M4708 2057h10M4740 2063h10M4741 2064h10M4747 2057h10M4769 2062h10M4822 2061h10M1052 2074h10M1053 2067h10M1061 2070h10M1064 2071h10M1078 2071h10M1084 2068h10M1085 2075h10M1218 2073h10M1227 2074h10M1233 2070h10M1237 2072h10M1238 2065h10M1239 2066h10M1241 2066h10M4441 2065h10M4476 2072h10M4523 2070h10M4532 2073h10M4542 2074h10M4542 2068h10M4546 2075h10M4572 2075h10M4603 2074h10M4609 2072h10M4619 2067h10M4623 2069h10M4649 2067h10M4661 2065h10M4690 2073h10M4710 2067h10M4733 2069h10M4758 2075h10M4761 2075h10M4764 2073h10M4783 2069h10M4792 2070h10M4829 2065h10M4913 2066h10M1065 2083h10M1065 2079h10M1079 2085h10M1080 2077h10M1084 2083h10M1206 2083h10M1219 2076h10M1224 2077h10M1225 2083h10M1225 2078h10M1227 2076h10M1234 2084h10M1238 2079h10M1243 2080h10M1252 2075h10M4460 2081h10M4541 2084h10M4562 2078h10M4577 2078h10M4579 2084h10M4596 2080h10M4596 2080h10M4602 2080h10M4659 2085h10M4673 2084h10M4676 2079h10M4694 2081h10M4738 2081h10M4762 2077h10M4767 2078h10M4813 2078h10M1053 2085h10M1055 2089h10M1062 2086h10M1066 2089h10M1080 2091h10M1222 2095h10M1224 2092h10M1226 2095h10M1228 2094h10M1229 2085h10M1233 2086h10M1234 2086h10M1245 2090h10M4528 2087h10M4545 2088h10M4551 2095h10M4570 2090h10M4580 2089h10M4588 2090h10M4634 2085h10M4636 2089h10M4666 2092h10M4676 2089h10M4682 2091h10M4697 2095h10M4697 2085h10M4708 2086h10M4715 2085h10M4734 2092h10M4737 2094h10M4781 2086h10M1059 2102h10M1059 2105h10M1061 2102h10M1066 2104h10M1067 2095h10M1067 2101h10M1189 2098h10M1200 2097h10M1206 2097h10M1206 2100h10M1211 2102h10M1222 2096h10M1234 2098h10M1237 2095h10M1245 2096h10M4491 2100h10M4531 2098h10M4531 2098h10M4538 2099h10M4541 2098h10M4544 2103h10M4549 2099h10M4581 2102h10M4583 2104h10M4584 2100h10M4601 2105h10M4613 2098h10M4624 2103h10M4627 2095h10M4629 2098h10M4647 2103h10M4653 2105h10M4668 2096h10M4749 2096h10M1046 2112h10M1053 2111h10M1068 2112h10M1074 2112h10M1079 2109h10M1079 2111h10M1215 2107h10M1223 2115h10M1228 2114h10M1233 2109h10M4511 2113h10M4535 2107h10M4535 2114h10M4603 2109h10M4617 2114h10M4621 2109h10M4637 2113h10M4639 2107h10M4645 2114h10M4653 2111h10M4670 2108h10M4701 2106h10M4724 2107h10M4752 2113h10M4765 2108h10M4782 2113h10M4803 2110h10M4817 2110h10M1042 2116h10M1056 2123h10M1071 2120h10M1073 2123h10M1079 2118h10M1092 2115h10M1210 2122h10M1211 2118h10M1215 2117h10M1223 2119h10M4484 2118h10M4488 2119h10M4491 2121h10M4494 2122h10M4580 2123h10M4671 2121h10M4680 2118h10M4714 2123h10M4716 2122h10M4717 2122h10M4723 2116h10M4729 2120h10M4729 2117h10M4731 2125h10M4764 2120h10M4786 2120h10M4787 2117h10M1037 2133h10M1039 2133h10M1056 2127h10M1057 2130h10M1061 2132h10M1061 2133h10M1066 2128h10M1067 2131h10M1215 2126h10M1219 2128h10M1225 2126h10M1226 2127h10M4427 2132h10M4427 2128h10M4448 2126h10M4461 2131h10M4480 2128h10M4498 2128h10M4503 2130h10M4514 2130h10M4535 2129h10M4539 2131h10M4550 2130h10M4563 2125h10M4564 2126h10M4575 2131h10M4579 2134h10M4583 2129h10M4592 2131h10M4599 2127h10M4615 2127h10M4620 2130h10M4627 2133h10M4628 2133h10M4644 2135h10M4660 2135h10M4680 2131h10M4687 2133h10M4718 2125h10M4723 2129h10M4728 2132h10M4751 2126h10M4796 2129h10M1049 2145h10M1066 2140h10M1206 2145h10M1207 2144h10M1212 2140h10M1224 2139h10M1233 2137h10M4473 2137h10M4479 2141h10M4481 2138h10M4482 2140h10M4486 2138h10M4517 2139h10M4527 2138h10M4528 2140h10M4553 2138h10M4559 2138h10M4619 2137h10M4620 2135h10M4622 2143h10M4667 2143h10M4674 2140h10M4685 2136h10M4708 2140h10M4710 2135h10M4742 2141h10M4757 2143h10M4783 2137h10M4817 2144h10M1043 2151h10M1054 2149h10M1055 2154h10M1057 2153h10M1060 2146h10M1205 2150h10M1205 2148h10M1217 2147h10M1225 2150h10M4406 2147h10M4486 2145h10M4535 2152h10M4551 2151h10M4558 2154h10M4566 2153h10M4600 2150h10M4609 2150h10M4628 2148h10M4648 2148h10M4651 2154h10M4651 2148h10M4655 2151h10M4659 2154h10M4661 2150h10M4673 2152h10M4680 2147h10M4703 2154h10M4742 2150h10M4744 2151h10M4753 2152h10M4788 2149h10M1035 2160h10M1048 2161h10M1050 2164h10M1063 2155h10M1183 2160h10M1187 2162h10M1197 2162h10M1202 2161h10M1203 2156h10M1206 2164h10M1207 2158h10M1212 2160h10M1215 2162h10M1219 2162h10M4434 2163h10M4461 2157h10M4469 2164h10M4470 2163h10M4484 2162h10M4496 2158h10M4499 2163h10M4500 2163h10M4505 2159h10M4505 2161h10M4529 2163h10M4538 2160h10M4538 2160h10M4542 2164h10M4552 2161h10M4554 2163h10M4557 2158h10M4565 2157h10M4597 2157h10M4600 2162h10M4603 2157h10M4619 2156h10M4666 2158h10M4668 2163h10M4671 2164h10M4686 2163h10M4688 2164h10M4726 2155h10M4764 2162h10M4767 2163h10M4770 2158h10M1044 2172h10M1048 2174h10M1052 2166h10M1057 2166h10M1197 2170h10M1211 2169h10M1220 2171h10M1222 2173h10M4409 2168h10M4456 2169h10M4458 2170h10M4485 2168h10M4497 2174h10M4506 2173h10M4514 2168h10M4527 2166h10M4569 2169h10M4571 2168h10M4606 2166h10M4610 2172h10M4613 2165h10M4623 2174h10M4627 2173h10M4642 2166h10M4651 2166h10M4655 2168h10M4656 2174h10M4657 2168h10M4662 2171h10M4669 2175h10M4683 2171h10M4686 2167h10M4686 2175h10M4702 2172h10M4711 2173h10M4727 2169h10M4748 2165h10M1016 2178h10M1032 2183h10M1042 2177h10M1045 2178h10M1047 2177h10M1047 2183h10M1049 2182h10M1051 2183h10M1052 2184h10M1053 2182h10M1063 2178h10M1073 2181h10M1191 2175h10M1193 2177h10M1194 2184h10M1198 2178h10M1201 2176h10M1205 2181h10M1207 2185h10M1207 2181h10M1231 2181h10M4432 2181h10M4505 2184h10M4515 2183h10M4564 2181h10M4570 2179h10M4570 2178h10M4574 2184h10M4575 2184h10M4577 2183h10M4599 2177h10M4608 2183h10M4609 2183h10M4615 2178h10M4630 2184h10M4635 2181h10M4636 2183h10M4637 2178h10M4660 2178h10M4662 2181h10M4674 2183h10M4674 2182h10M4675 2184h10M4676 2176h10M4677 2176h10M4679 2180h10M4683 2176h10M4694 2182h10M4703 2181h10M4704 2183h10M1041 2191h10M1191 2185h10M1195 2195h10M1197 2187h10M1207 2187h10M1216 2190h10M4431 2191h10M4437 2190h10M4465 2192h10M4466 2189h10M4474 2194h10M4481 2192h10M4529 2188h10M4557 2189h10M4558 2187h10M4577 2193h10M4578 2185h10M4586 2193h10M4594 2193h10M4608 2195h10M4609 2190h10M4628 2189h10M4641 2195h10M4659 2190h10M4669 2186h10M4673 2187h10M4674 2191h10M4675 2192h10M4679 2194h10M4696 2193h10M4709 2190h10M4712 2192h10M1030 2201h10M1045 2203h10M1053 2203h10M1056 2205h10M1068 2205h10M1069 2201h10M1181 2196h10M1199 2200h10M1205 2196h10M4456 2203h10M4503 2196h10M4519 2201h10M4524 2202h10M4556 2200h10M4575 2196h10M4585 2203h10M4590 2197h10M4594 2201h10M4607 2199h10M4612 2196h10M4618 2202h10M4624 2204h10M4645 2197h10M4705 2205h10M4752 2197h10M1028 2207h10M1038 2211h10M1043 2210h10M1048 2211h10M1051 2208h10M1072 2213h10M1185 2210h10M1187 2215h10M1191 2213h10M1192 2213h10M1193 2211h10M1193 2208h10M1199 2215h10M1210 2215h10M4453 2214h10M4470 2210h10M4473 2211h10M4490 2209h10M4513 2211h10M4561 2210h10M4571 2213h10M4573 2212h10M4603 2207h10M4605 2205h10M4609 2214h10M4623 2209h10M4633 2207h10M4652 2207h10M4653 2212h10M4690 2209h10M4694 2208h10M4727 2212h10M1018 2220h10M1026 2220h10M1033 2221h10M1034 2223h10M1042 2219h10M1047 2219h10M1056 2215h10M1180 2217h10M1183 2222h10M1189 2217h10M1194 2219h10M1196 2216h10M1197 2219h10M1199 2217h10M1199 2225h10M1209 2216h10M1214 2220h10M4419 2222h10M4424 2224h10M4451 2217h10M4456 2223h10M4463 2218h10M4470 2217h10M4490 2217h10M4491 2224h10M4516 2217h10M4549 2215h10M4569 2218h10M4571 2220h10M4587 2222h10M4597 2216h10M4601 2221h10M4618 2216h10M4626 2225h10M4629 2221h10M4635 2222h10M4660 2223h10M4676 2224h10M4685 2222h10M4697 2225h10M4702 2225h10M4711 2217h10M1015 2235h10M1030 2234h10M1030 2226h10M1041 2226h10M1044 2231h10M1047 2227h10M1049 2235h10M1059 2231h10M1065 2235h10M1176 2228h10M1186 2225h10M1188 2231h10M1188 2231h10M1195 2227h10M4394 2227h10M4446 2226h10M4483 2229h10M4524 2228h10M4525 2225h10M4536 2231h10M4540 2227h10M4562 2231h10M4577 2226h10M4604 2228h10M4627 2234h10M4629 2233h10M4633 2229h10M4644 2234h10M4654 2230h10M4675 2234h10M4680 2233h10M4734 2230h10M4734 2230h10M1016 2238h10M1028 2239h10M1034 2243h10M1041 2243h10M1044 2244h10M1044 2244h10M1051 2244h10M1181 2236h10M1181 2244h10M1186 2243h10M1188 2241h10M1194 2243h10M1198 2242h10M1202 2241h10M1203 2236h10M1205 2243h10M1209 2237h10M4415 2239h10M4419 2239h10M4447 2242h10M4453 2242h10M4458 2244h10M4458 2244h10M4467 2244h10M4476 2241h10M4492 2244h10M4502 2239h10M4504 2244h10M4514 2244h10M4521 2236h10M4536 2243h10M4562 2240h10M4569 2236h10M4588 2236h10M4590 2238h10M4602 2238h10M4604 2244h10M4614 2238h10M4632 2244h10M4653 2242h10M4656 2243h10M4664 2237h10M4683 2243h10M4714 2235h10M4721 2239h10M4725 2243h10M4725 2243h10M4752 2239h10M4766 2238h10M1014 2255h10M1024 2245h10M1039 2252h10M1171 2248h10M1174 2252h10M1177 2254h10M1194 2247h10M1200 2253h10M1204 2253h10M4386 2254h10M4472 2247h10M4473 2251h10M4532 2253h10M4535 2253h10M4574 2253h10M4580 2254h10M4582 2253h10M4601 2248h10M4607 2250h10M4610 2251h10M4615 2248h10M4622 2245h10M4656 2254h10M4657 2248h10M4697 2253h10M4712 2246h10M4740 2251h10M4768 2253h10M4779 2254h10M1025 2256h10M1039 2255h10M1172 2256h10M4455 2260h10M4515 2257h10M4529 2257h10M4566 2258h10M4589 2257h10M4600 2255h10M4623 2257h10M4656 2257h10M4695 2256h10M4700 2258h10" stroke="#747474" stroke-opacity="0.42" stroke-width="10" fill="none"/>
<path d="M6450 18h10M6478 25h10M6601 23h10M6716 19h10M6718 24h10M6665 29h10M6379 45h10M6382 38h10M6442 40h10M6462 41h10M6629 42h10M6415 54h10M6438 52h10M6638 45h10M6369 57h10M6387 58h10M6434 62h10M6533 63h10M6637 60h10M6399 75h10M6418 73h10M6533 73h10M6593 73h10M6540 94h10M6604 93h10M6423 101h10M6525 97h10M6541 100h10M6414 110h10M6454 115h10M6298 118h10M6305 118h10M6275 126h10M6497 129h10M6264 137h10M6339 138h10M6409 135h10M6417 136h10M6452 136h10M6333 148h10M6482 153h10M6144 159h10M6159 158h10M6225 159h10M6251 169h10M6240 179h10M6147 191h10M6253 191h10M6343 188h10M6121 202h10M6299 200h10M6375 203h10M6192 213h10M6235 208h10M6245 207h10M6351 214h10M6422 213h10M6198 222h10M6305 217h10M6372 232h10M6149 241h10M6184 239h10M1951 251h10M1997 253h10M6026 251h10M6202 250h10M6244 252h10M6287 253h10M2180 255h10M2298 256h10M6156 257h10M6270 257h10M1850 272h10M1899 272h10M2066 274h10M2101 268h10M6080 272h10M6237 266h10M6291 273h10M1803 276h10M1840 278h10M1899 283h10M2006 281h10M2033 281h10M2157 285h10M6093 278h10M6304 285h10M1964 288h10M2208 294h10M2242 286h10M5988 288h10M6253 289h10M1722 295h10M1729 303h10M1775 300h10M1831 303h10M5975 298h10M6036 296h10M6137 304h10M6278 305h10M1679 309h10M1701 312h10M5994 311h10M6033 310h10M6036 313h10M1709 321h10M2105 319h10M6134 322h10M6152 316h10M6164 320h10M1608 329h10M1633 326h10M1722 332h10M5964 332h10M6062 331h10M6240 332h10M1556 343h10M1577 338h10M1600 337h10M1634 336h10M2396 338h10M5978 341h10M6017 338h10M6118 341h10M1570 355h10M1579 352h10M1619 350h10M5922 354h10M5963 346h10M5968 348h10M1576 361h10M1591 358h10M5922 356h10M5962 364h10M5990 363h10M6082 364h10M6209 360h10M1556 370h10M1562 373h10M6089 369h10M6146 373h10M1564 377h10M5874 377h10M5901 378h10M5926 379h10M6149 380h10M1528 390h10M1565 385h10M1572 388h10M5854 394h10M5974 390h10M6033 385h10M1514 405h10M5885 398h10M1492 405h10M1499 407h10M1514 410h10M5807 412h10M5992 410h10M1488 416h10M6046 422h10M1453 432h10M1491 426h10M6144 433h10M1449 438h10M5914 435h10M5938 440h10M1454 454h10M1455 455h10M1457 455h10M1459 451h10M1462 448h10M5820 449h10M5950 449h10M5962 446h10M6076 448h10M1430 462h10M1437 465h10M1438 463h10M1441 461h10M1442 457h10M1450 455h10M1451 460h10M1452 457h10M2262 463h10M5757 457h10M5785 463h10M5798 460h10M5818 457h10M5840 460h10M5984 461h10M6025 465h10M6035 457h10M6051 463h10M1409 467h10M2249 468h10M6152 466h10M1392 481h10M1428 475h10M2005 478h10M2005 484h10M2097 483h10M2197 483h10M2259 476h10M5884 476h10M5905 483h10M1388 488h10M2002 489h10M2023 488h10M2095 488h10M2246 494h10M2289 486h10M2304 491h10M5829 493h10M5864 487h10M1357 504h10M1361 503h10M1373 503h10M2061 502h10M2145 499h10M2177 505h10M2179 497h10M5712 505h10M5770 499h10M5815 500h10M6026 496h10M1321 509h10M1348 511h10M1384 506h10M1948 508h10M1967 513h10M1972 508h10M2025 508h10M2060 513h10M2093 515h10M2096 505h10M2158 506h10M2457 510h10M5731 509h10M5851 512h10M5889 505h10M5978 506h10M1332 523h10M1335 522h10M1342 518h10M1351 524h10M1901 520h10M2018 520h10M2063 517h10M5853 523h10M1318 529h10M1322 528h10M1337 528h10M1338 530h10M1338 532h10M1338 530h10M1893 531h10M2060 530h10M2214 527h10M2562 529h10M2633 531h10M5803 527h10M5812 527h10M5913 534h10M1328 544h10M2544 543h10M2588 539h10M5848 544h10M5869 542h10M1313 545h10M1886 555h10M1889 555h10M1892 554h10M1919 551h10M1927 551h10M2030 547h10M2065 555h10M2113 555h10M2139 553h10M2206 554h10M2489 545h10M2521 545h10M5815 547h10M5893 550h10M5944 546h10M5951 552h10M1302 558h10M1874 563h10M1882 562h10M1899 559h10M1989 556h10M2022 557h10M2099 564h10M2127 563h10M2530 557h10M2575 556h10M5675 564h10M5731 562h10M1251 569h10M1263 572h10M1276 567h10M1312 566h10M1830 573h10M1859 573h10M1889 567h10M1893 571h10M1917 565h10M2188 566h10M2208 566h10M2747 566h10M5897 573h10M5899 569h10M1255 582h10M1781 581h10M1804 576h10M1822 581h10M1825 577h10M1867 575h10M2332 578h10M2752 580h10M5703 584h10M5725 579h10M5769 575h10M5846 581h10M1217 594h10M1232 592h10M1266 587h10M1735 594h10M1756 592h10M1775 594h10M1797 592h10M1810 595h10M1825 590h10M1830 589h10M1845 595h10M1851 591h10M2699 593h10M5577 592h10M5609 591h10M5641 592h10M5642 592h10M5645 594h10M5681 587h10M5743 590h10M5749 589h10M1145 601h10M1201 602h10M1218 602h10M1274 596h10M1705 603h10M1717 601h10M1791 596h10M1796 599h10M1844 598h10M2700 604h10M2719 602h10M5606 603h10M5639 602h10M5654 600h10M5672 600h10M5815 598h10M1215 615h10M1712 611h10M1788 605h10M1797 614h10M1797 613h10M1806 613h10M1806 612h10M1819 609h10M2445 613h10M2770 613h10M5334 608h10M5440 606h10M5560 612h10M5617 615h10M5744 609h10M1208 622h10M1786 620h10M2737 621h10M2744 617h10M2758 617h10M5491 621h10M5581 620h10M5709 624h10M5761 617h10M5768 622h10M5809 622h10M5875 616h10M1642 626h10M1700 627h10M1707 631h10M1746 634h10M1747 633h10M1749 633h10M1769 628h10M1769 627h10M1773 627h10M2427 631h10M2791 631h10M5589 628h10M5636 630h10M5701 628h10M5742 628h10M5808 632h10M1166 638h10M1669 635h10M1736 640h10M1752 637h10M2410 639h10M2778 638h10M5726 642h10M5768 637h10M5808 639h10M5827 639h10M1208 649h10M1558 653h10M1580 654h10M1671 654h10M1679 647h10M1713 654h10M1714 649h10M1724 651h10M1743 652h10M5651 653h10M1059 663h10M1120 659h10M1574 660h10M1629 661h10M1638 664h10M1658 659h10M1737 657h10M5358 655h10M5605 664h10M5636 659h10M5678 661h10M5754 659h10M5762 658h10M5831 657h10M1074 671h10M1586 672h10M1632 670h10M1735 665h10M2581 673h10M5533 666h10M5708 668h10M5808 669h10M1079 684h10M1083 682h10M1568 677h10M1634 679h10M1650 683h10M1671 678h10M1678 676h10M1709 682h10M1732 679h10M2593 684h10M5517 675h10M5522 678h10M5535 682h10M5669 683h10M1022 693h10M1052 687h10M1538 694h10M1540 695h10M1545 687h10M1671 692h10M1697 688h10M1700 690h10M1716 692h10M5274 686h10M5534 689h10M5659 686h10M5677 694h10M1606 695h10M1661 697h10M5520 704h10M5553 705h10M5556 696h10M5614 701h10M5733 703h10M5744 699h10M1029 707h10M1064 705h10M1531 707h10M1626 714h10M1639 709h10M1682 706h10M5594 713h10M5635 710h10M5704 714h10M1082 717h10M1472 722h10M1632 720h10M1635 715h10M1639 724h10M5366 725h10M5399 723h10M5403 721h10M5474 722h10M5540 716h10M5604 724h10M5697 722h10M5717 724h10M957 735h10M989 730h10M1439 728h10M1474 735h10M1507 726h10M1515 734h10M1607 729h10M1610 733h10M1615 735h10M1631 726h10M5199 726h10M5407 726h10M5517 734h10M5582 729h10M5730 733h10M975 741h10M979 742h10M1384 735h10M1427 744h10M1462 736h10M1464 741h10M1467 735h10M1476 739h10M1584 742h10M1603 745h10M1614 739h10M1616 736h10M1619 738h10M1648 739h10M5389 742h10M5418 739h10M5463 741h10M5492 737h10M5523 738h10M5547 744h10M914 752h10M939 752h10M969 752h10M1431 755h10M1457 753h10M1460 748h10M1485 745h10M1620 747h10M5391 749h10M5621 747h10M5721 751h10M904 762h10M910 762h10M911 756h10M928 758h10M933 762h10M952 764h10M993 763h10M1398 762h10M1594 763h10M2418 764h10M5468 765h10M5642 761h10M817 772h10M867 770h10M891 765h10M1001 770h10M1377 774h10M1431 768h10M1434 766h10M1583 769h10M1589 766h10M1603 765h10M2289 766h10M2342 775h10M5371 773h10M5417 767h10M5634 774h10M5644 769h10M5671 768h10M885 777h10M888 778h10M898 778h10M908 777h10M921 776h10M924 776h10M951 776h10M1316 776h10M1355 785h10M1376 777h10M1407 778h10M1556 784h10M1566 775h10M1601 775h10M2206 780h10M2206 785h10M2259 781h10M2383 780h10M2398 776h10M2399 781h10M2468 782h10M2495 782h10M5430 777h10M5491 778h10M5556 780h10M5598 777h10M5652 776h10M831 793h10M852 795h10M853 793h10M854 786h10M866 792h10M903 790h10M905 791h10M913 790h10M929 785h10M1315 789h10M1341 794h10M1386 795h10M1551 786h10M1554 792h10M1559 786h10M1567 788h10M2143 789h10M2170 794h10M2295 795h10M2460 788h10M2509 787h10M2565 794h10M5478 786h10M5490 793h10M5612 789h10M5614 792h10M5627 787h10M5673 787h10M5678 794h10M809 804h10M819 799h10M820 804h10M837 798h10M843 800h10M862 796h10M870 797h10M870 798h10M873 796h10M877 796h10M893 797h10M1527 796h10M1534 804h10M1586 797h10M2078 802h10M2323 797h10M2528 803h10M5306 802h10M5491 804h10M746 814h10M807 813h10M833 809h10M834 812h10M835 806h10M837 805h10M864 807h10M866 814h10M1341 811h10M1382 809h10M1534 811h10M1535 815h10M1536 809h10M1544 810h10M1551 813h10M2053 807h10M2096 806h10M2118 811h10M2119 814h10M2224 812h10M2410 812h10M2418 806h10M2444 809h10M2491 806h10M2509 812h10M2584 811h10M5096 806h10M5411 814h10M5442 813h10M5510 812h10M5520 813h10M5615 806h10M5620 808h10M777 817h10M786 820h10M797 817h10M803 822h10M816 823h10M817 824h10M832 816h10M841 820h10M843 818h10M846 820h10M866 820h10M1296 821h10M1504 825h10M1516 819h10M1528 824h10M1544 824h10M1554 825h10M2095 816h10M2098 823h10M2128 817h10M2152 822h10M2175 822h10M2610 819h10M2625 824h10M2633 815h10M5406 819h10M5444 818h10M5534 816h10M5557 815h10M761 827h10M771 833h10M777 834h10M778 826h10M785 834h10M786 835h10M804 834h10M805 833h10M810 834h10M828 833h10M829 830h10M869 828h10M1501 830h10M1505 827h10M1515 827h10M1981 831h10M2170 826h10M2583 828h10M2650 831h10M5521 833h10M5526 832h10M5536 828h10M5610 831h10M706 838h10M724 838h10M745 843h10M753 836h10M755 843h10M757 842h10M767 840h10M768 840h10M778 840h10M789 839h10M793 840h10M801 845h10M806 841h10M808 842h10M825 835h10M827 836h10M828 835h10M835 843h10M851 844h10M863 843h10M1497 838h10M1514 842h10M1518 837h10M1921 840h10M1987 841h10M2050 841h10M2079 840h10M2181 840h10M2642 836h10M5388 839h10M5575 835h10M699 850h10M729 845h10M737 854h10M759 854h10M762 850h10M766 851h10M779 846h10M784 851h10M786 847h10M796 854h10M807 849h10M815 847h10M825 845h10M1249 850h10M1469 847h10M1504 846h10M1957 852h10M1996 852h10M2043 850h10M5341 849h10M5388 849h10M5392 850h10M5404 847h10M5431 845h10M5467 845h10M5492 847h10M5539 845h10M676 859h10M680 856h10M688 859h10M693 859h10M702 863h10M708 865h10M728 858h10M737 857h10M744 858h10M760 855h10M771 864h10M774 863h10M777 858h10M782 856h10M787 859h10M788 856h10M788 859h10M790 865h10M793 856h10M799 861h10M800 855h10M1123 865h10M1203 858h10M1474 862h10M1488 856h10M1489 862h10M1495 864h10M1495 861h10M1501 864h10M1514 856h10M1519 859h10M1961 856h10M2012 858h10M2671 860h10M2696 856h10M2699 857h10M5299 862h10M5341 857h10M5498 862h10M633 873h10M634 874h10M646 872h10M661 869h10M672 874h10M672 870h10M674 874h10M684 875h10M685 868h10M685 871h10M687 869h10M690 875h10M691 873h10M692 870h10M700 873h10M711 873h10M730 867h10M733 868h10M739 869h10M742 872h10M744 865h10M748 873h10M749 870h10M760 871h10M773 874h10M774 875h10M810 868h10M1240 873h10M1481 868h10M1483 872h10M1485 872h10M1510 872h10M2003 866h10M2015 869h10M5289 872h10M5320 874h10M5422 871h10M5433 872h10M5465 869h10M5471 870h10M637 881h10M638 883h10M639 882h10M650 878h10M656 876h10M666 876h10M682 879h10M682 876h10M688 875h10M689 877h10M692 879h10M694 877h10M695 883h10M699 883h10M703 877h10M705 879h10M706 880h10M709 878h10M712 883h10M716 875h10M725 881h10M725 878h10M726 884h10M728 881h10M734 877h10M737 880h10M742 876h10M759 883h10M759 877h10M778 878h10M1160 877h10M1226 882h10M1451 875h10M1458 878h10M1472 876h10M1483 878h10M1870 876h10M1919 883h10M5372 877h10M5407 875h10M5526 881h10M5539 885h10M635 889h10M637 894h10M648 889h10M650 895h10M651 894h10M653 886h10M659 893h10M661 888h10M664 886h10M665 885h10M669 888h10M675 886h10M680 893h10M681 889h10M682 890h10M690 890h10M698 891h10M732 886h10M742 885h10M1465 889h10M1472 893h10M1885 889h10M1917 889h10M1950 892h10M2733 885h10M2747 888h10M4957 890h10M5320 890h10M5414 885h10M634 897h10M639 895h10M640 902h10M643 905h10M648 898h10M657 900h10M658 895h10M665 905h10M665 898h10M668 900h10M670 901h10M678 902h10M687 903h10M689 896h10M691 901h10M698 901h10M699 896h10M709 897h10M710 900h10M719 900h10M734 903h10M734 902h10M756 896h10M758 897h10M776 901h10M907 904h10M1018 899h10M1129 903h10M1151 899h10M1440 895h10M1455 902h10M1459 903h10M1468 904h10M1471 898h10M1478 896h10M1856 904h10M2790 904h10M2835 897h10M5310 897h10M5433 903h10M5439 898h10M5443 904h10M5471 904h10M5491 896h10M5518 903h10M642 912h10M647 915h10M648 914h10M651 912h10M651 907h10M653 906h10M653 905h10M655 915h10M658 911h10M660 912h10M662 911h10M671 912h10M674 908h10M676 910h10M678 906h10M687 915h10M706 909h10M736 907h10M739 907h10M744 907h10M1028 913h10M1035 912h10M1065 907h10M1445 911h10M1448 912h10M1450 913h10M1455 906h10M1462 908h10M1464 915h10M1850 912h10M1875 907h10M1889 905h10M1892 909h10M1907 908h10M2824 913h10M4871 913h10M5168 910h10M5290 908h10M5403 914h10M639 922h10M643 922h10M643 924h10M651 919h10M652 924h10M656 921h10M658 916h10M664 920h10M665 916h10M666 923h10M666 916h10M668 920h10M674 923h10M679 918h10M680 917h10M681 917h10M710 919h10M713 924h10M887 924h10M968 925h10M994 918h10M1074 924h10M1087 919h10M1120 918h10M1421 925h10M1429 919h10M1430 924h10M1447 918h10M1465 922h10M1827 924h10M1863 921h10M1865 920h10M1874 924h10M1876 916h10M1894 924h10M5258 918h10M5281 921h10M5440 921h10M5487 922h10M5548 919h10M598 932h10M625 927h10M646 933h10M647 925h10M664 929h10M666 927h10M668 928h10M671 928h10M672 934h10M676 930h10M676 933h10M680 925h10M681 927h10M685 930h10M918 933h10M932 932h10M943 927h10M944 929h10M985 934h10M1035 930h10M1045 928h10M1086 935h10M1421 927h10M1422 931h10M1440 926h10M1441 934h10M1443 930h10M1445 933h10M1471 933h10M1856 927h10M1856 930h10M1859 931h10M2814 927h10M5245 929h10M5347 928h10M5355 930h10M5435 935h10M5447 932h10M5457 927h10M5474 930h10M613 936h10M659 942h10M661 942h10M667 944h10M667 936h10M675 936h10M691 945h10M694 941h10M894 938h10M907 940h10M932 942h10M940 941h10M945 938h10M1001 936h10M1012 938h10M1108 940h10M1408 945h10M1421 940h10M1427 945h10M1437 937h10M1457 939h10M1834 944h10M1837 939h10M1837 937h10M1848 940h10M1870 943h10M1875 939h10M5063 943h10M5234 936h10M5250 942h10M5484 944h10M652 945h10M832 950h10M857 945h10M864 951h10M869 953h10M875 951h10M879 952h10M880 946h10M884 946h10M885 947h10M894 951h10M901 952h10M901 945h10M908 954h10M917 954h10M926 954h10M934 955h10M939 950h10M943 953h10M944 954h10M946 955h10M977 948h10M983 953h10M989 955h10M1418 947h10M1419 951h10M1421 948h10M1425 947h10M1427 949h10M1816 953h10M1816 950h10M1878 954h10M5249 951h10M5288 949h10M5398 953h10M5470 954h10M644 955h10M655 956h10M658 959h10M665 964h10M668 961h10M669 961h10M820 956h10M821 956h10M828 964h10M836 958h10M854 964h10M865 964h10M878 965h10M880 960h10M885 956h10M888 957h10M911 960h10M911 957h10M927 956h10M944 959h10M956 962h10M959 964h10M962 959h10M973 965h10M977 956h10M1007 963h10M1412 960h10M1417 956h10M1428 963h10M1436 956h10M1806 957h10M4938 965h10M5211 957h10M5212 962h10M5295 958h10M5312 964h10M5384 965h10M5429 964h10M5460 961h10M640 972h10M650 967h10M654 972h10M702 966h10M818 970h10M827 968h10M836 968h10M850 969h10M869 970h10M874 967h10M874 966h10M885 966h10M886 975h10M886 968h10M894 975h10M933 968h10M950 966h10M990 974h10M1387 974h10M1404 973h10M1408 967h10M1419 974h10M1419 974h10M1783 968h10M1796 969h10M1800 968h10M1802 966h10M3013 970h10M5285 972h10M5301 969h10M653 983h10M848 983h10M855 983h10M856 976h10M883 980h10M1394 981h10M1410 979h10M1429 983h10M1820 981h10M5025 981h10M5244 979h10M5422 984h10M652 993h10M658 986h10M830 994h10M843 993h10M847 987h10M869 989h10M891 986h10M891 990h10M897 993h10M912 989h10M923 988h10M1388 990h10M1415 995h10M1417 989h10M1419 988h10M1757 987h10M1762 986h10M1791 989h10M1807 992h10M5090 990h10M5187 985h10M5224 993h10M5282 987h10M5301 986h10M5313 987h10M5411 993h10M648 998h10M664 998h10M819 995h10M849 999h10M856 1002h10M856 997h10M858 1003h10M865 1000h10M875 1001h10M876 997h10M882 1004h10M889 997h10M896 1002h10M898 996h10M901 1001h10M903 1004h10M914 1001h10M1397 1000h10M1416 998h10M5002 997h10M5136 998h10M5275 999h10M5322 999h10M817 1012h10M818 1005h10M828 1014h10M837 1012h10M856 1010h10M869 1012h10M1387 1014h10M1396 1014h10M1403 1014h10M1405 1010h10M1416 1012h10M1740 1011h10M1746 1012h10M2953 1009h10M2987 1012h10M3000 1014h10M5142 1007h10M5222 1012h10M5228 1006h10M5377 1013h10M5431 1009h10M827 1017h10M839 1016h10M844 1018h10M846 1024h10M853 1024h10M854 1020h10M856 1016h10M858 1020h10M867 1020h10M876 1023h10M884 1017h10M1380 1023h10M1388 1016h10M1394 1024h10M1721 1019h10M1726 1021h10M1770 1017h10M3055 1021h10M5138 1019h10M5237 1020h10M5238 1022h10M5347 1021h10M5376 1020h10M839 1032h10M846 1025h10M851 1031h10M858 1030h10M860 1033h10M879 1032h10M882 1028h10M1707 1025h10M1722 1028h10M4897 1035h10M5346 1030h10M5365 1030h10M836 1039h10M854 1040h10M859 1040h10M871 1037h10M878 1041h10M880 1040h10M882 1039h10M889 1039h10M1367 1043h10M1376 1036h10M1382 1042h10M1388 1035h10M1392 1036h10M1399 1037h10M1405 1039h10M1704 1044h10M1715 1043h10M4827 1037h10M5031 1042h10M5137 1040h10M5228 1044h10M5290 1038h10M5292 1040h10M5370 1044h10M852 1052h10M859 1047h10M864 1046h10M1385 1053h10M1389 1049h10M1393 1053h10M4912 1048h10M5159 1052h10M5168 1054h10M5248 1045h10M5295 1047h10M5316 1055h10M5361 1054h10M5391 1052h10M864 1064h10M866 1058h10M872 1063h10M874 1057h10M1378 1060h10M1380 1063h10M1382 1057h10M1403 1061h10M1404 1061h10M1405 1060h10M1669 1058h10M1669 1055h10M1698 1058h10M4913 1058h10M5162 1060h10M5265 1060h10M5370 1063h10M859 1074h10M872 1066h10M878 1067h10M888 1074h10M906 1068h10M1364 1066h10M1366 1072h10M1687 1067h10M1730 1071h10M4928 1067h10M5017 1069h10M5151 1069h10M857 1084h10M857 1080h10M859 1080h10M870 1085h10M872 1084h10M875 1081h10M880 1081h10M885 1077h10M891 1076h10M1355 1080h10M1387 1079h10M1390 1081h10M1651 1081h10M1674 1078h10M1681 1083h10M1710 1082h10M1716 1077h10M4931 1077h10M5159 1080h10M5281 1084h10M5296 1083h10M5320 1076h10M5360 1079h10M857 1087h10M858 1088h10M869 1091h10M872 1087h10M874 1094h10M875 1093h10M1361 1092h10M1366 1089h10M1378 1089h10M1385 1086h10M1397 1091h10M1408 1087h10M1632 1085h10M1633 1094h10M1649 1087h10M1653 1091h10M1668 1091h10M1695 1089h10M4745 1090h10M5125 1086h10M5250 1087h10M5311 1092h10M853 1095h10M1348 1097h10M1641 1098h10M1645 1098h10M1677 1098h10M5193 1096h10M5219 1100h10M5256 1096h10M5327 1097h10M1359 1115h10M1363 1115h10M1368 1115h10M1374 1111h10M1381 1109h10M1634 1112h10M1635 1109h10M1647 1108h10M1650 1108h10M1672 1113h10M4825 1106h10M5081 1111h10M5240 1107h10M1368 1120h10M1372 1121h10M1620 1124h10M1628 1124h10M1635 1124h10M1637 1118h10M1647 1120h10M1654 1117h10M1656 1116h10M1669 1122h10M1672 1117h10M4925 1117h10M5110 1116h10M5122 1123h10M5292 1121h10M5322 1121h10M1392 1132h10M1595 1135h10M1628 1129h10M1632 1125h10M1655 1133h10M1657 1134h10M5054 1130h10M5137 1131h10M5146 1135h10M5159 1129h10M5222 1130h10M5248 1135h10M5338 1127h10M1339 1137h10M1351 1135h10M1365 1142h10M1367 1142h10M1367 1140h10M1369 1138h10M1596 1143h10M1619 1144h10M1621 1144h10M1632 1144h10M5036 1144h10M5046 1143h10M5120 1140h10M5152 1138h10M5181 1143h10M5203 1139h10M5212 1138h10M5276 1145h10M1335 1151h10M1348 1154h10M1349 1154h10M1605 1151h10M1605 1153h10M1623 1155h10M1624 1147h10M1624 1152h10M4721 1148h10M4904 1150h10M5096 1155h10M5111 1149h10M5204 1152h10M1330 1160h10M1345 1161h10M1347 1160h10M1588 1165h10M1599 1164h10M1605 1162h10M1610 1156h10M1612 1163h10M1626 1162h10M1627 1158h10M4732 1160h10M5036 1157h10M5064 1162h10M1325 1170h10M1343 1171h10M1349 1175h10M1354 1171h10M1359 1167h10M1597 1168h10M1603 1167h10M1606 1172h10M1621 1171h10M5065 1172h10M5125 1171h10M1330 1180h10M1330 1184h10M1332 1185h10M1333 1180h10M1341 1181h10M1344 1182h10M1349 1181h10M1354 1182h10M1601 1182h10M5095 1183h10M5189 1178h10M5217 1176h10M5248 1182h10M5304 1175h10M1329 1194h10M1332 1185h10M1334 1193h10M1338 1189h10M1347 1189h10M1569 1185h10M1575 1191h10M1577 1189h10M1586 1189h10M1592 1194h10M1593 1192h10M1599 1192h10M1600 1193h10M4955 1192h10M5101 1195h10M5116 1193h10M5120 1191h10M5122 1190h10M5187 1189h10M5199 1189h10M5212 1191h10M5247 1195h10M5308 1192h10M1307 1199h10M1325 1197h10M1336 1196h10M1336 1198h10M1338 1203h10M1559 1203h10M1578 1200h10M1582 1199h10M1586 1202h10M1595 1197h10M1598 1199h10M1609 1202h10M4829 1201h10M4944 1204h10M4963 1198h10M5084 1198h10M5276 1200h10M5289 1199h10M1299 1210h10M1307 1215h10M1321 1214h10M1326 1214h10M1327 1209h10M1573 1213h10M1574 1207h10M1587 1209h10M1597 1211h10M1609 1213h10M1611 1206h10M5032 1207h10M5047 1213h10M5160 1210h10M5210 1213h10M1314 1222h10M1317 1219h10M1318 1221h10M1330 1219h10M1337 1223h10M1338 1224h10M1339 1225h10M1556 1216h10M1562 1220h10M1566 1221h10M1569 1225h10M1571 1223h10M1581 1225h10M1586 1218h10M1595 1219h10M5013 1217h10M5072 1224h10M5084 1219h10M5113 1225h10M5117 1224h10M5180 1223h10M5234 1225h10M1301 1234h10M1314 1226h10M1315 1232h10M1322 1230h10M1343 1225h10M1576 1225h10M1581 1228h10M4984 1233h10M5062 1229h10M5091 1231h10M5099 1231h10M5221 1229h10M5305 1226h10M1293 1237h10M1301 1241h10M1313 1240h10M1559 1237h10M1563 1238h10M1564 1235h10M1570 1240h10M1575 1242h10M1597 1239h10M4978 1242h10M4984 1240h10M5084 1237h10M5192 1236h10M5213 1243h10M1306 1252h10M1306 1252h10M1326 1253h10M1333 1251h10M1340 1249h10M1541 1245h10M1556 1253h10M1578 1247h10M4846 1253h10M5041 1255h10M5045 1252h10M5064 1247h10M5081 1246h10M5104 1252h10M5184 1255h10M5200 1245h10M5204 1252h10M1306 1260h10M1316 1258h10M1323 1259h10M1331 1263h10M1547 1259h10M1553 1262h10M1554 1260h10M1568 1264h10M1568 1255h10M4659 1262h10M5001 1261h10M5066 1256h10M5068 1256h10M5076 1259h10M5100 1263h10M5238 1257h10M1299 1271h10M1302 1268h10M1310 1266h10M1538 1267h10M1555 1270h10M1557 1273h10M1561 1274h10M4975 1275h10M4977 1269h10M5033 1273h10M5050 1265h10M5067 1268h10M5161 1270h10M1289 1279h10M1293 1276h10M1304 1275h10M1304 1281h10M1320 1283h10M1523 1275h10M1532 1281h10M1533 1277h10M1546 1276h10M1552 1276h10M1554 1277h10M1555 1284h10M5018 1279h10M5064 1283h10M5131 1284h10M5171 1283h10M1265 1290h10M1295 1291h10M1295 1288h10M1295 1288h10M1309 1288h10M1523 1288h10M1526 1291h10M1551 1287h10M4855 1287h10M4980 1294h10M5026 1295h10M5026 1287h10M5031 1294h10M5043 1289h10M5055 1292h10M5086 1288h10M5090 1286h10M5107 1294h10M5144 1293h10M5158 1293h10M5172 1285h10M5175 1290h10M5191 1289h10M5207 1292h10M5209 1286h10M1257 1296h10M1271 1296h10M1281 1300h10M1287 1296h10M1288 1299h10M1289 1298h10M1295 1298h10M1529 1304h10M1534 1298h10M1537 1299h10M1543 1296h10M1544 1302h10M4987 1297h10M4988 1298h10M5006 1301h10M5032 1301h10M5043 1297h10M5095 1301h10M5128 1298h10M5133 1298h10M5137 1304h10M5144 1295h10M5145 1303h10M5169 1296h10M5176 1298h10M5207 1299h10M5210 1295h10M1265 1312h10M1281 1313h10M1291 1309h10M1291 1306h10M1293 1306h10M1298 1315h10M1306 1313h10M1502 1311h10M1518 1309h10M1529 1312h10M1531 1313h10M4865 1306h10M4887 1307h10M4930 1310h10M4997 1307h10M5020 1308h10M5027 1310h10M5067 1311h10M5161 1309h10M5181 1315h10M5193 1311h10M1267 1316h10M1271 1325h10M1284 1324h10M1297 1315h10M1477 1316h10M1497 1317h10M1503 1323h10M1507 1317h10M1511 1320h10M1511 1315h10M1514 1323h10M1525 1319h10M1537 1318h10M4924 1316h10M5002 1316h10M5056 1321h10M5120 1320h10M5136 1320h10M5205 1319h10M1269 1332h10M1279 1332h10M1280 1332h10M1287 1332h10M1485 1335h10M1502 1332h10M1508 1333h10M1514 1325h10M1519 1334h10M1521 1332h10M1524 1329h10M4702 1328h10M4893 1335h10M4996 1332h10M5019 1330h10M5032 1327h10M5041 1330h10M5094 1330h10M5111 1328h10M5155 1327h10M1251 1345h10M1274 1338h10M1280 1337h10M1282 1343h10M1286 1345h10M1506 1337h10M1515 1343h10M1518 1339h10M5014 1342h10M5016 1345h10M5036 1344h10M5066 1343h10M5097 1342h10M5148 1342h10M5152 1340h10M1247 1351h10M1252 1349h10M1269 1355h10M1274 1353h10M1279 1346h10M1285 1350h10M1296 1349h10M1461 1353h10M1477 1355h10M1495 1352h10M1502 1347h10M1503 1349h10M1504 1347h10M1515 1353h10M4931 1352h10M5069 1351h10M5094 1350h10M5177 1352h10M1240 1362h10M1259 1361h10M1263 1357h10M1265 1358h10M1267 1363h10M1273 1361h10M1478 1357h10M1493 1358h10M1494 1357h10M1495 1363h10M1529 1360h10M4833 1356h10M4972 1364h10M5031 1359h10M5092 1361h10M5103 1358h10M5162 1357h10M1232 1371h10M1257 1366h10M1257 1371h10M1261 1367h10M1263 1373h10M1269 1369h10M1271 1366h10M1472 1369h10M1474 1367h10M1487 1367h10M1495 1373h10M1496 1367h10M1507 1372h10M4962 1374h10M4970 1372h10M4989 1365h10M5010 1369h10M5011 1374h10M5145 1366h10M5206 1366h10M1259 1377h10M1263 1383h10M1277 1380h10M1456 1381h10M1465 1382h10M1470 1383h10M1475 1376h10M1475 1378h10M1482 1377h10M1485 1382h10M1486 1377h10M1494 1375h10M1494 1377h10M1501 1382h10M1510 1380h10M4912 1381h10M4952 1377h10M4959 1377h10M4975 1380h10M4980 1382h10M4985 1376h10M5003 1380h10M5040 1382h10M5044 1376h10M5050 1378h10M5055 1377h10M5073 1381h10M5082 1380h10M5093 1378h10M5103 1376h10M5151 1380h10M5160 1384h10M1225 1394h10M1253 1394h10M1255 1391h10M1267 1395h10M1275 1388h10M1466 1394h10M1472 1391h10M1474 1391h10M1474 1387h10M1477 1394h10M1490 1389h10M1506 1392h10M4838 1385h10M4907 1387h10M5019 1390h10M5099 1388h10M5106 1391h10M5112 1387h10M5116 1388h10M5122 1393h10M5125 1391h10M1241 1402h10M1247 1401h10M1261 1402h10M1263 1400h10M1264 1401h10M1271 1405h10M1276 1403h10M1474 1402h10M1478 1398h10M1488 1396h10M1493 1402h10M4930 1399h10M4936 1400h10M4942 1399h10M4993 1402h10M5000 1402h10M5033 1395h10M5116 1403h10M5159 1399h10M1237 1407h10M1250 1410h10M1253 1410h10M1255 1405h10M1258 1410h10M1263 1412h10M1460 1406h10M1466 1414h10M1485 1411h10M1485 1410h10M1490 1407h10M1511 1405h10M4584 1413h10M4819 1413h10M4861 1410h10M4868 1413h10M4897 1411h10M4911 1405h10M4939 1414h10M5088 1409h10M5168 1406h10M1233 1416h10M1236 1417h10M1237 1425h10M1256 1415h10M1264 1420h10M1436 1421h10M1444 1425h10M1448 1417h10M1461 1419h10M1464 1423h10M1465 1423h10M1470 1421h10M1489 1418h10M1490 1416h10M4571 1424h10M4867 1419h10M4917 1423h10M4943 1422h10M5045 1422h10M5074 1416h10M5101 1424h10M5102 1421h10M1238 1429h10M1246 1434h10M1246 1425h10M1251 1429h10M1458 1426h10M1460 1427h10M1475 1428h10M4499 1430h10M4817 1432h10M4870 1426h10M4933 1433h10M4934 1431h10M4979 1432h10M4988 1434h10M4989 1428h10M4999 1433h10M5011 1428h10M5044 1435h10M5048 1430h10M5073 1429h10M5080 1431h10M5085 1430h10M5085 1426h10M5110 1429h10M1206 1436h10M1228 1444h10M1233 1436h10M1240 1441h10M1424 1438h10M1454 1436h10M4521 1436h10M4853 1442h10M4882 1437h10M4903 1441h10M4922 1441h10M4922 1443h10M4957 1436h10M5006 1445h10M5067 1436h10M5072 1438h10M5094 1435h10M5103 1440h10M1195 1452h10M1214 1455h10M1227 1453h10M1233 1446h10M1442 1453h10M1443 1453h10M1443 1447h10M1452 1446h10M1458 1453h10M1461 1451h10M1469 1454h10M1486 1454h10M4838 1446h10M4863 1447h10M4878 1455h10M4950 1447h10M4960 1448h10M5008 1448h10M5013 1454h10M5015 1451h10M5036 1448h10M5098 1446h10M1205 1463h10M1210 1459h10M1211 1459h10M1224 1463h10M1224 1462h10M1229 1459h10M1232 1463h10M1240 1457h10M1435 1464h10M1475 1458h10M4870 1458h10M4884 1458h10M4909 1459h10M4918 1460h10M4937 1455h10M4960 1463h10M4980 1457h10M4994 1464h10M5014 1458h10M5017 1457h10M5040 1457h10M5103 1463h10M1219 1473h10M1228 1466h10M1235 1468h10M1411 1468h10M1416 1472h10M1429 1469h10M1438 1470h10M1445 1474h10M4392 1467h10M4855 1470h10M4863 1470h10M4872 1473h10M4919 1474h10M4924 1473h10M5003 1465h10M5003 1471h10M5016 1466h10M5029 1475h10M5054 1466h10M5065 1473h10M1205 1484h10M1217 1484h10M1219 1479h10M1223 1483h10M1224 1484h10M1224 1485h10M1244 1481h10M1435 1479h10M1447 1480h10M1460 1483h10M4352 1485h10M4395 1479h10M4803 1484h10M4903 1484h10M4935 1484h10M5027 1480h10M1194 1490h10M1210 1489h10M1211 1489h10M1216 1486h10M1216 1494h10M1223 1487h10M1392 1491h10M1414 1489h10M1419 1492h10M1423 1495h10M1427 1490h10M1443 1492h10M1448 1490h10M1449 1492h10M1453 1491h10M1468 1487h10M4329 1492h10M4330 1492h10M4358 1487h10M4395 1492h10M4847 1493h10M4908 1491h10M4918 1486h10M4920 1494h10M4982 1487h10M4983 1489h10M5060 1489h10M5070 1495h10M5091 1492h10M5112 1491h10M1194 1497h10M1194 1504h10M1201 1499h10M1210 1500h10M1215 1501h10M1220 1503h10M1223 1504h10M1225 1497h10M1416 1504h10M1420 1499h10M1422 1496h10M1424 1502h10M1429 1504h10M1430 1500h10M1432 1505h10M1441 1503h10M4286 1504h10M4333 1500h10M4412 1499h10M4426 1497h10M4441 1503h10M4796 1498h10M4908 1502h10M4924 1500h10M4957 1498h10M5036 1501h10M5069 1495h10M5097 1502h10M1178 1507h10M1198 1510h10M1200 1515h10M1208 1515h10M1210 1509h10M1224 1509h10M1378 1515h10M1415 1508h10M1416 1512h10M1417 1512h10M1422 1513h10M1425 1509h10M1428 1515h10M1432 1509h10M1439 1508h10M1440 1513h10M4438 1506h10M4534 1506h10M4882 1512h10M4899 1505h10M4923 1513h10M4929 1510h10M5094 1510h10M1179 1517h10M1194 1525h10M1202 1520h10M1203 1518h10M1204 1522h10M1211 1518h10M1226 1521h10M1399 1518h10M1405 1519h10M1414 1521h10M1418 1516h10M1418 1519h10M1426 1516h10M1426 1517h10M1428 1518h10M1432 1519h10M1437 1521h10M1437 1519h10M1442 1522h10M4255 1521h10M4462 1519h10M4517 1518h10M4794 1522h10M4835 1522h10M4863 1518h10M4866 1524h10M4924 1518h10M5001 1522h10M5026 1517h10M5029 1524h10M5033 1519h10M1194 1531h10M1196 1525h10M1202 1528h10M1203 1529h10M1212 1528h10M1385 1532h10M1388 1533h10M1393 1529h10M1397 1532h10M1401 1533h10M1407 1528h10M1413 1525h10M4274 1531h10M4325 1526h10M4358 1530h10M4411 1534h10M4506 1527h10M4761 1531h10M4785 1529h10M4843 1528h10M4874 1527h10M4883 1527h10M4911 1530h10M4949 1528h10M5003 1534h10M5065 1530h10M1187 1544h10M1192 1541h10M1196 1542h10M1200 1543h10M1207 1535h10M1212 1544h10M1224 1541h10M1392 1536h10M1392 1539h10M1404 1543h10M1411 1544h10M1413 1538h10M1414 1535h10M1428 1545h10M1432 1538h10M4251 1544h10M4351 1540h10M4392 1543h10M4404 1543h10M4752 1543h10M4775 1540h10M4802 1539h10M4816 1542h10M4838 1544h10M4929 1537h10M4971 1538h10M5005 1535h10M5032 1541h10M1176 1551h10M1177 1553h10M1187 1546h10M1190 1545h10M1194 1545h10M1197 1549h10M1199 1551h10M1199 1545h10M1204 1551h10M1205 1548h10M1211 1551h10M1212 1552h10M1213 1547h10M1406 1554h10M1408 1549h10M1409 1548h10M1409 1548h10M4175 1554h10M4186 1553h10M4248 1546h10M4263 1553h10M4297 1550h10M4345 1553h10M4358 1547h10M4424 1552h10M4889 1554h10M4890 1552h10M4903 1546h10M4906 1551h10M4910 1546h10M4926 1545h10M4939 1554h10M4955 1553h10M4970 1551h10M5000 1548h10M5019 1553h10M5037 1552h10M1175 1560h10M1187 1557h10M1201 1555h10M1388 1559h10M1391 1562h10M1396 1555h10M1414 1557h10M4130 1562h10M4201 1557h10M4202 1557h10M4287 1557h10M4354 1564h10M4780 1563h10M4792 1557h10M4835 1556h10M4843 1562h10M4848 1555h10M4856 1559h10M4865 1557h10M4882 1562h10M4899 1558h10M4962 1562h10M4964 1564h10M4964 1559h10M4992 1558h10M1176 1573h10M1181 1568h10M1183 1566h10M1189 1572h10M1192 1567h10M1197 1571h10M1202 1568h10M1383 1573h10M1383 1572h10M1388 1572h10M1393 1566h10M1396 1565h10M1404 1575h10M4132 1572h10M4176 1568h10M4215 1567h10M4249 1566h10M4283 1566h10M4415 1566h10M4460 1567h10M4755 1570h10M4761 1573h10M4783 1574h10M4806 1570h10M4812 1571h10M4832 1572h10M4870 1569h10M4888 1572h10M4913 1572h10M4919 1570h10M4944 1568h10M4997 1570h10M5062 1568h10M1165 1578h10M1177 1575h10M1180 1580h10M1188 1578h10M1370 1582h10M1377 1580h10M1390 1583h10M1413 1585h10M4152 1584h10M4175 1581h10M4196 1579h10M4210 1581h10M4237 1582h10M4250 1576h10M4263 1584h10M4309 1577h10M4353 1576h10M4741 1577h10M4790 1578h10M4791 1584h10M4797 1583h10M4800 1576h10M4800 1578h10M4806 1580h10M4812 1581h10M4816 1584h10M4825 1583h10M4848 1577h10M4852 1580h10M4873 1584h10M4908 1584h10M4929 1582h10M4932 1580h10M4970 1583h10M5010 1579h10M5014 1578h10M5020 1576h10M5025 1577h10M1179 1592h10M1179 1592h10M1186 1586h10M1191 1588h10M1194 1589h10M1367 1593h10M1377 1593h10M1392 1588h10M1405 1592h10M4115 1590h10M4122 1593h10M4144 1592h10M4183 1592h10M4200 1587h10M4219 1586h10M4228 1591h10M4229 1591h10M4264 1593h10M4318 1592h10M4346 1591h10M4382 1590h10M4795 1592h10M4804 1589h10M4831 1588h10M4850 1592h10M4850 1592h10M4950 1585h10M4971 1591h10M4972 1588h10M4990 1589h10M5001 1588h10M1171 1600h10M1175 1598h10M1175 1596h10M1178 1599h10M1178 1602h10M1183 1602h10M1197 1597h10M1207 1599h10M1385 1602h10M1387 1600h10M1401 1605h10M4140 1603h10M4153 1602h10M4210 1605h10M4258 1603h10M4330 1601h10M4768 1600h10M4775 1603h10M4792 1601h10M4820 1604h10M4834 1602h10M4839 1604h10M4878 1599h10M4893 1602h10M4916 1599h10M4919 1604h10M4930 1601h10M4942 1597h10M4943 1597h10M4960 1601h10M4975 1596h10M1168 1606h10M1192 1609h10M1204 1606h10M1349 1611h10M1355 1610h10M1374 1605h10M1376 1611h10M1377 1611h10M1378 1607h10M1381 1614h10M1382 1615h10M1385 1606h10M4175 1608h10M4187 1609h10M4205 1610h10M4295 1614h10M4761 1613h10M4777 1613h10M4790 1611h10M4798 1615h10M4822 1606h10M4834 1613h10M4866 1613h10M4868 1614h10M4937 1607h10M4938 1610h10M4939 1615h10M4944 1605h10M5003 1611h10M1145 1621h10M1162 1624h10M1170 1616h10M1171 1621h10M1171 1618h10M1172 1620h10M1176 1619h10M1177 1618h10M1179 1619h10M1179 1624h10M1192 1616h10M1193 1624h10M1198 1615h10M1356 1620h10M1365 1618h10M1382 1624h10M1387 1623h10M4107 1616h10M4128 1624h10M4129 1623h10M4160 1619h10M4175 1620h10M4231 1617h10M4407 1618h10M4738 1615h10M4738 1623h10M4740 1622h10M4789 1617h10M4807 1619h10M4844 1615h10M4853 1618h10M4922 1622h10M4938 1621h10M4942 1616h10M4980 1620h10M1153 1635h10M1160 1630h10M1169 1629h10M1357 1626h10M1358 1628h10M1362 1630h10M1366 1631h10M1370 1628h10M1372 1630h10M1372 1625h10M1376 1631h10M1391 1631h10M4102 1627h10M4108 1628h10M4112 1632h10M4116 1635h10M4154 1632h10M4161 1630h10M4199 1629h10M4222 1628h10M4224 1625h10M4771 1629h10M4800 1630h10M4814 1629h10M4856 1633h10M4927 1627h10M1145 1636h10M1154 1644h10M1162 1635h10M1172 1638h10M1176 1638h10M1177 1637h10M1358 1637h10M1359 1640h10M1360 1644h10M1363 1644h10M1371 1637h10M1375 1639h10M1381 1636h10M4129 1636h10M4141 1643h10M4148 1644h10M4152 1640h10M4183 1644h10M4192 1638h10M4225 1638h10M4730 1638h10M4731 1636h10M4735 1638h10M4745 1644h10M4747 1637h10M4762 1644h10M4763 1639h10M4777 1639h10M4779 1642h10M4842 1640h10M4864 1644h10M4875 1643h10M4880 1643h10M4926 1640h10M5000 1640h10M1149 1649h10M1156 1652h10M1161 1647h10M1165 1654h10M1166 1647h10M1172 1650h10M1177 1648h10M1185 1647h10M1338 1654h10M1346 1653h10M1382 1652h10M1386 1648h10M4102 1651h10M4113 1646h10M4116 1646h10M4125 1648h10M4130 1650h10M4134 1648h10M4140 1645h10M4141 1654h10M4143 1647h10M4152 1652h10M4156 1652h10M4162 1652h10M4164 1653h10M4709 1651h10M4718 1651h10M4760 1655h10M4775 1653h10M4819 1650h10M4824 1652h10M4828 1651h10M4872 1654h10M4880 1652h10M4886 1647h10M4951 1649h10M4952 1648h10M4959 1653h10M4963 1653h10M1153 1661h10M1168 1656h10M1169 1658h10M1181 1656h10M1184 1657h10M1187 1656h10M1352 1660h10M1358 1661h10M1359 1656h10M1360 1665h10M1361 1659h10M4102 1660h10M4102 1663h10M4107 1663h10M4109 1664h10M4139 1658h10M4159 1660h10M4171 1656h10M4179 1660h10M4694 1657h10M4699 1660h10M4712 1665h10M4730 1662h10M4732 1661h10M4736 1662h10M4750 1657h10M4757 1661h10M4794 1656h10M4854 1655h10M4862 1656h10M4877 1656h10M4885 1658h10M4903 1655h10M4940 1662h10M4973 1661h10M1146 1672h10M1146 1671h10M1149 1669h10M1159 1673h10M1160 1668h10M1161 1669h10M1164 1667h10M1171 1675h10M1172 1671h10M1173 1665h10M1366 1674h10M1367 1675h10M1369 1672h10M4105 1671h10M4106 1672h10M4107 1666h10M4112 1674h10M4118 1673h10M4119 1675h10M4132 1671h10M4134 1672h10M4147 1672h10M4160 1674h10M4164 1668h10M4166 1674h10M4168 1666h10M4172 1672h10M4173 1673h10M4186 1666h10M4189 1672h10M4197 1668h10M4198 1674h10M4201 1669h10M4218 1670h10M4223 1670h10M4238 1674h10M4242 1672h10M4712 1673h10M4771 1668h10M4776 1673h10M4785 1669h10M4853 1667h10M4934 1665h10M4959 1669h10M1150 1677h10M1157 1676h10M1159 1683h10M1169 1680h10M1175 1680h10M1352 1676h10M1355 1680h10M1356 1683h10M1358 1681h10M1363 1683h10M1364 1682h10M1366 1677h10M1367 1676h10M4122 1679h10M4125 1677h10M4128 1677h10M4128 1677h10M4130 1680h10M4142 1677h10M4146 1681h10M4154 1682h10M4154 1685h10M4162 1681h10M4166 1683h10M4183 1677h10M4190 1680h10M4193 1680h10M4214 1678h10M4215 1677h10M4224 1681h10M4248 1676h10M4681 1678h10M4726 1680h10M4748 1676h10M4806 1677h10M4825 1678h10M4861 1683h10M4863 1680h10M4867 1679h10M4874 1678h10M4924 1682h10M4936 1684h10M4943 1682h10M1154 1693h10M1156 1692h10M1332 1692h10M1344 1689h10M4097 1691h10M4125 1692h10M4130 1688h10M4202 1687h10M4246 1685h10M4368 1687h10M4663 1686h10M4697 1690h10M4728 1689h10M4769 1685h10M4788 1693h10M4798 1695h10M4807 1690h10M4832 1693h10M4889 1693h10M4889 1694h10M4893 1694h10M4918 1688h10M4942 1693h10M1142 1696h10M1146 1698h10M1151 1697h10M1152 1703h10M1157 1697h10M1157 1696h10M1319 1700h10M1324 1699h10M1331 1702h10M1336 1704h10M1337 1703h10M1346 1701h10M1346 1698h10M1350 1704h10M1360 1701h10M4675 1696h10M4697 1698h10M4701 1697h10M4707 1696h10M4720 1697h10M4729 1698h10M4735 1698h10M4738 1705h10M4751 1697h10M4757 1699h10M4782 1701h10M4797 1701h10M4823 1697h10M4886 1702h10M4897 1698h10M1139 1707h10M1149 1711h10M1150 1713h10M1165 1705h10M1323 1711h10M1324 1714h10M1328 1715h10M1338 1706h10M1340 1709h10M1346 1705h10M1346 1712h10M4687 1709h10M4741 1708h10M4748 1710h10M4770 1706h10M4783 1706h10M4892 1715h10M4936 1706h10M1146 1719h10M1147 1718h10M1161 1717h10M1164 1723h10M1302 1723h10M1325 1718h10M1349 1720h10M1351 1716h10M4638 1717h10M4673 1722h10M4689 1724h10M4689 1721h10M4698 1717h10M4706 1721h10M4747 1725h10M4750 1722h10M4754 1724h10M4776 1725h10M4789 1718h10M4792 1717h10M4804 1722h10M4824 1719h10M4867 1716h10M4871 1718h10M4882 1725h10M4888 1719h10M4909 1717h10M4909 1724h10M4920 1723h10M4922 1724h10M4938 1722h10M1116 1727h10M1136 1734h10M1141 1730h10M1150 1733h10M1156 1729h10M1303 1732h10M1307 1732h10M1315 1731h10M1317 1734h10M1333 1728h10M1336 1729h10M1346 1730h10M4357 1730h10M4644 1733h10M4694 1726h10M4720 1726h10M4770 1729h10M4800 1730h10M4801 1733h10M4832 1727h10M4833 1732h10M4844 1727h10M4871 1730h10M4887 1726h10M4927 1729h10M1152 1737h10M1158 1742h10M1159 1742h10M1312 1737h10M1323 1741h10M1323 1737h10M1326 1743h10M4656 1736h10M4668 1738h10M4705 1739h10M4733 1736h10M4754 1741h10M4784 1736h10M4839 1745h10M4850 1738h10M4857 1740h10M4869 1735h10M4945 1742h10M1120 1748h10M1122 1754h10M1156 1746h10M1304 1746h10M1313 1750h10M1314 1748h10M1320 1754h10M4653 1754h10M4689 1750h10M4696 1752h10M4706 1749h10M4722 1748h10M4725 1749h10M4731 1745h10M4754 1751h10M4754 1752h10M4764 1750h10M4774 1750h10M4779 1749h10M4808 1753h10M4821 1749h10M4831 1746h10M4879 1745h10M4910 1750h10M4956 1749h10M1123 1758h10M1145 1760h10M1306 1761h10M1311 1757h10M1312 1762h10M1313 1764h10M1313 1762h10M1317 1762h10M1324 1765h10M1327 1759h10M1344 1757h10M4572 1756h10M4628 1759h10M4646 1757h10M4661 1757h10M4672 1758h10M4681 1760h10M4701 1758h10M4711 1761h10M4717 1763h10M4756 1762h10M4791 1756h10M4797 1763h10M4828 1760h10M4862 1763h10M4875 1755h10M4889 1763h10M4899 1758h10M4905 1756h10M1124 1766h10M1132 1767h10M1137 1766h10M1140 1768h10M1143 1765h10M1148 1772h10M1148 1769h10M1157 1767h10M1302 1774h10M1311 1767h10M1317 1766h10M1322 1767h10M1327 1773h10M1328 1766h10M1331 1770h10M1345 1766h10M4625 1770h10M4692 1772h10M4695 1774h10M4709 1767h10M4728 1770h10M4751 1771h10M4772 1771h10M4774 1768h10M4815 1768h10M1124 1777h10M1125 1780h10M1125 1776h10M1127 1778h10M1130 1781h10M1134 1776h10M1138 1781h10M1145 1782h10M1149 1777h10M1152 1782h10M1311 1777h10M1312 1778h10M1318 1783h10M1322 1777h10M1324 1780h10M4740 1781h10M4760 1779h10M4778 1779h10M4780 1781h10M4787 1784h10M4789 1784h10M4815 1779h10M4831 1776h10M4832 1782h10M4849 1783h10M4868 1776h10M4876 1779h10M4906 1784h10M1110 1789h10M1118 1792h10M1123 1788h10M1126 1788h10M1128 1790h10M1129 1794h10M1129 1793h10M1132 1791h10M1134 1790h10M1142 1786h10M1151 1789h10M1283 1792h10M1294 1788h10M1299 1791h10M1314 1792h10M1327 1793h10M4691 1787h10M4733 1789h10M4747 1788h10M4751 1795h10M4754 1789h10M4759 1792h10M4765 1786h10M4796 1792h10M4840 1787h10M4866 1791h10M1125 1798h10M1127 1800h10M1128 1800h10M1132 1802h10M1147 1796h10M1148 1796h10M1287 1801h10M1290 1800h10M1293 1802h10M1301 1797h10M1302 1804h10M1305 1796h10M1306 1797h10M1312 1799h10M1320 1795h10M4568 1802h10M4585 1803h10M4631 1796h10M4640 1798h10M4655 1796h10M4681 1804h10M4687 1803h10M4694 1797h10M4697 1804h10M4727 1796h10M4757 1795h10M4770 1798h10M4770 1796h10M4849 1804h10M4854 1797h10M4854 1801h10M4913 1805h10M4921 1797h10M1107 1813h10M1115 1810h10M1117 1814h10M1124 1806h10M1126 1807h10M1132 1814h10M1133 1812h10M1139 1808h10M1296 1813h10M1297 1810h10M1319 1810h10M1338 1810h10M4624 1808h10M4639 1814h10M4685 1811h10M4709 1807h10M4718 1815h10M4730 1809h10M4740 1813h10M4744 1810h10M4812 1810h10M4831 1811h10M4860 1813h10M4892 1814h10M1096 1821h10M1119 1816h10M1122 1816h10M1137 1820h10M1138 1816h10M1159 1820h10M1286 1818h10M1294 1816h10M1299 1816h10M1299 1819h10M1302 1817h10M1309 1819h10M4519 1824h10M4692 1819h10M4698 1824h10M4749 1820h10M4753 1816h10M4770 1819h10M4834 1819h10M4874 1816h10M4874 1824h10M4925 1818h10M1092 1831h10M1098 1829h10M1098 1834h10M1108 1829h10M1108 1832h10M1109 1825h10M1111 1826h10M1115 1826h10M1115 1830h10M1119 1833h10M1140 1826h10M1140 1829h10M1280 1834h10M1299 1828h10M1305 1827h10M1312 1827h10M4585 1830h10M4632 1826h10M4642 1830h10M4644 1831h10M4648 1829h10M4649 1826h10M4664 1829h10M4704 1830h10M4731 1827h10M4764 1830h10M4777 1826h10M4785 1833h10M4789 1830h10M4810 1828h10M4825 1834h10M4825 1827h10M4881 1825h10M4912 1831h10M4912 1831h10M4932 1832h10M1101 1844h10M1112 1841h10M1113 1837h10M1116 1844h10M1117 1843h10M1118 1845h10M1120 1842h10M1271 1836h10M1280 1845h10M1283 1841h10M1285 1835h10M1290 1842h10M1291 1839h10M1306 1841h10M4584 1840h10M4602 1840h10M4641 1838h10M4646 1836h10M4668 1842h10M4679 1843h10M4686 1842h10M4708 1839h10M4720 1842h10M4724 1836h10M4728 1844h10M4737 1845h10M4796 1841h10M4830 1845h10M4855 1843h10M4884 1840h10M1091 1850h10M1099 1854h10M1106 1855h10M1114 1847h10M1118 1851h10M1123 1853h10M1124 1846h10M1282 1851h10M1288 1854h10M1292 1852h10M4594 1846h10M4602 1845h10M4619 1852h10M4632 1846h10M4633 1850h10M4639 1850h10M4656 1854h10M4664 1855h10M4700 1854h10M4725 1851h10M4741 1853h10M4756 1854h10M4771 1853h10M4785 1846h10M4800 1847h10M4810 1848h10M4846 1846h10M1099 1863h10M1109 1859h10M1109 1865h10M1111 1861h10M1113 1856h10M1125 1857h10M1125 1856h10M1129 1856h10M1269 1860h10M1269 1855h10M1271 1859h10M1278 1862h10M1278 1860h10M1320 1860h10M4589 1859h10M4649 1864h10M4671 1859h10M4684 1863h10M4711 1863h10M4717 1864h10M4725 1861h10M4736 1856h10M4739 1860h10M4749 1863h10M4781 1856h10M4786 1856h10M4795 1860h10M4835 1864h10M4839 1857h10M4859 1858h10M4890 1860h10M4916 1861h10M1091 1868h10M1108 1873h10M1118 1865h10M1267 1866h10M1268 1872h10M1271 1875h10M1273 1874h10M1292 1871h10M4599 1875h10M4616 1871h10M4674 1869h10M4680 1871h10M4682 1865h10M4698 1870h10M4706 1871h10M4708 1869h10M4712 1866h10M4755 1866h10M4772 1872h10M4773 1868h10M4789 1866h10M4806 1868h10M4809 1871h10M4819 1870h10M4822 1868h10M4862 1875h10M1086 1878h10M1089 1883h10M1091 1883h10M1091 1884h10M1093 1883h10M1099 1885h10M1103 1883h10M1107 1881h10M1115 1881h10M1118 1883h10M1120 1876h10M1254 1881h10M1264 1878h10M1268 1885h10M1268 1877h10M1270 1877h10M1277 1876h10M1290 1880h10M1291 1876h10M4600 1875h10M4626 1878h10M4627 1875h10M4652 1878h10M4653 1883h10M4678 1881h10M4715 1881h10M4736 1882h10M4749 1881h10M4843 1884h10M4846 1881h10M1097 1892h10M1100 1891h10M1111 1893h10M1235 1887h10M1258 1891h10M1258 1893h10M1261 1889h10M1263 1891h10M1267 1888h10M1270 1888h10M1287 1889h10M1289 1893h10M4586 1886h10M4602 1889h10M4618 1890h10M4647 1886h10M4653 1888h10M4661 1889h10M4687 1892h10M4707 1889h10M4720 1889h10M4730 1888h10M4731 1894h10M4738 1891h10M4754 1888h10M4769 1890h10M4786 1895h10M4792 1890h10M4834 1886h10M4837 1890h10M4862 1890h10M4867 1890h10M4870 1887h10M4880 1894h10M1092 1901h10M1096 1903h10M1102 1898h10M1103 1898h10M1103 1905h10M1104 1899h10M1244 1896h10M1253 1901h10M1266 1900h10M1280 1900h10M1287 1903h10M1287 1901h10M4606 1903h10M4608 1902h10M4614 1902h10M4618 1896h10M4640 1895h10M4668 1903h10M4675 1895h10M4704 1899h10M4707 1900h10M4735 1901h10M4737 1900h10M4739 1904h10M4748 1896h10M4759 1901h10M4759 1902h10M4761 1898h10M4770 1902h10M4790 1900h10M4817 1900h10M4822 1901h10M4873 1897h10M4879 1902h10M1084 1909h10M1087 1906h10M1092 1905h10M1104 1913h10M1244 1912h10M1258 1907h10M1259 1907h10M1260 1911h10M1261 1905h10M1263 1907h10M1269 1909h10M1276 1907h10M1278 1911h10M1282 1913h10M4582 1910h10M4594 1913h10M4644 1913h10M4668 1914h10M4676 1910h10M4679 1908h10M4686 1912h10M4697 1910h10M4703 1908h10M4713 1912h10M4726 1906h10M4741 1907h10M4763 1913h10M4786 1912h10M4794 1913h10M4829 1906h10M1083 1918h10M1086 1922h10M1096 1921h10M1097 1920h10M1101 1919h10M1102 1916h10M1103 1920h10M1250 1923h10M1251 1921h10M1262 1921h10M1264 1916h10M1280 1916h10M4580 1918h10M4620 1920h10M4623 1921h10M4624 1923h10M4640 1916h10M4658 1922h10M4659 1918h10M4675 1917h10M4676 1916h10M4697 1922h10M4705 1921h10M4710 1916h10M4741 1921h10M4755 1918h10M4802 1919h10M4803 1919h10M4807 1916h10M4842 1916h10M4879 1917h10M4890 1917h10M1078 1933h10M1085 1935h10M1093 1932h10M1106 1932h10M1108 1935h10M1250 1928h10M1252 1931h10M1261 1932h10M1263 1934h10M1266 1930h10M1269 1926h10M1275 1930h10M1275 1934h10M4312 1933h10M4395 1931h10M4587 1930h10M4608 1933h10M4609 1934h10M4626 1933h10M4639 1928h10M4669 1934h10M4678 1928h10M4693 1933h10M4715 1929h10M4725 1928h10M4807 1931h10M4819 1927h10M4880 1935h10M1095 1945h10M1101 1942h10M1251 1935h10M1261 1942h10M1266 1945h10M4585 1938h10M4599 1937h10M4624 1941h10M4633 1941h10M4635 1944h10M4675 1939h10M4716 1944h10M4755 1935h10M4760 1939h10M4800 1937h10M4814 1943h10M4814 1935h10M1074 1948h10M1088 1945h10M1089 1946h10M1252 1950h10M1258 1954h10M1258 1945h10M4593 1951h10M4603 1953h10M4617 1951h10M4631 1951h10M4674 1947h10M4711 1952h10M4729 1954h10M4742 1947h10M4742 1948h10M4781 1952h10M4783 1951h10M4808 1951h10M4824 1949h10M4844 1954h10M4848 1946h10M4866 1948h10M4907 1949h10M1088 1965h10M1090 1963h10M1101 1960h10M1110 1956h10M1241 1959h10M1242 1964h10M1258 1959h10M1275 1963h10M4532 1958h10M4543 1958h10M4561 1960h10M4581 1961h10M4622 1959h10M4667 1957h10M4678 1959h10M4693 1963h10M4693 1962h10M4698 1955h10M4722 1965h10M4727 1963h10M4795 1964h10M4805 1965h10M4850 1957h10M4864 1959h10M1081 1970h10M1093 1969h10M1093 1975h10M1095 1968h10M1100 1972h10M1244 1972h10M1246 1968h10M1247 1965h10M1249 1965h10M1249 1972h10M1250 1972h10M1251 1975h10M1257 1968h10M1260 1970h10M4501 1972h10M4502 1970h10M4532 1975h10M4578 1974h10M4593 1968h10M4638 1972h10M4641 1971h10M4652 1972h10M4656 1968h10M4669 1973h10M4680 1970h10M4761 1972h10M4768 1973h10M4788 1974h10M4797 1971h10M4805 1969h10M4806 1969h10M4814 1975h10M4826 1972h10M4829 1974h10M4894 1971h10M1059 1977h10M1069 1981h10M1077 1976h10M1083 1977h10M1085 1983h10M1095 1979h10M1096 1977h10M1099 1983h10M1248 1976h10M1249 1978h10M1253 1975h10M1256 1976h10M1258 1980h10M1258 1982h10M1259 1978h10M1260 1975h10M1270 1976h10M4563 1977h10M4572 1976h10M4584 1981h10M4646 1979h10M4674 1982h10M4677 1975h10M4678 1975h10M4685 1977h10M4718 1979h10M4752 1979h10M4803 1976h10M4825 1979h10M1076 1987h10M1083 1988h10M1086 1992h10M1089 1990h10M1090 1989h10M1091 1988h10M1091 1990h10M1096 1987h10M1240 1995h10M1243 1987h10M1246 1992h10M1247 1988h10M1250 1994h10M1264 1987h10M1266 1992h10M1267 1987h10M4463 1985h10M4473 1991h10M4492 1989h10M4510 1992h10M4546 1989h10M4564 1991h10M4581 1994h10M4582 1991h10M4611 1987h10M4645 1991h10M4691 1987h10M4705 1993h10M1069 2000h10M1077 1997h10M1081 1996h10M1091 1998h10M1098 1998h10M1236 1998h10M1239 2001h10M1250 2000h10M1251 2000h10M1255 1996h10M1256 2000h10M1261 2003h10M4483 1998h10M4526 1999h10M4540 2002h10M4597 1999h10M4614 1995h10M4633 2004h10M4638 1997h10M4645 1995h10M4658 2000h10M4677 2003h10M4691 2003h10M4743 1999h10M4798 1995h10M4814 1997h10M4820 2000h10M4880 1998h10M1072 2010h10M1078 2013h10M1080 2009h10M1080 2006h10M1083 2006h10M1083 2009h10M1084 2008h10M1085 2010h10M1236 2006h10M1240 2013h10M1241 2014h10M1243 2006h10M1258 2010h10M4500 2005h10M4516 2005h10M4589 2006h10M4599 2013h10M4607 2007h10M4621 2010h10M4621 2012h10M4624 2012h10M4665 2008h10M4691 2005h10M4705 2009h10M4732 2009h10M4734 2013h10M4779 2010h10M4847 2011h10M1063 2021h10M1073 2016h10M1076 2022h10M1078 2025h10M1081 2015h10M1083 2024h10M1232 2017h10M1236 2021h10M1238 2020h10M1240 2022h10M1254 2016h10M1260 2025h10M4485 2021h10M4547 2017h10M4578 2024h10M4583 2023h10M4603 2021h10M4633 2016h10M4639 2017h10M4646 2023h10M4649 2024h10M4655 2018h10M4679 2015h10M4683 2023h10M4690 2022h10M4694 2016h10M4701 2015h10M4705 2017h10M4711 2024h10M4747 2023h10M4749 2020h10M4751 2018h10M4783 2024h10M4799 2015h10M4801 2022h10M4809 2020h10M1050 2028h10M1069 2034h10M1071 2028h10M1087 2030h10M1226 2032h10M1230 2025h10M1242 2035h10M1243 2028h10M1244 2033h10M4491 2035h10M4576 2034h10M4584 2029h10M4591 2034h10M4608 2033h10M4626 2028h10M4627 2033h10M4629 2026h10M4639 2028h10M4640 2026h10M4658 2033h10M4674 2030h10M4690 2031h10M4694 2035h10M4697 2035h10M4709 2026h10M4715 2030h10M4732 2026h10M4733 2033h10M4750 2032h10M4755 2029h10M4760 2032h10M4776 2026h10M4778 2033h10M1064 2036h10M1065 2040h10M1073 2043h10M1075 2038h10M1081 2042h10M1081 2035h10M1085 2043h10M1089 2044h10M1095 2045h10M1097 2042h10M1218 2041h10M1219 2037h10M1219 2041h10M1238 2043h10M1241 2041h10M1245 2038h10M4516 2036h10M4525 2037h10M4527 2045h10M4550 2044h10M4556 2036h10M4625 2043h10M4656 2041h10M4677 2043h10M4684 2042h10M4687 2041h10M4691 2039h10M4693 2044h10M4698 2045h10M4706 2037h10M4716 2040h10M4717 2039h10M4720 2035h10M4720 2038h10M4725 2044h10M4731 2040h10M4743 2037h10M4762 2035h10M4766 2042h10M4790 2044h10M4809 2038h10M1069 2047h10M1070 2050h10M1070 2051h10M1083 2051h10M1089 2053h10M1214 2053h10M1216 2046h10M1219 2050h10M1227 2054h10M1232 2052h10M1248 2049h10M4518 2047h10M4579 2055h10M4584 2052h10M4584 2053h10M4595 2048h10M4601 2046h10M4601 2053h10M4607 2053h10M4608 2049h10M4611 2047h10M4637 2051h10M4674 2052h10M4770 2048h10M4784 2055h10M4807 2048h10M1040 2063h10M1056 2062h10M1061 2057h10M1068 2058h10M1069 2058h10M1073 2059h10M1076 2057h10M1077 2063h10M1092 2059h10M1095 2058h10M1220 2057h10M1222 2061h10M1226 2061h10M1233 2064h10M1237 2064h10M1257 2060h10M4404 2057h10M4486 2056h10M4507 2055h10M4513 2056h10M4523 2059h10M4552 2062h10M4567 2063h10M4575 2060h10M4577 2058h10M4577 2058h10M4602 2063h10M4621 2063h10M4636 2064h10M4645 2062h10M4687 2059h10M4785 2063h10M4842 2062h10M1058 2069h10M1060 2071h10M1062 2073h10M1065 2070h10M1071 2075h10M1077 2074h10M1079 2067h10M1089 2067h10M1091 2070h10M1225 2066h10M1227 2073h10M1228 2074h10M1229 2071h10M1230 2072h10M1232 2066h10M1239 2066h10M1253 2074h10M4508 2066h10M4511 2074h10M4543 2073h10M4584 2066h10M4615 2068h10M4624 2072h10M4627 2074h10M4646 2069h10M4658 2070h10M4662 2065h10M4671 2071h10M4677 2071h10M4686 2071h10M4723 2070h10M4783 2068h10M4813 2070h10M1056 2083h10M1060 2083h10M1063 2083h10M1064 2081h10M1080 2076h10M1082 2083h10M1097 2076h10M1196 2082h10M1209 2079h10M1216 2083h10M1223 2076h10M1233 2076h10M1233 2080h10M4545 2075h10M4549 2081h10M4550 2080h10M4558 2080h10M4596 2079h10M4616 2078h10M4618 2079h10M4620 2079h10M4624 2080h10M4628 2077h10M4646 2080h10M4670 2084h10M4679 2082h10M4683 2081h10M4702 2076h10M4712 2083h10M4723 2081h10M4754 2076h10M4755 2076h10M1063 2086h10M1064 2092h10M1067 2094h10M1068 2092h10M1207 2092h10M1208 2088h10M1219 2095h10M1240 2085h10M1245 2092h10M1248 2090h10M4460 2085h10M4509 2087h10M4545 2090h10M4546 2089h10M4558 2088h10M4570 2094h10M4596 2087h10M4652 2089h10M4655 2088h10M4690 2094h10M4692 2094h10M4699 2091h10M4717 2094h10M4784 2088h10M1047 2099h10M1054 2100h10M1060 2100h10M1064 2099h10M1064 2099h10M1065 2101h10M1093 2105h10M1204 2100h10M1211 2102h10M1221 2100h10M1227 2103h10M1238 2096h10M4452 2099h10M4517 2095h10M4527 2102h10M4528 2097h10M4565 2104h10M4584 2103h10M4585 2104h10M4593 2105h10M4604 2095h10M4627 2104h10M4638 2098h10M4643 2099h10M4655 2097h10M4657 2105h10M4715 2097h10M4743 2103h10M4756 2100h10M4778 2100h10M4793 2100h10M4814 2101h10M1051 2110h10M1055 2107h10M1076 2112h10M1199 2106h10M1209 2113h10M1223 2113h10M1233 2113h10M1235 2115h10M4460 2111h10M4500 2111h10M4509 2108h10M4529 2109h10M4538 2106h10M4554 2112h10M4574 2111h10M4587 2112h10M4613 2109h10M4616 2114h10M4624 2110h10M4676 2106h10M4681 2111h10M4691 2112h10M4702 2106h10M4705 2106h10M4744 2111h10M4749 2110h10M4752 2111h10M4760 2114h10M4770 2108h10M4801 2109h10M1060 2120h10M1197 2116h10M1200 2122h10M1209 2121h10M1212 2116h10M1213 2120h10M1216 2117h10M1220 2124h10M1223 2121h10M1228 2118h10M1230 2124h10M4481 2119h10M4491 2117h10M4500 2119h10M4514 2121h10M4601 2124h10M4611 2121h10M4612 2121h10M4643 2121h10M4650 2123h10M4674 2123h10M4676 2119h10M4700 2117h10M4703 2118h10M4718 2117h10M4737 2120h10M4766 2119h10M4797 2123h10M1046 2134h10M1047 2131h10M1056 2129h10M1058 2131h10M1065 2128h10M1067 2127h10M1079 2126h10M1193 2126h10M1205 2133h10M1215 2126h10M1226 2130h10M1234 2133h10M4472 2131h10M4507 2126h10M4514 2133h10M4543 2134h10M4549 2133h10M4567 2135h10M4571 2129h10M4571 2130h10M4600 2133h10M4601 2128h10M4626 2130h10M4629 2134h10M4633 2126h10M4653 2135h10M4665 2133h10M4676 2130h10M4680 2128h10M4687 2132h10M4717 2128h10M4749 2135h10M4750 2133h10M4755 2135h10M4765 2134h10M1039 2136h10M1048 2135h10M1053 2138h10M1058 2136h10M1060 2135h10M1069 2137h10M1069 2140h10M1074 2136h10M1076 2136h10M1198 2139h10M1210 2144h10M1216 2141h10M1228 2135h10M1229 2144h10M1238 2144h10M4475 2142h10M4491 2138h10M4496 2142h10M4506 2138h10M4534 2143h10M4537 2140h10M4547 2144h10M4558 2140h10M4558 2145h10M4561 2136h10M4570 2136h10M4595 2139h10M4599 2137h10M4600 2139h10M4634 2144h10M4653 2144h10M4657 2144h10M4690 2144h10M4703 2143h10M4745 2139h10M4752 2141h10M4755 2139h10M4766 2141h10M4770 2142h10M4781 2141h10M4801 2144h10M1044 2152h10M1046 2147h10M1195 2148h10M1206 2151h10M1213 2153h10M1216 2151h10M1216 2148h10M1220 2150h10M1235 2154h10M4443 2151h10M4455 2150h10M4482 2154h10M4500 2155h10M4521 2145h10M4528 2145h10M4538 2148h10M4563 2147h10M4572 2150h10M4591 2151h10M4592 2155h10M4632 2152h10M4661 2151h10M4669 2149h10M4673 2153h10M4688 2151h10M4704 2148h10M4734 2149h10M4785 2155h10M1038 2162h10M1038 2159h10M1050 2163h10M1053 2157h10M1060 2158h10M1061 2160h10M1065 2155h10M1079 2157h10M1218 2158h10M1223 2156h10M4509 2157h10M4524 2161h10M4533 2165h10M4539 2160h10M4541 2160h10M4588 2164h10M4633 2157h10M4638 2163h10M4660 2164h10M4661 2165h10M4684 2158h10M4692 2162h10M4693 2159h10M4703 2156h10M4753 2155h10M1022 2168h10M1038 2170h10M1046 2173h10M1054 2169h10M1057 2168h10M1071 2173h10M1195 2168h10M1199 2168h10M1206 2173h10M1214 2171h10M1222 2175h10M1229 2170h10M4441 2166h10M4478 2175h10M4508 2173h10M4534 2166h10M4541 2175h10M4556 2167h10M4561 2167h10M4568 2171h10M4611 2173h10M4650 2168h10M4669 2173h10M4685 2166h10M4694 2168h10M4700 2169h10M4710 2172h10M4711 2174h10M4720 2169h10M4757 2172h10M1024 2178h10M1034 2183h10M1055 2179h10M1061 2184h10M1063 2185h10M1182 2185h10M1186 2175h10M1201 2178h10M1202 2183h10M1203 2179h10M1212 2180h10M4483 2180h10M4486 2181h10M4508 2175h10M4533 2179h10M4564 2177h10M4602 2179h10M4606 2180h10M4627 2178h10M4634 2180h10M4645 2178h10M4648 2179h10M4653 2183h10M4658 2181h10M4668 2177h10M4683 2182h10M4732 2180h10M4779 2183h10M4794 2177h10M1032 2191h10M1057 2188h10M1057 2187h10M1060 2188h10M1195 2188h10M1200 2191h10M1208 2194h10M1218 2194h10M1218 2190h10M4415 2191h10M4453 2190h10M4523 2194h10M4538 2186h10M4542 2187h10M4586 2191h10M4589 2191h10M4591 2193h10M4607 2189h10M4649 2195h10M4649 2185h10M4707 2193h10M4710 2193h10M4710 2189h10M4710 2191h10M4737 2190h10M4782 2191h10M1035 2198h10M1043 2196h10M1043 2204h10M1044 2204h10M1044 2204h10M1047 2202h10M1050 2199h10M1079 2204h10M1188 2199h10M1196 2202h10M4411 2205h10M4451 2197h10M4458 2198h10M4466 2205h10M4470 2195h10M4483 2199h10M4494 2201h10M4496 2201h10M4497 2197h10M4511 2203h10M4573 2196h10M4575 2201h10M4576 2199h10M4581 2203h10M4584 2203h10M4585 2205h10M4587 2196h10M4588 2196h10M4589 2196h10M4595 2204h10M4599 2203h10M4609 2202h10M4622 2203h10M4687 2199h10M4697 2196h10M4699 2195h10M4706 2201h10M4710 2201h10M1028 2214h10M1036 2211h10M1049 2211h10M1050 2206h10M1051 2208h10M1052 2208h10M1053 2207h10M1055 2215h10M1181 2213h10M1184 2213h10M1185 2214h10M1196 2209h10M1196 2211h10M1197 2209h10M1222 2207h10M4437 2211h10M4487 2207h10M4496 2209h10M4503 2206h10M4569 2206h10M4586 2215h10M4620 2213h10M4629 2211h10M4634 2209h10M4669 2212h10M4670 2210h10M4685 2213h10M4723 2212h10M4729 2212h10M4732 2208h10M4751 2210h10M4809 2208h10M1023 2224h10M1035 2221h10M1038 2216h10M1040 2220h10M1043 2218h10M1043 2221h10M1171 2216h10M1188 2215h10M1188 2219h10M1191 2220h10M1192 2222h10M1199 2224h10M1202 2217h10M1206 2217h10M1212 2223h10M4338 2217h10M4403 2215h10M4469 2217h10M4477 2224h10M4498 2224h10M4504 2218h10M4526 2222h10M4536 2216h10M4541 2223h10M4564 2221h10M4568 2223h10M4572 2220h10M4610 2216h10M4616 2217h10M4625 2223h10M4646 2216h10M4653 2222h10M4653 2221h10M4656 2219h10M4670 2220h10M4682 2216h10M4710 2221h10M4724 2222h10M4725 2220h10M4725 2222h10M1024 2227h10M1030 2231h10M1042 2232h10M1044 2233h10M1048 2232h10M1061 2232h10M1173 2232h10M1178 2232h10M1179 2230h10M1179 2229h10M1182 2234h10M1187 2226h10M1191 2229h10M1194 2226h10M1199 2229h10M1208 2226h10M4495 2227h10M4498 2233h10M4503 2229h10M4526 2234h10M4534 2227h10M4546 2233h10M4547 2233h10M4562 2234h10M4565 2235h10M4565 2228h10M4567 2228h10M4595 2226h10M4607 2231h10M4623 2226h10M4625 2228h10M4635 2234h10M4666 2229h10M4670 2232h10M4681 2230h10M4683 2233h10M4750 2228h10M4750 2229h10M4759 2233h10M1025 2238h10M1031 2243h10M1044 2238h10M1056 2235h10M1184 2242h10M1200 2241h10M1203 2237h10M4413 2239h10M4456 2241h10M4467 2242h10M4500 2245h10M4595 2236h10M4611 2242h10M4620 2241h10M4631 2241h10M4644 2240h10M4726 2244h10M4753 2243h10M1022 2248h10M1025 2253h10M1045 2246h10M1064 2249h10M1185 2249h10M1189 2250h10M1199 2254h10M4410 2254h10M4451 2246h10M4463 2247h10M4470 2246h10M4477 2247h10M4496 2250h10M4518 2250h10M4549 2250h10M4561 2249h10M4580 2255h10M4583 2246h10M4586 2253h10M4591 2255h10M4611 2255h10M4627 2251h10M4646 2246h10M4648 2248h10M4704 2248h10M4704 2247h10M4713 2247h10M4723 2248h10M4747 2252h10M1034 2256h10M1045 2256h10M1181 2258h10M1197 2256h10M4463 2260h10M4470 2257h10M4531 2257h10M4578 2259h10M4581 2256h10M4615 2256h10M4719 2256h10M4751 2258h10M4755 2257h10" stroke="#747474" stroke-opacity="0.42" stroke-width="10" fill="none"/>
<path d="M6451 25h10M6510 22h10M6531 22h10M6533 20h10M6593 20h10M6596 15h10M6680 22h10M6334 34h10M6426 34h10M6427 33h10M6428 26h10M6462 29h10M6637 32h10M6694 33h10M6482 44h10M6501 45h10M6519 45h10M6520 43h10M6398 47h10M6419 50h10M6476 47h10M6479 54h10M6454 58h10M6461 59h10M6512 63h10M6665 62h10M6282 68h10M6417 74h10M6506 66h10M6512 68h10M6534 67h10M6487 81h10M6549 79h10M6290 92h10M6291 94h10M6307 91h10M6350 85h10M6585 95h10M6252 97h10M6466 103h10M6565 96h10M6432 106h10M6220 118h10M6257 123h10M6554 115h10M6475 133h10M6554 135h10M6272 138h10M6297 138h10M6297 152h10M6306 147h10M6309 154h10M6388 155h10M6462 154h10M6358 165h10M6381 158h10M6390 160h10M6145 172h10M6349 169h10M6381 171h10M6384 167h10M6188 184h10M6341 177h10M6335 186h10M6345 192h10M6367 186h10M6385 188h10M6394 191h10M6112 201h10M6333 205h10M6103 213h10M6229 215h10M6319 210h10M6341 211h10M6184 221h10M6197 218h10M6285 217h10M1936 228h10M6116 231h10M6402 229h10M6317 236h10M2100 251h10M2247 251h10M6122 251h10M6208 250h10M6240 254h10M6252 245h10M6354 253h10M1951 264h10M5954 262h10M5978 263h10M6071 255h10M6168 260h10M6172 264h10M6351 260h10M2021 270h10M1800 277h10M1870 278h10M1912 277h10M1986 276h10M2127 277h10M2129 277h10M2156 282h10M2189 276h10M6002 284h10M6191 284h10M6258 280h10M1814 288h10M1822 286h10M2024 291h10M6329 287h10M1690 303h10M1708 298h10M2044 300h10M6229 300h10M6285 296h10M1736 307h10M6178 315h10M1658 318h10M2294 321h10M5985 323h10M6083 321h10M1639 328h10M1670 333h10M1700 334h10M2084 329h10M6048 325h10M6287 329h10M1586 342h10M6066 341h10M6174 337h10M6237 345h10M1584 349h10M1585 350h10M1590 349h10M1621 348h10M1622 350h10M2412 353h10M5913 353h10M5960 354h10M5985 346h10M5996 347h10M6066 345h10M6119 348h10M6153 348h10M1608 359h10M1611 364h10M5893 359h10M6081 361h10M6105 362h10M6175 365h10M1581 369h10M2312 374h10M5948 367h10M1513 383h10M1540 384h10M1546 376h10M2343 375h10M5951 379h10M6013 378h10M1547 385h10M1554 386h10M2351 385h10M5917 395h10M5969 390h10M1485 402h10M5871 396h10M5962 400h10M1520 411h10M5798 414h10M5835 406h10M5973 405h10M5995 411h10M6106 411h10M1487 422h10M1491 424h10M1495 422h10M1518 418h10M5851 419h10M6034 423h10M1441 433h10M5987 432h10M5999 431h10M6001 428h10M6033 427h10M1465 440h10M1486 439h10M5887 443h10M5994 443h10M6022 441h10M1441 452h10M5948 453h10M5965 448h10M6061 449h10M1447 456h10M1471 455h10M2149 461h10M2226 465h10M2340 464h10M5956 457h10M6021 464h10M1404 473h10M1412 473h10M1422 471h10M1428 474h10M1432 473h10M2108 469h10M2160 474h10M5686 474h10M5773 473h10M5908 471h10M5954 469h10M1364 484h10M1385 482h10M1388 477h10M1393 481h10M1407 480h10M5751 481h10M5803 481h10M5869 478h10M5877 484h10M5938 482h10M5949 485h10M6053 479h10M1381 490h10M1383 491h10M1396 490h10M2141 494h10M2154 491h10M2181 489h10M2205 488h10M2239 494h10M2277 491h10M2373 494h10M5688 491h10M5803 491h10M5835 494h10M5963 491h10M1362 499h10M1368 502h10M1376 497h10M1379 495h10M1384 499h10M2033 498h10M2065 501h10M2140 495h10M2146 503h10M2304 500h10M5686 497h10M5740 501h10M5834 501h10M5929 501h10M1360 511h10M1393 508h10M1876 514h10M2065 508h10M2177 505h10M2195 508h10M2357 507h10M2360 511h10M2392 507h10M2419 508h10M2463 510h10M2494 506h10M5878 510h10M5914 514h10M1312 520h10M1329 517h10M1332 525h10M1361 518h10M1365 515h10M1945 523h10M1998 521h10M2011 524h10M2053 523h10M2094 517h10M2344 522h10M2435 516h10M5774 516h10M5783 517h10M1304 525h10M1346 528h10M1350 529h10M1919 530h10M1944 529h10M1966 531h10M1985 528h10M2145 526h10M2180 533h10M2211 529h10M5717 529h10M5738 525h10M5870 534h10M5917 525h10M5942 527h10M1310 537h10M1972 537h10M1975 544h10M2058 541h10M2145 540h10M2283 545h10M5687 540h10M5886 537h10M5965 544h10M5986 537h10M1289 555h10M1292 549h10M1299 552h10M1301 553h10M1867 555h10M1870 551h10M1892 551h10M1900 552h10M1955 553h10M1963 553h10M2126 550h10M2540 550h10M5691 550h10M5769 547h10M1275 556h10M1276 559h10M1806 562h10M1896 563h10M1910 562h10M2000 565h10M2054 560h10M2085 559h10M2264 560h10M2487 563h10M5598 558h10M5780 556h10M1248 573h10M1264 569h10M1273 571h10M1276 566h10M1756 574h10M1918 569h10M1920 571h10M1920 572h10M2246 575h10M2278 571h10M2715 566h10M5655 568h10M5799 572h10M5805 572h10M5838 569h10M5885 574h10M1249 575h10M1261 580h10M1264 576h10M1282 581h10M1762 578h10M1818 583h10M1839 576h10M1862 579h10M1886 580h10M2619 580h10M5700 584h10M5776 579h10M5786 580h10M5840 583h10M1271 590h10M1757 595h10M1779 590h10M1828 589h10M1850 587h10M1870 588h10M1871 588h10M5559 587h10M5722 595h10M1193 604h10M1213 604h10M1236 598h10M1243 596h10M1804 602h10M1823 601h10M2401 596h10M2446 599h10M2627 605h10M5644 601h10M5650 602h10M5685 602h10M1687 611h10M1752 610h10M1756 615h10M1786 608h10M1791 608h10M1807 606h10M1813 612h10M2505 606h10M5597 614h10M5742 614h10M5880 608h10M1201 618h10M1219 617h10M1220 616h10M1748 624h10M1778 622h10M2503 619h10M5804 622h10M1113 628h10M1211 628h10M1672 625h10M1696 625h10M1715 625h10M1724 631h10M1742 628h10M1773 629h10M5661 625h10M5766 632h10M1158 637h10M1605 640h10M1613 643h10M1622 638h10M1760 638h10M1765 645h10M5376 640h10M5557 640h10M5626 641h10M5721 637h10M5800 636h10M1115 652h10M1586 652h10M1628 649h10M1634 648h10M1649 653h10M1660 650h10M1663 655h10M1701 651h10M1753 647h10M5435 647h10M5583 645h10M5618 646h10M5620 649h10M5695 653h10M5716 651h10M5766 652h10M5797 655h10M5808 650h10M5884 655h10M1589 658h10M1591 659h10M1622 656h10M1635 656h10M1665 664h10M1725 659h10M2558 656h10M5589 658h10M5641 656h10M1092 668h10M1106 673h10M1556 675h10M1609 669h10M1641 666h10M1658 672h10M1689 672h10M1703 666h10M1703 670h10M1714 671h10M1718 666h10M1742 665h10M2538 668h10M5639 665h10M5674 673h10M1078 678h10M1106 680h10M1132 681h10M1537 680h10M1571 680h10M1580 682h10M1615 677h10M1680 678h10M1698 677h10M5415 680h10M5514 684h10M1054 690h10M1553 690h10M1583 687h10M1650 687h10M1672 693h10M1676 693h10M1684 691h10M1691 690h10M5318 692h10M5632 693h10M5701 687h10M5715 688h10M5760 690h10M995 704h10M1007 703h10M1012 701h10M1502 696h10M1522 700h10M1530 701h10M1624 701h10M1667 695h10M1682 700h10M1685 696h10M5266 696h10M5541 702h10M5674 703h10M5710 704h10M1008 711h10M1492 711h10M1523 706h10M1525 712h10M1532 713h10M1532 708h10M1585 712h10M1618 708h10M1638 709h10M1639 706h10M1645 709h10M1673 709h10M5373 706h10M5496 713h10M5512 715h10M5631 713h10M5725 712h10M1030 716h10M1452 723h10M1523 721h10M1532 715h10M1613 717h10M1619 723h10M1641 722h10M5493 720h10M5519 723h10M5652 720h10M5674 716h10M962 732h10M968 725h10M1006 733h10M1027 728h10M1526 735h10M1626 734h10M1640 731h10M5504 734h10M5672 729h10M5745 734h10M960 743h10M963 737h10M977 744h10M986 742h10M1444 744h10M1445 735h10M1469 737h10M1503 741h10M1611 744h10M5702 745h10M920 752h10M942 751h10M972 752h10M973 745h10M1371 751h10M2273 753h10M5142 748h10M5252 753h10M5611 750h10M5700 751h10M886 762h10M886 755h10M902 762h10M914 764h10M919 762h10M934 764h10M941 759h10M962 764h10M964 756h10M970 759h10M971 755h10M1401 758h10M1425 760h10M1426 759h10M1440 756h10M1451 763h10M1587 756h10M1602 761h10M5379 765h10M5450 763h10M5495 758h10M874 772h10M896 771h10M926 766h10M926 765h10M933 771h10M962 769h10M964 774h10M1355 772h10M1420 773h10M1555 774h10M1555 771h10M1586 768h10M2260 773h10M2349 773h10M2369 775h10M2421 774h10M2431 772h10M5636 765h10M863 779h10M864 775h10M873 777h10M875 784h10M878 781h10M891 782h10M892 776h10M898 778h10M899 782h10M913 783h10M931 782h10M935 777h10M1340 777h10M1369 780h10M1431 775h10M1549 782h10M1592 779h10M2166 783h10M2296 777h10M2337 783h10M2343 777h10M2424 777h10M5487 780h10M5522 784h10M5612 780h10M779 791h10M836 788h10M841 794h10M843 786h10M868 791h10M870 787h10M878 793h10M879 793h10M890 791h10M896 790h10M911 791h10M917 791h10M934 786h10M1345 786h10M1373 792h10M1384 786h10M1386 793h10M1393 793h10M1554 786h10M2064 794h10M2141 787h10M2193 785h10M2200 795h10M2215 789h10M2232 789h10M2239 791h10M2268 788h10M2391 790h10M2455 792h10M2475 792h10M2500 789h10M2576 789h10M5417 785h10M5420 792h10M5432 792h10M5456 794h10M5550 791h10M5654 787h10M5678 788h10M748 804h10M836 802h10M847 797h10M855 795h10M855 796h10M858 803h10M859 795h10M862 796h10M870 796h10M870 800h10M875 798h10M876 804h10M878 804h10M899 800h10M905 800h10M908 798h10M921 795h10M1282 805h10M1349 796h10M1533 798h10M1537 798h10M1568 801h10M2098 802h10M2099 798h10M2184 798h10M2203 801h10M2236 797h10M2286 801h10M2418 799h10M5527 802h10M5571 802h10M5668 805h10M784 814h10M796 815h10M796 812h10M832 811h10M847 809h10M860 810h10M862 807h10M868 808h10M911 808h10M1320 809h10M1532 808h10M1541 809h10M1543 811h10M1544 808h10M1547 815h10M2327 811h10M5384 810h10M5451 807h10M5509 812h10M5547 808h10M798 824h10M799 824h10M802 816h10M812 816h10M843 820h10M844 819h10M844 825h10M846 824h10M855 823h10M855 825h10M868 825h10M869 816h10M870 819h10M879 820h10M1283 817h10M1338 817h10M1339 817h10M1412 820h10M1499 817h10M1502 821h10M1508 820h10M1534 816h10M2077 825h10M2251 818h10M2612 817h10M2629 824h10M691 827h10M803 831h10M805 834h10M805 834h10M811 827h10M826 830h10M829 827h10M830 829h10M834 830h10M842 828h10M851 828h10M855 827h10M1487 828h10M1496 828h10M1502 833h10M1514 835h10M1524 826h10M1533 825h10M2022 829h10M2062 834h10M2083 829h10M2084 830h10M2253 832h10M2639 826h10M2676 834h10M5241 831h10M5405 830h10M5515 828h10M5520 827h10M5598 831h10M700 841h10M717 839h10M751 835h10M766 843h10M768 838h10M773 844h10M774 841h10M775 836h10M804 840h10M805 837h10M807 838h10M808 839h10M808 837h10M851 836h10M1204 843h10M1519 839h10M2004 842h10M2035 839h10M2048 838h10M2067 844h10M2078 843h10M2095 840h10M2114 841h10M5204 839h10M5211 842h10M5401 844h10M5415 836h10M5516 843h10M5518 842h10M5561 838h10M5602 839h10M669 853h10M731 850h10M734 851h10M743 854h10M746 854h10M751 850h10M755 849h10M757 850h10M761 846h10M763 847h10M768 853h10M770 849h10M773 848h10M778 853h10M780 850h10M782 853h10M785 853h10M786 846h10M791 855h10M792 846h10M793 845h10M798 847h10M804 852h10M809 848h10M817 850h10M820 851h10M823 852h10M831 847h10M1470 852h10M1477 847h10M1498 850h10M1500 855h10M1519 848h10M1983 847h10M2011 854h10M2049 852h10M2084 855h10M2100 851h10M2641 853h10M2691 849h10M5217 854h10M5385 854h10M5445 846h10M5508 853h10M715 864h10M719 856h10M720 856h10M721 865h10M727 861h10M727 861h10M727 859h10M729 857h10M738 864h10M748 858h10M749 860h10M750 856h10M768 856h10M777 858h10M788 857h10M791 859h10M799 862h10M810 856h10M1227 861h10M1245 863h10M1281 859h10M1497 855h10M1503 858h10M1935 863h10M1980 859h10M1986 862h10M2684 864h10M2810 859h10M5231 864h10M5283 863h10M5398 859h10M5438 858h10M5461 861h10M635 872h10M652 873h10M660 871h10M660 870h10M661 874h10M666 870h10M667 873h10M672 871h10M681 867h10M683 873h10M687 873h10M689 874h10M699 867h10M705 869h10M711 873h10M715 871h10M716 874h10M718 874h10M724 867h10M737 870h10M738 872h10M751 867h10M758 867h10M763 867h10M770 870h10M785 870h10M785 867h10M787 873h10M788 867h10M796 870h10M798 873h10M1477 869h10M1490 873h10M1492 870h10M1495 869h10M1495 873h10M1963 872h10M1977 870h10M1979 868h10M2699 867h10M2705 865h10M2735 870h10M5303 872h10M5349 866h10M5370 872h10M5424 869h10M5450 865h10M5474 869h10M5489 875h10M5528 870h10M601 880h10M631 885h10M638 878h10M648 885h10M652 884h10M652 882h10M655 881h10M659 876h10M669 883h10M678 885h10M686 884h10M691 883h10M696 879h10M714 881h10M716 881h10M716 879h10M717 881h10M718 877h10M729 883h10M756 878h10M772 881h10M776 879h10M1068 884h10M1465 883h10M1494 877h10M1859 881h10M5311 883h10M5443 879h10M5486 882h10M635 889h10M636 886h10M637 895h10M642 889h10M643 889h10M652 892h10M656 890h10M658 886h10M670 891h10M675 893h10M681 892h10M694 895h10M697 889h10M699 888h10M706 890h10M707 894h10M710 885h10M729 889h10M733 889h10M760 893h10M760 886h10M811 891h10M1038 890h10M1100 889h10M1117 892h10M1454 889h10M1463 894h10M2803 888h10M5317 890h10M5325 893h10M5407 886h10M5428 891h10M5461 889h10M5476 889h10M5489 885h10M5573 893h10M621 902h10M641 903h10M643 896h10M646 897h10M646 896h10M656 904h10M658 901h10M662 896h10M663 904h10M665 898h10M666 905h10M667 904h10M668 905h10M669 895h10M672 902h10M677 897h10M687 897h10M689 897h10M700 903h10M701 901h10M703 898h10M715 896h10M751 898h10M1077 897h10M1446 897h10M1467 896h10M1478 902h10M1480 904h10M1877 902h10M1967 896h10M1972 899h10M2769 903h10M5247 903h10M5281 895h10M5347 896h10M5479 895h10M5535 904h10M606 911h10M620 911h10M622 907h10M633 910h10M638 912h10M643 907h10M647 908h10M647 914h10M654 907h10M658 911h10M659 906h10M659 910h10M662 909h10M663 913h10M667 914h10M678 915h10M681 911h10M684 910h10M684 912h10M688 914h10M700 912h10M702 914h10M706 914h10M1061 908h10M1078 915h10M1108 913h10M1173 913h10M1445 908h10M1446 911h10M1469 910h10M1879 906h10M1884 913h10M1901 909h10M1908 913h10M2848 910h10M5030 909h10M5266 914h10M619 919h10M642 915h10M646 923h10M669 920h10M677 925h10M681 921h10M704 924h10M934 918h10M1015 925h10M1038 920h10M1048 922h10M1058 917h10M1077 925h10M1143 925h10M1191 923h10M1416 919h10M1441 921h10M1449 922h10M1452 923h10M1470 918h10M1485 921h10M1850 922h10M1860 918h10M1869 922h10M1914 924h10M2775 922h10M5264 918h10M5300 921h10M5315 922h10M5346 923h10M5451 925h10M5490 922h10M5502 925h10M628 931h10M641 934h10M652 930h10M660 931h10M674 926h10M675 935h10M685 929h10M686 933h10M697 932h10M896 926h10M942 935h10M950 935h10M965 926h10M997 929h10M1424 932h10M1438 929h10M1453 935h10M1474 935h10M1857 934h10M1860 931h10M5236 930h10M5294 927h10M620 935h10M638 944h10M647 944h10M649 941h10M656 939h10M658 938h10M661 941h10M670 937h10M675 942h10M676 941h10M676 936h10M686 938h10M697 944h10M697 943h10M915 945h10M925 942h10M1003 940h10M1025 937h10M1032 943h10M1043 941h10M1049 936h10M1056 940h10M1072 935h10M1423 944h10M1464 944h10M1836 943h10M1857 940h10M1868 944h10M2847 936h10M4997 936h10M5307 938h10M5338 939h10M5355 944h10M5375 938h10M5553 939h10M630 950h10M642 951h10M649 945h10M672 945h10M674 954h10M678 952h10M850 946h10M858 952h10M920 947h10M937 952h10M939 950h10M950 954h10M998 955h10M1003 954h10M1004 947h10M1008 947h10M1034 945h10M1074 946h10M1432 953h10M1434 954h10M1779 946h10M1785 947h10M5040 946h10M5455 951h10M5461 954h10M5527 955h10M652 955h10M654 958h10M657 962h10M661 959h10M663 957h10M857 959h10M872 964h10M879 959h10M881 955h10M883 965h10M890 959h10M891 957h10M895 961h10M902 960h10M906 959h10M914 955h10M929 959h10M945 960h10M951 963h10M961 963h10M976 964h10M1014 956h10M1387 958h10M1409 963h10M1419 956h10M1420 961h10M1425 963h10M1432 964h10M1434 960h10M1798 957h10M1836 964h10M2916 958h10M2947 962h10M4999 958h10M5241 959h10M5248 960h10M5276 957h10M5281 958h10M5375 964h10M662 965h10M662 974h10M676 968h10M681 972h10M803 971h10M862 974h10M863 966h10M864 973h10M877 973h10M879 973h10M887 968h10M896 973h10M909 970h10M937 973h10M942 968h10M986 972h10M998 970h10M1812 974h10M1829 968h10M2936 974h10M2998 971h10M4834 973h10M5218 966h10M5220 965h10M5331 974h10M5417 966h10M664 977h10M675 982h10M684 985h10M834 981h10M847 983h10M849 982h10M858 983h10M889 979h10M892 976h10M893 977h10M1411 982h10M1779 984h10M1795 980h10M4992 976h10M5246 976h10M5254 982h10M5281 977h10M5367 984h10M669 994h10M672 988h10M680 989h10M683 992h10M826 990h10M847 991h10M855 994h10M869 995h10M877 992h10M879 985h10M1403 986h10M1404 989h10M1410 990h10M1418 990h10M1733 993h10M1756 991h10M1786 991h10M5111 986h10M5160 990h10M5227 994h10M5272 990h10M5320 994h10M5482 992h10M650 998h10M670 998h10M837 1004h10M848 1000h10M850 1001h10M850 1001h10M853 1001h10M856 998h10M871 1000h10M897 999h10M900 998h10M908 995h10M910 1005h10M943 1001h10M1403 1000h10M1415 996h10M1419 995h10M1421 1004h10M1732 999h10M1751 996h10M1759 1004h10M2952 1003h10M5189 1004h10M5357 1001h10M5384 1003h10M833 1010h10M854 1009h10M859 1010h10M860 1007h10M862 1006h10M862 1009h10M867 1013h10M878 1006h10M886 1008h10M890 1007h10M897 1008h10M1426 1012h10M1757 1010h10M1768 1011h10M1790 1006h10M3061 1007h10M5005 1008h10M5185 1007h10M5259 1015h10M5332 1012h10M833 1021h10M833 1016h10M847 1016h10M859 1021h10M866 1023h10M867 1017h10M867 1016h10M873 1023h10M877 1025h10M878 1024h10M884 1016h10M979 1017h10M1391 1023h10M1403 1019h10M1409 1018h10M1411 1017h10M1413 1023h10M1732 1025h10M5189 1022h10M5194 1021h10M5205 1024h10M5361 1025h10M5432 1017h10M5449 1023h10M840 1030h10M844 1031h10M864 1030h10M875 1030h10M881 1034h10M888 1025h10M1383 1027h10M1394 1027h10M1396 1030h10M1695 1027h10M1709 1035h10M1720 1026h10M1722 1027h10M1726 1030h10M1728 1034h10M1728 1033h10M3015 1035h10M5132 1030h10M5177 1033h10M5213 1030h10M5213 1025h10M5368 1028h10M5403 1028h10M834 1041h10M848 1035h10M870 1041h10M872 1045h10M1378 1042h10M1379 1035h10M1384 1041h10M1395 1043h10M1403 1039h10M1417 1038h10M1699 1038h10M1749 1044h10M5147 1039h10M5228 1043h10M5284 1037h10M5323 1038h10M5393 1043h10M838 1046h10M848 1049h10M855 1052h10M857 1054h10M857 1053h10M858 1052h10M871 1054h10M872 1049h10M874 1048h10M885 1048h10M885 1048h10M907 1048h10M1370 1051h10M1382 1048h10M1387 1046h10M1391 1050h10M1397 1047h10M1401 1055h10M1409 1052h10M1425 1049h10M1696 1051h10M1716 1048h10M1741 1050h10M5038 1054h10M5039 1055h10M5315 1054h10M5345 1047h10M5387 1046h10M873 1062h10M877 1060h10M1377 1057h10M1383 1060h10M1386 1058h10M1391 1065h10M1670 1060h10M1672 1064h10M1684 1064h10M1687 1064h10M1693 1062h10M1706 1063h10M1725 1058h10M4985 1056h10M5300 1063h10M852 1066h10M854 1074h10M864 1074h10M872 1072h10M879 1070h10M1356 1072h10M1362 1067h10M1369 1067h10M1384 1070h10M1384 1074h10M1390 1067h10M1679 1072h10M1688 1072h10M5142 1074h10M5243 1073h10M5303 1068h10M856 1078h10M865 1077h10M867 1082h10M1358 1082h10M1366 1084h10M1372 1078h10M1376 1084h10M1378 1082h10M1648 1084h10M1670 1077h10M1676 1081h10M5026 1080h10M5085 1084h10M5138 1081h10M5182 1078h10M5255 1077h10M5272 1078h10M5300 1076h10M5310 1080h10M5367 1078h10M862 1092h10M871 1089h10M873 1086h10M877 1087h10M881 1093h10M1365 1086h10M1366 1089h10M1372 1093h10M1372 1088h10M1375 1095h10M1387 1089h10M1389 1093h10M1394 1092h10M1663 1085h10M1673 1091h10M1676 1086h10M1680 1090h10M5136 1087h10M5183 1090h10M5207 1091h10M5257 1091h10M5322 1091h10M855 1100h10M1358 1100h10M1374 1097h10M1374 1102h10M1644 1101h10M1644 1102h10M1645 1100h10M5082 1098h10M5185 1099h10M5188 1098h10M5318 1097h10M1353 1112h10M1354 1105h10M1355 1114h10M1355 1112h10M1356 1113h10M1363 1106h10M1368 1112h10M1368 1111h10M1373 1106h10M1379 1106h10M1637 1106h10M1647 1107h10M1647 1107h10M1684 1106h10M5163 1108h10M5181 1110h10M5188 1106h10M5206 1106h10M5257 1113h10M5392 1105h10M1342 1117h10M1356 1119h10M1358 1119h10M1361 1118h10M1361 1122h10M1363 1124h10M1375 1117h10M1375 1120h10M1616 1118h10M1619 1120h10M1631 1123h10M1650 1124h10M1655 1117h10M1669 1124h10M5120 1122h10M5121 1125h10M5191 1125h10M5350 1122h10M1348 1128h10M1601 1131h10M1604 1133h10M1610 1127h10M1616 1127h10M1634 1132h10M1642 1126h10M1662 1127h10M5136 1133h10M5183 1130h10M5195 1129h10M5308 1134h10M1346 1144h10M1349 1138h10M1364 1144h10M1369 1142h10M1369 1136h10M1604 1139h10M1618 1138h10M5136 1145h10M5166 1141h10M5181 1137h10M5193 1139h10M5196 1137h10M5202 1136h10M5206 1145h10M5227 1138h10M5256 1136h10M1335 1154h10M1346 1151h10M1359 1151h10M1368 1152h10M1378 1145h10M1596 1151h10M1619 1146h10M1636 1150h10M4895 1147h10M5070 1152h10M5091 1148h10M5191 1153h10M5194 1148h10M5291 1149h10M1325 1158h10M1349 1158h10M1590 1157h10M1608 1157h10M1614 1160h10M1617 1160h10M1620 1165h10M1631 1158h10M5176 1156h10M5178 1162h10M5183 1155h10M5226 1157h10M5267 1156h10M5281 1159h10M1308 1174h10M1315 1171h10M1333 1172h10M1336 1170h10M1345 1173h10M1345 1174h10M1580 1173h10M1588 1167h10M1602 1171h10M1607 1170h10M1620 1171h10M5043 1172h10M5106 1172h10M5107 1168h10M5250 1172h10M5252 1173h10M1334 1185h10M1363 1180h10M1574 1177h10M1582 1178h10M1587 1183h10M1588 1185h10M1614 1177h10M5105 1183h10M5189 1178h10M5226 1180h10M1352 1192h10M1571 1192h10M1595 1191h10M1604 1187h10M1612 1188h10M5008 1187h10M5071 1192h10M5255 1186h10M5263 1190h10M5277 1193h10M5358 1186h10M1321 1197h10M1326 1198h10M1330 1201h10M1333 1202h10M1335 1195h10M1338 1203h10M1580 1198h10M1585 1196h10M1586 1202h10M1590 1202h10M1595 1200h10M4691 1201h10M4997 1201h10M5000 1199h10M5027 1204h10M5064 1196h10M5169 1199h10M5171 1199h10M5229 1199h10M5260 1197h10M1321 1207h10M1338 1206h10M1343 1210h10M1565 1209h10M1572 1208h10M4886 1210h10M5055 1212h10M5096 1212h10M5140 1209h10M5146 1214h10M5195 1211h10M5301 1207h10M1308 1221h10M1315 1223h10M1320 1223h10M1323 1218h10M1327 1218h10M1329 1224h10M1334 1216h10M1580 1225h10M4820 1217h10M4961 1216h10M5046 1222h10M5063 1217h10M5083 1222h10M5100 1219h10M5163 1217h10M5217 1223h10M5228 1218h10M1309 1233h10M1311 1235h10M1314 1230h10M1316 1230h10M1321 1226h10M1324 1232h10M1327 1232h10M1340 1225h10M1353 1230h10M1555 1230h10M1555 1226h10M1556 1226h10M1569 1230h10M1573 1231h10M1583 1231h10M5065 1232h10M5091 1226h10M5155 1233h10M5158 1230h10M5172 1233h10M5262 1229h10M5266 1233h10M1298 1241h10M1313 1241h10M1318 1238h10M1326 1243h10M1535 1241h10M1559 1236h10M1563 1240h10M1564 1238h10M1580 1235h10M4958 1245h10M4965 1243h10M5052 1245h10M5058 1236h10M5088 1239h10M5176 1237h10M1294 1254h10M1298 1253h10M1314 1252h10M1330 1247h10M1544 1249h10M1556 1248h10M1556 1253h10M1566 1249h10M1569 1251h10M1570 1252h10M1586 1253h10M4952 1247h10M4954 1249h10M5056 1250h10M5059 1247h10M5108 1254h10M5199 1247h10M5203 1248h10M5205 1251h10M5216 1248h10M1284 1258h10M1284 1258h10M1302 1260h10M1306 1263h10M1312 1261h10M1334 1260h10M1525 1259h10M1537 1261h10M1554 1257h10M1560 1256h10M4725 1259h10M4783 1257h10M4983 1257h10M5025 1256h10M5071 1264h10M5079 1260h10M5091 1260h10M5158 1265h10M5221 1256h10M1290 1272h10M1294 1268h10M1298 1266h10M1303 1273h10M1309 1274h10M1311 1272h10M1325 1271h10M1545 1275h10M1547 1274h10M1549 1266h10M1557 1270h10M1560 1271h10M4945 1273h10M5048 1266h10M5057 1270h10M5084 1268h10M5139 1270h10M5149 1268h10M5157 1275h10M5247 1270h10M1287 1284h10M1297 1278h10M1298 1282h10M1301 1280h10M1517 1282h10M1535 1279h10M1541 1279h10M1547 1275h10M1566 1284h10M4961 1279h10M5016 1279h10M5027 1275h10M5029 1276h10M5101 1278h10M5149 1282h10M5161 1276h10M5194 1278h10M1298 1295h10M1301 1289h10M1304 1292h10M1515 1291h10M1521 1293h10M1525 1291h10M4835 1294h10M4940 1287h10M4987 1290h10M5002 1288h10M5015 1285h10M5026 1286h10M5031 1286h10M5047 1291h10M5051 1289h10M5051 1295h10M5077 1288h10M5081 1288h10M5096 1293h10M5107 1292h10M5112 1292h10M5118 1285h10M5145 1289h10M5151 1292h10M5154 1295h10M5164 1288h10M5183 1287h10M5206 1287h10M5209 1288h10M1275 1299h10M1285 1305h10M1289 1304h10M1298 1301h10M1301 1303h10M1512 1303h10M1526 1297h10M4725 1303h10M4992 1304h10M5028 1300h10M5091 1297h10M5141 1298h10M5145 1299h10M5155 1300h10M5160 1299h10M5177 1300h10M5223 1303h10M5273 1297h10M1276 1306h10M1279 1314h10M1290 1309h10M1508 1314h10M1519 1310h10M1531 1308h10M1540 1310h10M4908 1312h10M4928 1306h10M4945 1307h10M4959 1306h10M5009 1310h10M5091 1308h10M5094 1309h10M5096 1311h10M5114 1308h10M5123 1309h10M5172 1309h10M5196 1315h10M5212 1315h10M1271 1318h10M1274 1317h10M1303 1316h10M1508 1320h10M1510 1325h10M1513 1318h10M4710 1320h10M4798 1322h10M4933 1321h10M4956 1319h10M5013 1323h10M5019 1323h10M5022 1319h10M5032 1322h10M5161 1324h10M5202 1324h10M1286 1328h10M1287 1327h10M1295 1330h10M1482 1331h10M1496 1330h10M1501 1329h10M1510 1332h10M1511 1335h10M1521 1328h10M1546 1327h10M4962 1335h10M5068 1333h10M5076 1332h10M5188 1327h10M5189 1329h10M1248 1336h10M1263 1339h10M1269 1341h10M1270 1340h10M1273 1338h10M1285 1344h10M1309 1336h10M1487 1337h10M1494 1342h10M1499 1341h10M1501 1341h10M1506 1342h10M1507 1339h10M1517 1345h10M1520 1340h10M1523 1335h10M4877 1345h10M4921 1340h10M4926 1337h10M4975 1336h10M4979 1335h10M4991 1341h10M4996 1337h10M5014 1341h10M5034 1345h10M5071 1338h10M5101 1344h10M5107 1345h10M1264 1352h10M1267 1350h10M1271 1345h10M1273 1350h10M1274 1345h10M1282 1349h10M1486 1355h10M1491 1346h10M1495 1352h10M1496 1346h10M1498 1353h10M1517 1355h10M4952 1348h10M4978 1346h10M4985 1351h10M5002 1348h10M5010 1349h10M5031 1353h10M5034 1348h10M5045 1345h10M5054 1355h10M1256 1363h10M1266 1365h10M1267 1355h10M1269 1361h10M1471 1361h10M1489 1359h10M1492 1358h10M1496 1357h10M1496 1358h10M1497 1362h10M1498 1364h10M1506 1356h10M1511 1359h10M4861 1363h10M4900 1359h10M4908 1360h10M4938 1359h10M4951 1355h10M4993 1364h10M5010 1358h10M5033 1360h10M5043 1364h10M5068 1356h10M5090 1357h10M5109 1356h10M5174 1355h10M1227 1368h10M1245 1373h10M1466 1370h10M1475 1370h10M1485 1369h10M1486 1370h10M1491 1369h10M1493 1369h10M1494 1374h10M1504 1369h10M1505 1372h10M4746 1367h10M4894 1374h10M4936 1366h10M4938 1374h10M4943 1366h10M4969 1371h10M4975 1368h10M5016 1369h10M5040 1367h10M5076 1372h10M5081 1372h10M1236 1381h10M1240 1381h10M1247 1385h10M1249 1382h10M1254 1384h10M1261 1380h10M1269 1378h10M1270 1385h10M1274 1377h10M1278 1377h10M1506 1377h10M1512 1378h10M4892 1378h10M4931 1383h10M4956 1376h10M5013 1385h10M5014 1384h10M5066 1380h10M5066 1380h10M5076 1383h10M5124 1384h10M5188 1380h10M1231 1388h10M1235 1386h10M1238 1386h10M1258 1389h10M1263 1393h10M1267 1388h10M1459 1388h10M1468 1386h10M1475 1390h10M1483 1391h10M1483 1394h10M1491 1390h10M1491 1394h10M1495 1390h10M1502 1389h10M4903 1387h10M4925 1390h10M4942 1386h10M4957 1386h10M4962 1387h10M4984 1388h10M5012 1391h10M5019 1394h10M5054 1393h10M5073 1388h10M5116 1386h10M5130 1394h10M5207 1389h10M1223 1402h10M1234 1395h10M1241 1400h10M1247 1398h10M1248 1404h10M1250 1403h10M1256 1396h10M1260 1403h10M1447 1401h10M1452 1403h10M1477 1397h10M1494 1401h10M1496 1398h10M4977 1399h10M5023 1396h10M5041 1403h10M5096 1405h10M1219 1414h10M1235 1409h10M1258 1415h10M1444 1414h10M1448 1407h10M1449 1415h10M1455 1413h10M1465 1408h10M1465 1411h10M1472 1406h10M1473 1408h10M1482 1405h10M1482 1407h10M1487 1410h10M4837 1411h10M4869 1409h10M4929 1405h10M4963 1414h10M4968 1408h10M4990 1415h10M4991 1408h10M5074 1407h10M5086 1406h10M5124 1414h10M1235 1418h10M1239 1423h10M1244 1419h10M1248 1417h10M1250 1417h10M1451 1425h10M1462 1419h10M4877 1416h10M4932 1419h10M4947 1419h10M4958 1417h10M4978 1417h10M4989 1421h10M4996 1418h10M5057 1415h10M5062 1415h10M5064 1415h10M5090 1420h10M5141 1420h10M1220 1431h10M1226 1434h10M1242 1426h10M1250 1426h10M1256 1427h10M1451 1425h10M1451 1434h10M1453 1429h10M1458 1426h10M1459 1425h10M1472 1429h10M1482 1433h10M1484 1430h10M4835 1432h10M4857 1429h10M4907 1431h10M4934 1426h10M5010 1430h10M5049 1431h10M5060 1431h10M5069 1430h10M1441 1443h10M1442 1444h10M1447 1441h10M1454 1445h10M1459 1441h10M1467 1436h10M4876 1443h10M4878 1440h10M4953 1439h10M5000 1436h10M5041 1443h10M5054 1442h10M5086 1435h10M5119 1444h10M5124 1436h10M1232 1452h10M1240 1448h10M1241 1452h10M1442 1452h10M1442 1454h10M1453 1445h10M1454 1448h10M1465 1454h10M4870 1450h10M4883 1451h10M4911 1449h10M4945 1450h10M4954 1450h10M4974 1446h10M4976 1451h10M4981 1450h10M4990 1452h10M5012 1452h10M5040 1451h10M5087 1454h10M1184 1461h10M1202 1462h10M1211 1460h10M1213 1458h10M1217 1463h10M1222 1460h10M1229 1462h10M1237 1457h10M1431 1461h10M1439 1463h10M1440 1457h10M1450 1464h10M1457 1460h10M1463 1456h10M4487 1462h10M4829 1462h10M4833 1459h10M4926 1463h10M4952 1459h10M4991 1458h10M4992 1459h10M5004 1465h10M5022 1456h10M5057 1463h10M5063 1459h10M1203 1469h10M1206 1471h10M1218 1473h10M1219 1466h10M1430 1467h10M1431 1474h10M1433 1474h10M1434 1469h10M1443 1468h10M1445 1473h10M1447 1472h10M1449 1471h10M1450 1474h10M4464 1474h10M4500 1474h10M4863 1473h10M4869 1468h10M4890 1468h10M4926 1474h10M4927 1473h10M4932 1471h10M4999 1472h10M5053 1473h10M5058 1466h10M1197 1481h10M1204 1484h10M1214 1485h10M1423 1485h10M1433 1483h10M1442 1476h10M1443 1484h10M1444 1479h10M1449 1481h10M4542 1479h10M4571 1482h10M4838 1478h10M4854 1479h10M4858 1481h10M4858 1485h10M4873 1477h10M4878 1478h10M4903 1476h10M4959 1476h10M4998 1477h10M5004 1481h10M5059 1482h10M1195 1491h10M1215 1490h10M1223 1490h10M1228 1494h10M1428 1489h10M1441 1486h10M4347 1488h10M4477 1490h10M4513 1485h10M4826 1492h10M4853 1485h10M4911 1487h10M4948 1494h10M4957 1494h10M4967 1488h10M4988 1486h10M4997 1489h10M5007 1489h10M1180 1501h10M1210 1496h10M1213 1496h10M1216 1497h10M1221 1500h10M1224 1498h10M1240 1504h10M1405 1497h10M1416 1503h10M1417 1497h10M1422 1495h10M1423 1502h10M1424 1504h10M1430 1496h10M1432 1497h10M1433 1504h10M1444 1496h10M4249 1499h10M4430 1500h10M4820 1503h10M4877 1499h10M4883 1504h10M4969 1498h10M4994 1502h10M5008 1505h10M5012 1502h10M5017 1501h10M5111 1504h10M1211 1505h10M1212 1505h10M1218 1512h10M1220 1510h10M1399 1515h10M1400 1507h10M1407 1512h10M1420 1506h10M1423 1513h10M1426 1511h10M1426 1507h10M1440 1513h10M1441 1509h10M4415 1514h10M4445 1513h10M4464 1512h10M4466 1507h10M4767 1510h10M4847 1508h10M4870 1515h10M4885 1507h10M4912 1506h10M1199 1520h10M1217 1522h10M1218 1518h10M1226 1521h10M1233 1516h10M1392 1521h10M1396 1515h10M1404 1523h10M1407 1523h10M1408 1518h10M1422 1525h10M1428 1523h10M1429 1521h10M1434 1516h10M1440 1515h10M4238 1523h10M4271 1519h10M4309 1521h10M4309 1523h10M4360 1522h10M4390 1517h10M4860 1522h10M4868 1520h10M4951 1521h10M4957 1519h10M4973 1518h10M4989 1524h10M4996 1516h10M4998 1522h10M5006 1519h10M5050 1524h10M1174 1534h10M1186 1531h10M1193 1529h10M1193 1525h10M1196 1526h10M1202 1526h10M1206 1530h10M1401 1535h10M1402 1532h10M1411 1530h10M1418 1525h10M1419 1533h10M1420 1525h10M1422 1530h10M4319 1534h10M4433 1528h10M4451 1534h10M4471 1533h10M4788 1529h10M4821 1529h10M4856 1525h10M4887 1533h10M4941 1532h10M4944 1530h10M4970 1534h10M4984 1525h10M5008 1533h10M5014 1534h10M5015 1525h10M5046 1532h10M5048 1526h10M5059 1532h10M1192 1543h10M1201 1536h10M1210 1544h10M1405 1537h10M1405 1540h10M1407 1543h10M1413 1539h10M1415 1543h10M1427 1536h10M4263 1535h10M4265 1536h10M4403 1544h10M4465 1542h10M4495 1536h10M4788 1540h10M4793 1539h10M4812 1542h10M4869 1538h10M4953 1536h10M4963 1535h10M4963 1540h10M4994 1538h10M4998 1539h10M5023 1542h10M1184 1546h10M1185 1547h10M1186 1551h10M1190 1548h10M1194 1550h10M1195 1554h10M1196 1547h10M1202 1549h10M1389 1545h10M1393 1546h10M1394 1546h10M1410 1551h10M1413 1546h10M1416 1549h10M4243 1553h10M4328 1553h10M4346 1547h10M4381 1545h10M4825 1547h10M4841 1550h10M4869 1554h10M4877 1549h10M4888 1548h10M4945 1551h10M5008 1550h10M5043 1552h10M5049 1549h10M1176 1555h10M1179 1562h10M1179 1563h10M1191 1555h10M1209 1560h10M1210 1558h10M1387 1556h10M1399 1565h10M1417 1557h10M4224 1561h10M4353 1563h10M4434 1559h10M4823 1561h10M4848 1564h10M4867 1562h10M4876 1560h10M4900 1561h10M4947 1558h10M4968 1561h10M5015 1562h10M5065 1556h10M1168 1571h10M1174 1567h10M1182 1572h10M1190 1568h10M1195 1573h10M1195 1568h10M1207 1567h10M1385 1567h10M1394 1568h10M1410 1569h10M4179 1570h10M4192 1574h10M4250 1565h10M4266 1571h10M4300 1574h10M4350 1565h10M4359 1574h10M4747 1571h10M4833 1574h10M4842 1569h10M4843 1574h10M4846 1568h10M4865 1568h10M4912 1565h10M4930 1572h10M4943 1572h10M4966 1575h10M4969 1566h10M4980 1574h10M5030 1569h10M1188 1575h10M1195 1578h10M1360 1584h10M1372 1579h10M1375 1585h10M1385 1576h10M1385 1582h10M1385 1576h10M1397 1576h10M1402 1576h10M1415 1581h10M4135 1585h10M4138 1576h10M4154 1584h10M4204 1585h10M4226 1578h10M4350 1580h10M4731 1576h10M4760 1578h10M4786 1578h10M4789 1578h10M4885 1578h10M4914 1577h10M4972 1576h10M4999 1576h10M1166 1588h10M1168 1593h10M1172 1589h10M1180 1595h10M1183 1587h10M1193 1594h10M1194 1594h10M1197 1590h10M1377 1589h10M1379 1592h10M1380 1587h10M1390 1589h10M1398 1589h10M1400 1588h10M1403 1588h10M4119 1590h10M4177 1595h10M4179 1587h10M4227 1589h10M4257 1586h10M4277 1586h10M4654 1588h10M4717 1589h10M4775 1586h10M4808 1586h10M4847 1587h10M4849 1585h10M4850 1586h10M4853 1593h10M4870 1587h10M4880 1588h10M4909 1590h10M4918 1588h10M4922 1594h10M4929 1589h10M4932 1590h10M4938 1592h10M4941 1594h10M4947 1589h10M4947 1592h10M4967 1587h10M4967 1589h10M1166 1602h10M1169 1603h10M1179 1596h10M1180 1604h10M1184 1603h10M1368 1597h10M1381 1602h10M1381 1596h10M1382 1597h10M1388 1603h10M1396 1599h10M1397 1595h10M1400 1600h10M4154 1599h10M4261 1604h10M4321 1603h10M4342 1595h10M4758 1600h10M4786 1597h10M4840 1604h10M4865 1595h10M4891 1605h10M4900 1604h10M4929 1596h10M4943 1597h10M4960 1597h10M4978 1600h10M4996 1601h10M5011 1597h10M5054 1596h10M1166 1613h10M1170 1609h10M1171 1606h10M1173 1611h10M1177 1614h10M1180 1606h10M1188 1610h10M1368 1609h10M1371 1608h10M1375 1609h10M1381 1611h10M1381 1605h10M1391 1607h10M1402 1609h10M4103 1608h10M4103 1611h10M4164 1612h10M4168 1614h10M4168 1612h10M4203 1613h10M4257 1608h10M4740 1611h10M4742 1606h10M4745 1610h10M4777 1615h10M4783 1607h10M4813 1608h10M4852 1614h10M5014 1612h10M1168 1621h10M1169 1625h10M1170 1618h10M1174 1622h10M1179 1618h10M1185 1619h10M1186 1623h10M1353 1624h10M1364 1621h10M1373 1617h10M1375 1620h10M1380 1623h10M1386 1616h10M4098 1623h10M4102 1616h10M4110 1622h10M4118 1621h10M4122 1617h10M4154 1623h10M4180 1624h10M4189 1616h10M4249 1624h10M4757 1618h10M4762 1623h10M4767 1623h10M4777 1616h10M4793 1624h10M4918 1623h10M4922 1623h10M4926 1621h10M1150 1630h10M1157 1634h10M1172 1630h10M1172 1629h10M1174 1626h10M1175 1630h10M1176 1631h10M1180 1631h10M1187 1626h10M1199 1632h10M1341 1626h10M1345 1630h10M1360 1627h10M1376 1633h10M1384 1633h10M4117 1626h10M4156 1626h10M4167 1626h10M4177 1625h10M4191 1629h10M4233 1632h10M4318 1627h10M4746 1635h10M4793 1627h10M4854 1633h10M4878 1632h10M4880 1630h10M4919 1625h10M5003 1629h10M5007 1626h10M1169 1644h10M1174 1645h10M1177 1644h10M1178 1643h10M1178 1639h10M1337 1641h10M1341 1639h10M1357 1645h10M1361 1644h10M1367 1642h10M1369 1640h10M1377 1637h10M4737 1642h10M4770 1641h10M4802 1637h10M4816 1643h10M4865 1635h10M4874 1638h10M4875 1639h10M4887 1643h10M4902 1635h10M4938 1636h10M4958 1639h10M4972 1635h10M5042 1640h10M1160 1655h10M1168 1649h10M1178 1654h10M1352 1645h10M1357 1646h10M1367 1647h10M4101 1650h10M4146 1651h10M4191 1653h10M4661 1645h10M4707 1647h10M4730 1645h10M4772 1647h10M4776 1654h10M4780 1651h10M4792 1653h10M4833 1654h10M4838 1648h10M4887 1646h10M4937 1652h10M4953 1650h10M1168 1662h10M1169 1661h10M1176 1656h10M1348 1664h10M1356 1660h10M1358 1662h10M1361 1663h10M1364 1659h10M1365 1655h10M1367 1657h10M1367 1658h10M1370 1657h10M1373 1661h10M4099 1664h10M4111 1657h10M4112 1662h10M4123 1661h10M4148 1658h10M4197 1663h10M4237 1662h10M4754 1663h10M4833 1661h10M4837 1665h10M4840 1662h10M4858 1661h10M4864 1659h10M4869 1663h10M4920 1662h10M4931 1663h10M4943 1655h10M1155 1666h10M1158 1669h10M1164 1669h10M1344 1666h10M1354 1671h10M1356 1668h10M1359 1670h10M1361 1675h10M1379 1667h10M4104 1674h10M4104 1672h10M4109 1668h10M4109 1670h10M4111 1671h10M4112 1672h10M4119 1671h10M4125 1666h10M4126 1670h10M4135 1668h10M4145 1673h10M4152 1672h10M4155 1672h10M4161 1668h10M4164 1670h10M4178 1674h10M4185 1668h10M4187 1674h10M4195 1670h10M4202 1668h10M4211 1673h10M4213 1673h10M4215 1669h10M4220 1672h10M4245 1672h10M4697 1673h10M4812 1670h10M4885 1669h10M4920 1674h10M4934 1669h10M5001 1670h10M1147 1681h10M1156 1677h10M1172 1681h10M1174 1678h10M1174 1678h10M1330 1680h10M1342 1682h10M1352 1681h10M1354 1685h10M1356 1676h10M1366 1681h10M4098 1682h10M4107 1679h10M4114 1677h10M4117 1677h10M4134 1682h10M4141 1679h10M4141 1684h10M4148 1676h10M4149 1681h10M4149 1678h10M4150 1679h10M4163 1675h10M4165 1680h10M4170 1685h10M4171 1680h10M4183 1683h10M4185 1680h10M4191 1677h10M4193 1679h10M4204 1677h10M4217 1680h10M4240 1682h10M4253 1676h10M4687 1682h10M4694 1680h10M4720 1679h10M4725 1683h10M4757 1680h10M4760 1684h10M4762 1679h10M4762 1685h10M4788 1680h10M4791 1675h10M4809 1682h10M4864 1681h10M4867 1683h10M4898 1676h10M4903 1683h10M1137 1687h10M1139 1694h10M1144 1691h10M1145 1694h10M1202 1689h10M1323 1690h10M1335 1690h10M1344 1687h10M1344 1690h10M1347 1694h10M1352 1693h10M1354 1693h10M1358 1687h10M4131 1694h10M4187 1690h10M4193 1687h10M4693 1685h10M4714 1686h10M4722 1690h10M4744 1690h10M4778 1694h10M4793 1693h10M4801 1694h10M4816 1691h10M4828 1690h10M4847 1694h10M4866 1687h10M4881 1687h10M4917 1693h10M4923 1692h10M4948 1693h10M4963 1686h10M4967 1693h10M4994 1687h10M1148 1705h10M1152 1698h10M1161 1697h10M1161 1701h10M1162 1702h10M1164 1700h10M1326 1705h10M1335 1701h10M1337 1704h10M1355 1702h10M4135 1695h10M4139 1701h10M4645 1697h10M4720 1704h10M4784 1698h10M4792 1704h10M4859 1705h10M4884 1701h10M4888 1699h10M4890 1696h10M4905 1696h10M4953 1705h10M5001 1700h10M1126 1711h10M1129 1714h10M1139 1706h10M1156 1712h10M1161 1707h10M1163 1714h10M1169 1707h10M1322 1713h10M1332 1712h10M1339 1710h10M1342 1713h10M1342 1711h10M1345 1707h10M4706 1712h10M4730 1707h10M4746 1712h10M4763 1708h10M4777 1708h10M4803 1707h10M4806 1708h10M4825 1709h10M4844 1708h10M4853 1715h10M4874 1712h10M4888 1713h10M4888 1707h10M4901 1708h10M4915 1705h10M4923 1711h10M4930 1713h10M4933 1709h10M4950 1713h10M4953 1714h10M1121 1724h10M1128 1715h10M1145 1720h10M1147 1723h10M1150 1724h10M1150 1719h10M1151 1721h10M1313 1722h10M1318 1723h10M1324 1724h10M1327 1720h10M1335 1718h10M1339 1716h10M1341 1719h10M1343 1718h10M4657 1724h10M4659 1720h10M4660 1719h10M4683 1717h10M4696 1722h10M4736 1717h10M4747 1724h10M4759 1718h10M4760 1717h10M4764 1720h10M4809 1716h10M4836 1717h10M4839 1720h10M4872 1721h10M4874 1724h10M4879 1719h10M4898 1717h10M4943 1725h10M1118 1729h10M1133 1734h10M1137 1732h10M1145 1732h10M1153 1731h10M1163 1734h10M1304 1725h10M1327 1728h10M1336 1733h10M1337 1726h10M1343 1729h10M4694 1733h10M4704 1725h10M4727 1728h10M4752 1727h10M4758 1725h10M4776 1731h10M4853 1732h10M4916 1726h10M1137 1738h10M1144 1738h10M1167 1738h10M1310 1745h10M1324 1745h10M1333 1735h10M1333 1740h10M1343 1735h10M4662 1743h10M4683 1735h10M4714 1744h10M4777 1739h10M4785 1737h10M4789 1736h10M4808 1741h10M4849 1738h10M4885 1738h10M4889 1744h10M4889 1737h10M1129 1750h10M1135 1752h10M1298 1754h10M1301 1745h10M1312 1745h10M1318 1747h10M1318 1754h10M1318 1752h10M1322 1755h10M4619 1753h10M4667 1755h10M4670 1753h10M4675 1750h10M4689 1746h10M4753 1752h10M4767 1750h10M4775 1749h10M4776 1749h10M4805 1752h10M4805 1746h10M4813 1754h10M4815 1751h10M4831 1753h10M4841 1748h10M4844 1749h10M4890 1752h10M4903 1749h10M1124 1758h10M1128 1761h10M1132 1759h10M1141 1760h10M1147 1762h10M1313 1762h10M1313 1760h10M1315 1761h10M1332 1764h10M4437 1758h10M4698 1759h10M4704 1764h10M4732 1763h10M4732 1756h10M4789 1759h10M4796 1760h10M4804 1759h10M4809 1760h10M4839 1763h10M4842 1759h10M4870 1763h10M4871 1756h10M4888 1760h10M4907 1763h10M4927 1759h10M1111 1771h10M1125 1773h10M1132 1770h10M1313 1774h10M1325 1770h10M1328 1772h10M1334 1771h10M4628 1769h10M4696 1768h10M4721 1773h10M4771 1775h10M4792 1770h10M4803 1772h10M4818 1770h10M4842 1768h10M4847 1766h10M4872 1771h10M4878 1768h10M4886 1770h10M4911 1765h10M4933 1770h10M1131 1785h10M1137 1778h10M1303 1780h10M1307 1778h10M1310 1778h10M1312 1780h10M1313 1777h10M1320 1778h10M1325 1776h10M1337 1776h10M4629 1782h10M4657 1778h10M4687 1782h10M4738 1778h10M4780 1779h10M4829 1780h10M4839 1783h10M4839 1776h10M4899 1784h10M4944 1777h10M4947 1778h10M4977 1781h10M1123 1793h10M1136 1791h10M1138 1795h10M1288 1791h10M1293 1787h10M1294 1789h10M1308 1786h10M1308 1794h10M1308 1791h10M1310 1792h10M1312 1793h10M1313 1792h10M1315 1789h10M1319 1786h10M1319 1787h10M1328 1792h10M4621 1789h10M4642 1786h10M4654 1786h10M4700 1787h10M4701 1793h10M4754 1791h10M4780 1794h10M4788 1787h10M4790 1794h10M1117 1797h10M1119 1801h10M1121 1797h10M1122 1803h10M1127 1800h10M1130 1804h10M1286 1799h10M1295 1800h10M1308 1801h10M1309 1803h10M1316 1801h10M1318 1804h10M4651 1802h10M4686 1802h10M4694 1805h10M4750 1797h10M4753 1796h10M4772 1796h10M4795 1799h10M4810 1796h10M4848 1805h10M4899 1803h10M4903 1802h10M1109 1814h10M1119 1813h10M1123 1810h10M1127 1814h10M1127 1805h10M1128 1813h10M1130 1805h10M1143 1808h10M1290 1814h10M1302 1806h10M1308 1814h10M1319 1806h10M4588 1812h10M4632 1807h10M4662 1813h10M4733 1806h10M4751 1813h10M4758 1814h10M4775 1809h10M4785 1812h10M4787 1806h10M4817 1812h10M4832 1813h10M4833 1812h10M4835 1814h10M4840 1806h10M4862 1809h10M4864 1812h10M4893 1811h10M4915 1811h10M1108 1825h10M1123 1823h10M1123 1817h10M1128 1816h10M1134 1822h10M1142 1819h10M1143 1818h10M1293 1819h10M1298 1819h10M1299 1820h10M1302 1816h10M1308 1819h10M1311 1825h10M1316 1824h10M1318 1822h10M1326 1819h10M4554 1818h10M4617 1824h10M4677 1815h10M4765 1822h10M4793 1815h10M4803 1823h10M4810 1819h10M4827 1824h10M4843 1820h10M4847 1815h10M1106 1835h10M1111 1830h10M1115 1828h10M1116 1834h10M1118 1832h10M1119 1826h10M1122 1835h10M1123 1829h10M1125 1831h10M1128 1828h10M1132 1833h10M1133 1826h10M1277 1826h10M1282 1834h10M1290 1833h10M1297 1831h10M1298 1833h10M1300 1828h10M1309 1831h10M4551 1828h10M4612 1827h10M4618 1832h10M4634 1830h10M4690 1831h10M4715 1828h10M4735 1831h10M4736 1831h10M4740 1835h10M4752 1831h10M4761 1832h10M4770 1833h10M4840 1831h10M4856 1828h10M4865 1828h10M4881 1833h10M1096 1840h10M1102 1843h10M1103 1836h10M1108 1843h10M1120 1835h10M1122 1837h10M1123 1843h10M1123 1843h10M1135 1843h10M1137 1837h10M1275 1839h10M1275 1840h10M1281 1837h10M1283 1838h10M1283 1835h10M1286 1842h10M1287 1840h10M1289 1843h10M1291 1843h10M1298 1845h10M1319 1838h10M4585 1837h10M4629 1844h10M4648 1836h10M4666 1843h10M4667 1840h10M4738 1838h10M4759 1842h10M4806 1840h10M4823 1838h10M4844 1838h10M4848 1837h10M4853 1845h10M4857 1841h10M4870 1839h10M4900 1844h10M1107 1855h10M1108 1845h10M1117 1848h10M1117 1850h10M1127 1855h10M1138 1852h10M1272 1845h10M1276 1847h10M1277 1851h10M1286 1855h10M1287 1847h10M1294 1847h10M4569 1855h10M4603 1852h10M4616 1849h10M4635 1846h10M4690 1847h10M4705 1848h10M4705 1847h10M4706 1847h10M4721 1848h10M4740 1848h10M4751 1851h10M4751 1846h10M4769 1850h10M4771 1848h10M4775 1853h10M4777 1854h10M4789 1852h10M4816 1846h10M4820 1853h10M4822 1850h10M4832 1853h10M4838 1852h10M4845 1854h10M4877 1848h10M4891 1849h10M1097 1856h10M1103 1859h10M1106 1861h10M1107 1858h10M1120 1860h10M1127 1858h10M1289 1860h10M1290 1860h10M1294 1857h10M1296 1861h10M1304 1864h10M4443 1858h10M4634 1860h10M4661 1863h10M4675 1855h10M4690 1860h10M4691 1861h10M4701 1865h10M4704 1865h10M4712 1855h10M4759 1860h10M4768 1863h10M4768 1855h10M4783 1864h10M4793 1857h10M4794 1859h10M4795 1855h10M4796 1857h10M4800 1861h10M4821 1864h10M4831 1857h10M4838 1856h10M4854 1858h10M1091 1873h10M1096 1870h10M1099 1875h10M1104 1869h10M1108 1870h10M1109 1868h10M1111 1872h10M1117 1871h10M1118 1874h10M1118 1868h10M1124 1874h10M1126 1866h10M1255 1869h10M1260 1871h10M1265 1870h10M1269 1869h10M1271 1870h10M1274 1874h10M1292 1868h10M1292 1869h10M1296 1872h10M1299 1868h10M4470 1866h10M4507 1872h10M4540 1872h10M4580 1875h10M4609 1867h10M4624 1874h10M4630 1874h10M4641 1867h10M4650 1869h10M4678 1874h10M4689 1875h10M4706 1866h10M4732 1875h10M4752 1874h10M4754 1875h10M4761 1871h10M4767 1867h10M4770 1874h10M4824 1865h10M4831 1871h10M4837 1867h10M4877 1868h10M1097 1882h10M1098 1878h10M1101 1877h10M1104 1884h10M1111 1878h10M1112 1875h10M1129 1875h10M1129 1878h10M1268 1879h10M1276 1883h10M1277 1885h10M1277 1876h10M1278 1879h10M1285 1877h10M1293 1883h10M4480 1881h10M4590 1885h10M4610 1881h10M4637 1875h10M4653 1885h10M4670 1878h10M4714 1880h10M4723 1881h10M4726 1883h10M4740 1878h10M4781 1880h10M4783 1881h10M4808 1880h10M4859 1881h10M1086 1886h10M1090 1893h10M1092 1895h10M1093 1891h10M1095 1894h10M1096 1890h10M1112 1893h10M1119 1893h10M1262 1891h10M1266 1891h10M1274 1893h10M1275 1889h10M1278 1891h10M1291 1891h10M4455 1893h10M4581 1892h10M4615 1887h10M4620 1891h10M4627 1888h10M4631 1893h10M4632 1887h10M4651 1886h10M4670 1886h10M4681 1888h10M4683 1890h10M4707 1894h10M4710 1888h10M4763 1886h10M4779 1887h10M4794 1889h10M4805 1895h10M4816 1894h10M4867 1889h10M1075 1899h10M1078 1900h10M1091 1904h10M1097 1904h10M1099 1900h10M1102 1899h10M1102 1903h10M1104 1901h10M1110 1900h10M1114 1896h10M1114 1901h10M1255 1903h10M1261 1901h10M1272 1900h10M1284 1898h10M4560 1898h10M4581 1900h10M4610 1901h10M4625 1902h10M4658 1898h10M4676 1897h10M4677 1899h10M4679 1904h10M4683 1895h10M4706 1898h10M4716 1898h10M4781 1904h10M4783 1899h10M4788 1903h10M4831 1900h10M4844 1905h10M1074 1915h10M1085 1910h10M1091 1912h10M1093 1915h10M1100 1912h10M1101 1908h10M1249 1914h10M1263 1915h10M1264 1912h10M1273 1909h10M4556 1906h10M4583 1915h10M4619 1907h10M4679 1905h10M4684 1906h10M4730 1913h10M4731 1911h10M4768 1911h10M4777 1908h10M4812 1909h10M4829 1912h10M4863 1907h10M1081 1916h10M1086 1916h10M1087 1923h10M1088 1923h10M1094 1916h10M1101 1916h10M1106 1917h10M1111 1916h10M1244 1918h10M1263 1925h10M1264 1923h10M1266 1920h10M1268 1919h10M1279 1922h10M1279 1918h10M1281 1919h10M4522 1915h10M4600 1925h10M4630 1920h10M4639 1919h10M4649 1918h10M4685 1918h10M4693 1922h10M4720 1919h10M4732 1918h10M4754 1915h10M4757 1915h10M4768 1922h10M4839 1923h10M1080 1927h10M1092 1929h10M1093 1928h10M1093 1929h10M1093 1931h10M1099 1932h10M1103 1925h10M1121 1932h10M1244 1929h10M1249 1933h10M1250 1925h10M1264 1925h10M1269 1930h10M1275 1930h10M4477 1931h10M4545 1925h10M4559 1932h10M4591 1933h10M4593 1926h10M4600 1933h10M4604 1926h10M4614 1931h10M4618 1929h10M4622 1934h10M4633 1928h10M4634 1926h10M4636 1932h10M4654 1930h10M4704 1929h10M4707 1931h10M4754 1926h10M4771 1926h10M4822 1935h10M4841 1928h10M1070 1943h10M1089 1942h10M1091 1940h10M1095 1942h10M1096 1940h10M1248 1945h10M1249 1938h10M1250 1940h10M1258 1938h10M1260 1944h10M1261 1936h10M1262 1945h10M1262 1944h10M1264 1935h10M1265 1937h10M1273 1944h10M1277 1941h10M4535 1938h10M4626 1941h10M4634 1943h10M4639 1940h10M4644 1937h10M4663 1939h10M4671 1939h10M4678 1944h10M4731 1944h10M4746 1943h10M4769 1940h10M4789 1936h10M4795 1937h10M4839 1940h10M4867 1938h10M4939 1941h10M1075 1951h10M1085 1952h10M1087 1947h10M1089 1954h10M1094 1950h10M1095 1954h10M1095 1951h10M1097 1949h10M1099 1945h10M1103 1946h10M1249 1948h10M1258 1947h10M1262 1950h10M1263 1952h10M1267 1952h10M1274 1949h10M4451 1954h10M4568 1948h10M4642 1947h10M4642 1946h10M4654 1951h10M4664 1950h10M4664 1947h10M4668 1946h10M4687 1951h10M4700 1947h10M4707 1953h10M4709 1948h10M4710 1947h10M4711 1954h10M4764 1950h10M4772 1955h10M4775 1949h10M4806 1947h10M4831 1949h10M1079 1957h10M1080 1962h10M1083 1956h10M1105 1959h10M1107 1956h10M1237 1959h10M1243 1965h10M1245 1964h10M1252 1963h10M1261 1963h10M4565 1958h10M4579 1965h10M4617 1962h10M4640 1958h10M4655 1964h10M4672 1957h10M4690 1959h10M4707 1955h10M4727 1956h10M4750 1961h10M4753 1965h10M4757 1961h10M4780 1957h10M4793 1958h10M4807 1959h10M1070 1968h10M1075 1970h10M1079 1968h10M1086 1974h10M1087 1975h10M1087 1969h10M1092 1973h10M1099 1968h10M1104 1970h10M1247 1966h10M1249 1968h10M1252 1971h10M1255 1969h10M1257 1970h10M1260 1968h10M1260 1974h10M4504 1965h10M4569 1975h10M4604 1970h10M4605 1972h10M4614 1971h10M4654 1968h10M4659 1972h10M4666 1966h10M4695 1968h10M4730 1970h10M4749 1966h10M4769 1967h10M4772 1974h10M4791 1967h10M4848 1971h10M1068 1976h10M1076 1980h10M1085 1976h10M1095 1985h10M1098 1977h10M1240 1982h10M1246 1977h10M1250 1983h10M1258 1978h10M1259 1975h10M1264 1978h10M4637 1983h10M4660 1982h10M4669 1979h10M4673 1976h10M4678 1984h10M4719 1981h10M4759 1976h10M4769 1980h10M4788 1983h10M4808 1976h10M4811 1978h10M4827 1976h10M4834 1983h10M4834 1979h10M4841 1979h10M4855 1979h10M1073 1989h10M1078 1994h10M1083 1994h10M1086 1989h10M1089 1989h10M1215 1987h10M1229 1988h10M1234 1994h10M1242 1986h10M1250 1991h10M1251 1995h10M1252 1990h10M1255 1989h10M1257 1991h10M1258 1992h10M4526 1986h10M4527 1994h10M4528 1991h10M4547 1994h10M4559 1994h10M4571 1988h10M4579 1990h10M4583 1992h10M4597 1987h10M4599 1990h10M4622 1993h10M4631 1987h10M4675 1988h10M4683 1986h10M4690 1991h10M4701 1987h10M4715 1989h10M4754 1991h10M4755 1992h10M4785 1986h10M4787 1985h10M4812 1992h10M4855 1991h10M4864 1994h10M1066 2001h10M1068 2001h10M1070 2005h10M1077 1998h10M1082 2004h10M1085 2003h10M1086 2002h10M1226 1996h10M1234 1999h10M1236 1995h10M1237 1998h10M1238 2004h10M1242 2003h10M1244 2004h10M1247 1996h10M1247 2002h10M1248 1998h10M1255 1996h10M1256 1999h10M1258 1996h10M1267 1995h10M4398 1996h10M4555 2001h10M4556 1996h10M4574 1999h10M4576 2004h10M4595 2002h10M4617 2003h10M4634 1999h10M4663 2002h10M4688 2000h10M4751 2000h10M4774 1995h10M4785 2002h10M4797 2000h10M4824 2001h10M1086 2007h10M1247 2006h10M1249 2012h10M1252 2006h10M1252 2008h10M1256 2008h10M1258 2008h10M4527 2008h10M4530 2007h10M4544 2011h10M4596 2015h10M4663 2011h10M4669 2012h10M4720 2010h10M4721 2010h10M4739 2006h10M4746 2015h10M4748 2014h10M4773 2005h10M4779 2006h10M4788 2007h10M4822 2010h10M4839 2009h10M1066 2021h10M1082 2016h10M1083 2017h10M1083 2018h10M1231 2023h10M1245 2025h10M4512 2025h10M4542 2019h10M4559 2017h10M4572 2021h10M4584 2017h10M4592 2017h10M4612 2017h10M4631 2017h10M4644 2017h10M4654 2016h10M4672 2018h10M4691 2015h10M4717 2023h10M4728 2016h10M4729 2021h10M4746 2023h10M4748 2017h10M4756 2025h10M4767 2023h10M4770 2021h10M4794 2019h10M4803 2017h10M4836 2021h10M1046 2031h10M1058 2032h10M1081 2030h10M1088 2032h10M1218 2029h10M1223 2029h10M1226 2033h10M1232 2030h10M1242 2028h10M1242 2028h10M1247 2027h10M1255 2033h10M4551 2035h10M4595 2028h10M4624 2030h10M4635 2027h10M4639 2026h10M4668 2035h10M4681 2028h10M4693 2034h10M4712 2026h10M4713 2031h10M4725 2033h10M4739 2031h10M4783 2027h10M4792 2029h10M4798 2028h10M4819 2027h10M1062 2037h10M1063 2044h10M1063 2039h10M1066 2043h10M1066 2035h10M1069 2036h10M1076 2038h10M1077 2040h10M1094 2041h10M1210 2036h10M1232 2036h10M1238 2039h10M1240 2042h10M1243 2036h10M1247 2042h10M1252 2044h10M4529 2041h10M4532 2040h10M4564 2037h10M4594 2040h10M4595 2042h10M4606 2045h10M4614 2036h10M4632 2037h10M4648 2037h10M4648 2041h10M4653 2038h10M4676 2042h10M4684 2042h10M4694 2044h10M4720 2040h10M4726 2040h10M4751 2044h10M4752 2038h10M4754 2044h10M4772 2040h10M4775 2042h10M4801 2043h10M4840 2036h10M4842 2043h10M1060 2053h10M1067 2047h10M1068 2053h10M1069 2054h10M1070 2055h10M1073 2045h10M1082 2049h10M1084 2045h10M1092 2052h10M1215 2049h10M1222 2045h10M1222 2051h10M1223 2053h10M1228 2054h10M1234 2053h10M1245 2051h10M4491 2046h10M4518 2047h10M4540 2054h10M4557 2054h10M4589 2045h10M4590 2046h10M4592 2045h10M4602 2048h10M4613 2046h10M4616 2048h10M4627 2047h10M4632 2048h10M4637 2053h10M4642 2052h10M4645 2046h10M4659 2046h10M4663 2049h10M4671 2054h10M4702 2053h10M4703 2052h10M4709 2048h10M4722 2049h10M4757 2045h10M4773 2045h10M4793 2048h10M4873 2048h10M1057 2061h10M1066 2059h10M1067 2061h10M1067 2063h10M1071 2064h10M1079 2058h10M1212 2063h10M1222 2056h10M1224 2055h10M1225 2062h10M1225 2060h10M1226 2064h10M1233 2056h10M1233 2065h10M1239 2061h10M4484 2064h10M4537 2065h10M4553 2059h10M4580 2060h10M4593 2059h10M4596 2064h10M4598 2063h10M4608 2059h10M4627 2060h10M4633 2056h10M4634 2062h10M4637 2056h10M4645 2063h10M4655 2058h10M4665 2064h10M4695 2059h10M4709 2057h10M4747 2063h10M4768 2062h10M4774 2064h10M4785 2061h10M1065 2071h10M1067 2074h10M1072 2068h10M1082 2069h10M1085 2066h10M1092 2071h10M1227 2070h10M1228 2066h10M1240 2065h10M1242 2071h10M1245 2067h10M1245 2066h10M4473 2067h10M4483 2069h10M4515 2066h10M4537 2072h10M4555 2074h10M4562 2074h10M4573 2072h10M4573 2068h10M4587 2073h10M4598 2066h10M4617 2070h10M4618 2074h10M4650 2073h10M4652 2066h10M4654 2071h10M4663 2072h10M4682 2066h10M4717 2069h10M4726 2073h10M4745 2075h10M4767 2075h10M1063 2084h10M1065 2081h10M1076 2083h10M1217 2085h10M1221 2083h10M1222 2076h10M1242 2083h10M4538 2083h10M4549 2085h10M4562 2076h10M4571 2084h10M4639 2076h10M4656 2080h10M4669 2080h10M4669 2084h10M4671 2083h10M4677 2078h10M4680 2080h10M4697 2080h10M4725 2081h10M4728 2084h10M4743 2079h10M4760 2083h10M4767 2077h10M4779 2083h10M1072 2088h10M1081 2088h10M1088 2095h10M1202 2093h10M1216 2092h10M1220 2089h10M1220 2086h10M1228 2090h10M1233 2089h10M4515 2094h10M4530 2091h10M4546 2087h10M4551 2092h10M4571 2088h10M4594 2093h10M4599 2089h10M4605 2087h10M4628 2094h10M4641 2094h10M4656 2093h10M4696 2093h10M4726 2091h10M4738 2087h10M4761 2088h10M4763 2086h10M4764 2089h10M4767 2087h10M4807 2089h10M1034 2103h10M1040 2102h10M1058 2102h10M1065 2102h10M1065 2103h10M1071 2103h10M1071 2097h10M1076 2105h10M1207 2101h10M1212 2100h10M1221 2100h10M1222 2102h10M1233 2100h10M1235 2095h10M4497 2101h10M4516 2098h10M4528 2096h10M4558 2103h10M4562 2099h10M4569 2100h10M4580 2100h10M4586 2103h10M4592 2103h10M4626 2102h10M4636 2099h10M4642 2103h10M4669 2099h10M4682 2103h10M4725 2100h10M4729 2097h10M4756 2103h10M4766 2095h10M4780 2100h10M1061 2106h10M1061 2114h10M1069 2112h10M1075 2106h10M1076 2105h10M1078 2112h10M1085 2107h10M1099 2113h10M1184 2106h10M1209 2107h10M1215 2106h10M1215 2107h10M1223 2105h10M1227 2106h10M1227 2112h10M4373 2114h10M4467 2115h10M4491 2112h10M4522 2107h10M4529 2109h10M4559 2110h10M4560 2110h10M4564 2113h10M4567 2107h10M4574 2112h10M4615 2114h10M4625 2112h10M4665 2106h10M4684 2111h10M4690 2106h10M4708 2108h10M4718 2111h10M4742 2111h10M4752 2109h10M4763 2109h10M4774 2111h10M4790 2110h10M1039 2116h10M1046 2124h10M1049 2122h10M1052 2123h10M1056 2116h10M1056 2124h10M1060 2124h10M1064 2121h10M1067 2121h10M1072 2119h10M1197 2122h10M1207 2117h10M1207 2121h10M1220 2117h10M1221 2124h10M1225 2121h10M4458 2115h10M4506 2123h10M4509 2122h10M4512 2116h10M4522 2116h10M4538 2117h10M4550 2117h10M4573 2123h10M4587 2116h10M4591 2125h10M4612 2118h10M4625 2117h10M4628 2118h10M4641 2121h10M4650 2117h10M4653 2121h10M4654 2120h10M4672 2120h10M4678 2120h10M4679 2121h10M4698 2119h10M4731 2121h10M4776 2122h10M4805 2123h10M4812 2121h10M1050 2134h10M1060 2125h10M1060 2129h10M1068 2131h10M1071 2127h10M1075 2127h10M1211 2133h10M1214 2128h10M1214 2135h10M1217 2126h10M1220 2133h10M1229 2127h10M1239 2129h10M4506 2134h10M4524 2125h10M4558 2125h10M4577 2130h10M4594 2133h10M4594 2130h10M4612 2132h10M4637 2132h10M4673 2134h10M4688 2133h10M4702 2128h10M4705 2126h10M4707 2133h10M4708 2127h10M4709 2128h10M4742 2132h10M4757 2129h10M4775 2133h10M4809 2129h10M1041 2137h10M1048 2141h10M1049 2136h10M1051 2142h10M1053 2144h10M1054 2135h10M1055 2139h10M1066 2140h10M1075 2143h10M1187 2140h10M1191 2141h10M1199 2139h10M1203 2144h10M1204 2144h10M1211 2140h10M1211 2138h10M1215 2141h10M1217 2141h10M1218 2136h10M1219 2139h10M1220 2138h10M1227 2142h10M1233 2137h10M1233 2137h10M4445 2140h10M4460 2139h10M4520 2144h10M4530 2144h10M4542 2144h10M4546 2142h10M4547 2141h10M4568 2141h10M4580 2139h10M4585 2136h10M4596 2135h10M4618 2142h10M4623 2144h10M4624 2140h10M4636 2139h10M4671 2136h10M4671 2135h10M4677 2145h10M4679 2139h10M4686 2138h10M4693 2144h10M4708 2140h10M4738 2139h10M4757 2141h10M1042 2153h10M1057 2147h10M1060 2146h10M1060 2152h10M1197 2145h10M1209 2151h10M1210 2154h10M1212 2154h10M1225 2151h10M1230 2152h10M1232 2150h10M1237 2149h10M1248 2146h10M4458 2152h10M4467 2147h10M4522 2151h10M4535 2145h10M4554 2145h10M4562 2146h10M4568 2145h10M4588 2148h10M4596 2151h10M4598 2153h10M4604 2148h10M4620 2147h10M4633 2147h10M4637 2152h10M4655 2148h10M4673 2150h10M4677 2147h10M4678 2146h10M4680 2145h10M4686 2146h10M4693 2152h10M4699 2150h10M4705 2150h10M4736 2152h10M4747 2147h10M4748 2153h10M4779 2149h10M1035 2163h10M1045 2159h10M1049 2156h10M1049 2159h10M1050 2156h10M1053 2159h10M1056 2160h10M1057 2163h10M1057 2158h10M1059 2155h10M1062 2162h10M1080 2163h10M1202 2163h10M1203 2157h10M1208 2160h10M1215 2160h10M4472 2160h10M4472 2156h10M4490 2159h10M4494 2161h10M4500 2159h10M4503 2156h10M4503 2158h10M4524 2161h10M4525 2163h10M4556 2162h10M4571 2156h10M4588 2163h10M4608 2156h10M4629 2156h10M4669 2161h10M4676 2163h10M4676 2158h10M4724 2159h10M4730 2165h10M4737 2158h10M4739 2162h10M4754 2161h10M4758 2157h10M4769 2161h10M4800 2160h10M1039 2175h10M1040 2168h10M1040 2171h10M1044 2167h10M1048 2174h10M1051 2171h10M1056 2165h10M1065 2172h10M1072 2171h10M1205 2171h10M1205 2167h10M4454 2169h10M4461 2168h10M4513 2172h10M4517 2171h10M4611 2172h10M4617 2171h10M4641 2169h10M4645 2167h10M4648 2168h10M4652 2170h10M4656 2166h10M4668 2170h10M4675 2165h10M4684 2167h10M4686 2171h10M4691 2175h10M4731 2166h10M4733 2166h10M4740 2171h10M4756 2172h10M1053 2178h10M1062 2178h10M1063 2183h10M1197 2177h10M1200 2178h10M1202 2178h10M1207 2178h10M1209 2181h10M1211 2184h10M4389 2181h10M4454 2176h10M4464 2182h10M4488 2181h10M4508 2184h10M4513 2184h10M4543 2176h10M4553 2185h10M4563 2176h10M4575 2185h10M4619 2180h10M4638 2183h10M4663 2176h10M4671 2182h10M4732 2179h10M4742 2183h10M4789 2181h10M1057 2190h10M1185 2188h10M1192 2185h10M1194 2192h10M1196 2189h10M1201 2188h10M1203 2186h10M1203 2195h10M1214 2194h10M1216 2188h10M1226 2187h10M4462 2192h10M4500 2195h10M4508 2187h10M4535 2190h10M4545 2187h10M4547 2192h10M4554 2188h10M4561 2190h10M4565 2186h10M4574 2188h10M4578 2191h10M4583 2187h10M4584 2191h10M4589 2187h10M4592 2190h10M4622 2192h10M4640 2194h10M4650 2186h10M4657 2188h10M4658 2187h10M4712 2188h10M4749 2195h10M4760 2193h10M1034 2204h10M1042 2196h10M1042 2204h10M1046 2199h10M1048 2204h10M1053 2203h10M1054 2195h10M1188 2203h10M1189 2201h10M1193 2199h10M1194 2201h10M1195 2195h10M1203 2200h10M1208 2197h10M1212 2199h10M1221 2196h10M4420 2197h10M4431 2204h10M4450 2197h10M4456 2204h10M4456 2198h10M4463 2199h10M4474 2201h10M4493 2204h10M4498 2199h10M4500 2199h10M4526 2196h10M4530 2196h10M4554 2196h10M4563 2198h10M4578 2200h10M4591 2204h10M4595 2201h10M4610 2204h10M4611 2198h10M4629 2204h10M4670 2204h10M4670 2200h10M4677 2200h10M4678 2201h10M4679 2201h10M4737 2197h10M4774 2200h10M4809 2196h10M1019 2206h10M1029 2207h10M1042 2209h10M1049 2212h10M1055 2214h10M1184 2206h10M1185 2210h10M1191 2206h10M1194 2211h10M1208 2209h10M1210 2214h10M1211 2214h10M1215 2205h10M1215 2210h10M1218 2206h10M4479 2206h10M4483 2214h10M4495 2206h10M4498 2211h10M4506 2214h10M4509 2208h10M4540 2214h10M4543 2214h10M4562 2214h10M4571 2211h10M4585 2209h10M4588 2209h10M4610 2205h10M4640 2209h10M4641 2215h10M4644 2208h10M4675 2206h10M4676 2211h10M4689 2208h10M4705 2211h10M4705 2211h10M4707 2208h10M4716 2206h10M4734 2205h10M4750 2207h10M4770 2207h10M1037 2216h10M1038 2224h10M1051 2223h10M1188 2220h10M1192 2215h10M1204 2221h10M1204 2216h10M1213 2221h10M4426 2220h10M4436 2222h10M4481 2224h10M4504 2219h10M4517 2220h10M4518 2223h10M4520 2224h10M4537 2223h10M4539 2223h10M4551 2220h10M4554 2216h10M4570 2221h10M4589 2216h10M4597 2223h10M4622 2220h10M4635 2217h10M4643 2222h10M4648 2223h10M4660 2223h10M4661 2224h10M4685 2222h10M4739 2219h10M4750 2216h10M4781 2216h10M1036 2234h10M1040 2228h10M1041 2232h10M1042 2228h10M1046 2230h10M1047 2234h10M1048 2233h10M1049 2229h10M1050 2230h10M1054 2226h10M1190 2229h10M1199 2232h10M1205 2234h10M1208 2232h10M4432 2235h10M4459 2231h10M4488 2234h10M4490 2233h10M4506 2226h10M4506 2231h10M4531 2227h10M4542 2235h10M4551 2231h10M4558 2228h10M4561 2227h10M4561 2235h10M4566 2235h10M4588 2226h10M4593 2229h10M4599 2227h10M4609 2230h10M4644 2229h10M4696 2229h10M4724 2225h10M4731 2234h10M4732 2230h10M1027 2235h10M1039 2235h10M1051 2238h10M1053 2235h10M1174 2238h10M1175 2239h10M1179 2242h10M1195 2242h10M1199 2243h10M4353 2242h10M4363 2236h10M4384 2235h10M4438 2242h10M4449 2235h10M4461 2244h10M4465 2245h10M4485 2244h10M4517 2235h10M4524 2241h10M4527 2236h10M4530 2243h10M4545 2240h10M4546 2236h10M4556 2238h10M4561 2241h10M4572 2243h10M4581 2243h10M4582 2236h10M4585 2239h10M4600 2238h10M4605 2241h10M4606 2244h10M4643 2237h10M4691 2237h10M4697 2242h10M4701 2240h10M4710 2241h10M4724 2241h10M4724 2240h10M1025 2252h10M1025 2250h10M1029 2251h10M1030 2249h10M1034 2248h10M1036 2255h10M1039 2248h10M1055 2246h10M1169 2247h10M1181 2249h10M1190 2252h10M1192 2246h10M4403 2249h10M4412 2247h10M4421 2249h10M4478 2251h10M4508 2253h10M4508 2248h10M4518 2250h10M4518 2251h10M4527 2247h10M4544 2254h10M4546 2249h10M4551 2246h10M4567 2245h10M4581 2254h10M4589 2247h10M4621 2249h10M4641 2246h10M4664 2254h10M4690 2254h10M4715 2249h10M4743 2248h10M4792 2246h10M1034 2257h10M1036 2257h10M1045 2255h10M1170 2257h10M1178 2257h10M1181 2257h10M1188 2257h10M4432 2255h10M4488 2259h10M4522 2259h10M4599 2257h10M4603 2256h10M4680 2259h10M4683 2258h10M4688 2258h10M4689 2257h10M4742 2256h10" stroke="#747474" stroke-opacity="0.42" stroke-width="10" fill="none"/>
</g>
<path d="M113.9 68.7L119.5 64.2M123.3 60.8L128.5 57.3L133.0 54.0L137.2 51.0M142.1 47.7L148.4 43.3M151.7 40.6L158.4 36.5M163.4 34.3L170.1 31.5M174.5 30.4L181.2 28.8M186.8 28.0L194.0 27.6M199.6 27.6L206.1 27.8" stroke="#2424ff" stroke-width="1.8" fill="none" stroke-linecap="butt" stroke-linejoin="round"/>
<path d="M130.2 85.6L136.4 81.2M138.6 78.9L146.0 75.2L153.6 71.7M158.1 69.3L164.8 66.1M168.1 64.4L175.5 61.3M180.0 59.6L187.3 58.0M193.1 57.1L200.1 56.6M205.6 56.3L212.6 56.3M217.9 56.6L223.7 57.1" stroke="#ff2424" stroke-width="1.8" fill="none" stroke-linecap="butt" stroke-linejoin="round"/>
<path d="M464.2 133.5 L565.7 48.9" stroke="#2424ff" stroke-width="1.65" fill="none" stroke-dasharray="8 4.3" stroke-dashoffset="6.04"/>
<path d="M478.3 130.5 L577.9 48.9" stroke="#ff2424" stroke-width="1.65" fill="none" stroke-dasharray="8 4.3" stroke-dashoffset="9.6"/>
<polygon points="117.5,49.3 162.6,23 217.8,18 217.8,40.7 181.5,49.3 137.9,89.1" fill="none" stroke="#111" stroke-width="1.2"/>
<circle cx="117.5" cy="49.3" r="1.7" fill="#111"/>
<circle cx="162.6" cy="23" r="1.7" fill="#111"/>
<circle cx="217.8" cy="18" r="1.7" fill="#111"/>
<circle cx="217.8" cy="40.7" r="1.7" fill="#111"/>
<circle cx="181.5" cy="49.3" r="1.7" fill="#111"/>
<circle cx="137.9" cy="89.1" r="1.7" fill="#111"/>
<polygon points="462.2,122.7 514.6,45.5 544.8,69.8 495.4,124.8" fill="none" stroke="#111" stroke-width="1.2"/>
<circle cx="462.2" cy="122.7" r="1.7" fill="#111"/>
<circle cx="514.6" cy="45.5" r="1.7" fill="#111"/>
<circle cx="544.8" cy="69.8" r="1.7" fill="#111"/>
<circle cx="495.4" cy="124.8" r="1.7" fill="#111"/>
<rect x="52.5" y="0.6" width="291.8" height="226.0" fill="none" stroke="#111" stroke-width="1.3"/>
<rect x="408.8" y="0.6" width="291.7" height="226.2" fill="none" stroke="#111" stroke-width="1.3"/>
<path d="M89.60 226.6v-7.0M89.60 0.6v7.0M157.50 226.6v-7.0M157.50 0.6v7.0M225.40 226.6v-7.0M225.40 0.6v7.0M293.30 226.6v-7.0M293.30 0.6v7.0M55.65 226.6v-3.6M55.65 0.6v3.6M72.62 226.6v-3.6M72.62 0.6v3.6M106.57 226.6v-3.6M106.57 0.6v3.6M123.55 226.6v-3.6M123.55 0.6v3.6M140.53 226.6v-3.6M140.53 0.6v3.6M174.47 226.6v-3.6M174.47 0.6v3.6M191.45 226.6v-3.6M191.45 0.6v3.6M208.43 226.6v-3.6M208.43 0.6v3.6M242.38 226.6v-3.6M242.38 0.6v3.6M259.35 226.6v-3.6M259.35 0.6v3.6M276.33 226.6v-3.6M276.33 0.6v3.6M310.27 226.6v-3.6M310.27 0.6v3.6M327.25 226.6v-3.6M327.25 0.6v3.6M344.23 226.6v-3.6M344.23 0.6v3.6M52.5 10.85h7.0M344.3 10.85h-7.0M52.5 62.26h7.0M344.3 62.26h-7.0M52.5 113.67h7.0M344.3 113.67h-7.0M52.5 165.08h7.0M344.3 165.08h-7.0M52.5 216.49h7.0M344.3 216.49h-7.0M52.5 0.57h3.6M344.3 0.57h-3.6M52.5 21.13h3.6M344.3 21.13h-3.6M52.5 31.41h3.6M344.3 31.41h-3.6M52.5 41.70h3.6M344.3 41.70h-3.6M52.5 51.98h3.6M344.3 51.98h-3.6M52.5 72.54h3.6M344.3 72.54h-3.6M52.5 82.82h3.6M344.3 82.82h-3.6M52.5 93.11h3.6M344.3 93.11h-3.6M52.5 103.39h3.6M344.3 103.39h-3.6M52.5 123.95h3.6M344.3 123.95h-3.6M52.5 134.23h3.6M344.3 134.23h-3.6M52.5 144.52h3.6M344.3 144.52h-3.6M52.5 154.80h3.6M344.3 154.80h-3.6M52.5 175.36h3.6M344.3 175.36h-3.6M52.5 185.64h3.6M344.3 185.64h-3.6M52.5 195.93h3.6M344.3 195.93h-3.6M52.5 206.21h3.6M344.3 206.21h-3.6M52.5 226.77h3.6M344.3 226.77h-3.6" stroke="#111" stroke-width="1.3" fill="none"/>
<path d="M447.80 226.8v-7.0M447.80 0.6v7.0M533.40 226.8v-7.0M533.40 0.6v7.0M619.00 226.8v-7.0M619.00 0.6v7.0M426.40 226.8v-3.6M426.40 0.6v3.6M469.20 226.8v-3.6M469.20 0.6v3.6M490.60 226.8v-3.6M490.60 0.6v3.6M512.00 226.8v-3.6M512.00 0.6v3.6M554.80 226.8v-3.6M554.80 0.6v3.6M576.20 226.8v-3.6M576.20 0.6v3.6M597.60 226.8v-3.6M597.60 0.6v3.6M640.40 226.8v-3.6M640.40 0.6v3.6M661.80 226.8v-3.6M661.80 0.6v3.6M683.20 226.8v-3.6M683.20 0.6v3.6M408.8 43.70h7.0M700.5 43.70h-7.0M408.8 87.45h7.0M700.5 87.45h-7.0M408.8 131.20h7.0M700.5 131.20h-7.0M408.8 174.95h7.0M700.5 174.95h-7.0M408.8 218.70h7.0M700.5 218.70h-7.0M408.8 -0.05h3.6M700.5 -0.05h-3.6M408.8 8.70h3.6M700.5 8.70h-3.6M408.8 17.45h3.6M700.5 17.45h-3.6M408.8 26.20h3.6M700.5 26.20h-3.6M408.8 34.95h3.6M700.5 34.95h-3.6M408.8 52.45h3.6M700.5 52.45h-3.6M408.8 61.20h3.6M700.5 61.20h-3.6M408.8 69.95h3.6M700.5 69.95h-3.6M408.8 78.70h3.6M700.5 78.70h-3.6M408.8 96.20h3.6M700.5 96.20h-3.6M408.8 104.95h3.6M700.5 104.95h-3.6M408.8 113.70h3.6M700.5 113.70h-3.6M408.8 122.45h3.6M700.5 122.45h-3.6M408.8 139.95h3.6M700.5 139.95h-3.6M408.8 148.70h3.6M700.5 148.70h-3.6M408.8 157.45h3.6M700.5 157.45h-3.6M408.8 166.20h3.6M700.5 166.20h-3.6M408.8 183.70h3.6M700.5 183.70h-3.6M408.8 192.45h3.6M700.5 192.45h-3.6M408.8 201.20h3.6M700.5 201.20h-3.6M408.8 209.95h3.6M700.5 209.95h-3.6M408.8 227.45h3.6M700.5 227.45h-3.6" stroke="#111" stroke-width="1.3" fill="none"/>
<text transform="translate(34.40 16.40) scale(1.200 1.050)" font-family='"Liberation Serif", serif' font-weight="normal" font-style="normal" font-size="15.5" fill="#000" stroke="#000" stroke-width="0.05">0</text>
<text transform="translate(20.40 67.60) scale(1.200 1.050)" font-family='"Liberation Serif", serif' font-weight="normal" font-style="normal" font-size="15.5" fill="#000" stroke="#000" stroke-width="0.05">0.5</text>
<text transform="translate(34.10 119.23) scale(1.200 1.050)" font-family='"Liberation Serif", serif' font-weight="normal" font-style="normal" font-size="15.5" fill="#000" stroke="#000" stroke-width="0.05">1</text>
<text transform="translate(20.40 170.70) scale(1.200 1.050)" font-family='"Liberation Serif", serif' font-weight="normal" font-style="normal" font-size="15.5" fill="#000" stroke="#000" stroke-width="0.05">1.5</text>
<text transform="translate(34.70 221.98) scale(1.200 1.050)" font-family='"Liberation Serif", serif' font-weight="normal" font-style="normal" font-size="15.5" fill="#000" stroke="#000" stroke-width="0.05">2</text>
<text transform="translate(85.00 243.88) scale(1.200 1.050)" font-family='"Liberation Serif", serif' font-weight="normal" font-style="normal" font-size="15.5" fill="#000" stroke="#000" stroke-width="0.05">2</text>
<text transform="translate(152.70 243.88) scale(1.200 1.050)" font-family='"Liberation Serif", serif' font-weight="normal" font-style="normal" font-size="15.5" fill="#000" stroke="#000" stroke-width="0.05">4</text>
<text transform="translate(220.55 243.75) scale(1.200 1.050)" font-family='"Liberation Serif", serif' font-weight="normal" font-style="normal" font-size="15.5" fill="#000" stroke="#000" stroke-width="0.05">6</text>
<text transform="translate(288.65 243.75) scale(1.200 1.050)" font-family='"Liberation Serif", serif' font-weight="normal" font-style="normal" font-size="15.5" fill="#000" stroke="#000" stroke-width="0.05">8</text>
<text transform="translate(390.80 49.15) scale(1.200 1.050)" font-family='"Liberation Serif", serif' font-weight="normal" font-style="normal" font-size="15.5" fill="#000" stroke="#000" stroke-width="0.05">3</text>
<text transform="translate(391.10 93.18) scale(1.200 1.050)" font-family='"Liberation Serif", serif' font-weight="normal" font-style="normal" font-size="15.5" fill="#000" stroke="#000" stroke-width="0.05">2</text>
<text transform="translate(391.40 137.08) scale(1.200 1.050)" font-family='"Liberation Serif", serif' font-weight="normal" font-style="normal" font-size="15.5" fill="#000" stroke="#000" stroke-width="0.05">1</text>
<text transform="translate(390.70 180.35) scale(1.200 1.050)" font-family='"Liberation Serif", serif' font-weight="normal" font-style="normal" font-size="15.5" fill="#000" stroke="#000" stroke-width="0.05">0</text>
<text transform="translate(390.90 224.28) scale(1.200 1.050)" font-family='"Liberation Serif", serif' font-weight="normal" font-style="normal" font-size="15.5" fill="#000" stroke="#000" stroke-width="0.05">1</text>
<text transform="translate(435.90 243.90) scale(1.200 1.050)" font-family='"Liberation Serif", serif' font-weight="normal" font-style="normal" font-size="15.5" fill="#000" stroke="#000" stroke-width="0.05">0.6</text>
<text transform="translate(521.55 243.90) scale(1.200 1.050)" font-family='"Liberation Serif", serif' font-weight="normal" font-style="normal" font-size="15.5" fill="#000" stroke="#000" stroke-width="0.05">0.8</text>
<text transform="translate(614.20 244.03) scale(1.200 1.050)" font-family='"Liberation Serif", serif' font-weight="normal" font-style="normal" font-size="15.5" fill="#000" stroke="#000" stroke-width="0.05">1</text>
<text transform="translate(141.62 263.40) scale(0.752 1.008)" font-family='"Liberation Serif", serif' font-weight="normal" font-style="normal" font-size="19.8" fill="#000" stroke="#000" stroke-width="0.3">M</text>
<text transform="translate(155.40 268.44) scale(1.031 0.925)" font-family='"Liberation Serif", serif' font-weight="normal" font-style="normal" font-size="11.2" fill="#000" stroke="#000" stroke-width="0.45">F275W</text>
<text transform="translate(192.02 266.50) scale(1.312 1.600)" font-family='"Liberation Serif", serif' font-weight="normal" font-style="normal" font-size="17" fill="#000">−</text>
<text transform="translate(206.12 263.40) scale(0.752 1.008)" font-family='"Liberation Serif", serif' font-weight="normal" font-style="normal" font-size="19.8" fill="#000" stroke="#000" stroke-width="0.3">M</text>
<text transform="translate(220.20 268.45) scale(1.031 0.897)" font-family='"Liberation Serif", serif' font-weight="normal" font-style="normal" font-size="11.2" fill="#000" stroke="#000" stroke-width="0.45">F814W</text>
<text transform="translate(497.92 263.40) scale(0.752 1.008)" font-family='"Liberation Serif", serif' font-weight="normal" font-style="normal" font-size="19.8" fill="#000" stroke="#000" stroke-width="0.3">M</text>
<text transform="translate(512.00 268.45) scale(1.031 0.897)" font-family='"Liberation Serif", serif' font-weight="normal" font-style="normal" font-size="11.2" fill="#000" stroke="#000" stroke-width="0.45">F606W</text>
<text transform="translate(548.62 266.50) scale(1.312 1.600)" font-family='"Liberation Serif", serif' font-weight="normal" font-style="normal" font-size="17" fill="#000">−</text>
<text transform="translate(561.82 263.40) scale(0.752 1.008)" font-family='"Liberation Serif", serif' font-weight="normal" font-style="normal" font-size="19.8" fill="#000" stroke="#000" stroke-width="0.3">M</text>
<text transform="translate(577.00 268.45) scale(1.031 0.897)" font-family='"Liberation Serif", serif' font-weight="normal" font-style="normal" font-size="11.2" fill="#000" stroke="#000" stroke-width="0.45">F814W</text>
<text transform="rotate(-90) translate(-138.47 13.40) scale(0.734 1.031)" font-family='"Liberation Serif", serif' font-weight="normal" font-style="normal" font-size="19.8" fill="#000" stroke="#000" stroke-width="0.3">M</text>
<text transform="rotate(-90) translate(-124.00 17.83) scale(1.037 0.938)" font-family='"Liberation Serif", serif' font-weight="normal" font-style="normal" font-size="11.2" fill="#000" stroke="#000" stroke-width="0.45">F336W</text>
<text transform="rotate(-90) translate(-138.47 363.50) scale(0.734 1.031)" font-family='"Liberation Serif", serif' font-weight="normal" font-style="normal" font-size="19.8" fill="#000" stroke="#000" stroke-width="0.3">M</text>
<text transform="rotate(-90) translate(-123.60 368.03) scale(1.034 0.933)" font-family='"Liberation Serif", serif' font-weight="normal" font-style="normal" font-size="11.2" fill="#000" stroke="#000" stroke-width="0.45">F814W</text>
<text transform="translate(214.90 148.56) scale(0.789 0.973)" font-family='"Liberation Serif", serif' font-weight="normal" font-style="normal" font-size="13.6" fill="#000" stroke="#000" stroke-width="0.4">N</text>
<text transform="translate(223.40 152.30) scale(0.963 0.784)" font-family='"Liberation Sans", serif' font-weight="bold" font-style="normal" font-size="8" fill="#000" stroke="#000" stroke-width="0.35">sim</text>
<text transform="translate(238.36 148.89) scale(0.957 0.875)" font-family='"Liberation Serif", serif' font-weight="normal" font-style="normal" font-size="13.6" fill="#000" stroke="#000" stroke-width="0.7">=</text>
<text transform="translate(252.78 148.89) scale(1.039 0.978)" font-family='"Liberation Sans", serif' font-weight="normal" font-style="normal" font-size="13.3" fill="#000" stroke="#000" stroke-width="0.3">50,000</text>
<text transform="translate(215.10 171.30) scale(1.145 0.815)" font-family='"Liberation Serif", serif' font-weight="normal" font-style="italic" font-size="13.6" fill="#000" stroke="#000" stroke-width="0.4">τ</text>
<text transform="translate(222.50 172.12) scale(1.186 0.850)" font-family='"Liberation Serif", serif' font-weight="normal" font-style="normal" font-size="13.6" fill="#000" stroke="#000" stroke-width="0.7">=</text>
<text transform="translate(232.44 172.06) scale(0.965 0.968)" font-family='"Liberation Serif", serif' font-weight="normal" font-style="normal" font-size="13.6" fill="#000" stroke="#000" stroke-width="0.4" letter-spacing="0.6">12.5</text>
<text transform="translate(261.75 171.78) scale(1.000 0.939)" font-family='"Liberation Serif", serif' font-weight="normal" font-style="normal" font-size="13.6" fill="#000" stroke="#000" stroke-width="0.4">Gyr</text>
<text transform="translate(214.33 195.57) scale(1.025 1.113)" font-family='"Liberation Serif", serif' font-weight="normal" font-style="normal" font-size="13.6" fill="#000" stroke="#000" stroke-width="0.4" letter-spacing="1.1">[Fe/H]=</text>
<text transform="translate(269.19 195.86) scale(1.016 0.958)" font-family='"Liberation Serif", serif' font-weight="normal" font-style="normal" font-size="13.6" fill="#0000ff" stroke="#0000ff" stroke-width="0.25" letter-spacing="0.9">−1.80</text>
<text transform="translate(214.33 214.77) scale(1.025 1.113)" font-family='"Liberation Serif", serif' font-weight="normal" font-style="normal" font-size="13.6" fill="#000" stroke="#000" stroke-width="0.4" letter-spacing="1.1">[Fe/H]=</text>
<text transform="translate(269.19 215.06) scale(1.016 0.958)" font-family='"Liberation Serif", serif' font-weight="normal" font-style="normal" font-size="13.6" fill="#ff0000" stroke="#ff0000" stroke-width="0.25" letter-spacing="0.9">−1.50</text>
<text transform="translate(495.23 195.61) scale(1.021 1.096)" font-family='"Liberation Serif", serif' font-weight="normal" font-style="normal" font-size="13.6" fill="#000" stroke="#000" stroke-width="0.4" letter-spacing="1.1">[Fe/H]=</text>
<text transform="translate(550.30 195.86) scale(0.999 0.958)" font-family='"Liberation Serif", serif' font-weight="normal" font-style="normal" font-size="13.6" fill="#0000ff" stroke="#0000ff" stroke-width="0.25" letter-spacing="0.9">−1.80</text>
<text transform="translate(602.30 195.48) scale(1.183 0.874)" font-family='"Liberation Serif", serif' font-weight="normal" font-style="italic" font-size="13.6" fill="#000" stroke="#000" stroke-width="0.4">c</text>
<text transform="translate(630.67 195.96) scale(0.903 0.944)" font-family='"Liberation Sans", serif' font-weight="normal" font-style="normal" font-size="13.3" fill="#000" stroke="#000" stroke-width="0.55">99%</text>
<text transform="translate(495.23 214.61) scale(1.021 1.096)" font-family='"Liberation Serif", serif' font-weight="normal" font-style="normal" font-size="13.6" fill="#000" stroke="#000" stroke-width="0.4" letter-spacing="1.1">[Fe/H]=</text>
<text transform="translate(550.30 214.86) scale(0.999 0.958)" font-family='"Liberation Serif", serif' font-weight="normal" font-style="normal" font-size="13.6" fill="#ff0000" stroke="#ff0000" stroke-width="0.25" letter-spacing="0.9">−1.50</text>
<text transform="translate(602.30 214.48) scale(1.183 0.874)" font-family='"Liberation Serif", serif' font-weight="normal" font-style="italic" font-size="13.6" fill="#000" stroke="#000" stroke-width="0.4">c</text>
<text transform="translate(630.67 214.96) scale(0.903 0.944)" font-family='"Liberation Sans", serif' font-weight="normal" font-style="normal" font-size="13.3" fill="#000" stroke="#000" stroke-width="0.55">50%</text>
<path d="M616.9 191.0C617.6 188.5 619.6 188.6 620.8 190.0S623.8 191.9 624.6 189.3" stroke="#000" stroke-width="1.5" fill="none"/>
<rect x="617.1" y="192.8" width="7.7" height="1.25" fill="#000"/>
<path d="M616.9 210.0C617.6 207.5 619.6 207.6 620.8 209.0S623.8 210.9 624.6 208.3" stroke="#000" stroke-width="1.5" fill="none"/>
<rect x="617.1" y="211.8" width="7.7" height="1.25" fill="#000"/>
<rect x="380.6" y="43.80" width="8.5" height="1.25" fill="#000"/>
<rect x="380.6" y="87.55" width="8.5" height="1.25" fill="#000"/>
<rect x="380.6" y="131.30" width="8.5" height="1.25" fill="#000"/>
<circle cx="225.3" cy="141.9" r="0.95" fill="#000"/>
</svg>
</body></html>
